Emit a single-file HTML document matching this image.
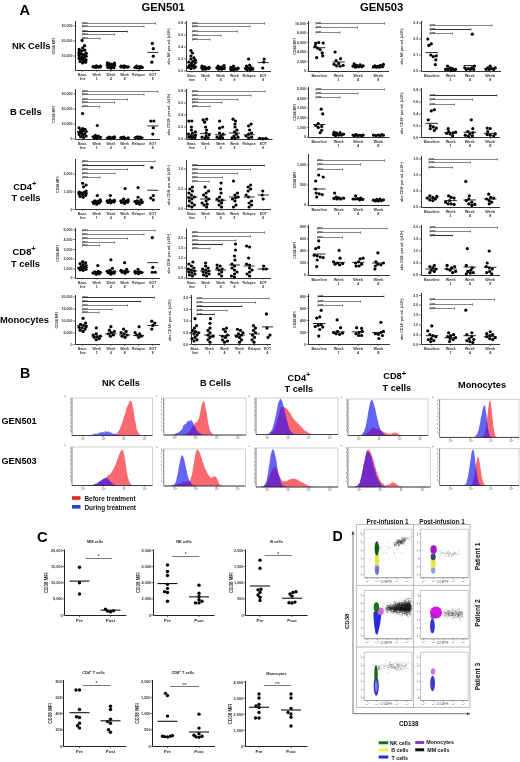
<!DOCTYPE html>
<html><head><meta charset="utf-8"><title>Figure</title>
<style>html,body{margin:0;padding:0;background:#fff;}svg{display:block;filter:blur(0.3px);}text{font-family:"Liberation Sans", sans-serif;}</style>
</head><body>
<svg width="520" height="762" viewBox="0 0 520 762" font-family='"Liberation Sans", sans-serif'>
<rect width="520" height="762" fill="#fff"/>
<text x="19.6" y="15.4" font-size="14.6" font-weight="bold" text-anchor="start" fill="#000">A</text>
<text x="163.2" y="11.4" font-size="11.3" font-weight="bold" text-anchor="middle" fill="#000">GEN501</text>
<text x="381.7" y="11.4" font-size="11.3" font-weight="bold" text-anchor="middle" fill="#000">GEN503</text>
<text x="31.2" y="48.7" font-size="9.4" font-weight="bold" text-anchor="middle" fill="#000">NK Cells</text>
<text x="25.8" y="114.8" font-size="9.4" font-weight="bold" text-anchor="middle" fill="#000">B Cells</text>
<text x="13.2" y="189.5" font-size="9.4" font-weight="bold" text-anchor="start" fill="#000">CD4<tspan font-size="7.5" dy="-3.6">+</tspan></text>
<text x="11.4" y="200.5" font-size="9.4" font-weight="bold" text-anchor="start" fill="#000">T cells</text>
<text x="12.6" y="254.9" font-size="9.4" font-weight="bold" text-anchor="start" fill="#000">CD8<tspan font-size="7.5" dy="-3.6">+</tspan></text>
<text x="10.9" y="266.5" font-size="9.4" font-weight="bold" text-anchor="start" fill="#000">T cells</text>
<text x="24.5" y="322.5" font-size="9.4" font-weight="bold" text-anchor="middle" fill="#000">Monocytes</text>
<line x1="75.5" y1="21" x2="75.5" y2="70.5" stroke="#333" stroke-width="1"/>
<line x1="75.5" y1="70.5" x2="160" y2="70.5" stroke="#333" stroke-width="1"/>
<line x1="73.4" y1="26" x2="75.4" y2="26" stroke="#333" stroke-width="0.7"/>
<text x="72.6" y="27.3" font-size="3.6" font-weight="bold" text-anchor="end" fill="#333">30,000</text>
<line x1="73.4" y1="41" x2="75.4" y2="41" stroke="#333" stroke-width="0.7"/>
<text x="72.6" y="42.3" font-size="3.6" font-weight="bold" text-anchor="end" fill="#333">20,000</text>
<line x1="73.4" y1="56" x2="75.4" y2="56" stroke="#333" stroke-width="0.7"/>
<text x="72.6" y="57.3" font-size="3.6" font-weight="bold" text-anchor="end" fill="#333">10,000</text>
<line x1="82.6" y1="70.4" x2="82.6" y2="71.9" stroke="#333" stroke-width="0.6"/>
<text x="82.6" y="76.2" font-size="3.4" font-weight="bold" text-anchor="middle" fill="#333">Base-</text>
<text x="82.6" y="80" font-size="3.4" font-weight="bold" text-anchor="middle" fill="#333">line</text>
<line x1="96.8" y1="70.4" x2="96.8" y2="71.9" stroke="#333" stroke-width="0.6"/>
<text x="96.8" y="76.2" font-size="3.4" font-weight="bold" text-anchor="middle" fill="#333">Week</text>
<text x="96.8" y="80" font-size="3.4" font-weight="bold" text-anchor="middle" fill="#333">1</text>
<line x1="110.9" y1="70.4" x2="110.9" y2="71.9" stroke="#333" stroke-width="0.6"/>
<text x="110.9" y="76.2" font-size="3.4" font-weight="bold" text-anchor="middle" fill="#333">Week</text>
<text x="110.9" y="80" font-size="3.4" font-weight="bold" text-anchor="middle" fill="#333">4</text>
<line x1="124.6" y1="70.4" x2="124.6" y2="71.9" stroke="#333" stroke-width="0.6"/>
<text x="124.6" y="76.2" font-size="3.4" font-weight="bold" text-anchor="middle" fill="#333">Week</text>
<text x="124.6" y="80" font-size="3.4" font-weight="bold" text-anchor="middle" fill="#333">8</text>
<line x1="138.6" y1="70.4" x2="138.6" y2="71.9" stroke="#333" stroke-width="0.6"/>
<text x="138.6" y="76.2" font-size="3.4" font-weight="bold" text-anchor="middle" fill="#333">Relapse</text>
<line x1="152.8" y1="70.4" x2="152.8" y2="71.9" stroke="#333" stroke-width="0.6"/>
<text x="152.8" y="76.2" font-size="3.4" font-weight="bold" text-anchor="middle" fill="#333">EOT</text>
<text x="152.8" y="80" font-size="3.4" font-weight="bold" text-anchor="middle" fill="#333">8</text>
<line x1="82.5" y1="23.5" x2="155.5" y2="23.5" stroke="#666" stroke-width="0.8"/>
<line x1="155.5" y1="22.3" x2="155.5" y2="24.7" stroke="#444" stroke-width="0.6"/>
<line x1="82.5" y1="22.3" x2="82.5" y2="24.7" stroke="#444" stroke-width="0.6"/>
<text x="82.8" y="25.1" font-size="3.2" font-weight="bold" text-anchor="start" fill="#333">****</text>
<line x1="82.5" y1="26.5" x2="144" y2="26.5" stroke="#666" stroke-width="0.8"/>
<line x1="144" y1="25.3" x2="144" y2="27.7" stroke="#444" stroke-width="0.6"/>
<line x1="82.5" y1="25.3" x2="82.5" y2="27.7" stroke="#444" stroke-width="0.6"/>
<text x="82.8" y="28.1" font-size="3.2" font-weight="bold" text-anchor="start" fill="#333">****</text>
<line x1="82.5" y1="31.5" x2="127.5" y2="31.5" stroke="#333" stroke-width="1.1"/>
<line x1="127.5" y1="30.3" x2="127.5" y2="32.7" stroke="#444" stroke-width="0.6"/>
<line x1="82.5" y1="30.3" x2="82.5" y2="32.7" stroke="#444" stroke-width="0.6"/>
<text x="82.8" y="33.1" font-size="3.2" font-weight="bold" text-anchor="start" fill="#333">****</text>
<line x1="82.5" y1="34.5" x2="114.5" y2="34.5" stroke="#666" stroke-width="0.8"/>
<line x1="114.5" y1="33.3" x2="114.5" y2="35.7" stroke="#444" stroke-width="0.6"/>
<line x1="82.5" y1="33.3" x2="82.5" y2="35.7" stroke="#444" stroke-width="0.6"/>
<text x="82.8" y="36.1" font-size="3.2" font-weight="bold" text-anchor="start" fill="#333">****</text>
<line x1="82.5" y1="38.5" x2="100" y2="38.5" stroke="#666" stroke-width="0.8"/>
<line x1="100" y1="37.3" x2="100" y2="39.7" stroke="#444" stroke-width="0.6"/>
<line x1="82.5" y1="37.3" x2="82.5" y2="39.7" stroke="#444" stroke-width="0.6"/>
<text x="82.8" y="40.1" font-size="3.2" font-weight="bold" text-anchor="start" fill="#333">****</text>
<circle cx="82.6" cy="62.9" r="1.6" fill="#000"/>
<circle cx="85.6" cy="62.15" r="1.6" fill="#000"/>
<circle cx="80.1" cy="61.4" r="1.6" fill="#000"/>
<circle cx="83.6" cy="60.65" r="1.6" fill="#000"/>
<circle cx="86.1" cy="59.9" r="1.6" fill="#000"/>
<circle cx="81.6" cy="59.15" r="1.6" fill="#000"/>
<circle cx="79.1" cy="58.4" r="1.6" fill="#000"/>
<circle cx="84.1" cy="57.65" r="1.6" fill="#000"/>
<circle cx="81.6" cy="56.9" r="1.6" fill="#000"/>
<circle cx="86.1" cy="56.15" r="1.6" fill="#000"/>
<circle cx="79.1" cy="55.4" r="1.6" fill="#000"/>
<circle cx="83.6" cy="54.65" r="1.6" fill="#000"/>
<circle cx="81.1" cy="53.9" r="1.6" fill="#000"/>
<circle cx="86.1" cy="53.15" r="1.6" fill="#000"/>
<circle cx="79.1" cy="52.4" r="1.6" fill="#000"/>
<circle cx="81.6" cy="50.9" r="1.6" fill="#000"/>
<circle cx="84.6" cy="50.15" r="1.6" fill="#000"/>
<circle cx="79.1" cy="49.4" r="1.6" fill="#000"/>
<circle cx="82.6" cy="47.9" r="1.6" fill="#000"/>
<circle cx="84.6" cy="45.65" r="1.6" fill="#000"/>
<circle cx="82.1" cy="40.4" r="1.6" fill="#000"/>
<line x1="77.1" y1="53.9" x2="88.1" y2="53.9" stroke="#111" stroke-width="0.9"/>
<circle cx="95.8" cy="67.4" r="1.6" fill="#000"/>
<circle cx="98.8" cy="67.1" r="1.6" fill="#000"/>
<circle cx="93.3" cy="66.95" r="1.6" fill="#000"/>
<circle cx="100.3" cy="66.8" r="1.6" fill="#000"/>
<circle cx="97.3" cy="66.65" r="1.6" fill="#000"/>
<circle cx="94.8" cy="66.65" r="1.6" fill="#000"/>
<circle cx="93.3" cy="66.5" r="1.6" fill="#000"/>
<circle cx="100.3" cy="66.2" r="1.6" fill="#000"/>
<circle cx="96.3" cy="65.9" r="1.6" fill="#000"/>
<line x1="91.3" y1="66.65" x2="102.3" y2="66.65" stroke="#111" stroke-width="0.9"/>
<circle cx="110.9" cy="68.15" r="1.6" fill="#000"/>
<circle cx="113.9" cy="67.7" r="1.6" fill="#000"/>
<circle cx="107.9" cy="67.4" r="1.6" fill="#000"/>
<circle cx="111.9" cy="66.65" r="1.6" fill="#000"/>
<circle cx="109.4" cy="65.9" r="1.6" fill="#000"/>
<circle cx="114.4" cy="65.15" r="1.6" fill="#000"/>
<circle cx="107.4" cy="64.7" r="1.6" fill="#000"/>
<circle cx="111.9" cy="64.4" r="1.6" fill="#000"/>
<circle cx="109.4" cy="63.65" r="1.6" fill="#000"/>
<circle cx="114.4" cy="63.2" r="1.6" fill="#000"/>
<circle cx="107.4" cy="62.9" r="1.6" fill="#000"/>
<line x1="105.4" y1="65.9" x2="116.4" y2="65.9" stroke="#111" stroke-width="0.9"/>
<circle cx="124.1" cy="67.4" r="1.6" fill="#000"/>
<circle cx="127.1" cy="67.1" r="1.6" fill="#000"/>
<circle cx="121.1" cy="66.95" r="1.6" fill="#000"/>
<circle cx="128.1" cy="66.8" r="1.6" fill="#000"/>
<circle cx="122.6" cy="66.65" r="1.6" fill="#000"/>
<circle cx="125.6" cy="66.5" r="1.6" fill="#000"/>
<circle cx="121.1" cy="66.2" r="1.6" fill="#000"/>
<circle cx="124.1" cy="65.9" r="1.6" fill="#000"/>
<line x1="119.1" y1="66.65" x2="130.1" y2="66.65" stroke="#111" stroke-width="0.9"/>
<circle cx="139.6" cy="68.15" r="1.6" fill="#000"/>
<circle cx="136.6" cy="67.7" r="1.6" fill="#000"/>
<circle cx="142.1" cy="67.4" r="1.6" fill="#000"/>
<circle cx="135.1" cy="67.4" r="1.6" fill="#000"/>
<circle cx="138.6" cy="66.95" r="1.6" fill="#000"/>
<circle cx="140.6" cy="66.65" r="1.6" fill="#000"/>
<circle cx="136.6" cy="66.2" r="1.6" fill="#000"/>
<line x1="133.1" y1="67.4" x2="144.1" y2="67.4" stroke="#111" stroke-width="0.9"/>
<circle cx="151.8" cy="62.15" r="1.6" fill="#000"/>
<circle cx="153.3" cy="56.15" r="1.6" fill="#000"/>
<circle cx="153.3" cy="48.65" r="1.6" fill="#000"/>
<circle cx="152.3" cy="43.4" r="1.6" fill="#000"/>
<line x1="147.3" y1="52.4" x2="158.3" y2="52.4" stroke="#111" stroke-width="0.9"/>
<text x="55.4" y="46.2" font-size="3.6" font-weight="bold" text-anchor="middle" fill="#333" transform="rotate(-90 55.4 46.2)">CD38 MFI</text>
<line x1="186.5" y1="21" x2="186.5" y2="71.5" stroke="#333" stroke-width="1"/>
<line x1="186.5" y1="71.5" x2="271" y2="71.5" stroke="#333" stroke-width="1"/>
<line x1="184" y1="23" x2="186" y2="23" stroke="#333" stroke-width="0.7"/>
<text x="183.2" y="24.3" font-size="3.6" font-weight="bold" text-anchor="end" fill="#333">0.8</text>
<line x1="184" y1="35" x2="186" y2="35" stroke="#333" stroke-width="0.7"/>
<text x="183.2" y="36.3" font-size="3.6" font-weight="bold" text-anchor="end" fill="#333">0.6</text>
<line x1="184" y1="47" x2="186" y2="47" stroke="#333" stroke-width="0.7"/>
<text x="183.2" y="48.3" font-size="3.6" font-weight="bold" text-anchor="end" fill="#333">0.4</text>
<line x1="184" y1="59" x2="186" y2="59" stroke="#333" stroke-width="0.7"/>
<text x="183.2" y="60.3" font-size="3.6" font-weight="bold" text-anchor="end" fill="#333">0.2</text>
<line x1="184" y1="71" x2="186" y2="71" stroke="#333" stroke-width="0.7"/>
<text x="183.2" y="72.3" font-size="3.6" font-weight="bold" text-anchor="end" fill="#333">0.0</text>
<line x1="191.9" y1="71" x2="191.9" y2="72.5" stroke="#333" stroke-width="0.6"/>
<text x="191.9" y="76.8" font-size="3.4" font-weight="bold" text-anchor="middle" fill="#333">Base-</text>
<text x="191.9" y="80.6" font-size="3.4" font-weight="bold" text-anchor="middle" fill="#333">line</text>
<line x1="205.6" y1="71" x2="205.6" y2="72.5" stroke="#333" stroke-width="0.6"/>
<text x="205.6" y="76.8" font-size="3.4" font-weight="bold" text-anchor="middle" fill="#333">Week</text>
<text x="205.6" y="80.6" font-size="3.4" font-weight="bold" text-anchor="middle" fill="#333">1</text>
<line x1="220.6" y1="71" x2="220.6" y2="72.5" stroke="#333" stroke-width="0.6"/>
<text x="220.6" y="76.8" font-size="3.4" font-weight="bold" text-anchor="middle" fill="#333">Week</text>
<text x="220.6" y="80.6" font-size="3.4" font-weight="bold" text-anchor="middle" fill="#333">4</text>
<line x1="234.5" y1="71" x2="234.5" y2="72.5" stroke="#333" stroke-width="0.6"/>
<text x="234.5" y="76.8" font-size="3.4" font-weight="bold" text-anchor="middle" fill="#333">Week</text>
<text x="234.5" y="80.6" font-size="3.4" font-weight="bold" text-anchor="middle" fill="#333">8</text>
<line x1="249.1" y1="71" x2="249.1" y2="72.5" stroke="#333" stroke-width="0.6"/>
<text x="249.1" y="76.8" font-size="3.4" font-weight="bold" text-anchor="middle" fill="#333">Relapse</text>
<line x1="263.2" y1="71" x2="263.2" y2="72.5" stroke="#333" stroke-width="0.6"/>
<text x="263.2" y="76.8" font-size="3.4" font-weight="bold" text-anchor="middle" fill="#333">EOT</text>
<text x="263.2" y="80.6" font-size="3.4" font-weight="bold" text-anchor="middle" fill="#333">8</text>
<line x1="192.5" y1="23.5" x2="264.5" y2="23.5" stroke="#666" stroke-width="0.8"/>
<line x1="264.5" y1="22.3" x2="264.5" y2="24.7" stroke="#444" stroke-width="0.6"/>
<line x1="192.5" y1="22.3" x2="192.5" y2="24.7" stroke="#444" stroke-width="0.6"/>
<text x="192.8" y="25.1" font-size="3.2" font-weight="bold" text-anchor="start" fill="#333">****</text>
<line x1="192.5" y1="26.5" x2="250" y2="26.5" stroke="#666" stroke-width="0.8"/>
<line x1="250" y1="25.3" x2="250" y2="27.7" stroke="#444" stroke-width="0.6"/>
<line x1="192.5" y1="25.3" x2="192.5" y2="27.7" stroke="#444" stroke-width="0.6"/>
<text x="192.8" y="28.1" font-size="3.2" font-weight="bold" text-anchor="start" fill="#333">****</text>
<line x1="192.5" y1="31.5" x2="237.5" y2="31.5" stroke="#666" stroke-width="0.8"/>
<line x1="237.5" y1="30.3" x2="237.5" y2="32.7" stroke="#444" stroke-width="0.6"/>
<line x1="192.5" y1="30.3" x2="192.5" y2="32.7" stroke="#444" stroke-width="0.6"/>
<text x="192.8" y="33.1" font-size="3.2" font-weight="bold" text-anchor="start" fill="#333">****</text>
<line x1="192.5" y1="35.5" x2="221" y2="35.5" stroke="#666" stroke-width="0.8"/>
<line x1="221" y1="34.3" x2="221" y2="36.7" stroke="#444" stroke-width="0.6"/>
<line x1="192.5" y1="34.3" x2="192.5" y2="36.7" stroke="#444" stroke-width="0.6"/>
<text x="192.8" y="37.1" font-size="3.2" font-weight="bold" text-anchor="start" fill="#333">****</text>
<line x1="192.5" y1="39.5" x2="210" y2="39.5" stroke="#666" stroke-width="0.8"/>
<line x1="210" y1="38.3" x2="210" y2="40.7" stroke="#444" stroke-width="0.6"/>
<line x1="192.5" y1="38.3" x2="192.5" y2="40.7" stroke="#444" stroke-width="0.6"/>
<text x="192.8" y="41.1" font-size="3.2" font-weight="bold" text-anchor="start" fill="#333">****</text>
<circle cx="190.9" cy="68.6" r="1.6" fill="#000"/>
<circle cx="193.9" cy="68" r="1.6" fill="#000"/>
<circle cx="188.4" cy="67.4" r="1.6" fill="#000"/>
<circle cx="195.4" cy="66.8" r="1.6" fill="#000"/>
<circle cx="191.9" cy="66.2" r="1.6" fill="#000"/>
<circle cx="189.4" cy="65.6" r="1.6" fill="#000"/>
<circle cx="193.9" cy="65" r="1.6" fill="#000"/>
<circle cx="191.4" cy="63.8" r="1.6" fill="#000"/>
<circle cx="195.4" cy="62.6" r="1.6" fill="#000"/>
<circle cx="188.9" cy="62" r="1.6" fill="#000"/>
<circle cx="192.9" cy="61.4" r="1.6" fill="#000"/>
<circle cx="195.4" cy="60.2" r="1.6" fill="#000"/>
<circle cx="190.9" cy="59" r="1.6" fill="#000"/>
<circle cx="193.9" cy="57.8" r="1.6" fill="#000"/>
<circle cx="190.9" cy="56" r="1.6" fill="#000"/>
<circle cx="192.4" cy="53" r="1.6" fill="#000"/>
<circle cx="190.9" cy="50.6" r="1.6" fill="#000"/>
<line x1="186.4" y1="62.6" x2="197.4" y2="62.6" stroke="#111" stroke-width="0.9"/>
<circle cx="205.6" cy="69.2" r="1.6" fill="#000"/>
<circle cx="202.6" cy="69.2" r="1.6" fill="#000"/>
<circle cx="208.6" cy="68.6" r="1.6" fill="#000"/>
<circle cx="204.1" cy="68.6" r="1.6" fill="#000"/>
<circle cx="206.6" cy="68" r="1.6" fill="#000"/>
<circle cx="202.1" cy="68" r="1.6" fill="#000"/>
<circle cx="209.1" cy="67.4" r="1.6" fill="#000"/>
<circle cx="204.6" cy="66.8" r="1.6" fill="#000"/>
<circle cx="202.1" cy="66.2" r="1.6" fill="#000"/>
<line x1="200.1" y1="68" x2="211.1" y2="68" stroke="#111" stroke-width="0.9"/>
<circle cx="221.6" cy="69.2" r="1.6" fill="#000"/>
<circle cx="218.6" cy="69.2" r="1.6" fill="#000"/>
<circle cx="224.1" cy="68.6" r="1.6" fill="#000"/>
<circle cx="217.1" cy="68" r="1.6" fill="#000"/>
<circle cx="220.1" cy="67.4" r="1.6" fill="#000"/>
<circle cx="222.6" cy="66.8" r="1.6" fill="#000"/>
<circle cx="218.1" cy="66.2" r="1.6" fill="#000"/>
<circle cx="224.1" cy="65.6" r="1.6" fill="#000"/>
<line x1="215.1" y1="67.4" x2="226.1" y2="67.4" stroke="#111" stroke-width="0.9"/>
<circle cx="234" cy="69.8" r="1.6" fill="#000"/>
<circle cx="231" cy="69.8" r="1.6" fill="#000"/>
<circle cx="237" cy="69.2" r="1.6" fill="#000"/>
<circle cx="232.5" cy="69.2" r="1.6" fill="#000"/>
<circle cx="235" cy="68.6" r="1.6" fill="#000"/>
<circle cx="238" cy="68" r="1.6" fill="#000"/>
<circle cx="231" cy="67.4" r="1.6" fill="#000"/>
<circle cx="233.5" cy="66.2" r="1.6" fill="#000"/>
<line x1="229" y1="68.6" x2="240" y2="68.6" stroke="#111" stroke-width="0.9"/>
<circle cx="250.1" cy="69.8" r="1.6" fill="#000"/>
<circle cx="247.1" cy="69.8" r="1.6" fill="#000"/>
<circle cx="252.6" cy="69.2" r="1.6" fill="#000"/>
<circle cx="245.6" cy="68.6" r="1.6" fill="#000"/>
<circle cx="248.6" cy="68" r="1.6" fill="#000"/>
<circle cx="251.1" cy="67.4" r="1.6" fill="#000"/>
<circle cx="246.6" cy="66.2" r="1.6" fill="#000"/>
<circle cx="249.6" cy="65" r="1.6" fill="#000"/>
<circle cx="248.6" cy="59" r="1.6" fill="#000"/>
<line x1="243.6" y1="68" x2="254.6" y2="68" stroke="#111" stroke-width="0.9"/>
<circle cx="262.7" cy="68" r="1.6" fill="#000"/>
<circle cx="263.7" cy="62" r="1.6" fill="#000"/>
<circle cx="264.2" cy="59" r="1.6" fill="#000"/>
<line x1="257.7" y1="62.6" x2="268.7" y2="62.6" stroke="#111" stroke-width="0.9"/>
<text x="170" y="46.5" font-size="3.6" font-weight="bold" text-anchor="middle" fill="#333" transform="rotate(-90 170 46.5)">abs NK per mL (x10<tspan font-size="2.4" dy="-1.2">9</tspan><tspan dy="1.2">)</tspan></text>
<line x1="308.5" y1="21" x2="308.5" y2="71.5" stroke="#333" stroke-width="1"/>
<line x1="308.5" y1="71.5" x2="389" y2="71.5" stroke="#333" stroke-width="1"/>
<line x1="306.8" y1="23.5" x2="308.8" y2="23.5" stroke="#333" stroke-width="0.7"/>
<text x="306" y="24.8" font-size="3.6" font-weight="bold" text-anchor="end" fill="#333">10,000</text>
<line x1="306.8" y1="33" x2="308.8" y2="33" stroke="#333" stroke-width="0.7"/>
<text x="306" y="34.3" font-size="3.6" font-weight="bold" text-anchor="end" fill="#333">8,000</text>
<line x1="306.8" y1="42.5" x2="308.8" y2="42.5" stroke="#333" stroke-width="0.7"/>
<text x="306" y="43.8" font-size="3.6" font-weight="bold" text-anchor="end" fill="#333">6,000</text>
<line x1="306.8" y1="52" x2="308.8" y2="52" stroke="#333" stroke-width="0.7"/>
<text x="306" y="53.3" font-size="3.6" font-weight="bold" text-anchor="end" fill="#333">4,000</text>
<line x1="306.8" y1="61.5" x2="308.8" y2="61.5" stroke="#333" stroke-width="0.7"/>
<text x="306" y="62.8" font-size="3.6" font-weight="bold" text-anchor="end" fill="#333">2,000</text>
<line x1="306.8" y1="71" x2="308.8" y2="71" stroke="#333" stroke-width="0.7"/>
<text x="306" y="72.3" font-size="3.6" font-weight="bold" text-anchor="end" fill="#333">0</text>
<line x1="319.2" y1="71" x2="319.2" y2="72.5" stroke="#333" stroke-width="0.6"/>
<text x="319.2" y="76.8" font-size="3.8" font-weight="bold" text-anchor="middle" fill="#333">Baseline</text>
<line x1="338.6" y1="71" x2="338.6" y2="72.5" stroke="#333" stroke-width="0.6"/>
<text x="338.6" y="76.8" font-size="3.8" font-weight="bold" text-anchor="middle" fill="#333">Week</text>
<text x="338.6" y="80.6" font-size="3.8" font-weight="bold" text-anchor="middle" fill="#333">1</text>
<line x1="358.1" y1="71" x2="358.1" y2="72.5" stroke="#333" stroke-width="0.6"/>
<text x="358.1" y="76.8" font-size="3.8" font-weight="bold" text-anchor="middle" fill="#333">Week</text>
<text x="358.1" y="80.6" font-size="3.8" font-weight="bold" text-anchor="middle" fill="#333">4</text>
<line x1="378.4" y1="71" x2="378.4" y2="72.5" stroke="#333" stroke-width="0.6"/>
<text x="378.4" y="76.8" font-size="3.8" font-weight="bold" text-anchor="middle" fill="#333">Week</text>
<text x="378.4" y="80.6" font-size="3.8" font-weight="bold" text-anchor="middle" fill="#333">8</text>
<line x1="316" y1="23.5" x2="384.5" y2="23.5" stroke="#666" stroke-width="0.8"/>
<line x1="384.5" y1="22.3" x2="384.5" y2="24.7" stroke="#444" stroke-width="0.6"/>
<line x1="316" y1="22.3" x2="316" y2="24.7" stroke="#444" stroke-width="0.6"/>
<text x="316.3" y="25.1" font-size="3.2" font-weight="bold" text-anchor="start" fill="#333">****</text>
<line x1="316" y1="27.5" x2="357.5" y2="27.5" stroke="#666" stroke-width="0.8"/>
<line x1="357.5" y1="26.3" x2="357.5" y2="28.7" stroke="#444" stroke-width="0.6"/>
<line x1="316" y1="26.3" x2="316" y2="28.7" stroke="#444" stroke-width="0.6"/>
<text x="316.3" y="29.1" font-size="3.2" font-weight="bold" text-anchor="start" fill="#333">****</text>
<line x1="316" y1="32.5" x2="340" y2="32.5" stroke="#666" stroke-width="0.8"/>
<line x1="340" y1="31.3" x2="340" y2="33.7" stroke="#444" stroke-width="0.6"/>
<line x1="316" y1="31.3" x2="316" y2="33.7" stroke="#444" stroke-width="0.6"/>
<text x="316.3" y="34.1" font-size="3.2" font-weight="bold" text-anchor="start" fill="#333">****</text>
<circle cx="316.7" cy="57.7" r="1.6" fill="#000"/>
<circle cx="322.7" cy="55.8" r="1.6" fill="#000"/>
<circle cx="322.2" cy="52.95" r="1.6" fill="#000"/>
<circle cx="320.2" cy="49.62" r="1.6" fill="#000"/>
<circle cx="317.7" cy="48.2" r="1.6" fill="#000"/>
<circle cx="315.2" cy="46.3" r="1.6" fill="#000"/>
<circle cx="315.7" cy="43.45" r="1.6" fill="#000"/>
<circle cx="323.2" cy="42.98" r="1.6" fill="#000"/>
<circle cx="318.7" cy="42.5" r="1.6" fill="#000"/>
<line x1="312.9" y1="47.73" x2="325.5" y2="47.73" stroke="#111" stroke-width="0.9"/>
<circle cx="340.1" cy="66.25" r="1.6" fill="#000"/>
<circle cx="336.6" cy="65.78" r="1.6" fill="#000"/>
<circle cx="343.1" cy="65.3" r="1.6" fill="#000"/>
<circle cx="334.1" cy="64.35" r="1.6" fill="#000"/>
<circle cx="338.6" cy="63.4" r="1.6" fill="#000"/>
<circle cx="336.1" cy="60.55" r="1.6" fill="#000"/>
<circle cx="340.6" cy="58.65" r="1.6" fill="#000"/>
<circle cx="335.1" cy="52" r="1.6" fill="#000"/>
<line x1="332.3" y1="61.98" x2="344.9" y2="61.98" stroke="#111" stroke-width="0.9"/>
<circle cx="355.6" cy="67.2" r="1.6" fill="#000"/>
<circle cx="358.6" cy="66.72" r="1.6" fill="#000"/>
<circle cx="361.6" cy="66.72" r="1.6" fill="#000"/>
<circle cx="353.1" cy="66.25" r="1.6" fill="#000"/>
<circle cx="363.1" cy="65.78" r="1.6" fill="#000"/>
<circle cx="356.6" cy="65.3" r="1.6" fill="#000"/>
<circle cx="360.1" cy="64.83" r="1.6" fill="#000"/>
<circle cx="354.1" cy="63.88" r="1.6" fill="#000"/>
<line x1="351.8" y1="65.78" x2="364.4" y2="65.78" stroke="#111" stroke-width="0.9"/>
<circle cx="376.4" cy="67.2" r="1.6" fill="#000"/>
<circle cx="379.4" cy="67.2" r="1.6" fill="#000"/>
<circle cx="373.4" cy="66.96" r="1.6" fill="#000"/>
<circle cx="382.4" cy="66.72" r="1.6" fill="#000"/>
<circle cx="377.9" cy="66.25" r="1.6" fill="#000"/>
<circle cx="374.9" cy="65.78" r="1.6" fill="#000"/>
<circle cx="380.4" cy="65.3" r="1.6" fill="#000"/>
<circle cx="383.4" cy="64.35" r="1.6" fill="#000"/>
<line x1="372.1" y1="66.25" x2="384.7" y2="66.25" stroke="#111" stroke-width="0.9"/>
<text x="295.5" y="46.5" font-size="3.6" font-weight="bold" text-anchor="middle" fill="#333" transform="rotate(-90 295.5 46.5)">CD38 MFI</text>
<line x1="421.5" y1="21" x2="421.5" y2="71.5" stroke="#333" stroke-width="1"/>
<line x1="421.5" y1="71.5" x2="501" y2="71.5" stroke="#333" stroke-width="1"/>
<line x1="419" y1="23" x2="421" y2="23" stroke="#333" stroke-width="0.7"/>
<text x="418.2" y="24.3" font-size="3.6" font-weight="bold" text-anchor="end" fill="#333">0.3</text>
<line x1="419" y1="39" x2="421" y2="39" stroke="#333" stroke-width="0.7"/>
<text x="418.2" y="40.3" font-size="3.6" font-weight="bold" text-anchor="end" fill="#333">0.2</text>
<line x1="419" y1="55" x2="421" y2="55" stroke="#333" stroke-width="0.7"/>
<text x="418.2" y="56.3" font-size="3.6" font-weight="bold" text-anchor="end" fill="#333">0.1</text>
<line x1="419" y1="71" x2="421" y2="71" stroke="#333" stroke-width="0.7"/>
<text x="418.2" y="72.3" font-size="3.6" font-weight="bold" text-anchor="end" fill="#333">0.0</text>
<line x1="431.8" y1="71" x2="431.8" y2="72.5" stroke="#333" stroke-width="0.6"/>
<text x="431.8" y="76.8" font-size="3.8" font-weight="bold" text-anchor="middle" fill="#333">Baseline</text>
<line x1="450.6" y1="71" x2="450.6" y2="72.5" stroke="#333" stroke-width="0.6"/>
<text x="450.6" y="76.8" font-size="3.8" font-weight="bold" text-anchor="middle" fill="#333">Week</text>
<text x="450.6" y="80.6" font-size="3.8" font-weight="bold" text-anchor="middle" fill="#333">1</text>
<line x1="469.8" y1="71" x2="469.8" y2="72.5" stroke="#333" stroke-width="0.6"/>
<text x="469.8" y="76.8" font-size="3.8" font-weight="bold" text-anchor="middle" fill="#333">Week</text>
<text x="469.8" y="80.6" font-size="3.8" font-weight="bold" text-anchor="middle" fill="#333">4</text>
<line x1="490.2" y1="71" x2="490.2" y2="72.5" stroke="#333" stroke-width="0.6"/>
<text x="490.2" y="76.8" font-size="3.8" font-weight="bold" text-anchor="middle" fill="#333">Week</text>
<text x="490.2" y="80.6" font-size="3.8" font-weight="bold" text-anchor="middle" fill="#333">8</text>
<line x1="430" y1="25.5" x2="492" y2="25.5" stroke="#666" stroke-width="0.8"/>
<line x1="492" y1="24.3" x2="492" y2="26.7" stroke="#444" stroke-width="0.6"/>
<line x1="430" y1="24.3" x2="430" y2="26.7" stroke="#444" stroke-width="0.6"/>
<text x="430.3" y="27.1" font-size="3.2" font-weight="bold" text-anchor="start" fill="#333">****</text>
<line x1="430" y1="29.5" x2="471" y2="29.5" stroke="#333" stroke-width="1.1"/>
<line x1="471" y1="28.3" x2="471" y2="30.7" stroke="#444" stroke-width="0.6"/>
<line x1="430" y1="28.3" x2="430" y2="30.7" stroke="#444" stroke-width="0.6"/>
<text x="430.3" y="31.1" font-size="3.2" font-weight="bold" text-anchor="start" fill="#333">****</text>
<line x1="430" y1="33.5" x2="452.5" y2="33.5" stroke="#666" stroke-width="0.8"/>
<line x1="452.5" y1="32.3" x2="452.5" y2="34.7" stroke="#444" stroke-width="0.6"/>
<line x1="430" y1="32.3" x2="430" y2="34.7" stroke="#444" stroke-width="0.6"/>
<text x="430.3" y="35.1" font-size="3.2" font-weight="bold" text-anchor="start" fill="#333">****</text>
<circle cx="435.3" cy="64.6" r="1.6" fill="#000"/>
<circle cx="435.8" cy="59.8" r="1.6" fill="#000"/>
<circle cx="433.3" cy="56.6" r="1.6" fill="#000"/>
<circle cx="436.3" cy="55.8" r="1.6" fill="#000"/>
<circle cx="430.8" cy="55" r="1.6" fill="#000"/>
<circle cx="428.8" cy="45.4" r="1.6" fill="#000"/>
<circle cx="431.3" cy="43.8" r="1.6" fill="#000"/>
<circle cx="427.8" cy="39" r="1.6" fill="#000"/>
<line x1="425.5" y1="52.6" x2="438.1" y2="52.6" stroke="#111" stroke-width="0.9"/>
<circle cx="454.1" cy="70.2" r="1.6" fill="#000"/>
<circle cx="451.1" cy="70.2" r="1.6" fill="#000"/>
<circle cx="448.1" cy="69.4" r="1.6" fill="#000"/>
<circle cx="445.6" cy="69.4" r="1.6" fill="#000"/>
<circle cx="455.6" cy="69.4" r="1.6" fill="#000"/>
<circle cx="452.6" cy="68.6" r="1.6" fill="#000"/>
<circle cx="450.1" cy="67.8" r="1.6" fill="#000"/>
<circle cx="447.6" cy="66.2" r="1.6" fill="#000"/>
<line x1="444.3" y1="68.6" x2="456.9" y2="68.6" stroke="#111" stroke-width="0.9"/>
<circle cx="473.8" cy="69.4" r="1.6" fill="#000"/>
<circle cx="466.3" cy="69.4" r="1.6" fill="#000"/>
<circle cx="470.3" cy="69.4" r="1.6" fill="#000"/>
<circle cx="468.3" cy="68.6" r="1.6" fill="#000"/>
<circle cx="464.8" cy="67.8" r="1.6" fill="#000"/>
<circle cx="471.8" cy="67.8" r="1.6" fill="#000"/>
<circle cx="474.3" cy="66.2" r="1.6" fill="#000"/>
<circle cx="472.3" cy="34.2" r="1.6" fill="#000"/>
<line x1="463.5" y1="65.56" x2="476.1" y2="65.56" stroke="#111" stroke-width="0.9"/>
<circle cx="493.7" cy="69.4" r="1.6" fill="#000"/>
<circle cx="489.2" cy="69.4" r="1.6" fill="#000"/>
<circle cx="486.2" cy="69.4" r="1.6" fill="#000"/>
<circle cx="491.7" cy="68.6" r="1.6" fill="#000"/>
<circle cx="495.2" cy="67.8" r="1.6" fill="#000"/>
<circle cx="487.7" cy="67.8" r="1.6" fill="#000"/>
<circle cx="490.2" cy="66.2" r="1.6" fill="#000"/>
<line x1="483.9" y1="68.6" x2="496.5" y2="68.6" stroke="#111" stroke-width="0.9"/>
<text x="403" y="46.5" font-size="3.6" font-weight="bold" text-anchor="middle" fill="#333" transform="rotate(-90 403 46.5)">abs NK per mL (x10<tspan font-size="2.4" dy="-1.2">9</tspan><tspan dy="1.2">)</tspan></text>
<line x1="75.5" y1="89" x2="75.5" y2="139.5" stroke="#333" stroke-width="1"/>
<line x1="75.5" y1="139.5" x2="160" y2="139.5" stroke="#333" stroke-width="1"/>
<line x1="73.4" y1="94" x2="75.4" y2="94" stroke="#333" stroke-width="0.7"/>
<text x="72.6" y="95.3" font-size="3.6" font-weight="bold" text-anchor="end" fill="#333">30,000</text>
<line x1="73.4" y1="109" x2="75.4" y2="109" stroke="#333" stroke-width="0.7"/>
<text x="72.6" y="110.3" font-size="3.6" font-weight="bold" text-anchor="end" fill="#333">20,000</text>
<line x1="73.4" y1="124" x2="75.4" y2="124" stroke="#333" stroke-width="0.7"/>
<text x="72.6" y="125.3" font-size="3.6" font-weight="bold" text-anchor="end" fill="#333">10,000</text>
<line x1="73.4" y1="139" x2="75.4" y2="139" stroke="#333" stroke-width="0.7"/>
<text x="72.6" y="140.3" font-size="3.6" font-weight="bold" text-anchor="end" fill="#333">0</text>
<line x1="82.6" y1="139" x2="82.6" y2="140.5" stroke="#333" stroke-width="0.6"/>
<text x="82.6" y="144.8" font-size="3.4" font-weight="bold" text-anchor="middle" fill="#333">Base-</text>
<text x="82.6" y="148.6" font-size="3.4" font-weight="bold" text-anchor="middle" fill="#333">line</text>
<line x1="96.8" y1="139" x2="96.8" y2="140.5" stroke="#333" stroke-width="0.6"/>
<text x="96.8" y="144.8" font-size="3.4" font-weight="bold" text-anchor="middle" fill="#333">Week</text>
<text x="96.8" y="148.6" font-size="3.4" font-weight="bold" text-anchor="middle" fill="#333">1</text>
<line x1="110.9" y1="139" x2="110.9" y2="140.5" stroke="#333" stroke-width="0.6"/>
<text x="110.9" y="144.8" font-size="3.4" font-weight="bold" text-anchor="middle" fill="#333">Week</text>
<text x="110.9" y="148.6" font-size="3.4" font-weight="bold" text-anchor="middle" fill="#333">4</text>
<line x1="124.6" y1="139" x2="124.6" y2="140.5" stroke="#333" stroke-width="0.6"/>
<text x="124.6" y="144.8" font-size="3.4" font-weight="bold" text-anchor="middle" fill="#333">Week</text>
<text x="124.6" y="148.6" font-size="3.4" font-weight="bold" text-anchor="middle" fill="#333">8</text>
<line x1="138.6" y1="139" x2="138.6" y2="140.5" stroke="#333" stroke-width="0.6"/>
<text x="138.6" y="144.8" font-size="3.4" font-weight="bold" text-anchor="middle" fill="#333">Relapse</text>
<line x1="152.8" y1="139" x2="152.8" y2="140.5" stroke="#333" stroke-width="0.6"/>
<text x="152.8" y="144.8" font-size="3.4" font-weight="bold" text-anchor="middle" fill="#333">EOT</text>
<text x="152.8" y="148.6" font-size="3.4" font-weight="bold" text-anchor="middle" fill="#333">8</text>
<line x1="82.5" y1="91.5" x2="158" y2="91.5" stroke="#666" stroke-width="0.8"/>
<line x1="158" y1="90.3" x2="158" y2="92.7" stroke="#444" stroke-width="0.6"/>
<line x1="82.5" y1="90.3" x2="82.5" y2="92.7" stroke="#444" stroke-width="0.6"/>
<text x="82.8" y="93.1" font-size="3.2" font-weight="bold" text-anchor="start" fill="#333">****</text>
<line x1="82.5" y1="94.5" x2="144" y2="94.5" stroke="#666" stroke-width="0.8"/>
<line x1="144" y1="93.3" x2="144" y2="95.7" stroke="#444" stroke-width="0.6"/>
<line x1="82.5" y1="93.3" x2="82.5" y2="95.7" stroke="#444" stroke-width="0.6"/>
<text x="82.8" y="96.1" font-size="3.2" font-weight="bold" text-anchor="start" fill="#333">****</text>
<line x1="82.5" y1="99.5" x2="127.5" y2="99.5" stroke="#666" stroke-width="0.8"/>
<line x1="127.5" y1="98.3" x2="127.5" y2="100.7" stroke="#444" stroke-width="0.6"/>
<line x1="82.5" y1="98.3" x2="82.5" y2="100.7" stroke="#444" stroke-width="0.6"/>
<text x="82.8" y="101.1" font-size="3.2" font-weight="bold" text-anchor="start" fill="#333">****</text>
<line x1="82.5" y1="102.5" x2="114.5" y2="102.5" stroke="#666" stroke-width="0.8"/>
<line x1="114.5" y1="101.3" x2="114.5" y2="103.7" stroke="#444" stroke-width="0.6"/>
<line x1="82.5" y1="101.3" x2="82.5" y2="103.7" stroke="#444" stroke-width="0.6"/>
<text x="82.8" y="104.1" font-size="3.2" font-weight="bold" text-anchor="start" fill="#333">****</text>
<line x1="82.5" y1="106.5" x2="99.5" y2="106.5" stroke="#666" stroke-width="0.8"/>
<line x1="99.5" y1="105.3" x2="99.5" y2="107.7" stroke="#444" stroke-width="0.6"/>
<line x1="82.5" y1="105.3" x2="82.5" y2="107.7" stroke="#444" stroke-width="0.6"/>
<text x="82.8" y="108.1" font-size="3.2" font-weight="bold" text-anchor="start" fill="#333">****</text>
<circle cx="83.6" cy="137.5" r="1.6" fill="#000"/>
<circle cx="80.6" cy="136.75" r="1.6" fill="#000"/>
<circle cx="86.1" cy="136" r="1.6" fill="#000"/>
<circle cx="82.6" cy="135.25" r="1.6" fill="#000"/>
<circle cx="79.1" cy="134.5" r="1.6" fill="#000"/>
<circle cx="84.6" cy="133.75" r="1.6" fill="#000"/>
<circle cx="81.6" cy="133" r="1.6" fill="#000"/>
<circle cx="79.1" cy="132.25" r="1.6" fill="#000"/>
<circle cx="86.1" cy="131.5" r="1.6" fill="#000"/>
<circle cx="83.1" cy="130.75" r="1.6" fill="#000"/>
<circle cx="80.6" cy="130" r="1.6" fill="#000"/>
<circle cx="85.1" cy="129.25" r="1.6" fill="#000"/>
<circle cx="82.6" cy="128.5" r="1.6" fill="#000"/>
<circle cx="79.1" cy="127.75" r="1.6" fill="#000"/>
<circle cx="82.6" cy="113.5" r="1.6" fill="#000"/>
<line x1="77.1" y1="131.5" x2="88.1" y2="131.5" stroke="#111" stroke-width="0.9"/>
<circle cx="97.3" cy="138.25" r="1.6" fill="#000"/>
<circle cx="94.3" cy="137.8" r="1.6" fill="#000"/>
<circle cx="100.3" cy="137.5" r="1.6" fill="#000"/>
<circle cx="96.3" cy="137.2" r="1.6" fill="#000"/>
<circle cx="93.3" cy="136.75" r="1.6" fill="#000"/>
<circle cx="98.3" cy="136" r="1.6" fill="#000"/>
<circle cx="95.3" cy="135.25" r="1.6" fill="#000"/>
<circle cx="97.3" cy="125.5" r="1.6" fill="#000"/>
<line x1="91.3" y1="136.75" x2="102.3" y2="136.75" stroke="#111" stroke-width="0.9"/>
<circle cx="110.9" cy="138.25" r="1.6" fill="#000"/>
<circle cx="113.9" cy="138.1" r="1.6" fill="#000"/>
<circle cx="107.9" cy="137.8" r="1.6" fill="#000"/>
<circle cx="112.4" cy="137.5" r="1.6" fill="#000"/>
<circle cx="109.4" cy="137.2" r="1.6" fill="#000"/>
<circle cx="114.4" cy="136.75" r="1.6" fill="#000"/>
<line x1="105.4" y1="137.8" x2="116.4" y2="137.8" stroke="#111" stroke-width="0.9"/>
<circle cx="125.1" cy="138.25" r="1.6" fill="#000"/>
<circle cx="122.1" cy="138.1" r="1.6" fill="#000"/>
<circle cx="128.1" cy="137.8" r="1.6" fill="#000"/>
<circle cx="121.1" cy="137.5" r="1.6" fill="#000"/>
<circle cx="123.6" cy="137.2" r="1.6" fill="#000"/>
<line x1="119.1" y1="137.95" x2="130.1" y2="137.95" stroke="#111" stroke-width="0.9"/>
<circle cx="138.6" cy="138.1" r="1.6" fill="#000"/>
<circle cx="141.6" cy="137.8" r="1.6" fill="#000"/>
<circle cx="135.6" cy="137.5" r="1.6" fill="#000"/>
<circle cx="140.1" cy="137.2" r="1.6" fill="#000"/>
<circle cx="137.6" cy="136.75" r="1.6" fill="#000"/>
<line x1="133.1" y1="137.65" x2="144.1" y2="137.65" stroke="#111" stroke-width="0.9"/>
<circle cx="152.8" cy="134.05" r="1.6" fill="#000"/>
<circle cx="153.3" cy="127.75" r="1.6" fill="#000"/>
<circle cx="153.8" cy="121" r="1.6" fill="#000"/>
<circle cx="150.8" cy="121" r="1.6" fill="#000"/>
<line x1="147.3" y1="125.95" x2="158.3" y2="125.95" stroke="#111" stroke-width="0.9"/>
<text x="55.4" y="114.5" font-size="3.6" font-weight="bold" text-anchor="middle" fill="#333" transform="rotate(-90 55.4 114.5)">CD38 MFI</text>
<line x1="186.5" y1="89" x2="186.5" y2="139.5" stroke="#333" stroke-width="1"/>
<line x1="186.5" y1="139.5" x2="272.5" y2="139.5" stroke="#333" stroke-width="1"/>
<line x1="184" y1="91" x2="186" y2="91" stroke="#333" stroke-width="0.7"/>
<text x="183.2" y="92.3" font-size="3.6" font-weight="bold" text-anchor="end" fill="#333">0.8</text>
<line x1="184" y1="103" x2="186" y2="103" stroke="#333" stroke-width="0.7"/>
<text x="183.2" y="104.3" font-size="3.6" font-weight="bold" text-anchor="end" fill="#333">0.6</text>
<line x1="184" y1="115" x2="186" y2="115" stroke="#333" stroke-width="0.7"/>
<text x="183.2" y="116.3" font-size="3.6" font-weight="bold" text-anchor="end" fill="#333">0.4</text>
<line x1="184" y1="127" x2="186" y2="127" stroke="#333" stroke-width="0.7"/>
<text x="183.2" y="128.3" font-size="3.6" font-weight="bold" text-anchor="end" fill="#333">0.2</text>
<line x1="184" y1="139" x2="186" y2="139" stroke="#333" stroke-width="0.7"/>
<text x="183.2" y="140.3" font-size="3.6" font-weight="bold" text-anchor="end" fill="#333">0.0</text>
<line x1="191.9" y1="139" x2="191.9" y2="140.5" stroke="#333" stroke-width="0.6"/>
<text x="191.9" y="144.8" font-size="3.4" font-weight="bold" text-anchor="middle" fill="#333">Base-</text>
<text x="191.9" y="148.6" font-size="3.4" font-weight="bold" text-anchor="middle" fill="#333">line</text>
<line x1="205.6" y1="139" x2="205.6" y2="140.5" stroke="#333" stroke-width="0.6"/>
<text x="205.6" y="144.8" font-size="3.4" font-weight="bold" text-anchor="middle" fill="#333">Week</text>
<text x="205.6" y="148.6" font-size="3.4" font-weight="bold" text-anchor="middle" fill="#333">1</text>
<line x1="220.6" y1="139" x2="220.6" y2="140.5" stroke="#333" stroke-width="0.6"/>
<text x="220.6" y="144.8" font-size="3.4" font-weight="bold" text-anchor="middle" fill="#333">Week</text>
<text x="220.6" y="148.6" font-size="3.4" font-weight="bold" text-anchor="middle" fill="#333">4</text>
<line x1="234.5" y1="139" x2="234.5" y2="140.5" stroke="#333" stroke-width="0.6"/>
<text x="234.5" y="144.8" font-size="3.4" font-weight="bold" text-anchor="middle" fill="#333">Week</text>
<text x="234.5" y="148.6" font-size="3.4" font-weight="bold" text-anchor="middle" fill="#333">8</text>
<line x1="249.1" y1="139" x2="249.1" y2="140.5" stroke="#333" stroke-width="0.6"/>
<text x="249.1" y="144.8" font-size="3.4" font-weight="bold" text-anchor="middle" fill="#333">Relapse</text>
<line x1="263.2" y1="139" x2="263.2" y2="140.5" stroke="#333" stroke-width="0.6"/>
<text x="263.2" y="144.8" font-size="3.4" font-weight="bold" text-anchor="middle" fill="#333">EOT</text>
<text x="263.2" y="148.6" font-size="3.4" font-weight="bold" text-anchor="middle" fill="#333">8</text>
<line x1="192.5" y1="91.5" x2="265" y2="91.5" stroke="#666" stroke-width="0.8"/>
<line x1="265" y1="90.3" x2="265" y2="92.7" stroke="#444" stroke-width="0.6"/>
<line x1="192.5" y1="90.3" x2="192.5" y2="92.7" stroke="#444" stroke-width="0.6"/>
<text x="192.8" y="93.1" font-size="3.2" font-weight="bold" text-anchor="start" fill="#333">****</text>
<line x1="192.5" y1="95.5" x2="251" y2="95.5" stroke="#666" stroke-width="0.8"/>
<line x1="251" y1="94.3" x2="251" y2="96.7" stroke="#444" stroke-width="0.6"/>
<line x1="192.5" y1="94.3" x2="192.5" y2="96.7" stroke="#444" stroke-width="0.6"/>
<text x="192.8" y="97.1" font-size="3.2" font-weight="bold" text-anchor="start" fill="#333">****</text>
<line x1="192.5" y1="99.5" x2="238" y2="99.5" stroke="#666" stroke-width="0.8"/>
<line x1="238" y1="98.3" x2="238" y2="100.7" stroke="#444" stroke-width="0.6"/>
<line x1="192.5" y1="98.3" x2="192.5" y2="100.7" stroke="#444" stroke-width="0.6"/>
<text x="192.8" y="101.1" font-size="3.2" font-weight="bold" text-anchor="start" fill="#333">****</text>
<line x1="192.5" y1="102.5" x2="222" y2="102.5" stroke="#666" stroke-width="0.8"/>
<line x1="222" y1="101.3" x2="222" y2="103.7" stroke="#444" stroke-width="0.6"/>
<line x1="192.5" y1="101.3" x2="192.5" y2="103.7" stroke="#444" stroke-width="0.6"/>
<text x="192.8" y="104.1" font-size="3.2" font-weight="bold" text-anchor="start" fill="#333">****</text>
<line x1="192.5" y1="106.5" x2="210" y2="106.5" stroke="#666" stroke-width="0.8"/>
<line x1="210" y1="105.3" x2="210" y2="107.7" stroke="#444" stroke-width="0.6"/>
<line x1="192.5" y1="105.3" x2="192.5" y2="107.7" stroke="#444" stroke-width="0.6"/>
<text x="192.8" y="108.1" font-size="3.2" font-weight="bold" text-anchor="start" fill="#333">****</text>
<circle cx="191.9" cy="138.4" r="1.6" fill="#000"/>
<circle cx="194.9" cy="137.8" r="1.6" fill="#000"/>
<circle cx="188.9" cy="137.2" r="1.6" fill="#000"/>
<circle cx="192.9" cy="136.6" r="1.6" fill="#000"/>
<circle cx="190.9" cy="136" r="1.6" fill="#000"/>
<circle cx="195.4" cy="135.4" r="1.6" fill="#000"/>
<circle cx="188.4" cy="134.2" r="1.6" fill="#000"/>
<circle cx="192.4" cy="133" r="1.6" fill="#000"/>
<circle cx="195.4" cy="131.8" r="1.6" fill="#000"/>
<circle cx="191.4" cy="130" r="1.6" fill="#000"/>
<circle cx="191.4" cy="127" r="1.6" fill="#000"/>
<circle cx="191.9" cy="121" r="1.6" fill="#000"/>
<circle cx="188.9" cy="121" r="1.6" fill="#000"/>
<line x1="186.4" y1="134.2" x2="197.4" y2="134.2" stroke="#111" stroke-width="0.9"/>
<circle cx="205.1" cy="138.4" r="1.6" fill="#000"/>
<circle cx="208.1" cy="137.8" r="1.6" fill="#000"/>
<circle cx="202.1" cy="137.2" r="1.6" fill="#000"/>
<circle cx="206.1" cy="136" r="1.6" fill="#000"/>
<circle cx="209.1" cy="134.8" r="1.6" fill="#000"/>
<circle cx="206.1" cy="133" r="1.6" fill="#000"/>
<circle cx="206.6" cy="130" r="1.6" fill="#000"/>
<circle cx="205.6" cy="127" r="1.6" fill="#000"/>
<circle cx="204.6" cy="122.2" r="1.6" fill="#000"/>
<circle cx="203.1" cy="119.8" r="1.6" fill="#000"/>
<circle cx="206.6" cy="119.2" r="1.6" fill="#000"/>
<line x1="200.1" y1="133.6" x2="211.1" y2="133.6" stroke="#111" stroke-width="0.9"/>
<circle cx="219.6" cy="138.4" r="1.6" fill="#000"/>
<circle cx="222.6" cy="137.8" r="1.6" fill="#000"/>
<circle cx="217.1" cy="137.2" r="1.6" fill="#000"/>
<circle cx="220.6" cy="136" r="1.6" fill="#000"/>
<circle cx="223.1" cy="134.2" r="1.6" fill="#000"/>
<circle cx="219.6" cy="133" r="1.6" fill="#000"/>
<circle cx="219.6" cy="128.2" r="1.6" fill="#000"/>
<circle cx="222.6" cy="127" r="1.6" fill="#000"/>
<circle cx="219.6" cy="121" r="1.6" fill="#000"/>
<line x1="215.1" y1="134.8" x2="226.1" y2="134.8" stroke="#111" stroke-width="0.9"/>
<circle cx="235" cy="138.4" r="1.6" fill="#000"/>
<circle cx="232" cy="137.8" r="1.6" fill="#000"/>
<circle cx="238" cy="137.2" r="1.6" fill="#000"/>
<circle cx="234" cy="136" r="1.6" fill="#000"/>
<circle cx="236.5" cy="134.2" r="1.6" fill="#000"/>
<circle cx="234.5" cy="131.8" r="1.6" fill="#000"/>
<circle cx="237" cy="130" r="1.6" fill="#000"/>
<circle cx="235" cy="127" r="1.6" fill="#000"/>
<circle cx="235" cy="124" r="1.6" fill="#000"/>
<circle cx="235.5" cy="121" r="1.6" fill="#000"/>
<circle cx="233" cy="119.2" r="1.6" fill="#000"/>
<line x1="229" y1="133" x2="240" y2="133" stroke="#111" stroke-width="0.9"/>
<circle cx="248.6" cy="137.8" r="1.6" fill="#000"/>
<circle cx="251.6" cy="137.2" r="1.6" fill="#000"/>
<circle cx="246.1" cy="136" r="1.6" fill="#000"/>
<circle cx="248.6" cy="134.2" r="1.6" fill="#000"/>
<circle cx="251.6" cy="133" r="1.6" fill="#000"/>
<circle cx="249.6" cy="130" r="1.6" fill="#000"/>
<circle cx="248.6" cy="125.8" r="1.6" fill="#000"/>
<circle cx="251.1" cy="124" r="1.6" fill="#000"/>
<line x1="243.6" y1="134.8" x2="254.6" y2="134.8" stroke="#111" stroke-width="0.9"/>
<circle cx="262.7" cy="138.7" r="1.6" fill="#000"/>
<circle cx="265.7" cy="138.4" r="1.6" fill="#000"/>
<circle cx="259.7" cy="138.4" r="1.6" fill="#000"/>
<line x1="257.7" y1="138.4" x2="268.7" y2="138.4" stroke="#111" stroke-width="0.9"/>
<text x="170" y="114.5" font-size="3.6" font-weight="bold" text-anchor="middle" fill="#333" transform="rotate(-90 170 114.5)">abs CD19<tspan font-size="2.4" dy="-1.2">+</tspan><tspan dy="1.2"> per mL (x10</tspan><tspan font-size="2.4" dy="-1.2">9</tspan><tspan dy="1.2">)</tspan></text>
<line x1="308.5" y1="87" x2="308.5" y2="137.5" stroke="#333" stroke-width="1"/>
<line x1="308.5" y1="137.5" x2="389.5" y2="137.5" stroke="#333" stroke-width="1"/>
<line x1="306.8" y1="89" x2="308.8" y2="89" stroke="#333" stroke-width="0.7"/>
<text x="306" y="90.3" font-size="3.6" font-weight="bold" text-anchor="end" fill="#333">5,000</text>
<line x1="306.8" y1="98.5" x2="308.8" y2="98.5" stroke="#333" stroke-width="0.7"/>
<text x="306" y="99.8" font-size="3.6" font-weight="bold" text-anchor="end" fill="#333">4,000</text>
<line x1="306.8" y1="108" x2="308.8" y2="108" stroke="#333" stroke-width="0.7"/>
<text x="306" y="109.3" font-size="3.6" font-weight="bold" text-anchor="end" fill="#333">3,000</text>
<line x1="306.8" y1="118" x2="308.8" y2="118" stroke="#333" stroke-width="0.7"/>
<text x="306" y="119.3" font-size="3.6" font-weight="bold" text-anchor="end" fill="#333">2,000</text>
<line x1="306.8" y1="127.5" x2="308.8" y2="127.5" stroke="#333" stroke-width="0.7"/>
<text x="306" y="128.8" font-size="3.6" font-weight="bold" text-anchor="end" fill="#333">1,000</text>
<line x1="306.8" y1="137" x2="308.8" y2="137" stroke="#333" stroke-width="0.7"/>
<text x="306" y="138.3" font-size="3.6" font-weight="bold" text-anchor="end" fill="#333">0</text>
<line x1="319.2" y1="137" x2="319.2" y2="138.5" stroke="#333" stroke-width="0.6"/>
<text x="319.2" y="142.8" font-size="3.8" font-weight="bold" text-anchor="middle" fill="#333">Baseline</text>
<line x1="338.6" y1="137" x2="338.6" y2="138.5" stroke="#333" stroke-width="0.6"/>
<text x="338.6" y="142.8" font-size="3.8" font-weight="bold" text-anchor="middle" fill="#333">Week</text>
<text x="338.6" y="146.6" font-size="3.8" font-weight="bold" text-anchor="middle" fill="#333">1</text>
<line x1="358.1" y1="137" x2="358.1" y2="138.5" stroke="#333" stroke-width="0.6"/>
<text x="358.1" y="142.8" font-size="3.8" font-weight="bold" text-anchor="middle" fill="#333">Week</text>
<text x="358.1" y="146.6" font-size="3.8" font-weight="bold" text-anchor="middle" fill="#333">4</text>
<line x1="378.4" y1="137" x2="378.4" y2="138.5" stroke="#333" stroke-width="0.6"/>
<text x="378.4" y="142.8" font-size="3.8" font-weight="bold" text-anchor="middle" fill="#333">Week</text>
<text x="378.4" y="146.6" font-size="3.8" font-weight="bold" text-anchor="middle" fill="#333">8</text>
<line x1="316" y1="89.5" x2="384.5" y2="89.5" stroke="#666" stroke-width="0.8"/>
<line x1="384.5" y1="88.3" x2="384.5" y2="90.7" stroke="#444" stroke-width="0.6"/>
<line x1="316" y1="88.3" x2="316" y2="90.7" stroke="#444" stroke-width="0.6"/>
<text x="316.3" y="91.1" font-size="3.2" font-weight="bold" text-anchor="start" fill="#333">****</text>
<line x1="316" y1="93.5" x2="358" y2="93.5" stroke="#666" stroke-width="0.8"/>
<line x1="358" y1="92.3" x2="358" y2="94.7" stroke="#444" stroke-width="0.6"/>
<line x1="316" y1="92.3" x2="316" y2="94.7" stroke="#444" stroke-width="0.6"/>
<text x="316.3" y="95.1" font-size="3.2" font-weight="bold" text-anchor="start" fill="#333">****</text>
<line x1="316" y1="97.5" x2="340" y2="97.5" stroke="#666" stroke-width="0.8"/>
<line x1="340" y1="96.3" x2="340" y2="98.7" stroke="#444" stroke-width="0.6"/>
<line x1="316" y1="96.3" x2="316" y2="98.7" stroke="#444" stroke-width="0.6"/>
<text x="316.3" y="99.1" font-size="3.2" font-weight="bold" text-anchor="start" fill="#333">****</text>
<circle cx="320.2" cy="132.68" r="1.6" fill="#000"/>
<circle cx="321.7" cy="130.28" r="1.6" fill="#000"/>
<circle cx="318.2" cy="127.4" r="1.6" fill="#000"/>
<circle cx="321.7" cy="126.44" r="1.6" fill="#000"/>
<circle cx="315.7" cy="125.48" r="1.6" fill="#000"/>
<circle cx="318.2" cy="123.56" r="1.6" fill="#000"/>
<circle cx="322.7" cy="113.96" r="1.6" fill="#000"/>
<circle cx="321.2" cy="109.16" r="1.6" fill="#000"/>
<line x1="312.9" y1="124.52" x2="325.5" y2="124.52" stroke="#111" stroke-width="0.9"/>
<circle cx="335.6" cy="135.56" r="1.6" fill="#000"/>
<circle cx="338.6" cy="135.08" r="1.6" fill="#000"/>
<circle cx="341.6" cy="135.08" r="1.6" fill="#000"/>
<circle cx="333.6" cy="134.6" r="1.6" fill="#000"/>
<circle cx="343.6" cy="134.12" r="1.6" fill="#000"/>
<circle cx="336.6" cy="133.16" r="1.6" fill="#000"/>
<circle cx="340.1" cy="132.68" r="1.6" fill="#000"/>
<circle cx="334.1" cy="132.2" r="1.6" fill="#000"/>
<line x1="332.3" y1="134.12" x2="344.9" y2="134.12" stroke="#111" stroke-width="0.9"/>
<circle cx="361.6" cy="135.56" r="1.6" fill="#000"/>
<circle cx="357.6" cy="135.56" r="1.6" fill="#000"/>
<circle cx="354.6" cy="135.56" r="1.6" fill="#000"/>
<circle cx="359.6" cy="135.27" r="1.6" fill="#000"/>
<circle cx="363.1" cy="135.08" r="1.6" fill="#000"/>
<circle cx="353.1" cy="135.08" r="1.6" fill="#000"/>
<circle cx="356.1" cy="134.6" r="1.6" fill="#000"/>
<line x1="351.8" y1="135.27" x2="364.4" y2="135.27" stroke="#111" stroke-width="0.9"/>
<circle cx="380.4" cy="135.56" r="1.6" fill="#000"/>
<circle cx="375.9" cy="135.56" r="1.6" fill="#000"/>
<circle cx="383.4" cy="135.27" r="1.6" fill="#000"/>
<circle cx="373.4" cy="135.08" r="1.6" fill="#000"/>
<circle cx="378.4" cy="135.08" r="1.6" fill="#000"/>
<circle cx="381.9" cy="134.6" r="1.6" fill="#000"/>
<line x1="372.1" y1="135.27" x2="384.7" y2="135.27" stroke="#111" stroke-width="0.9"/>
<text x="295.5" y="112.5" font-size="3.6" font-weight="bold" text-anchor="middle" fill="#333" transform="rotate(-90 295.5 112.5)">CD38 MFI</text>
<line x1="421.5" y1="88" x2="421.5" y2="137.5" stroke="#333" stroke-width="1"/>
<line x1="421.5" y1="137.5" x2="500" y2="137.5" stroke="#333" stroke-width="1"/>
<line x1="419" y1="90" x2="421" y2="90" stroke="#333" stroke-width="0.7"/>
<text x="418.2" y="91.3" font-size="3.6" font-weight="bold" text-anchor="end" fill="#333">0.8</text>
<line x1="419" y1="102" x2="421" y2="102" stroke="#333" stroke-width="0.7"/>
<text x="418.2" y="103.3" font-size="3.6" font-weight="bold" text-anchor="end" fill="#333">0.6</text>
<line x1="419" y1="114" x2="421" y2="114" stroke="#333" stroke-width="0.7"/>
<text x="418.2" y="115.3" font-size="3.6" font-weight="bold" text-anchor="end" fill="#333">0.4</text>
<line x1="419" y1="126" x2="421" y2="126" stroke="#333" stroke-width="0.7"/>
<text x="418.2" y="127.3" font-size="3.6" font-weight="bold" text-anchor="end" fill="#333">0.2</text>
<line x1="419" y1="137.5" x2="421" y2="137.5" stroke="#333" stroke-width="0.7"/>
<text x="418.2" y="138.8" font-size="3.6" font-weight="bold" text-anchor="end" fill="#333">0.0</text>
<line x1="431.8" y1="137.5" x2="431.8" y2="139" stroke="#333" stroke-width="0.6"/>
<text x="431.8" y="143.3" font-size="3.8" font-weight="bold" text-anchor="middle" fill="#333">Baseline</text>
<line x1="450.6" y1="137.5" x2="450.6" y2="139" stroke="#333" stroke-width="0.6"/>
<text x="450.6" y="143.3" font-size="3.8" font-weight="bold" text-anchor="middle" fill="#333">Week</text>
<text x="450.6" y="147.1" font-size="3.8" font-weight="bold" text-anchor="middle" fill="#333">1</text>
<line x1="469.8" y1="137.5" x2="469.8" y2="139" stroke="#333" stroke-width="0.6"/>
<text x="469.8" y="143.3" font-size="3.8" font-weight="bold" text-anchor="middle" fill="#333">Week</text>
<text x="469.8" y="147.1" font-size="3.8" font-weight="bold" text-anchor="middle" fill="#333">4</text>
<line x1="490.2" y1="137.5" x2="490.2" y2="139" stroke="#333" stroke-width="0.6"/>
<text x="490.2" y="143.3" font-size="3.8" font-weight="bold" text-anchor="middle" fill="#333">Week</text>
<text x="490.2" y="147.1" font-size="3.8" font-weight="bold" text-anchor="middle" fill="#333">8</text>
<line x1="430" y1="95.5" x2="497" y2="95.5" stroke="#333" stroke-width="1.1"/>
<line x1="497" y1="94.3" x2="497" y2="96.7" stroke="#444" stroke-width="0.6"/>
<line x1="430" y1="94.3" x2="430" y2="96.7" stroke="#444" stroke-width="0.6"/>
<text x="430.3" y="97.1" font-size="3.2" font-weight="bold" text-anchor="start" fill="#333">****</text>
<line x1="430" y1="99.5" x2="472.5" y2="99.5" stroke="#666" stroke-width="0.8"/>
<line x1="472.5" y1="98.3" x2="472.5" y2="100.7" stroke="#444" stroke-width="0.6"/>
<line x1="430" y1="98.3" x2="430" y2="100.7" stroke="#444" stroke-width="0.6"/>
<text x="430.3" y="101.1" font-size="3.2" font-weight="bold" text-anchor="start" fill="#333">****</text>
<line x1="430" y1="104.5" x2="454.5" y2="104.5" stroke="#666" stroke-width="0.8"/>
<line x1="454.5" y1="103.3" x2="454.5" y2="105.7" stroke="#444" stroke-width="0.6"/>
<line x1="430" y1="103.3" x2="430" y2="105.7" stroke="#444" stroke-width="0.6"/>
<text x="430.3" y="106.1" font-size="3.2" font-weight="bold" text-anchor="start" fill="#333">****</text>
<circle cx="434.3" cy="130.42" r="1.6" fill="#000"/>
<circle cx="430.3" cy="128.65" r="1.6" fill="#000"/>
<circle cx="436.3" cy="128.06" r="1.6" fill="#000"/>
<circle cx="433.3" cy="126.88" r="1.6" fill="#000"/>
<circle cx="430.3" cy="125.7" r="1.6" fill="#000"/>
<circle cx="428.3" cy="119.8" r="1.6" fill="#000"/>
<circle cx="431.3" cy="110.95" r="1.6" fill="#000"/>
<circle cx="434.3" cy="109.77" r="1.6" fill="#000"/>
<line x1="425.5" y1="123.34" x2="438.1" y2="123.34" stroke="#111" stroke-width="0.9"/>
<circle cx="452.6" cy="135.73" r="1.6" fill="#000"/>
<circle cx="450.1" cy="133.96" r="1.6" fill="#000"/>
<circle cx="446.6" cy="133.37" r="1.6" fill="#000"/>
<circle cx="453.1" cy="132.78" r="1.6" fill="#000"/>
<circle cx="455.6" cy="132.19" r="1.6" fill="#000"/>
<circle cx="448.6" cy="131.6" r="1.6" fill="#000"/>
<circle cx="448.1" cy="128.65" r="1.6" fill="#000"/>
<line x1="444.3" y1="132.78" x2="456.9" y2="132.78" stroke="#111" stroke-width="0.9"/>
<circle cx="468.3" cy="136.32" r="1.6" fill="#000"/>
<circle cx="472.3" cy="135.73" r="1.6" fill="#000"/>
<circle cx="465.3" cy="135.14" r="1.6" fill="#000"/>
<circle cx="469.8" cy="133.96" r="1.6" fill="#000"/>
<circle cx="472.8" cy="132.78" r="1.6" fill="#000"/>
<circle cx="467.8" cy="131.6" r="1.6" fill="#000"/>
<circle cx="472.8" cy="128.65" r="1.6" fill="#000"/>
<circle cx="471.3" cy="119.8" r="1.6" fill="#000"/>
<line x1="463.5" y1="132.19" x2="476.1" y2="132.19" stroke="#111" stroke-width="0.9"/>
<circle cx="493.7" cy="135.73" r="1.6" fill="#000"/>
<circle cx="490.2" cy="135.14" r="1.6" fill="#000"/>
<circle cx="487.2" cy="134.55" r="1.6" fill="#000"/>
<circle cx="495.2" cy="133.96" r="1.6" fill="#000"/>
<circle cx="487.7" cy="131.6" r="1.6" fill="#000"/>
<circle cx="490.2" cy="128.65" r="1.6" fill="#000"/>
<circle cx="487.2" cy="128.06" r="1.6" fill="#000"/>
<line x1="483.9" y1="133.37" x2="496.5" y2="133.37" stroke="#111" stroke-width="0.9"/>
<text x="403" y="113.25" font-size="3.6" font-weight="bold" text-anchor="middle" fill="#333" transform="rotate(-90 403 113.25)">abs CD19<tspan font-size="2.4" dy="-1.2">+</tspan><tspan dy="1.2"> per mL (x10</tspan><tspan font-size="2.4" dy="-1.2">9</tspan><tspan dy="1.2">)</tspan></text>
<line x1="75.5" y1="159" x2="75.5" y2="209.5" stroke="#333" stroke-width="1"/>
<line x1="75.5" y1="209.5" x2="160" y2="209.5" stroke="#333" stroke-width="1"/>
<line x1="73.4" y1="174" x2="75.4" y2="174" stroke="#333" stroke-width="0.7"/>
<text x="72.6" y="175.3" font-size="3.6" font-weight="bold" text-anchor="end" fill="#333">2,000</text>
<line x1="73.4" y1="192" x2="75.4" y2="192" stroke="#333" stroke-width="0.7"/>
<text x="72.6" y="193.3" font-size="3.6" font-weight="bold" text-anchor="end" fill="#333">1,000</text>
<line x1="73.4" y1="209.5" x2="75.4" y2="209.5" stroke="#333" stroke-width="0.7"/>
<text x="72.6" y="210.8" font-size="3.6" font-weight="bold" text-anchor="end" fill="#333">0</text>
<line x1="82.6" y1="209.5" x2="82.6" y2="211" stroke="#333" stroke-width="0.6"/>
<text x="82.6" y="215.3" font-size="3.4" font-weight="bold" text-anchor="middle" fill="#333">Base-</text>
<text x="82.6" y="219.1" font-size="3.4" font-weight="bold" text-anchor="middle" fill="#333">line</text>
<line x1="96.8" y1="209.5" x2="96.8" y2="211" stroke="#333" stroke-width="0.6"/>
<text x="96.8" y="215.3" font-size="3.4" font-weight="bold" text-anchor="middle" fill="#333">Week</text>
<text x="96.8" y="219.1" font-size="3.4" font-weight="bold" text-anchor="middle" fill="#333">1</text>
<line x1="110.9" y1="209.5" x2="110.9" y2="211" stroke="#333" stroke-width="0.6"/>
<text x="110.9" y="215.3" font-size="3.4" font-weight="bold" text-anchor="middle" fill="#333">Week</text>
<text x="110.9" y="219.1" font-size="3.4" font-weight="bold" text-anchor="middle" fill="#333">4</text>
<line x1="124.6" y1="209.5" x2="124.6" y2="211" stroke="#333" stroke-width="0.6"/>
<text x="124.6" y="215.3" font-size="3.4" font-weight="bold" text-anchor="middle" fill="#333">Week</text>
<text x="124.6" y="219.1" font-size="3.4" font-weight="bold" text-anchor="middle" fill="#333">8</text>
<line x1="138.6" y1="209.5" x2="138.6" y2="211" stroke="#333" stroke-width="0.6"/>
<text x="138.6" y="215.3" font-size="3.4" font-weight="bold" text-anchor="middle" fill="#333">Relapse</text>
<line x1="152.8" y1="209.5" x2="152.8" y2="211" stroke="#333" stroke-width="0.6"/>
<text x="152.8" y="215.3" font-size="3.4" font-weight="bold" text-anchor="middle" fill="#333">EOT</text>
<text x="152.8" y="219.1" font-size="3.4" font-weight="bold" text-anchor="middle" fill="#333">8</text>
<line x1="82.5" y1="161.5" x2="155" y2="161.5" stroke="#666" stroke-width="0.8"/>
<line x1="155" y1="160.3" x2="155" y2="162.7" stroke="#444" stroke-width="0.6"/>
<line x1="82.5" y1="160.3" x2="82.5" y2="162.7" stroke="#444" stroke-width="0.6"/>
<text x="82.8" y="163.1" font-size="3.2" font-weight="bold" text-anchor="start" fill="#333">****</text>
<line x1="82.5" y1="165.5" x2="144" y2="165.5" stroke="#333" stroke-width="1.1"/>
<line x1="144" y1="164.3" x2="144" y2="166.7" stroke="#444" stroke-width="0.6"/>
<line x1="82.5" y1="164.3" x2="82.5" y2="166.7" stroke="#444" stroke-width="0.6"/>
<text x="82.8" y="167.1" font-size="3.2" font-weight="bold" text-anchor="start" fill="#333">****</text>
<line x1="82.5" y1="169.5" x2="127.5" y2="169.5" stroke="#666" stroke-width="0.8"/>
<line x1="127.5" y1="168.3" x2="127.5" y2="170.7" stroke="#444" stroke-width="0.6"/>
<line x1="82.5" y1="168.3" x2="82.5" y2="170.7" stroke="#444" stroke-width="0.6"/>
<text x="82.8" y="171.1" font-size="3.2" font-weight="bold" text-anchor="start" fill="#333">****</text>
<line x1="82.5" y1="173.5" x2="115" y2="173.5" stroke="#666" stroke-width="0.8"/>
<line x1="115" y1="172.3" x2="115" y2="174.7" stroke="#444" stroke-width="0.6"/>
<line x1="82.5" y1="172.3" x2="82.5" y2="174.7" stroke="#444" stroke-width="0.6"/>
<text x="82.8" y="175.1" font-size="3.2" font-weight="bold" text-anchor="start" fill="#333">****</text>
<line x1="82.5" y1="177.5" x2="100" y2="177.5" stroke="#666" stroke-width="0.8"/>
<line x1="100" y1="176.3" x2="100" y2="178.7" stroke="#444" stroke-width="0.6"/>
<line x1="82.5" y1="176.3" x2="82.5" y2="178.7" stroke="#444" stroke-width="0.6"/>
<text x="82.8" y="179.1" font-size="3.2" font-weight="bold" text-anchor="start" fill="#333">****</text>
<circle cx="83.1" cy="197.25" r="1.6" fill="#000"/>
<circle cx="80.1" cy="196.38" r="1.6" fill="#000"/>
<circle cx="85.6" cy="195.5" r="1.6" fill="#000"/>
<circle cx="82.6" cy="194.62" r="1.6" fill="#000"/>
<circle cx="79.1" cy="194.1" r="1.6" fill="#000"/>
<circle cx="86.1" cy="193.75" r="1.6" fill="#000"/>
<circle cx="81.1" cy="192.88" r="1.6" fill="#000"/>
<circle cx="84.1" cy="192.35" r="1.6" fill="#000"/>
<circle cx="79.1" cy="192" r="1.6" fill="#000"/>
<circle cx="86.1" cy="191.12" r="1.6" fill="#000"/>
<circle cx="83.6" cy="186.75" r="1.6" fill="#000"/>
<circle cx="86.1" cy="185" r="1.6" fill="#000"/>
<circle cx="82.6" cy="183.25" r="1.6" fill="#000"/>
<line x1="77.1" y1="192.88" x2="88.1" y2="192.88" stroke="#111" stroke-width="0.9"/>
<circle cx="96.8" cy="204.25" r="1.6" fill="#000"/>
<circle cx="93.8" cy="203.38" r="1.6" fill="#000"/>
<circle cx="99.3" cy="202.85" r="1.6" fill="#000"/>
<circle cx="96.3" cy="202.5" r="1.6" fill="#000"/>
<circle cx="93.3" cy="202.15" r="1.6" fill="#000"/>
<circle cx="100.3" cy="201.62" r="1.6" fill="#000"/>
<circle cx="97.8" cy="201.1" r="1.6" fill="#000"/>
<circle cx="94.8" cy="200.75" r="1.6" fill="#000"/>
<circle cx="100.3" cy="199.88" r="1.6" fill="#000"/>
<circle cx="97.3" cy="195.5" r="1.6" fill="#000"/>
<line x1="91.3" y1="201.62" x2="102.3" y2="201.62" stroke="#111" stroke-width="0.9"/>
<circle cx="110.9" cy="202.85" r="1.6" fill="#000"/>
<circle cx="107.9" cy="202.5" r="1.6" fill="#000"/>
<circle cx="113.9" cy="201.97" r="1.6" fill="#000"/>
<circle cx="109.9" cy="201.62" r="1.6" fill="#000"/>
<circle cx="112.4" cy="201.1" r="1.6" fill="#000"/>
<circle cx="107.4" cy="200.75" r="1.6" fill="#000"/>
<circle cx="114.4" cy="200.4" r="1.6" fill="#000"/>
<circle cx="109.9" cy="199.88" r="1.6" fill="#000"/>
<circle cx="110.4" cy="195.5" r="1.6" fill="#000"/>
<line x1="105.4" y1="201.28" x2="116.4" y2="201.28" stroke="#111" stroke-width="0.9"/>
<circle cx="124.6" cy="203.38" r="1.6" fill="#000"/>
<circle cx="121.6" cy="202.5" r="1.6" fill="#000"/>
<circle cx="127.6" cy="202.15" r="1.6" fill="#000"/>
<circle cx="124.1" cy="201.62" r="1.6" fill="#000"/>
<circle cx="126.1" cy="201.1" r="1.6" fill="#000"/>
<circle cx="121.1" cy="200.75" r="1.6" fill="#000"/>
<circle cx="128.1" cy="199.88" r="1.6" fill="#000"/>
<circle cx="123.6" cy="199" r="1.6" fill="#000"/>
<circle cx="125.1" cy="188.5" r="1.6" fill="#000"/>
<line x1="119.1" y1="201.1" x2="130.1" y2="201.1" stroke="#111" stroke-width="0.9"/>
<circle cx="139.6" cy="204.25" r="1.6" fill="#000"/>
<circle cx="136.6" cy="203.38" r="1.6" fill="#000"/>
<circle cx="142.1" cy="202.5" r="1.6" fill="#000"/>
<circle cx="139.1" cy="202.15" r="1.6" fill="#000"/>
<circle cx="135.1" cy="201.62" r="1.6" fill="#000"/>
<circle cx="137.1" cy="200.75" r="1.6" fill="#000"/>
<circle cx="141.1" cy="199.88" r="1.6" fill="#000"/>
<circle cx="138.1" cy="197.25" r="1.6" fill="#000"/>
<circle cx="138.1" cy="187.62" r="1.6" fill="#000"/>
<line x1="133.1" y1="201.28" x2="144.1" y2="201.28" stroke="#111" stroke-width="0.9"/>
<circle cx="153.3" cy="199.88" r="1.6" fill="#000"/>
<circle cx="150.8" cy="198.12" r="1.6" fill="#000"/>
<circle cx="153.3" cy="195.5" r="1.6" fill="#000"/>
<circle cx="151.8" cy="167.5" r="1.6" fill="#000"/>
<line x1="147.3" y1="190.25" x2="158.3" y2="190.25" stroke="#111" stroke-width="0.9"/>
<text x="58.8" y="184.75" font-size="3.6" font-weight="bold" text-anchor="middle" fill="#333" transform="rotate(-90 58.8 184.75)">CD38 MFI</text>
<line x1="186.5" y1="160" x2="186.5" y2="209.5" stroke="#333" stroke-width="1"/>
<line x1="186.5" y1="209.5" x2="271" y2="209.5" stroke="#333" stroke-width="1"/>
<line x1="184" y1="169" x2="186" y2="169" stroke="#333" stroke-width="0.7"/>
<text x="183.2" y="170.3" font-size="3.6" font-weight="bold" text-anchor="end" fill="#333">1.0</text>
<line x1="184" y1="189" x2="186" y2="189" stroke="#333" stroke-width="0.7"/>
<text x="183.2" y="190.3" font-size="3.6" font-weight="bold" text-anchor="end" fill="#333">0.5</text>
<line x1="184" y1="209" x2="186" y2="209" stroke="#333" stroke-width="0.7"/>
<text x="183.2" y="210.3" font-size="3.6" font-weight="bold" text-anchor="end" fill="#333">0.0</text>
<line x1="191.9" y1="209" x2="191.9" y2="210.5" stroke="#333" stroke-width="0.6"/>
<text x="191.9" y="214.8" font-size="3.4" font-weight="bold" text-anchor="middle" fill="#333">Base-</text>
<text x="191.9" y="218.6" font-size="3.4" font-weight="bold" text-anchor="middle" fill="#333">line</text>
<line x1="205.6" y1="209" x2="205.6" y2="210.5" stroke="#333" stroke-width="0.6"/>
<text x="205.6" y="214.8" font-size="3.4" font-weight="bold" text-anchor="middle" fill="#333">Week</text>
<text x="205.6" y="218.6" font-size="3.4" font-weight="bold" text-anchor="middle" fill="#333">1</text>
<line x1="220.6" y1="209" x2="220.6" y2="210.5" stroke="#333" stroke-width="0.6"/>
<text x="220.6" y="214.8" font-size="3.4" font-weight="bold" text-anchor="middle" fill="#333">Week</text>
<text x="220.6" y="218.6" font-size="3.4" font-weight="bold" text-anchor="middle" fill="#333">4</text>
<line x1="234.5" y1="209" x2="234.5" y2="210.5" stroke="#333" stroke-width="0.6"/>
<text x="234.5" y="214.8" font-size="3.4" font-weight="bold" text-anchor="middle" fill="#333">Week</text>
<text x="234.5" y="218.6" font-size="3.4" font-weight="bold" text-anchor="middle" fill="#333">8</text>
<line x1="249.1" y1="209" x2="249.1" y2="210.5" stroke="#333" stroke-width="0.6"/>
<text x="249.1" y="214.8" font-size="3.4" font-weight="bold" text-anchor="middle" fill="#333">Relapse</text>
<line x1="263.2" y1="209" x2="263.2" y2="210.5" stroke="#333" stroke-width="0.6"/>
<text x="263.2" y="214.8" font-size="3.4" font-weight="bold" text-anchor="middle" fill="#333">EOT</text>
<text x="263.2" y="218.6" font-size="3.4" font-weight="bold" text-anchor="middle" fill="#333">8</text>
<line x1="192.5" y1="165.5" x2="264.5" y2="165.5" stroke="#333" stroke-width="1.1"/>
<line x1="264.5" y1="164.3" x2="264.5" y2="166.7" stroke="#444" stroke-width="0.6"/>
<line x1="192.5" y1="164.3" x2="192.5" y2="166.7" stroke="#444" stroke-width="0.6"/>
<text x="192.8" y="167.1" font-size="3.2" font-weight="bold" text-anchor="start" fill="#333">****</text>
<line x1="192.5" y1="169.5" x2="250.5" y2="169.5" stroke="#666" stroke-width="0.8"/>
<line x1="250.5" y1="168.3" x2="250.5" y2="170.7" stroke="#444" stroke-width="0.6"/>
<line x1="192.5" y1="168.3" x2="192.5" y2="170.7" stroke="#444" stroke-width="0.6"/>
<text x="192.8" y="171.1" font-size="3.2" font-weight="bold" text-anchor="start" fill="#333">****</text>
<line x1="192.5" y1="173.5" x2="237.5" y2="173.5" stroke="#666" stroke-width="0.8"/>
<line x1="237.5" y1="172.3" x2="237.5" y2="174.7" stroke="#444" stroke-width="0.6"/>
<line x1="192.5" y1="172.3" x2="192.5" y2="174.7" stroke="#444" stroke-width="0.6"/>
<text x="192.8" y="175.1" font-size="3.2" font-weight="bold" text-anchor="start" fill="#333">****</text>
<line x1="192.5" y1="177.5" x2="222.5" y2="177.5" stroke="#666" stroke-width="0.8"/>
<line x1="222.5" y1="176.3" x2="222.5" y2="178.7" stroke="#444" stroke-width="0.6"/>
<line x1="192.5" y1="176.3" x2="192.5" y2="178.7" stroke="#444" stroke-width="0.6"/>
<text x="192.8" y="179.1" font-size="3.2" font-weight="bold" text-anchor="start" fill="#333">****</text>
<line x1="192.5" y1="181.5" x2="209" y2="181.5" stroke="#666" stroke-width="0.8"/>
<line x1="209" y1="180.3" x2="209" y2="182.7" stroke="#444" stroke-width="0.6"/>
<line x1="192.5" y1="180.3" x2="192.5" y2="182.7" stroke="#444" stroke-width="0.6"/>
<text x="192.8" y="183.1" font-size="3.2" font-weight="bold" text-anchor="start" fill="#333">****</text>
<circle cx="191.9" cy="207" r="1.6" fill="#000"/>
<circle cx="188.9" cy="205.8" r="1.6" fill="#000"/>
<circle cx="194.4" cy="205" r="1.6" fill="#000"/>
<circle cx="191.9" cy="203" r="1.6" fill="#000"/>
<circle cx="189.4" cy="201" r="1.6" fill="#000"/>
<circle cx="191.9" cy="199" r="1.6" fill="#000"/>
<circle cx="188.9" cy="197.8" r="1.6" fill="#000"/>
<circle cx="194.4" cy="197" r="1.6" fill="#000"/>
<circle cx="191.4" cy="195" r="1.6" fill="#000"/>
<circle cx="188.9" cy="193" r="1.6" fill="#000"/>
<circle cx="192.4" cy="191" r="1.6" fill="#000"/>
<circle cx="189.9" cy="189" r="1.6" fill="#000"/>
<circle cx="192.4" cy="187" r="1.6" fill="#000"/>
<line x1="186.4" y1="197" x2="197.4" y2="197" stroke="#111" stroke-width="0.9"/>
<circle cx="206.6" cy="207" r="1.6" fill="#000"/>
<circle cx="204.1" cy="205" r="1.6" fill="#000"/>
<circle cx="207.1" cy="204.2" r="1.6" fill="#000"/>
<circle cx="202.1" cy="203" r="1.6" fill="#000"/>
<circle cx="206.1" cy="201" r="1.6" fill="#000"/>
<circle cx="208.6" cy="199" r="1.6" fill="#000"/>
<circle cx="206.1" cy="197" r="1.6" fill="#000"/>
<circle cx="203.6" cy="195" r="1.6" fill="#000"/>
<circle cx="206.1" cy="193" r="1.6" fill="#000"/>
<circle cx="208.6" cy="191" r="1.6" fill="#000"/>
<circle cx="205.1" cy="187" r="1.6" fill="#000"/>
<line x1="200.1" y1="199" x2="211.1" y2="199" stroke="#111" stroke-width="0.9"/>
<circle cx="221.6" cy="207" r="1.6" fill="#000"/>
<circle cx="219.1" cy="205" r="1.6" fill="#000"/>
<circle cx="221.6" cy="203" r="1.6" fill="#000"/>
<circle cx="219.1" cy="201" r="1.6" fill="#000"/>
<circle cx="222.1" cy="200.2" r="1.6" fill="#000"/>
<circle cx="217.1" cy="199" r="1.6" fill="#000"/>
<circle cx="219.6" cy="197" r="1.6" fill="#000"/>
<circle cx="221.1" cy="193" r="1.6" fill="#000"/>
<circle cx="220.6" cy="189" r="1.6" fill="#000"/>
<circle cx="221.1" cy="183" r="1.6" fill="#000"/>
<line x1="215.1" y1="200.2" x2="226.1" y2="200.2" stroke="#111" stroke-width="0.9"/>
<circle cx="233.5" cy="207" r="1.6" fill="#000"/>
<circle cx="236" cy="205" r="1.6" fill="#000"/>
<circle cx="235" cy="201" r="1.6" fill="#000"/>
<circle cx="232.5" cy="199" r="1.6" fill="#000"/>
<circle cx="235.5" cy="197.8" r="1.6" fill="#000"/>
<circle cx="238" cy="197" r="1.6" fill="#000"/>
<circle cx="235" cy="195" r="1.6" fill="#000"/>
<circle cx="237.5" cy="193" r="1.6" fill="#000"/>
<circle cx="233.5" cy="181" r="1.6" fill="#000"/>
<line x1="229" y1="197" x2="240" y2="197" stroke="#111" stroke-width="0.9"/>
<circle cx="249.1" cy="207" r="1.6" fill="#000"/>
<circle cx="251.6" cy="205" r="1.6" fill="#000"/>
<circle cx="249.1" cy="203" r="1.6" fill="#000"/>
<circle cx="251.6" cy="201" r="1.6" fill="#000"/>
<circle cx="248.6" cy="197" r="1.6" fill="#000"/>
<circle cx="246.1" cy="195" r="1.6" fill="#000"/>
<circle cx="248.1" cy="191" r="1.6" fill="#000"/>
<circle cx="250.6" cy="189" r="1.6" fill="#000"/>
<circle cx="248.1" cy="187" r="1.6" fill="#000"/>
<circle cx="250.6" cy="185" r="1.6" fill="#000"/>
<line x1="243.6" y1="197" x2="254.6" y2="197" stroke="#111" stroke-width="0.9"/>
<circle cx="263.2" cy="199" r="1.6" fill="#000"/>
<circle cx="262.2" cy="195" r="1.6" fill="#000"/>
<circle cx="262.7" cy="191" r="1.6" fill="#000"/>
<line x1="257.7" y1="195" x2="268.7" y2="195" stroke="#111" stroke-width="0.9"/>
<text x="170" y="185" font-size="3.6" font-weight="bold" text-anchor="middle" fill="#333" transform="rotate(-90 170 185)">abs CD4<tspan font-size="2.4" dy="-1.2">+</tspan><tspan dy="1.2"> per mL (x10</tspan><tspan font-size="2.4" dy="-1.2">9</tspan><tspan dy="1.2">)</tspan></text>
<line x1="308.5" y1="154" x2="308.5" y2="205.5" stroke="#333" stroke-width="1"/>
<line x1="308.5" y1="205.5" x2="389.5" y2="205.5" stroke="#333" stroke-width="1"/>
<line x1="306.8" y1="165" x2="308.8" y2="165" stroke="#333" stroke-width="0.7"/>
<text x="306" y="166.3" font-size="3.6" font-weight="bold" text-anchor="end" fill="#333">1,000</text>
<line x1="306.8" y1="185" x2="308.8" y2="185" stroke="#333" stroke-width="0.7"/>
<text x="306" y="186.3" font-size="3.6" font-weight="bold" text-anchor="end" fill="#333">500</text>
<line x1="306.8" y1="205" x2="308.8" y2="205" stroke="#333" stroke-width="0.7"/>
<text x="306" y="206.3" font-size="3.6" font-weight="bold" text-anchor="end" fill="#333">0</text>
<line x1="319.2" y1="205" x2="319.2" y2="206.5" stroke="#333" stroke-width="0.6"/>
<text x="319.2" y="210.8" font-size="3.8" font-weight="bold" text-anchor="middle" fill="#333">Baseline</text>
<line x1="338.6" y1="205" x2="338.6" y2="206.5" stroke="#333" stroke-width="0.6"/>
<text x="338.6" y="210.8" font-size="3.8" font-weight="bold" text-anchor="middle" fill="#333">Week</text>
<text x="338.6" y="214.6" font-size="3.8" font-weight="bold" text-anchor="middle" fill="#333">1</text>
<line x1="358.1" y1="205" x2="358.1" y2="206.5" stroke="#333" stroke-width="0.6"/>
<text x="358.1" y="210.8" font-size="3.8" font-weight="bold" text-anchor="middle" fill="#333">Week</text>
<text x="358.1" y="214.6" font-size="3.8" font-weight="bold" text-anchor="middle" fill="#333">4</text>
<line x1="378.4" y1="205" x2="378.4" y2="206.5" stroke="#333" stroke-width="0.6"/>
<text x="378.4" y="210.8" font-size="3.8" font-weight="bold" text-anchor="middle" fill="#333">Week</text>
<text x="378.4" y="214.6" font-size="3.8" font-weight="bold" text-anchor="middle" fill="#333">8</text>
<line x1="317.5" y1="160.5" x2="384.5" y2="160.5" stroke="#666" stroke-width="0.8"/>
<line x1="384.5" y1="159.3" x2="384.5" y2="161.7" stroke="#444" stroke-width="0.6"/>
<line x1="317.5" y1="159.3" x2="317.5" y2="161.7" stroke="#444" stroke-width="0.6"/>
<text x="317.8" y="162.1" font-size="3.2" font-weight="bold" text-anchor="start" fill="#333">****</text>
<line x1="317.5" y1="164.5" x2="360.5" y2="164.5" stroke="#666" stroke-width="0.8"/>
<line x1="360.5" y1="163.3" x2="360.5" y2="165.7" stroke="#444" stroke-width="0.6"/>
<line x1="317.5" y1="163.3" x2="317.5" y2="165.7" stroke="#444" stroke-width="0.6"/>
<text x="317.8" y="166.1" font-size="3.2" font-weight="bold" text-anchor="start" fill="#333">****</text>
<line x1="317.5" y1="169.5" x2="342.5" y2="169.5" stroke="#666" stroke-width="0.8"/>
<line x1="342.5" y1="168.3" x2="342.5" y2="170.7" stroke="#444" stroke-width="0.6"/>
<line x1="317.5" y1="168.3" x2="317.5" y2="170.7" stroke="#444" stroke-width="0.6"/>
<text x="317.8" y="171.1" font-size="3.2" font-weight="bold" text-anchor="start" fill="#333">****</text>
<circle cx="316.7" cy="197" r="1.6" fill="#000"/>
<circle cx="322.2" cy="194.6" r="1.6" fill="#000"/>
<circle cx="319.2" cy="193.8" r="1.6" fill="#000"/>
<circle cx="316.2" cy="193" r="1.6" fill="#000"/>
<circle cx="315.7" cy="189" r="1.6" fill="#000"/>
<circle cx="315.7" cy="181" r="1.6" fill="#000"/>
<circle cx="323.2" cy="177" r="1.6" fill="#000"/>
<circle cx="318.7" cy="175" r="1.6" fill="#000"/>
<line x1="312.9" y1="189" x2="325.5" y2="189" stroke="#111" stroke-width="0.9"/>
<circle cx="340.6" cy="199" r="1.6" fill="#000"/>
<circle cx="337.1" cy="199" r="1.6" fill="#000"/>
<circle cx="334.1" cy="198.6" r="1.6" fill="#000"/>
<circle cx="343.6" cy="198.2" r="1.6" fill="#000"/>
<circle cx="338.6" cy="197.8" r="1.6" fill="#000"/>
<circle cx="336.1" cy="197" r="1.6" fill="#000"/>
<circle cx="334.6" cy="193" r="1.6" fill="#000"/>
<line x1="332.3" y1="197.8" x2="344.9" y2="197.8" stroke="#111" stroke-width="0.9"/>
<circle cx="359.6" cy="199.8" r="1.6" fill="#000"/>
<circle cx="362.6" cy="199.4" r="1.6" fill="#000"/>
<circle cx="355.6" cy="199" r="1.6" fill="#000"/>
<circle cx="353.1" cy="199" r="1.6" fill="#000"/>
<circle cx="357.6" cy="198.6" r="1.6" fill="#000"/>
<circle cx="360.6" cy="198.2" r="1.6" fill="#000"/>
<circle cx="355.6" cy="195.8" r="1.6" fill="#000"/>
<line x1="351.8" y1="198.6" x2="364.4" y2="198.6" stroke="#111" stroke-width="0.9"/>
<circle cx="375.4" cy="201" r="1.6" fill="#000"/>
<circle cx="378.4" cy="201" r="1.6" fill="#000"/>
<circle cx="381.4" cy="200.6" r="1.6" fill="#000"/>
<circle cx="373.4" cy="200.2" r="1.6" fill="#000"/>
<circle cx="383.4" cy="199.8" r="1.6" fill="#000"/>
<circle cx="376.9" cy="199.4" r="1.6" fill="#000"/>
<circle cx="379.9" cy="199" r="1.6" fill="#000"/>
<line x1="372.1" y1="199.8" x2="384.7" y2="199.8" stroke="#111" stroke-width="0.9"/>
<text x="295.5" y="180" font-size="3.6" font-weight="bold" text-anchor="middle" fill="#333" transform="rotate(-90 295.5 180)">CD38 MFI</text>
<line x1="421.5" y1="156" x2="421.5" y2="207.5" stroke="#333" stroke-width="1"/>
<line x1="421.5" y1="207.5" x2="500" y2="207.5" stroke="#333" stroke-width="1"/>
<line x1="419" y1="159" x2="421" y2="159" stroke="#333" stroke-width="0.7"/>
<text x="418.2" y="160.3" font-size="3.6" font-weight="bold" text-anchor="end" fill="#333">1.5</text>
<line x1="419" y1="175" x2="421" y2="175" stroke="#333" stroke-width="0.7"/>
<text x="418.2" y="176.3" font-size="3.6" font-weight="bold" text-anchor="end" fill="#333">1.0</text>
<line x1="419" y1="191" x2="421" y2="191" stroke="#333" stroke-width="0.7"/>
<text x="418.2" y="192.3" font-size="3.6" font-weight="bold" text-anchor="end" fill="#333">0.5</text>
<line x1="419" y1="207" x2="421" y2="207" stroke="#333" stroke-width="0.7"/>
<text x="418.2" y="208.3" font-size="3.6" font-weight="bold" text-anchor="end" fill="#333">0.0</text>
<line x1="431.8" y1="207" x2="431.8" y2="208.5" stroke="#333" stroke-width="0.6"/>
<text x="431.8" y="212.8" font-size="3.8" font-weight="bold" text-anchor="middle" fill="#333">Baseline</text>
<line x1="450.6" y1="207" x2="450.6" y2="208.5" stroke="#333" stroke-width="0.6"/>
<text x="450.6" y="212.8" font-size="3.8" font-weight="bold" text-anchor="middle" fill="#333">Week</text>
<text x="450.6" y="216.6" font-size="3.8" font-weight="bold" text-anchor="middle" fill="#333">1</text>
<line x1="469.8" y1="207" x2="469.8" y2="208.5" stroke="#333" stroke-width="0.6"/>
<text x="469.8" y="212.8" font-size="3.8" font-weight="bold" text-anchor="middle" fill="#333">Week</text>
<text x="469.8" y="216.6" font-size="3.8" font-weight="bold" text-anchor="middle" fill="#333">4</text>
<line x1="490.2" y1="207" x2="490.2" y2="208.5" stroke="#333" stroke-width="0.6"/>
<text x="490.2" y="212.8" font-size="3.8" font-weight="bold" text-anchor="middle" fill="#333">Week</text>
<text x="490.2" y="216.6" font-size="3.8" font-weight="bold" text-anchor="middle" fill="#333">8</text>
<line x1="429" y1="159.5" x2="497.5" y2="159.5" stroke="#666" stroke-width="0.8"/>
<line x1="497.5" y1="158.3" x2="497.5" y2="160.7" stroke="#444" stroke-width="0.6"/>
<line x1="429" y1="158.3" x2="429" y2="160.7" stroke="#444" stroke-width="0.6"/>
<text x="429.3" y="161.1" font-size="3.2" font-weight="bold" text-anchor="start" fill="#333">****</text>
<line x1="429" y1="162.5" x2="470.5" y2="162.5" stroke="#666" stroke-width="0.8"/>
<line x1="470.5" y1="161.3" x2="470.5" y2="163.7" stroke="#444" stroke-width="0.6"/>
<line x1="429" y1="161.3" x2="429" y2="163.7" stroke="#444" stroke-width="0.6"/>
<text x="429.3" y="164.1" font-size="3.2" font-weight="bold" text-anchor="start" fill="#333">****</text>
<line x1="429" y1="167.5" x2="452.5" y2="167.5" stroke="#666" stroke-width="0.8"/>
<line x1="452.5" y1="166.3" x2="452.5" y2="168.7" stroke="#444" stroke-width="0.6"/>
<line x1="429" y1="166.3" x2="429" y2="168.7" stroke="#444" stroke-width="0.6"/>
<text x="429.3" y="169.1" font-size="3.2" font-weight="bold" text-anchor="start" fill="#333">****</text>
<circle cx="432.8" cy="200.6" r="1.6" fill="#000"/>
<circle cx="429.8" cy="199.96" r="1.6" fill="#000"/>
<circle cx="435.3" cy="199" r="1.6" fill="#000"/>
<circle cx="427.3" cy="198.04" r="1.6" fill="#000"/>
<circle cx="432.8" cy="197.4" r="1.6" fill="#000"/>
<circle cx="436.8" cy="196.44" r="1.6" fill="#000"/>
<circle cx="429.8" cy="195.8" r="1.6" fill="#000"/>
<line x1="425.5" y1="198.04" x2="438.1" y2="198.04" stroke="#111" stroke-width="0.9"/>
<circle cx="454.1" cy="204.44" r="1.6" fill="#000"/>
<circle cx="451.1" cy="203.8" r="1.6" fill="#000"/>
<circle cx="448.1" cy="203.8" r="1.6" fill="#000"/>
<circle cx="445.6" cy="202.2" r="1.6" fill="#000"/>
<circle cx="449.6" cy="200.6" r="1.6" fill="#000"/>
<circle cx="454.1" cy="198.04" r="1.6" fill="#000"/>
<circle cx="451.1" cy="197.4" r="1.6" fill="#000"/>
<circle cx="448.6" cy="195.8" r="1.6" fill="#000"/>
<line x1="444.3" y1="200.6" x2="456.9" y2="200.6" stroke="#111" stroke-width="0.9"/>
<circle cx="471.8" cy="205.4" r="1.6" fill="#000"/>
<circle cx="474.8" cy="204.44" r="1.6" fill="#000"/>
<circle cx="468.8" cy="203.8" r="1.6" fill="#000"/>
<circle cx="471.8" cy="202.2" r="1.6" fill="#000"/>
<circle cx="466.3" cy="200.6" r="1.6" fill="#000"/>
<circle cx="468.8" cy="199" r="1.6" fill="#000"/>
<circle cx="469.3" cy="195.8" r="1.6" fill="#000"/>
<circle cx="465.8" cy="181.4" r="1.6" fill="#000"/>
<line x1="463.5" y1="199.96" x2="476.1" y2="199.96" stroke="#111" stroke-width="0.9"/>
<circle cx="489.2" cy="203.8" r="1.6" fill="#000"/>
<circle cx="491.7" cy="202.2" r="1.6" fill="#000"/>
<circle cx="489.2" cy="200.6" r="1.6" fill="#000"/>
<circle cx="486.7" cy="199" r="1.6" fill="#000"/>
<circle cx="493.7" cy="198.04" r="1.6" fill="#000"/>
<circle cx="490.7" cy="197.4" r="1.6" fill="#000"/>
<circle cx="488.7" cy="194.2" r="1.6" fill="#000"/>
<line x1="483.9" y1="199" x2="496.5" y2="199" stroke="#111" stroke-width="0.9"/>
<text x="403" y="182" font-size="3.6" font-weight="bold" text-anchor="middle" fill="#333" transform="rotate(-90 403 182)">abs CD4<tspan font-size="2.4" dy="-1.2">+</tspan><tspan dy="1.2"> per mL (x10</tspan><tspan font-size="2.4" dy="-1.2">9</tspan><tspan dy="1.2">)</tspan></text>
<line x1="75.5" y1="228" x2="75.5" y2="278.5" stroke="#333" stroke-width="1"/>
<line x1="75.5" y1="278.5" x2="160" y2="278.5" stroke="#333" stroke-width="1"/>
<line x1="73.4" y1="230" x2="75.4" y2="230" stroke="#333" stroke-width="0.7"/>
<text x="72.6" y="231.3" font-size="3.6" font-weight="bold" text-anchor="end" fill="#333">5,000</text>
<line x1="73.4" y1="239.5" x2="75.4" y2="239.5" stroke="#333" stroke-width="0.7"/>
<text x="72.6" y="240.8" font-size="3.6" font-weight="bold" text-anchor="end" fill="#333">4,000</text>
<line x1="73.4" y1="249.5" x2="75.4" y2="249.5" stroke="#333" stroke-width="0.7"/>
<text x="72.6" y="250.8" font-size="3.6" font-weight="bold" text-anchor="end" fill="#333">3,000</text>
<line x1="73.4" y1="259" x2="75.4" y2="259" stroke="#333" stroke-width="0.7"/>
<text x="72.6" y="260.3" font-size="3.6" font-weight="bold" text-anchor="end" fill="#333">2,000</text>
<line x1="73.4" y1="269" x2="75.4" y2="269" stroke="#333" stroke-width="0.7"/>
<text x="72.6" y="270.3" font-size="3.6" font-weight="bold" text-anchor="end" fill="#333">1,000</text>
<line x1="73.4" y1="278" x2="75.4" y2="278" stroke="#333" stroke-width="0.7"/>
<text x="72.6" y="279.3" font-size="3.6" font-weight="bold" text-anchor="end" fill="#333">0</text>
<line x1="82.6" y1="278" x2="82.6" y2="279.5" stroke="#333" stroke-width="0.6"/>
<text x="82.6" y="283.8" font-size="3.4" font-weight="bold" text-anchor="middle" fill="#333">Base-</text>
<text x="82.6" y="287.6" font-size="3.4" font-weight="bold" text-anchor="middle" fill="#333">line</text>
<line x1="96.8" y1="278" x2="96.8" y2="279.5" stroke="#333" stroke-width="0.6"/>
<text x="96.8" y="283.8" font-size="3.4" font-weight="bold" text-anchor="middle" fill="#333">Week</text>
<text x="96.8" y="287.6" font-size="3.4" font-weight="bold" text-anchor="middle" fill="#333">1</text>
<line x1="110.9" y1="278" x2="110.9" y2="279.5" stroke="#333" stroke-width="0.6"/>
<text x="110.9" y="283.8" font-size="3.4" font-weight="bold" text-anchor="middle" fill="#333">Week</text>
<text x="110.9" y="287.6" font-size="3.4" font-weight="bold" text-anchor="middle" fill="#333">4</text>
<line x1="124.6" y1="278" x2="124.6" y2="279.5" stroke="#333" stroke-width="0.6"/>
<text x="124.6" y="283.8" font-size="3.4" font-weight="bold" text-anchor="middle" fill="#333">Week</text>
<text x="124.6" y="287.6" font-size="3.4" font-weight="bold" text-anchor="middle" fill="#333">8</text>
<line x1="138.6" y1="278" x2="138.6" y2="279.5" stroke="#333" stroke-width="0.6"/>
<text x="138.6" y="283.8" font-size="3.4" font-weight="bold" text-anchor="middle" fill="#333">Relapse</text>
<line x1="152.8" y1="278" x2="152.8" y2="279.5" stroke="#333" stroke-width="0.6"/>
<text x="152.8" y="283.8" font-size="3.4" font-weight="bold" text-anchor="middle" fill="#333">EOT</text>
<text x="152.8" y="287.6" font-size="3.4" font-weight="bold" text-anchor="middle" fill="#333">8</text>
<line x1="82.5" y1="230.5" x2="155" y2="230.5" stroke="#666" stroke-width="0.8"/>
<line x1="155" y1="229.3" x2="155" y2="231.7" stroke="#444" stroke-width="0.6"/>
<line x1="82.5" y1="229.3" x2="82.5" y2="231.7" stroke="#444" stroke-width="0.6"/>
<text x="82.8" y="232.1" font-size="3.2" font-weight="bold" text-anchor="start" fill="#333">****</text>
<line x1="82.5" y1="234.5" x2="144" y2="234.5" stroke="#666" stroke-width="0.8"/>
<line x1="144" y1="233.3" x2="144" y2="235.7" stroke="#444" stroke-width="0.6"/>
<line x1="82.5" y1="233.3" x2="82.5" y2="235.7" stroke="#444" stroke-width="0.6"/>
<text x="82.8" y="236.1" font-size="3.2" font-weight="bold" text-anchor="start" fill="#333">****</text>
<line x1="82.5" y1="238.5" x2="127.5" y2="238.5" stroke="#666" stroke-width="0.8"/>
<line x1="127.5" y1="237.3" x2="127.5" y2="239.7" stroke="#444" stroke-width="0.6"/>
<line x1="82.5" y1="237.3" x2="82.5" y2="239.7" stroke="#444" stroke-width="0.6"/>
<text x="82.8" y="240.1" font-size="3.2" font-weight="bold" text-anchor="start" fill="#333">****</text>
<line x1="82.5" y1="242.5" x2="114.5" y2="242.5" stroke="#666" stroke-width="0.8"/>
<line x1="114.5" y1="241.3" x2="114.5" y2="243.7" stroke="#444" stroke-width="0.6"/>
<line x1="82.5" y1="241.3" x2="82.5" y2="243.7" stroke="#444" stroke-width="0.6"/>
<text x="82.8" y="244.1" font-size="3.2" font-weight="bold" text-anchor="start" fill="#333">****</text>
<line x1="82.5" y1="245.5" x2="99.5" y2="245.5" stroke="#666" stroke-width="0.8"/>
<line x1="99.5" y1="244.3" x2="99.5" y2="246.7" stroke="#444" stroke-width="0.6"/>
<line x1="82.5" y1="244.3" x2="82.5" y2="246.7" stroke="#444" stroke-width="0.6"/>
<text x="82.8" y="247.1" font-size="3.2" font-weight="bold" text-anchor="start" fill="#333">****</text>
<circle cx="83.1" cy="270.32" r="1.6" fill="#000"/>
<circle cx="80.1" cy="269.84" r="1.6" fill="#000"/>
<circle cx="86.1" cy="269.36" r="1.6" fill="#000"/>
<circle cx="82.1" cy="268.88" r="1.6" fill="#000"/>
<circle cx="79.1" cy="268.4" r="1.6" fill="#000"/>
<circle cx="84.1" cy="267.44" r="1.6" fill="#000"/>
<circle cx="81.1" cy="266.48" r="1.6" fill="#000"/>
<circle cx="86.1" cy="265.52" r="1.6" fill="#000"/>
<circle cx="83.1" cy="264.56" r="1.6" fill="#000"/>
<circle cx="80.1" cy="263.6" r="1.6" fill="#000"/>
<circle cx="85.6" cy="262.64" r="1.6" fill="#000"/>
<circle cx="82.6" cy="261.68" r="1.6" fill="#000"/>
<line x1="77.1" y1="267.44" x2="88.1" y2="267.44" stroke="#111" stroke-width="0.9"/>
<circle cx="96.3" cy="274.16" r="1.6" fill="#000"/>
<circle cx="99.3" cy="273.68" r="1.6" fill="#000"/>
<circle cx="93.3" cy="273.2" r="1.6" fill="#000"/>
<circle cx="97.3" cy="272.72" r="1.6" fill="#000"/>
<circle cx="100.3" cy="272.24" r="1.6" fill="#000"/>
<circle cx="94.8" cy="271.76" r="1.6" fill="#000"/>
<circle cx="98.3" cy="271.28" r="1.6" fill="#000"/>
<circle cx="97.8" cy="265.52" r="1.6" fill="#000"/>
<line x1="91.3" y1="272.24" x2="102.3" y2="272.24" stroke="#111" stroke-width="0.9"/>
<circle cx="110.9" cy="274.16" r="1.6" fill="#000"/>
<circle cx="113.9" cy="273.2" r="1.6" fill="#000"/>
<circle cx="108.4" cy="272.72" r="1.6" fill="#000"/>
<circle cx="111.4" cy="272.24" r="1.6" fill="#000"/>
<circle cx="114.4" cy="271.76" r="1.6" fill="#000"/>
<circle cx="107.4" cy="271.28" r="1.6" fill="#000"/>
<circle cx="109.9" cy="270.32" r="1.6" fill="#000"/>
<circle cx="112.4" cy="268.4" r="1.6" fill="#000"/>
<circle cx="110.9" cy="259.76" r="1.6" fill="#000"/>
<line x1="105.4" y1="271.28" x2="116.4" y2="271.28" stroke="#111" stroke-width="0.9"/>
<circle cx="125.1" cy="273.2" r="1.6" fill="#000"/>
<circle cx="122.1" cy="272.24" r="1.6" fill="#000"/>
<circle cx="127.6" cy="271.76" r="1.6" fill="#000"/>
<circle cx="124.6" cy="271.28" r="1.6" fill="#000"/>
<circle cx="121.1" cy="270.32" r="1.6" fill="#000"/>
<circle cx="126.6" cy="269.36" r="1.6" fill="#000"/>
<circle cx="124.6" cy="262.64" r="1.6" fill="#000"/>
<line x1="119.1" y1="271.28" x2="130.1" y2="271.28" stroke="#111" stroke-width="0.9"/>
<circle cx="138.6" cy="273.68" r="1.6" fill="#000"/>
<circle cx="135.6" cy="273.2" r="1.6" fill="#000"/>
<circle cx="141.6" cy="272.72" r="1.6" fill="#000"/>
<circle cx="137.6" cy="272.24" r="1.6" fill="#000"/>
<circle cx="140.1" cy="271.76" r="1.6" fill="#000"/>
<circle cx="135.1" cy="271.28" r="1.6" fill="#000"/>
<circle cx="138.1" cy="269.36" r="1.6" fill="#000"/>
<line x1="133.1" y1="272.24" x2="144.1" y2="272.24" stroke="#111" stroke-width="0.9"/>
<circle cx="152.3" cy="272.24" r="1.6" fill="#000"/>
<circle cx="155.3" cy="272.24" r="1.6" fill="#000"/>
<circle cx="152.8" cy="267.44" r="1.6" fill="#000"/>
<circle cx="152.3" cy="237.68" r="1.6" fill="#000"/>
<line x1="147.3" y1="262.64" x2="158.3" y2="262.64" stroke="#111" stroke-width="0.9"/>
<text x="58.8" y="253.5" font-size="3.6" font-weight="bold" text-anchor="middle" fill="#333" transform="rotate(-90 58.8 253.5)">CD38 MFI</text>
<line x1="186.5" y1="228.5" x2="186.5" y2="278.5" stroke="#333" stroke-width="1"/>
<line x1="186.5" y1="278.5" x2="271" y2="278.5" stroke="#333" stroke-width="1"/>
<line x1="184" y1="238" x2="186" y2="238" stroke="#333" stroke-width="0.7"/>
<text x="183.2" y="239.3" font-size="3.6" font-weight="bold" text-anchor="end" fill="#333">2.0</text>
<line x1="184" y1="248" x2="186" y2="248" stroke="#333" stroke-width="0.7"/>
<text x="183.2" y="249.3" font-size="3.6" font-weight="bold" text-anchor="end" fill="#333">1.5</text>
<line x1="184" y1="258" x2="186" y2="258" stroke="#333" stroke-width="0.7"/>
<text x="183.2" y="259.3" font-size="3.6" font-weight="bold" text-anchor="end" fill="#333">1.0</text>
<line x1="184" y1="268" x2="186" y2="268" stroke="#333" stroke-width="0.7"/>
<text x="183.2" y="269.3" font-size="3.6" font-weight="bold" text-anchor="end" fill="#333">0.5</text>
<line x1="184" y1="278" x2="186" y2="278" stroke="#333" stroke-width="0.7"/>
<text x="183.2" y="279.3" font-size="3.6" font-weight="bold" text-anchor="end" fill="#333">0.0</text>
<line x1="191.9" y1="278" x2="191.9" y2="279.5" stroke="#333" stroke-width="0.6"/>
<text x="191.9" y="283.8" font-size="3.4" font-weight="bold" text-anchor="middle" fill="#333">Base-</text>
<text x="191.9" y="287.6" font-size="3.4" font-weight="bold" text-anchor="middle" fill="#333">line</text>
<line x1="205.6" y1="278" x2="205.6" y2="279.5" stroke="#333" stroke-width="0.6"/>
<text x="205.6" y="283.8" font-size="3.4" font-weight="bold" text-anchor="middle" fill="#333">Week</text>
<text x="205.6" y="287.6" font-size="3.4" font-weight="bold" text-anchor="middle" fill="#333">1</text>
<line x1="220.6" y1="278" x2="220.6" y2="279.5" stroke="#333" stroke-width="0.6"/>
<text x="220.6" y="283.8" font-size="3.4" font-weight="bold" text-anchor="middle" fill="#333">Week</text>
<text x="220.6" y="287.6" font-size="3.4" font-weight="bold" text-anchor="middle" fill="#333">4</text>
<line x1="234.5" y1="278" x2="234.5" y2="279.5" stroke="#333" stroke-width="0.6"/>
<text x="234.5" y="283.8" font-size="3.4" font-weight="bold" text-anchor="middle" fill="#333">Week</text>
<text x="234.5" y="287.6" font-size="3.4" font-weight="bold" text-anchor="middle" fill="#333">8</text>
<line x1="249.1" y1="278" x2="249.1" y2="279.5" stroke="#333" stroke-width="0.6"/>
<text x="249.1" y="283.8" font-size="3.4" font-weight="bold" text-anchor="middle" fill="#333">Relapse</text>
<line x1="263.2" y1="278" x2="263.2" y2="279.5" stroke="#333" stroke-width="0.6"/>
<text x="263.2" y="283.8" font-size="3.4" font-weight="bold" text-anchor="middle" fill="#333">EOT</text>
<text x="263.2" y="287.6" font-size="3.4" font-weight="bold" text-anchor="middle" fill="#333">8</text>
<line x1="192.5" y1="232.5" x2="264.5" y2="232.5" stroke="#666" stroke-width="0.8"/>
<line x1="264.5" y1="231.3" x2="264.5" y2="233.7" stroke="#444" stroke-width="0.6"/>
<line x1="192.5" y1="231.3" x2="192.5" y2="233.7" stroke="#444" stroke-width="0.6"/>
<text x="192.8" y="234.1" font-size="3.2" font-weight="bold" text-anchor="start" fill="#333">****</text>
<line x1="192.5" y1="236.5" x2="250.5" y2="236.5" stroke="#666" stroke-width="0.8"/>
<line x1="250.5" y1="235.3" x2="250.5" y2="237.7" stroke="#444" stroke-width="0.6"/>
<line x1="192.5" y1="235.3" x2="192.5" y2="237.7" stroke="#444" stroke-width="0.6"/>
<text x="192.8" y="238.1" font-size="3.2" font-weight="bold" text-anchor="start" fill="#333">****</text>
<line x1="192.5" y1="240.5" x2="236" y2="240.5" stroke="#666" stroke-width="0.8"/>
<line x1="236" y1="239.3" x2="236" y2="241.7" stroke="#444" stroke-width="0.6"/>
<line x1="192.5" y1="239.3" x2="192.5" y2="241.7" stroke="#444" stroke-width="0.6"/>
<text x="192.8" y="242.1" font-size="3.2" font-weight="bold" text-anchor="start" fill="#333">****</text>
<line x1="192.5" y1="244.5" x2="222.5" y2="244.5" stroke="#333" stroke-width="1.1"/>
<line x1="222.5" y1="243.3" x2="222.5" y2="245.7" stroke="#444" stroke-width="0.6"/>
<line x1="192.5" y1="243.3" x2="192.5" y2="245.7" stroke="#444" stroke-width="0.6"/>
<text x="192.8" y="246.1" font-size="3.2" font-weight="bold" text-anchor="start" fill="#333">****</text>
<line x1="192.5" y1="248.5" x2="210" y2="248.5" stroke="#666" stroke-width="0.8"/>
<line x1="210" y1="247.3" x2="210" y2="249.7" stroke="#444" stroke-width="0.6"/>
<line x1="192.5" y1="247.3" x2="192.5" y2="249.7" stroke="#444" stroke-width="0.6"/>
<text x="192.8" y="250.1" font-size="3.2" font-weight="bold" text-anchor="start" fill="#333">****</text>
<circle cx="192.4" cy="276" r="1.6" fill="#000"/>
<circle cx="189.4" cy="275" r="1.6" fill="#000"/>
<circle cx="194.9" cy="274" r="1.6" fill="#000"/>
<circle cx="191.9" cy="273" r="1.6" fill="#000"/>
<circle cx="188.9" cy="272" r="1.6" fill="#000"/>
<circle cx="194.4" cy="271" r="1.6" fill="#000"/>
<circle cx="191.4" cy="270" r="1.6" fill="#000"/>
<circle cx="188.4" cy="269" r="1.6" fill="#000"/>
<circle cx="193.9" cy="268" r="1.6" fill="#000"/>
<circle cx="191.4" cy="266" r="1.6" fill="#000"/>
<circle cx="188.9" cy="264" r="1.6" fill="#000"/>
<circle cx="192.9" cy="262" r="1.6" fill="#000"/>
<line x1="186.4" y1="271" x2="197.4" y2="271" stroke="#111" stroke-width="0.9"/>
<circle cx="206.6" cy="276" r="1.6" fill="#000"/>
<circle cx="203.6" cy="275" r="1.6" fill="#000"/>
<circle cx="209.1" cy="274" r="1.6" fill="#000"/>
<circle cx="206.1" cy="273" r="1.6" fill="#000"/>
<circle cx="203.1" cy="272" r="1.6" fill="#000"/>
<circle cx="208.6" cy="271" r="1.6" fill="#000"/>
<circle cx="205.6" cy="270" r="1.6" fill="#000"/>
<circle cx="202.6" cy="269" r="1.6" fill="#000"/>
<circle cx="208.1" cy="268" r="1.6" fill="#000"/>
<circle cx="205.6" cy="266" r="1.6" fill="#000"/>
<circle cx="205.6" cy="263" r="1.6" fill="#000"/>
<line x1="200.1" y1="271" x2="211.1" y2="271" stroke="#111" stroke-width="0.9"/>
<circle cx="221.6" cy="276" r="1.6" fill="#000"/>
<circle cx="219.1" cy="274" r="1.6" fill="#000"/>
<circle cx="221.6" cy="272" r="1.6" fill="#000"/>
<circle cx="219.1" cy="270" r="1.6" fill="#000"/>
<circle cx="222.1" cy="269" r="1.6" fill="#000"/>
<circle cx="217.1" cy="268" r="1.6" fill="#000"/>
<circle cx="220.1" cy="266" r="1.6" fill="#000"/>
<circle cx="217.1" cy="265" r="1.6" fill="#000"/>
<line x1="215.1" y1="270" x2="226.1" y2="270" stroke="#111" stroke-width="0.9"/>
<circle cx="234.5" cy="277" r="1.6" fill="#000"/>
<circle cx="231.5" cy="276" r="1.6" fill="#000"/>
<circle cx="234.5" cy="274" r="1.6" fill="#000"/>
<circle cx="237" cy="272" r="1.6" fill="#000"/>
<circle cx="234.5" cy="270" r="1.6" fill="#000"/>
<circle cx="232" cy="268" r="1.6" fill="#000"/>
<circle cx="234.5" cy="266" r="1.6" fill="#000"/>
<circle cx="232" cy="264" r="1.6" fill="#000"/>
<circle cx="235" cy="260" r="1.6" fill="#000"/>
<circle cx="234.5" cy="256" r="1.6" fill="#000"/>
<circle cx="235.5" cy="250" r="1.6" fill="#000"/>
<circle cx="235.5" cy="244" r="1.6" fill="#000"/>
<line x1="229" y1="265" x2="240" y2="265" stroke="#111" stroke-width="0.9"/>
<circle cx="249.6" cy="276" r="1.6" fill="#000"/>
<circle cx="247.1" cy="274" r="1.6" fill="#000"/>
<circle cx="249.6" cy="272" r="1.6" fill="#000"/>
<circle cx="252.1" cy="270" r="1.6" fill="#000"/>
<circle cx="249.6" cy="268" r="1.6" fill="#000"/>
<circle cx="249.6" cy="265" r="1.6" fill="#000"/>
<circle cx="246.6" cy="264" r="1.6" fill="#000"/>
<circle cx="248.6" cy="258" r="1.6" fill="#000"/>
<circle cx="249.6" cy="247" r="1.6" fill="#000"/>
<circle cx="246.6" cy="246" r="1.6" fill="#000"/>
<line x1="243.6" y1="266" x2="254.6" y2="266" stroke="#111" stroke-width="0.9"/>
<circle cx="263.2" cy="269" r="1.6" fill="#000"/>
<circle cx="266.2" cy="269" r="1.6" fill="#000"/>
<circle cx="263.7" cy="266" r="1.6" fill="#000"/>
<line x1="257.7" y1="269" x2="268.7" y2="269" stroke="#111" stroke-width="0.9"/>
<text x="170" y="253.75" font-size="3.6" font-weight="bold" text-anchor="middle" fill="#333" transform="rotate(-90 170 253.75)">abs CD8<tspan font-size="2.4" dy="-1.2">+</tspan><tspan dy="1.2"> per mL (x10</tspan><tspan font-size="2.4" dy="-1.2">9</tspan><tspan dy="1.2">)</tspan></text>
<line x1="308.5" y1="225" x2="308.5" y2="275.5" stroke="#333" stroke-width="1"/>
<line x1="308.5" y1="275.5" x2="390" y2="275.5" stroke="#333" stroke-width="1"/>
<line x1="306.8" y1="227" x2="308.8" y2="227" stroke="#333" stroke-width="0.7"/>
<text x="306" y="228.3" font-size="3.6" font-weight="bold" text-anchor="end" fill="#333">800</text>
<line x1="306.8" y1="239" x2="308.8" y2="239" stroke="#333" stroke-width="0.7"/>
<text x="306" y="240.3" font-size="3.6" font-weight="bold" text-anchor="end" fill="#333">600</text>
<line x1="306.8" y1="251" x2="308.8" y2="251" stroke="#333" stroke-width="0.7"/>
<text x="306" y="252.3" font-size="3.6" font-weight="bold" text-anchor="end" fill="#333">400</text>
<line x1="306.8" y1="263" x2="308.8" y2="263" stroke="#333" stroke-width="0.7"/>
<text x="306" y="264.3" font-size="3.6" font-weight="bold" text-anchor="end" fill="#333">200</text>
<line x1="306.8" y1="275" x2="308.8" y2="275" stroke="#333" stroke-width="0.7"/>
<text x="306" y="276.3" font-size="3.6" font-weight="bold" text-anchor="end" fill="#333">0</text>
<line x1="319.2" y1="275" x2="319.2" y2="276.5" stroke="#333" stroke-width="0.6"/>
<text x="319.2" y="280.8" font-size="3.8" font-weight="bold" text-anchor="middle" fill="#333">Baseline</text>
<line x1="338.6" y1="275" x2="338.6" y2="276.5" stroke="#333" stroke-width="0.6"/>
<text x="338.6" y="280.8" font-size="3.8" font-weight="bold" text-anchor="middle" fill="#333">Week</text>
<text x="338.6" y="284.6" font-size="3.8" font-weight="bold" text-anchor="middle" fill="#333">1</text>
<line x1="358.1" y1="275" x2="358.1" y2="276.5" stroke="#333" stroke-width="0.6"/>
<text x="358.1" y="280.8" font-size="3.8" font-weight="bold" text-anchor="middle" fill="#333">Week</text>
<text x="358.1" y="284.6" font-size="3.8" font-weight="bold" text-anchor="middle" fill="#333">4</text>
<line x1="378.4" y1="275" x2="378.4" y2="276.5" stroke="#333" stroke-width="0.6"/>
<text x="378.4" y="280.8" font-size="3.8" font-weight="bold" text-anchor="middle" fill="#333">Week</text>
<text x="378.4" y="284.6" font-size="3.8" font-weight="bold" text-anchor="middle" fill="#333">8</text>
<line x1="317.5" y1="228.5" x2="387" y2="228.5" stroke="#666" stroke-width="0.8"/>
<line x1="387" y1="227.3" x2="387" y2="229.7" stroke="#444" stroke-width="0.6"/>
<line x1="317.5" y1="227.3" x2="317.5" y2="229.7" stroke="#444" stroke-width="0.6"/>
<text x="317.8" y="230.1" font-size="3.2" font-weight="bold" text-anchor="start" fill="#333">****</text>
<line x1="317.5" y1="232.5" x2="360.5" y2="232.5" stroke="#666" stroke-width="0.8"/>
<line x1="360.5" y1="231.3" x2="360.5" y2="233.7" stroke="#444" stroke-width="0.6"/>
<line x1="317.5" y1="231.3" x2="317.5" y2="233.7" stroke="#444" stroke-width="0.6"/>
<text x="317.8" y="234.1" font-size="3.2" font-weight="bold" text-anchor="start" fill="#333">****</text>
<line x1="317.5" y1="237.5" x2="342.5" y2="237.5" stroke="#666" stroke-width="0.8"/>
<line x1="342.5" y1="236.3" x2="342.5" y2="238.7" stroke="#444" stroke-width="0.6"/>
<line x1="317.5" y1="236.3" x2="317.5" y2="238.7" stroke="#444" stroke-width="0.6"/>
<text x="317.8" y="239.1" font-size="3.2" font-weight="bold" text-anchor="start" fill="#333">****</text>
<circle cx="316.7" cy="266.6" r="1.6" fill="#000"/>
<circle cx="317.2" cy="260" r="1.6" fill="#000"/>
<circle cx="323.2" cy="257.6" r="1.6" fill="#000"/>
<circle cx="320.2" cy="257" r="1.6" fill="#000"/>
<circle cx="317.2" cy="255.8" r="1.6" fill="#000"/>
<circle cx="314.2" cy="255.2" r="1.6" fill="#000"/>
<circle cx="315.7" cy="248.6" r="1.6" fill="#000"/>
<circle cx="318.7" cy="247.4" r="1.6" fill="#000"/>
<circle cx="318.7" cy="240.8" r="1.6" fill="#000"/>
<line x1="312.9" y1="254" x2="325.5" y2="254" stroke="#111" stroke-width="0.9"/>
<circle cx="339.6" cy="264.8" r="1.6" fill="#000"/>
<circle cx="335.1" cy="264.2" r="1.6" fill="#000"/>
<circle cx="342.6" cy="263.6" r="1.6" fill="#000"/>
<circle cx="337.6" cy="263" r="1.6" fill="#000"/>
<circle cx="333.6" cy="261.8" r="1.6" fill="#000"/>
<circle cx="340.1" cy="258.2" r="1.6" fill="#000"/>
<circle cx="339.1" cy="250.4" r="1.6" fill="#000"/>
<line x1="332.3" y1="262.4" x2="344.9" y2="262.4" stroke="#111" stroke-width="0.9"/>
<circle cx="359.1" cy="266" r="1.6" fill="#000"/>
<circle cx="356.1" cy="266" r="1.6" fill="#000"/>
<circle cx="361.6" cy="264.2" r="1.6" fill="#000"/>
<circle cx="355.6" cy="263" r="1.6" fill="#000"/>
<circle cx="358.6" cy="261.8" r="1.6" fill="#000"/>
<circle cx="360.1" cy="258.8" r="1.6" fill="#000"/>
<circle cx="363.1" cy="258.2" r="1.6" fill="#000"/>
<line x1="351.8" y1="262.4" x2="364.4" y2="262.4" stroke="#111" stroke-width="0.9"/>
<circle cx="374.9" cy="269" r="1.6" fill="#000"/>
<circle cx="375.4" cy="266" r="1.6" fill="#000"/>
<circle cx="380.9" cy="264.8" r="1.6" fill="#000"/>
<circle cx="377.9" cy="264.2" r="1.6" fill="#000"/>
<circle cx="383.4" cy="263" r="1.6" fill="#000"/>
<circle cx="375.9" cy="261.8" r="1.6" fill="#000"/>
<circle cx="377.9" cy="252.8" r="1.6" fill="#000"/>
<line x1="372.1" y1="263" x2="384.7" y2="263" stroke="#111" stroke-width="0.9"/>
<text x="295.5" y="250.5" font-size="3.6" font-weight="bold" text-anchor="middle" fill="#333" transform="rotate(-90 295.5 250.5)">CD38 MFI</text>
<line x1="421.5" y1="225" x2="421.5" y2="275.5" stroke="#333" stroke-width="1"/>
<line x1="421.5" y1="275.5" x2="500" y2="275.5" stroke="#333" stroke-width="1"/>
<line x1="419" y1="227" x2="421" y2="227" stroke="#333" stroke-width="0.7"/>
<text x="418.2" y="228.3" font-size="3.6" font-weight="bold" text-anchor="end" fill="#333">2.0</text>
<line x1="419" y1="239" x2="421" y2="239" stroke="#333" stroke-width="0.7"/>
<text x="418.2" y="240.3" font-size="3.6" font-weight="bold" text-anchor="end" fill="#333">1.5</text>
<line x1="419" y1="251" x2="421" y2="251" stroke="#333" stroke-width="0.7"/>
<text x="418.2" y="252.3" font-size="3.6" font-weight="bold" text-anchor="end" fill="#333">1.0</text>
<line x1="419" y1="263" x2="421" y2="263" stroke="#333" stroke-width="0.7"/>
<text x="418.2" y="264.3" font-size="3.6" font-weight="bold" text-anchor="end" fill="#333">0.5</text>
<line x1="419" y1="275" x2="421" y2="275" stroke="#333" stroke-width="0.7"/>
<text x="418.2" y="276.3" font-size="3.6" font-weight="bold" text-anchor="end" fill="#333">0.0</text>
<line x1="431.8" y1="275" x2="431.8" y2="276.5" stroke="#333" stroke-width="0.6"/>
<text x="431.8" y="280.8" font-size="3.8" font-weight="bold" text-anchor="middle" fill="#333">Baseline</text>
<line x1="450.6" y1="275" x2="450.6" y2="276.5" stroke="#333" stroke-width="0.6"/>
<text x="450.6" y="280.8" font-size="3.8" font-weight="bold" text-anchor="middle" fill="#333">Week</text>
<text x="450.6" y="284.6" font-size="3.8" font-weight="bold" text-anchor="middle" fill="#333">1</text>
<line x1="469.8" y1="275" x2="469.8" y2="276.5" stroke="#333" stroke-width="0.6"/>
<text x="469.8" y="280.8" font-size="3.8" font-weight="bold" text-anchor="middle" fill="#333">Week</text>
<text x="469.8" y="284.6" font-size="3.8" font-weight="bold" text-anchor="middle" fill="#333">4</text>
<line x1="490.2" y1="275" x2="490.2" y2="276.5" stroke="#333" stroke-width="0.6"/>
<text x="490.2" y="280.8" font-size="3.8" font-weight="bold" text-anchor="middle" fill="#333">Week</text>
<text x="490.2" y="284.6" font-size="3.8" font-weight="bold" text-anchor="middle" fill="#333">8</text>
<line x1="430" y1="227.5" x2="497.5" y2="227.5" stroke="#666" stroke-width="0.8"/>
<line x1="497.5" y1="226.3" x2="497.5" y2="228.7" stroke="#444" stroke-width="0.6"/>
<line x1="430" y1="226.3" x2="430" y2="228.7" stroke="#444" stroke-width="0.6"/>
<text x="430.3" y="229.1" font-size="3.2" font-weight="bold" text-anchor="start" fill="#333">****</text>
<line x1="430" y1="231.5" x2="470.5" y2="231.5" stroke="#666" stroke-width="0.8"/>
<line x1="470.5" y1="230.3" x2="470.5" y2="232.7" stroke="#444" stroke-width="0.6"/>
<line x1="430" y1="230.3" x2="430" y2="232.7" stroke="#444" stroke-width="0.6"/>
<text x="430.3" y="233.1" font-size="3.2" font-weight="bold" text-anchor="start" fill="#333">****</text>
<line x1="430" y1="235.5" x2="452.5" y2="235.5" stroke="#333" stroke-width="1.1"/>
<line x1="452.5" y1="234.3" x2="452.5" y2="236.7" stroke="#444" stroke-width="0.6"/>
<line x1="430" y1="234.3" x2="430" y2="236.7" stroke="#444" stroke-width="0.6"/>
<text x="430.3" y="237.1" font-size="3.2" font-weight="bold" text-anchor="start" fill="#333">****</text>
<circle cx="429.8" cy="272.6" r="1.6" fill="#000"/>
<circle cx="434.3" cy="271.4" r="1.6" fill="#000"/>
<circle cx="431.3" cy="270.2" r="1.6" fill="#000"/>
<circle cx="435.8" cy="269" r="1.6" fill="#000"/>
<circle cx="432.8" cy="267.8" r="1.6" fill="#000"/>
<circle cx="429.8" cy="266.6" r="1.6" fill="#000"/>
<circle cx="434.3" cy="265.4" r="1.6" fill="#000"/>
<line x1="425.5" y1="269" x2="438.1" y2="269" stroke="#111" stroke-width="0.9"/>
<circle cx="452.6" cy="272.6" r="1.6" fill="#000"/>
<circle cx="455.6" cy="271.4" r="1.6" fill="#000"/>
<circle cx="450.1" cy="270.2" r="1.6" fill="#000"/>
<circle cx="447.1" cy="269" r="1.6" fill="#000"/>
<circle cx="451.6" cy="267.8" r="1.6" fill="#000"/>
<circle cx="454.6" cy="266.6" r="1.6" fill="#000"/>
<circle cx="447.1" cy="265.4" r="1.6" fill="#000"/>
<line x1="444.3" y1="269" x2="456.9" y2="269" stroke="#111" stroke-width="0.9"/>
<circle cx="466.3" cy="273.8" r="1.6" fill="#000"/>
<circle cx="470.3" cy="273.08" r="1.6" fill="#000"/>
<circle cx="473.3" cy="272.6" r="1.6" fill="#000"/>
<circle cx="467.8" cy="271.4" r="1.6" fill="#000"/>
<circle cx="470.8" cy="270.2" r="1.6" fill="#000"/>
<circle cx="472.3" cy="267.8" r="1.6" fill="#000"/>
<circle cx="466.3" cy="265.4" r="1.6" fill="#000"/>
<circle cx="467.3" cy="248.6" r="1.6" fill="#000"/>
<line x1="463.5" y1="267.08" x2="476.1" y2="267.08" stroke="#111" stroke-width="0.9"/>
<circle cx="491.7" cy="273.8" r="1.6" fill="#000"/>
<circle cx="486.7" cy="272.6" r="1.6" fill="#000"/>
<circle cx="489.7" cy="271.4" r="1.6" fill="#000"/>
<circle cx="492.2" cy="269" r="1.6" fill="#000"/>
<circle cx="489.2" cy="267.8" r="1.6" fill="#000"/>
<circle cx="486.2" cy="266.6" r="1.6" fill="#000"/>
<circle cx="487.2" cy="263" r="1.6" fill="#000"/>
<circle cx="489.2" cy="251" r="1.6" fill="#000"/>
<line x1="483.9" y1="267.32" x2="496.5" y2="267.32" stroke="#111" stroke-width="0.9"/>
<text x="403" y="250.5" font-size="3.6" font-weight="bold" text-anchor="middle" fill="#333" transform="rotate(-90 403 250.5)">abs CD8<tspan font-size="2.4" dy="-1.2">+</tspan><tspan dy="1.2"> per mL (x10</tspan><tspan font-size="2.4" dy="-1.2">9</tspan><tspan dy="1.2">)</tspan></text>
<line x1="75.5" y1="295" x2="75.5" y2="344.5" stroke="#333" stroke-width="1"/>
<line x1="75.5" y1="344.5" x2="160" y2="344.5" stroke="#333" stroke-width="1"/>
<line x1="73.4" y1="297" x2="75.4" y2="297" stroke="#333" stroke-width="0.7"/>
<text x="72.6" y="298.3" font-size="3.6" font-weight="bold" text-anchor="end" fill="#333">20,000</text>
<line x1="73.4" y1="309" x2="75.4" y2="309" stroke="#333" stroke-width="0.7"/>
<text x="72.6" y="310.3" font-size="3.6" font-weight="bold" text-anchor="end" fill="#333">15,000</text>
<line x1="73.4" y1="321" x2="75.4" y2="321" stroke="#333" stroke-width="0.7"/>
<text x="72.6" y="322.3" font-size="3.6" font-weight="bold" text-anchor="end" fill="#333">10,000</text>
<line x1="73.4" y1="333" x2="75.4" y2="333" stroke="#333" stroke-width="0.7"/>
<text x="72.6" y="334.3" font-size="3.6" font-weight="bold" text-anchor="end" fill="#333">5,000</text>
<line x1="73.4" y1="344.5" x2="75.4" y2="344.5" stroke="#333" stroke-width="0.7"/>
<text x="72.6" y="345.8" font-size="3.6" font-weight="bold" text-anchor="end" fill="#333">0</text>
<line x1="82.6" y1="344.5" x2="82.6" y2="346" stroke="#333" stroke-width="0.6"/>
<text x="82.6" y="350.3" font-size="3.4" font-weight="bold" text-anchor="middle" fill="#333">Base-</text>
<text x="82.6" y="354.1" font-size="3.4" font-weight="bold" text-anchor="middle" fill="#333">line</text>
<line x1="96.8" y1="344.5" x2="96.8" y2="346" stroke="#333" stroke-width="0.6"/>
<text x="96.8" y="350.3" font-size="3.4" font-weight="bold" text-anchor="middle" fill="#333">Week</text>
<text x="96.8" y="354.1" font-size="3.4" font-weight="bold" text-anchor="middle" fill="#333">1</text>
<line x1="110.9" y1="344.5" x2="110.9" y2="346" stroke="#333" stroke-width="0.6"/>
<text x="110.9" y="350.3" font-size="3.4" font-weight="bold" text-anchor="middle" fill="#333">Week</text>
<text x="110.9" y="354.1" font-size="3.4" font-weight="bold" text-anchor="middle" fill="#333">4</text>
<line x1="124.6" y1="344.5" x2="124.6" y2="346" stroke="#333" stroke-width="0.6"/>
<text x="124.6" y="350.3" font-size="3.4" font-weight="bold" text-anchor="middle" fill="#333">Week</text>
<text x="124.6" y="354.1" font-size="3.4" font-weight="bold" text-anchor="middle" fill="#333">8</text>
<line x1="138.6" y1="344.5" x2="138.6" y2="346" stroke="#333" stroke-width="0.6"/>
<text x="138.6" y="350.3" font-size="3.4" font-weight="bold" text-anchor="middle" fill="#333">Relapse</text>
<line x1="152.8" y1="344.5" x2="152.8" y2="346" stroke="#333" stroke-width="0.6"/>
<text x="152.8" y="350.3" font-size="3.4" font-weight="bold" text-anchor="middle" fill="#333">EOT</text>
<text x="152.8" y="354.1" font-size="3.4" font-weight="bold" text-anchor="middle" fill="#333">8</text>
<line x1="82.5" y1="297.5" x2="154.5" y2="297.5" stroke="#333" stroke-width="1.1"/>
<line x1="154.5" y1="296.3" x2="154.5" y2="298.7" stroke="#444" stroke-width="0.6"/>
<line x1="82.5" y1="296.3" x2="82.5" y2="298.7" stroke="#444" stroke-width="0.6"/>
<text x="82.8" y="299.1" font-size="3.2" font-weight="bold" text-anchor="start" fill="#333">****</text>
<line x1="82.5" y1="301.5" x2="140.5" y2="301.5" stroke="#333" stroke-width="1.1"/>
<line x1="140.5" y1="300.3" x2="140.5" y2="302.7" stroke="#444" stroke-width="0.6"/>
<line x1="82.5" y1="300.3" x2="82.5" y2="302.7" stroke="#444" stroke-width="0.6"/>
<text x="82.8" y="303.1" font-size="3.2" font-weight="bold" text-anchor="start" fill="#333">****</text>
<line x1="82.5" y1="305.5" x2="127.5" y2="305.5" stroke="#666" stroke-width="0.8"/>
<line x1="127.5" y1="304.3" x2="127.5" y2="306.7" stroke="#444" stroke-width="0.6"/>
<line x1="82.5" y1="304.3" x2="82.5" y2="306.7" stroke="#444" stroke-width="0.6"/>
<text x="82.8" y="307.1" font-size="3.2" font-weight="bold" text-anchor="start" fill="#333">****</text>
<line x1="82.5" y1="309.5" x2="112" y2="309.5" stroke="#666" stroke-width="0.8"/>
<line x1="112" y1="308.3" x2="112" y2="310.7" stroke="#444" stroke-width="0.6"/>
<line x1="82.5" y1="308.3" x2="82.5" y2="310.7" stroke="#444" stroke-width="0.6"/>
<text x="82.8" y="311.1" font-size="3.2" font-weight="bold" text-anchor="start" fill="#333">****</text>
<line x1="82.5" y1="312.5" x2="99" y2="312.5" stroke="#666" stroke-width="0.8"/>
<line x1="99" y1="311.3" x2="99" y2="313.7" stroke="#444" stroke-width="0.6"/>
<line x1="82.5" y1="311.3" x2="82.5" y2="313.7" stroke="#444" stroke-width="0.6"/>
<text x="82.8" y="314.1" font-size="3.2" font-weight="bold" text-anchor="start" fill="#333">****</text>
<circle cx="83.1" cy="331.41" r="1.6" fill="#000"/>
<circle cx="80.1" cy="330.22" r="1.6" fill="#000"/>
<circle cx="85.1" cy="329.03" r="1.6" fill="#000"/>
<circle cx="82.1" cy="327.84" r="1.6" fill="#000"/>
<circle cx="79.1" cy="327.36" r="1.6" fill="#000"/>
<circle cx="86.1" cy="326.65" r="1.6" fill="#000"/>
<circle cx="83.6" cy="325.46" r="1.6" fill="#000"/>
<circle cx="80.6" cy="324.27" r="1.6" fill="#000"/>
<circle cx="85.6" cy="323.08" r="1.6" fill="#000"/>
<circle cx="83.1" cy="318.32" r="1.6" fill="#000"/>
<line x1="77.1" y1="325.46" x2="88.1" y2="325.46" stroke="#111" stroke-width="0.9"/>
<circle cx="96.3" cy="339.74" r="1.6" fill="#000"/>
<circle cx="99.3" cy="338.55" r="1.6" fill="#000"/>
<circle cx="94.3" cy="337.36" r="1.6" fill="#000"/>
<circle cx="97.3" cy="336.88" r="1.6" fill="#000"/>
<circle cx="100.3" cy="336.17" r="1.6" fill="#000"/>
<circle cx="93.3" cy="334.98" r="1.6" fill="#000"/>
<circle cx="96.3" cy="333.79" r="1.6" fill="#000"/>
<circle cx="96.3" cy="327.84" r="1.6" fill="#000"/>
<line x1="91.3" y1="336.17" x2="102.3" y2="336.17" stroke="#111" stroke-width="0.9"/>
<circle cx="110.4" cy="336.17" r="1.6" fill="#000"/>
<circle cx="113.4" cy="334.98" r="1.6" fill="#000"/>
<circle cx="108.4" cy="333.79" r="1.6" fill="#000"/>
<circle cx="111.4" cy="332.6" r="1.6" fill="#000"/>
<circle cx="114.4" cy="331.41" r="1.6" fill="#000"/>
<circle cx="109.4" cy="330.22" r="1.6" fill="#000"/>
<circle cx="110.9" cy="326.65" r="1.6" fill="#000"/>
<line x1="105.4" y1="333.79" x2="116.4" y2="333.79" stroke="#111" stroke-width="0.9"/>
<circle cx="125.1" cy="337.36" r="1.6" fill="#000"/>
<circle cx="122.1" cy="336.17" r="1.6" fill="#000"/>
<circle cx="127.1" cy="334.98" r="1.6" fill="#000"/>
<circle cx="124.1" cy="333.79" r="1.6" fill="#000"/>
<circle cx="121.1" cy="332.6" r="1.6" fill="#000"/>
<circle cx="126.1" cy="331.41" r="1.6" fill="#000"/>
<circle cx="123.6" cy="329.03" r="1.6" fill="#000"/>
<line x1="119.1" y1="334.98" x2="130.1" y2="334.98" stroke="#111" stroke-width="0.9"/>
<circle cx="138.6" cy="337.36" r="1.6" fill="#000"/>
<circle cx="141.6" cy="336.17" r="1.6" fill="#000"/>
<circle cx="136.6" cy="334.98" r="1.6" fill="#000"/>
<circle cx="139.6" cy="333.79" r="1.6" fill="#000"/>
<circle cx="135.1" cy="332.6" r="1.6" fill="#000"/>
<circle cx="139.1" cy="326.65" r="1.6" fill="#000"/>
<line x1="133.1" y1="335.46" x2="144.1" y2="335.46" stroke="#111" stroke-width="0.9"/>
<circle cx="151.8" cy="329.03" r="1.6" fill="#000"/>
<circle cx="152.8" cy="325.46" r="1.6" fill="#000"/>
<circle cx="154.8" cy="323.08" r="1.6" fill="#000"/>
<circle cx="151.8" cy="321.18" r="1.6" fill="#000"/>
<line x1="147.3" y1="325.46" x2="158.3" y2="325.46" stroke="#111" stroke-width="0.9"/>
<text x="58.3" y="320.25" font-size="3.6" font-weight="bold" text-anchor="middle" fill="#333" transform="rotate(-90 58.3 320.25)">CD38 MFI</text>
<line x1="191.5" y1="295" x2="191.5" y2="344.5" stroke="#333" stroke-width="1"/>
<line x1="191.5" y1="344.5" x2="271" y2="344.5" stroke="#333" stroke-width="1"/>
<line x1="189" y1="297.5" x2="191" y2="297.5" stroke="#333" stroke-width="0.7"/>
<text x="188.2" y="298.8" font-size="3.6" font-weight="bold" text-anchor="end" fill="#333">2.0</text>
<line x1="189" y1="309.5" x2="191" y2="309.5" stroke="#333" stroke-width="0.7"/>
<text x="188.2" y="310.8" font-size="3.6" font-weight="bold" text-anchor="end" fill="#333">1.5</text>
<line x1="189" y1="321" x2="191" y2="321" stroke="#333" stroke-width="0.7"/>
<text x="188.2" y="322.3" font-size="3.6" font-weight="bold" text-anchor="end" fill="#333">1.0</text>
<line x1="189" y1="333" x2="191" y2="333" stroke="#333" stroke-width="0.7"/>
<text x="188.2" y="334.3" font-size="3.6" font-weight="bold" text-anchor="end" fill="#333">0.5</text>
<line x1="189" y1="344.5" x2="191" y2="344.5" stroke="#333" stroke-width="0.7"/>
<text x="188.2" y="345.8" font-size="3.6" font-weight="bold" text-anchor="end" fill="#333">0.0</text>
<line x1="195" y1="344.5" x2="195" y2="346" stroke="#333" stroke-width="0.6"/>
<text x="195" y="350.3" font-size="3.4" font-weight="bold" text-anchor="middle" fill="#333">Base-</text>
<text x="195" y="354.1" font-size="3.4" font-weight="bold" text-anchor="middle" fill="#333">line</text>
<line x1="209.5" y1="344.5" x2="209.5" y2="346" stroke="#333" stroke-width="0.6"/>
<text x="209.5" y="350.3" font-size="3.4" font-weight="bold" text-anchor="middle" fill="#333">Week</text>
<text x="209.5" y="354.1" font-size="3.4" font-weight="bold" text-anchor="middle" fill="#333">1</text>
<line x1="224.5" y1="344.5" x2="224.5" y2="346" stroke="#333" stroke-width="0.6"/>
<text x="224.5" y="350.3" font-size="3.4" font-weight="bold" text-anchor="middle" fill="#333">Week</text>
<text x="224.5" y="354.1" font-size="3.4" font-weight="bold" text-anchor="middle" fill="#333">4</text>
<line x1="239.5" y1="344.5" x2="239.5" y2="346" stroke="#333" stroke-width="0.6"/>
<text x="239.5" y="350.3" font-size="3.4" font-weight="bold" text-anchor="middle" fill="#333">Week</text>
<text x="239.5" y="354.1" font-size="3.4" font-weight="bold" text-anchor="middle" fill="#333">8</text>
<line x1="254.5" y1="344.5" x2="254.5" y2="346" stroke="#333" stroke-width="0.6"/>
<text x="254.5" y="350.3" font-size="3.4" font-weight="bold" text-anchor="middle" fill="#333">Relapse</text>
<line x1="267.5" y1="344.5" x2="267.5" y2="346" stroke="#333" stroke-width="0.6"/>
<text x="267.5" y="350.3" font-size="3.4" font-weight="bold" text-anchor="middle" fill="#333">EOT</text>
<text x="267.5" y="354.1" font-size="3.4" font-weight="bold" text-anchor="middle" fill="#333">8</text>
<line x1="197" y1="298.5" x2="269" y2="298.5" stroke="#666" stroke-width="0.8"/>
<line x1="269" y1="297.3" x2="269" y2="299.7" stroke="#444" stroke-width="0.6"/>
<line x1="197" y1="297.3" x2="197" y2="299.7" stroke="#444" stroke-width="0.6"/>
<text x="197.3" y="300.1" font-size="3.2" font-weight="bold" text-anchor="start" fill="#333">****</text>
<line x1="197" y1="302.5" x2="255.5" y2="302.5" stroke="#666" stroke-width="0.8"/>
<line x1="255.5" y1="301.3" x2="255.5" y2="303.7" stroke="#444" stroke-width="0.6"/>
<line x1="197" y1="301.3" x2="197" y2="303.7" stroke="#444" stroke-width="0.6"/>
<text x="197.3" y="304.1" font-size="3.2" font-weight="bold" text-anchor="start" fill="#333">****</text>
<line x1="197" y1="306.5" x2="242" y2="306.5" stroke="#333" stroke-width="1.1"/>
<line x1="242" y1="305.3" x2="242" y2="307.7" stroke="#444" stroke-width="0.6"/>
<line x1="197" y1="305.3" x2="197" y2="307.7" stroke="#444" stroke-width="0.6"/>
<text x="197.3" y="308.1" font-size="3.2" font-weight="bold" text-anchor="start" fill="#333">****</text>
<line x1="197" y1="310.5" x2="227" y2="310.5" stroke="#666" stroke-width="0.8"/>
<line x1="227" y1="309.3" x2="227" y2="311.7" stroke="#444" stroke-width="0.6"/>
<line x1="197" y1="309.3" x2="197" y2="311.7" stroke="#444" stroke-width="0.6"/>
<text x="197.3" y="312.1" font-size="3.2" font-weight="bold" text-anchor="start" fill="#333">****</text>
<line x1="197" y1="314.5" x2="214.5" y2="314.5" stroke="#333" stroke-width="1.1"/>
<line x1="214.5" y1="313.3" x2="214.5" y2="315.7" stroke="#444" stroke-width="0.6"/>
<line x1="197" y1="313.3" x2="197" y2="315.7" stroke="#444" stroke-width="0.6"/>
<text x="197.3" y="316.1" font-size="3.2" font-weight="bold" text-anchor="start" fill="#333">****</text>
<circle cx="194" cy="340.98" r="1.6" fill="#000"/>
<circle cx="197" cy="339.8" r="1.6" fill="#000"/>
<circle cx="192" cy="338.62" r="1.6" fill="#000"/>
<circle cx="195" cy="337.45" r="1.6" fill="#000"/>
<circle cx="197" cy="335.1" r="1.6" fill="#000"/>
<circle cx="194" cy="333.93" r="1.6" fill="#000"/>
<circle cx="198.5" cy="332.75" r="1.6" fill="#000"/>
<circle cx="195.5" cy="331.57" r="1.6" fill="#000"/>
<circle cx="192.5" cy="330.4" r="1.6" fill="#000"/>
<circle cx="194.5" cy="328.05" r="1.6" fill="#000"/>
<circle cx="196.5" cy="325.7" r="1.6" fill="#000"/>
<circle cx="195" cy="318.65" r="1.6" fill="#000"/>
<line x1="189.5" y1="332.75" x2="200.5" y2="332.75" stroke="#111" stroke-width="0.9"/>
<circle cx="210" cy="342.15" r="1.6" fill="#000"/>
<circle cx="208" cy="339.8" r="1.6" fill="#000"/>
<circle cx="210" cy="337.45" r="1.6" fill="#000"/>
<circle cx="213" cy="336.27" r="1.6" fill="#000"/>
<circle cx="208" cy="335.1" r="1.6" fill="#000"/>
<circle cx="210" cy="332.75" r="1.6" fill="#000"/>
<circle cx="208" cy="330.4" r="1.6" fill="#000"/>
<circle cx="210" cy="328.05" r="1.6" fill="#000"/>
<circle cx="210" cy="323.35" r="1.6" fill="#000"/>
<circle cx="210.5" cy="318.65" r="1.6" fill="#000"/>
<line x1="204" y1="335.1" x2="215" y2="335.1" stroke="#111" stroke-width="0.9"/>
<circle cx="224.5" cy="342.15" r="1.6" fill="#000"/>
<circle cx="227.5" cy="340.98" r="1.6" fill="#000"/>
<circle cx="222.5" cy="339.8" r="1.6" fill="#000"/>
<circle cx="225.5" cy="337.45" r="1.6" fill="#000"/>
<circle cx="222.5" cy="336.27" r="1.6" fill="#000"/>
<circle cx="227.5" cy="335.1" r="1.6" fill="#000"/>
<circle cx="225.5" cy="331.57" r="1.6" fill="#000"/>
<circle cx="223.5" cy="329.23" r="1.6" fill="#000"/>
<circle cx="226.5" cy="328.05" r="1.6" fill="#000"/>
<line x1="219" y1="335.57" x2="230" y2="335.57" stroke="#111" stroke-width="0.9"/>
<circle cx="239.5" cy="342.15" r="1.6" fill="#000"/>
<circle cx="241.5" cy="339.8" r="1.6" fill="#000"/>
<circle cx="239.5" cy="337.45" r="1.6" fill="#000"/>
<circle cx="236.5" cy="336.27" r="1.6" fill="#000"/>
<circle cx="241.5" cy="335.1" r="1.6" fill="#000"/>
<circle cx="238.5" cy="333.93" r="1.6" fill="#000"/>
<circle cx="243" cy="332.75" r="1.6" fill="#000"/>
<circle cx="240.5" cy="330.4" r="1.6" fill="#000"/>
<circle cx="237.5" cy="329.23" r="1.6" fill="#000"/>
<line x1="234" y1="335.1" x2="245" y2="335.1" stroke="#111" stroke-width="0.9"/>
<circle cx="254" cy="342.15" r="1.6" fill="#000"/>
<circle cx="252" cy="339.8" r="1.6" fill="#000"/>
<circle cx="254.5" cy="337.45" r="1.6" fill="#000"/>
<circle cx="252.5" cy="335.1" r="1.6" fill="#000"/>
<circle cx="255.5" cy="332.75" r="1.6" fill="#000"/>
<circle cx="253.5" cy="330.4" r="1.6" fill="#000"/>
<circle cx="255.5" cy="328.05" r="1.6" fill="#000"/>
<circle cx="253.5" cy="325.7" r="1.6" fill="#000"/>
<line x1="249" y1="333.93" x2="260" y2="333.93" stroke="#111" stroke-width="0.9"/>
<circle cx="268" cy="337.45" r="1.6" fill="#000"/>
<circle cx="270" cy="335.1" r="1.6" fill="#000"/>
<circle cx="267" cy="328.05" r="1.6" fill="#000"/>
<circle cx="266.5" cy="313.95" r="1.6" fill="#000"/>
<line x1="262" y1="326.88" x2="273" y2="326.88" stroke="#111" stroke-width="0.9"/>
<text x="171" y="320.25" font-size="3.6" font-weight="bold" text-anchor="middle" fill="#333" transform="rotate(-90 171 320.25)">abs CD14<tspan font-size="2.4" dy="-1.2">+</tspan><tspan dy="1.2"> per mL (x10</tspan><tspan font-size="2.4" dy="-1.2">9</tspan><tspan dy="1.2">)</tspan></text>
<line x1="308.5" y1="294" x2="308.5" y2="344.5" stroke="#333" stroke-width="1"/>
<line x1="308.5" y1="344.5" x2="390" y2="344.5" stroke="#333" stroke-width="1"/>
<line x1="306.8" y1="296.5" x2="308.8" y2="296.5" stroke="#333" stroke-width="0.7"/>
<text x="306" y="297.8" font-size="3.6" font-weight="bold" text-anchor="end" fill="#333">800</text>
<line x1="306.8" y1="308.5" x2="308.8" y2="308.5" stroke="#333" stroke-width="0.7"/>
<text x="306" y="309.8" font-size="3.6" font-weight="bold" text-anchor="end" fill="#333">600</text>
<line x1="306.8" y1="320.5" x2="308.8" y2="320.5" stroke="#333" stroke-width="0.7"/>
<text x="306" y="321.8" font-size="3.6" font-weight="bold" text-anchor="end" fill="#333">400</text>
<line x1="306.8" y1="332.5" x2="308.8" y2="332.5" stroke="#333" stroke-width="0.7"/>
<text x="306" y="333.8" font-size="3.6" font-weight="bold" text-anchor="end" fill="#333">200</text>
<line x1="306.8" y1="344.5" x2="308.8" y2="344.5" stroke="#333" stroke-width="0.7"/>
<text x="306" y="345.8" font-size="3.6" font-weight="bold" text-anchor="end" fill="#333">0</text>
<line x1="319.2" y1="344.5" x2="319.2" y2="346" stroke="#333" stroke-width="0.6"/>
<text x="319.2" y="350.3" font-size="3.8" font-weight="bold" text-anchor="middle" fill="#333">Baseline</text>
<line x1="338.6" y1="344.5" x2="338.6" y2="346" stroke="#333" stroke-width="0.6"/>
<text x="338.6" y="350.3" font-size="3.8" font-weight="bold" text-anchor="middle" fill="#333">Week</text>
<text x="338.6" y="354.1" font-size="3.8" font-weight="bold" text-anchor="middle" fill="#333">1</text>
<line x1="358.1" y1="344.5" x2="358.1" y2="346" stroke="#333" stroke-width="0.6"/>
<text x="358.1" y="350.3" font-size="3.8" font-weight="bold" text-anchor="middle" fill="#333">Week</text>
<text x="358.1" y="354.1" font-size="3.8" font-weight="bold" text-anchor="middle" fill="#333">4</text>
<line x1="378.4" y1="344.5" x2="378.4" y2="346" stroke="#333" stroke-width="0.6"/>
<text x="378.4" y="350.3" font-size="3.8" font-weight="bold" text-anchor="middle" fill="#333">Week</text>
<text x="378.4" y="354.1" font-size="3.8" font-weight="bold" text-anchor="middle" fill="#333">8</text>
<line x1="318" y1="296.5" x2="384" y2="296.5" stroke="#333" stroke-width="1.1"/>
<line x1="384" y1="295.3" x2="384" y2="297.7" stroke="#444" stroke-width="0.6"/>
<line x1="318" y1="295.3" x2="318" y2="297.7" stroke="#444" stroke-width="0.6"/>
<text x="318.3" y="298.1" font-size="3.2" font-weight="bold" text-anchor="start" fill="#333">****</text>
<line x1="318" y1="301.5" x2="360.5" y2="301.5" stroke="#666" stroke-width="0.8"/>
<line x1="360.5" y1="300.3" x2="360.5" y2="302.7" stroke="#444" stroke-width="0.6"/>
<line x1="318" y1="300.3" x2="318" y2="302.7" stroke="#444" stroke-width="0.6"/>
<text x="318.3" y="303.1" font-size="3.2" font-weight="bold" text-anchor="start" fill="#333">****</text>
<line x1="318" y1="305.5" x2="342.5" y2="305.5" stroke="#666" stroke-width="0.8"/>
<line x1="342.5" y1="304.3" x2="342.5" y2="306.7" stroke="#444" stroke-width="0.6"/>
<line x1="318" y1="304.3" x2="318" y2="306.7" stroke="#444" stroke-width="0.6"/>
<text x="318.3" y="307.1" font-size="3.2" font-weight="bold" text-anchor="start" fill="#333">****</text>
<circle cx="318.7" cy="336.1" r="1.6" fill="#000"/>
<circle cx="319.7" cy="329.5" r="1.6" fill="#000"/>
<circle cx="322.7" cy="327.1" r="1.6" fill="#000"/>
<circle cx="315.2" cy="326.5" r="1.6" fill="#000"/>
<circle cx="318.2" cy="325.3" r="1.6" fill="#000"/>
<circle cx="321.2" cy="324.7" r="1.6" fill="#000"/>
<circle cx="316.7" cy="318.1" r="1.6" fill="#000"/>
<circle cx="319.7" cy="316.9" r="1.6" fill="#000"/>
<circle cx="321.2" cy="310.3" r="1.6" fill="#000"/>
<line x1="312.9" y1="323.5" x2="325.5" y2="323.5" stroke="#111" stroke-width="0.9"/>
<circle cx="339.6" cy="334.3" r="1.6" fill="#000"/>
<circle cx="336.1" cy="333.7" r="1.6" fill="#000"/>
<circle cx="342.6" cy="333.1" r="1.6" fill="#000"/>
<circle cx="333.6" cy="332.5" r="1.6" fill="#000"/>
<circle cx="337.6" cy="331.3" r="1.6" fill="#000"/>
<circle cx="340.6" cy="327.7" r="1.6" fill="#000"/>
<circle cx="337.1" cy="319.9" r="1.6" fill="#000"/>
<line x1="332.3" y1="331.9" x2="344.9" y2="331.9" stroke="#111" stroke-width="0.9"/>
<circle cx="358.6" cy="335.5" r="1.6" fill="#000"/>
<circle cx="361.6" cy="335.5" r="1.6" fill="#000"/>
<circle cx="356.1" cy="333.7" r="1.6" fill="#000"/>
<circle cx="359.1" cy="332.5" r="1.6" fill="#000"/>
<circle cx="362.1" cy="331.3" r="1.6" fill="#000"/>
<circle cx="361.6" cy="328.3" r="1.6" fill="#000"/>
<circle cx="356.6" cy="327.7" r="1.6" fill="#000"/>
<line x1="351.8" y1="331.9" x2="364.4" y2="331.9" stroke="#111" stroke-width="0.9"/>
<circle cx="378.9" cy="338.5" r="1.6" fill="#000"/>
<circle cx="382.4" cy="335.5" r="1.6" fill="#000"/>
<circle cx="378.4" cy="334.3" r="1.6" fill="#000"/>
<circle cx="375.4" cy="333.7" r="1.6" fill="#000"/>
<circle cx="380.9" cy="332.5" r="1.6" fill="#000"/>
<circle cx="383.4" cy="331.3" r="1.6" fill="#000"/>
<circle cx="380.9" cy="322.3" r="1.6" fill="#000"/>
<line x1="372.1" y1="332.5" x2="384.7" y2="332.5" stroke="#111" stroke-width="0.9"/>
<text x="295.5" y="319.75" font-size="3.6" font-weight="bold" text-anchor="middle" fill="#333" transform="rotate(-90 295.5 319.75)">CD38 MFI</text>
<line x1="421.5" y1="293" x2="421.5" y2="344.5" stroke="#333" stroke-width="1"/>
<line x1="421.5" y1="344.5" x2="500" y2="344.5" stroke="#333" stroke-width="1"/>
<line x1="419" y1="295.5" x2="421" y2="295.5" stroke="#333" stroke-width="0.7"/>
<text x="418.2" y="296.8" font-size="3.6" font-weight="bold" text-anchor="end" fill="#333">2.5</text>
<line x1="419" y1="305" x2="421" y2="305" stroke="#333" stroke-width="0.7"/>
<text x="418.2" y="306.3" font-size="3.6" font-weight="bold" text-anchor="end" fill="#333">2.0</text>
<line x1="419" y1="315" x2="421" y2="315" stroke="#333" stroke-width="0.7"/>
<text x="418.2" y="316.3" font-size="3.6" font-weight="bold" text-anchor="end" fill="#333">1.5</text>
<line x1="419" y1="325" x2="421" y2="325" stroke="#333" stroke-width="0.7"/>
<text x="418.2" y="326.3" font-size="3.6" font-weight="bold" text-anchor="end" fill="#333">1.0</text>
<line x1="419" y1="335" x2="421" y2="335" stroke="#333" stroke-width="0.7"/>
<text x="418.2" y="336.3" font-size="3.6" font-weight="bold" text-anchor="end" fill="#333">0.5</text>
<line x1="419" y1="344.5" x2="421" y2="344.5" stroke="#333" stroke-width="0.7"/>
<text x="418.2" y="345.8" font-size="3.6" font-weight="bold" text-anchor="end" fill="#333">0.0</text>
<line x1="431.8" y1="344.5" x2="431.8" y2="346" stroke="#333" stroke-width="0.6"/>
<text x="431.8" y="350.3" font-size="3.8" font-weight="bold" text-anchor="middle" fill="#333">Baseline</text>
<line x1="450.6" y1="344.5" x2="450.6" y2="346" stroke="#333" stroke-width="0.6"/>
<text x="450.6" y="350.3" font-size="3.8" font-weight="bold" text-anchor="middle" fill="#333">Week</text>
<text x="450.6" y="354.1" font-size="3.8" font-weight="bold" text-anchor="middle" fill="#333">1</text>
<line x1="469.8" y1="344.5" x2="469.8" y2="346" stroke="#333" stroke-width="0.6"/>
<text x="469.8" y="350.3" font-size="3.8" font-weight="bold" text-anchor="middle" fill="#333">Week</text>
<text x="469.8" y="354.1" font-size="3.8" font-weight="bold" text-anchor="middle" fill="#333">4</text>
<line x1="490.2" y1="344.5" x2="490.2" y2="346" stroke="#333" stroke-width="0.6"/>
<text x="490.2" y="350.3" font-size="3.8" font-weight="bold" text-anchor="middle" fill="#333">Week</text>
<text x="490.2" y="354.1" font-size="3.8" font-weight="bold" text-anchor="middle" fill="#333">8</text>
<line x1="430" y1="299.5" x2="494.5" y2="299.5" stroke="#666" stroke-width="0.8"/>
<line x1="494.5" y1="298.3" x2="494.5" y2="300.7" stroke="#444" stroke-width="0.6"/>
<line x1="430" y1="298.3" x2="430" y2="300.7" stroke="#444" stroke-width="0.6"/>
<text x="430.3" y="301.1" font-size="3.2" font-weight="bold" text-anchor="start" fill="#333">****</text>
<line x1="430" y1="304.5" x2="472.5" y2="304.5" stroke="#666" stroke-width="0.8"/>
<line x1="472.5" y1="303.3" x2="472.5" y2="305.7" stroke="#444" stroke-width="0.6"/>
<line x1="430" y1="303.3" x2="430" y2="305.7" stroke="#444" stroke-width="0.6"/>
<text x="430.3" y="306.1" font-size="3.2" font-weight="bold" text-anchor="start" fill="#333">****</text>
<line x1="430" y1="308.5" x2="454.5" y2="308.5" stroke="#666" stroke-width="0.8"/>
<line x1="454.5" y1="307.3" x2="454.5" y2="309.7" stroke="#444" stroke-width="0.6"/>
<line x1="430" y1="307.3" x2="430" y2="309.7" stroke="#444" stroke-width="0.6"/>
<text x="430.3" y="310.1" font-size="3.2" font-weight="bold" text-anchor="start" fill="#333">****</text>
<circle cx="430.8" cy="341.56" r="1.6" fill="#000"/>
<circle cx="433.8" cy="340.58" r="1.6" fill="#000"/>
<circle cx="428.3" cy="339.6" r="1.6" fill="#000"/>
<circle cx="431.3" cy="338.62" r="1.6" fill="#000"/>
<circle cx="435.8" cy="336.66" r="1.6" fill="#000"/>
<circle cx="432.8" cy="335.68" r="1.6" fill="#000"/>
<circle cx="429.8" cy="334.7" r="1.6" fill="#000"/>
<circle cx="427.8" cy="330.78" r="1.6" fill="#000"/>
<circle cx="431.8" cy="325.88" r="1.6" fill="#000"/>
<line x1="425.5" y1="335.68" x2="438.1" y2="335.68" stroke="#111" stroke-width="0.9"/>
<circle cx="449.6" cy="341.56" r="1.6" fill="#000"/>
<circle cx="453.1" cy="339.6" r="1.6" fill="#000"/>
<circle cx="450.1" cy="338.62" r="1.6" fill="#000"/>
<circle cx="455.6" cy="337.64" r="1.6" fill="#000"/>
<circle cx="447.6" cy="336.66" r="1.6" fill="#000"/>
<circle cx="450.6" cy="335.68" r="1.6" fill="#000"/>
<circle cx="453.6" cy="334.7" r="1.6" fill="#000"/>
<circle cx="448.6" cy="332.74" r="1.6" fill="#000"/>
<line x1="444.3" y1="337.64" x2="456.9" y2="337.64" stroke="#111" stroke-width="0.9"/>
<circle cx="472.8" cy="342.54" r="1.6" fill="#000"/>
<circle cx="469.8" cy="341.56" r="1.6" fill="#000"/>
<circle cx="466.8" cy="340.58" r="1.6" fill="#000"/>
<circle cx="473.8" cy="339.6" r="1.6" fill="#000"/>
<circle cx="469.3" cy="338.62" r="1.6" fill="#000"/>
<circle cx="471.8" cy="336.66" r="1.6" fill="#000"/>
<circle cx="466.8" cy="334.7" r="1.6" fill="#000"/>
<circle cx="471.8" cy="332.74" r="1.6" fill="#000"/>
<circle cx="465.8" cy="310.2" r="1.6" fill="#000"/>
<line x1="463.5" y1="335.68" x2="476.1" y2="335.68" stroke="#111" stroke-width="0.9"/>
<circle cx="492.7" cy="339.6" r="1.6" fill="#000"/>
<circle cx="489.7" cy="338.62" r="1.6" fill="#000"/>
<circle cx="495.2" cy="337.64" r="1.6" fill="#000"/>
<circle cx="486.7" cy="336.66" r="1.6" fill="#000"/>
<circle cx="489.7" cy="335.68" r="1.6" fill="#000"/>
<circle cx="492.7" cy="334.7" r="1.6" fill="#000"/>
<circle cx="486.7" cy="333.72" r="1.6" fill="#000"/>
<circle cx="490.2" cy="331.76" r="1.6" fill="#000"/>
<line x1="483.9" y1="336.66" x2="496.5" y2="336.66" stroke="#111" stroke-width="0.9"/>
<text x="403" y="319.25" font-size="3.6" font-weight="bold" text-anchor="middle" fill="#333" transform="rotate(-90 403 319.25)">abs CD14<tspan font-size="2.4" dy="-1.2">+</tspan><tspan dy="1.2"> per mL (x10</tspan><tspan font-size="2.4" dy="-1.2">9</tspan><tspan dy="1.2">)</tspan></text>
<text x="20" y="378.4" font-size="14.2" font-weight="bold" text-anchor="start" fill="#000">B</text>
<text x="121" y="386" font-size="9.2" font-weight="bold" text-anchor="middle" fill="#000">NK Cells</text>
<text x="215.5" y="386" font-size="9.2" font-weight="bold" text-anchor="middle" fill="#000">B Cells</text>
<text x="299" y="381" font-size="9.2" font-weight="bold" text-anchor="middle" fill="#000">CD4<tspan font-size="7.5" dy="-3.6">+</tspan></text>
<text x="298.8" y="392.4" font-size="9.2" font-weight="bold" text-anchor="middle" fill="#000">T cells</text>
<text x="394.7" y="379.3" font-size="9.2" font-weight="bold" text-anchor="middle" fill="#000">CD8<tspan font-size="7.5" dy="-3.6">+</tspan></text>
<text x="396.9" y="391" font-size="9.2" font-weight="bold" text-anchor="middle" fill="#000">T cells</text>
<text x="482" y="388" font-size="9.2" font-weight="bold" text-anchor="middle" fill="#000">Monocytes</text>
<text x="19.1" y="424" font-size="9.2" font-weight="bold" text-anchor="middle" fill="#000">GEN501</text>
<text x="19.1" y="463.7" font-size="9.2" font-weight="bold" text-anchor="middle" fill="#000">GEN503</text>
<rect x="72" y="398" width="80.5" height="37.5" fill="#fff" stroke="#b4b4b4" stroke-width="0.6"/>
<polygon points="72.5,435.5 72.5,435.5 73,435.5 73.5,435.5 74,435.5 74.5,435.5 75,435.5 75.5,435.5 76,435.5 76.5,435.5 77,435.5 77.5,435.5 78,435.5 78.5,435.5 79,435.5 79.5,435.5 80,435.5 80.5,435.5 81,435.5 81.5,435.5 82,435.5 82.5,435.5 83,435.5 83.5,435.5 84,435.5 84.5,435.5 85,435.5 85.5,435.5 86,435.5 86.5,435.5 87,435.5 87.5,435.5 88,435.5 88.5,435.5 89,435.5 89.5,435.5 90,435.5 90.5,435.5 91,435.5 91.5,435.5 92,435.5 92.5,435.5 93,435.5 93.5,435.5 94,435.5 94.5,435.5 95,435.5 95.5,435.5 96,435.5 96.5,435.5 97,435.5 97.5,435.5 98,435.5 98.5,435.5 99,435.5 99.5,435.5 100,435.5 100.5,435.5 101,435.5 101.5,435.5 102,435.5 102.5,435.5 103,435.5 103.5,435.5 104,435.5 104.5,435.5 105,435.5 105.5,435.5 106,435.5 106.5,435.5 107,435.5 107.5,435.49 108,435.49 108.5,435.49 109,435.48 109.5,435.47 110,435.46 110.5,435.45 111,435.43 111.5,435.4 112,435.37 112.5,435.32 113,435.25 113.5,435.17 114,435.05 114.5,434.91 115,434.71 115.5,435.13 116,433.54 116.5,433.31 117,433.76 117.5,432.77 118,432.2 118.5,431.08 119,429.97 119.5,430.25 120,429.3 120.5,426.68 121,426.16 121.5,424.24 122,424.21 122.5,421.96 123,419.94 123.5,419.26 124,416.35 124.5,414.78 125,414.66 125.5,412.98 126,410.36 126.5,408 127,407.41 127.5,406.22 128,404.48 128.5,403.99 129,402.63 129.5,401.45 130,400.81 130.5,400.99 131,401.03 131.5,401.77 132,402.8 132.5,405.22 133,408.33 133.5,409.85 134,413.53 134.5,416.58 135,420.49 135.5,421.92 136,424.74 136.5,428.31 137,429.81 137.5,430.65 138,431.88 138.5,432.41 139,434.04 139.5,433.82 140,434.78 140.5,435.03 141,435.21 141.5,435.32 142,435.39 142.5,435.43 143,435.46 143.5,435.48 144,435.49 144.5,435.49 145,435.5 145.5,435.5 146,435.5 146.5,435.5 147,435.5 147.5,435.5 148,435.5 148.5,435.5 149,435.5 149.5,435.5 150,435.5 150.5,435.5 151,435.5 151.5,435.5 151.5,435.5" fill="#fa6870"/>
<polygon points="72.5,435.5 72.5,435.5 73,435.5 73.5,435.5 74,435.5 74.5,435.5 75,435.5 75.5,435.5 76,435.5 76.5,435.5 77,435.49 77.5,435.49 78,435.49 78.5,435.49 79,435.49 79.5,435.48 80,435.48 80.5,435.48 81,435.47 81.5,435.47 82,435.46 82.5,435.45 83,435.44 83.5,435.43 84,435.41 84.5,435.4 85,435.38 85.5,435.36 86,435.33 86.5,435.31 87,435.27 87.5,435.24 88,435.2 88.5,435.15 89,435.1 89.5,435.05 90,434.99 90.5,434.92 91,434.84 91.5,434.76 92,434.68 92.5,434.58 93,434.18 93.5,434.73 94,434.11 94.5,433.46 95,433.4 95.5,433.88 96,433.6 96.5,434.46 97,433.94 97.5,432.8 98,433.35 98.5,433.64 99,432.82 99.5,432.4 100,432.32 100.5,432.73 101,432.48 101.5,432.24 102,431.65 102.5,432.01 103,432.15 103.5,431.9 104,432.66 104.5,432.59 105,431.36 105.5,430.84 106,431.53 106.5,431.9 107,432.35 107.5,431.81 108,431.04 108.5,431.53 109,432.08 109.5,431.65 110,432.94 110.5,432.61 111,432 111.5,432.86 112,433.27 112.5,433.8 113,433.49 113.5,432.94 114,434.83 114.5,433.6 115,433.69 115.5,433.72 116,434.55 116.5,434.68 117,434.79 117.5,434.89 118,434.99 118.5,435.07 119,435.14 119.5,435.2 120,435.25 120.5,435.3 121,435.33 121.5,435.36 122,435.39 122.5,435.41 123,435.43 123.5,435.45 124,435.46 124.5,435.47 125,435.47 125.5,435.48 126,435.49 126.5,435.49 127,435.49 127.5,435.49 128,435.5 128.5,435.5 129,435.5 129.5,435.5 130,435.5 130.5,435.5 131,435.5 131.5,435.5 132,435.5 132.5,435.5 133,435.5 133.5,435.5 134,435.5 134.5,435.5 135,435.5 135.5,435.5 136,435.5 136.5,435.5 137,435.5 137.5,435.5 138,435.5 138.5,435.5 139,435.5 139.5,435.5 140,435.5 140.5,435.5 141,435.5 141.5,435.5 142,435.5 142.5,435.5 143,435.5 143.5,435.5 144,435.5 144.5,435.5 145,435.5 145.5,435.5 146,435.5 146.5,435.5 147,435.5 147.5,435.5 148,435.5 148.5,435.5 149,435.5 149.5,435.5 150,435.5 150.5,435.5 151,435.5 151.5,435.5 151.5,435.5" fill="#6464f4"/>
<polygon points="72.5,435.5 72.5,435.5 73,435.5 73.5,435.5 74,435.5 74.5,435.5 75,435.5 75.5,435.5 76,435.5 76.5,435.5 77,435.5 77.5,435.5 78,435.5 78.5,435.5 79,435.5 79.5,435.5 80,435.5 80.5,435.5 81,435.5 81.5,435.5 82,435.5 82.5,435.5 83,435.5 83.5,435.5 84,435.5 84.5,435.5 85,435.5 85.5,435.5 86,435.5 86.5,435.5 87,435.5 87.5,435.5 88,435.5 88.5,435.5 89,435.5 89.5,435.5 90,435.5 90.5,435.5 91,435.5 91.5,435.5 92,435.5 92.5,435.5 93,435.5 93.5,435.5 94,435.5 94.5,435.5 95,435.5 95.5,435.5 96,435.5 96.5,435.5 97,435.5 97.5,435.5 98,435.5 98.5,435.5 99,435.5 99.5,435.5 100,435.5 100.5,435.5 101,435.5 101.5,435.5 102,435.5 102.5,435.5 103,435.5 103.5,435.5 104,435.5 104.5,435.5 105,435.5 105.5,435.5 106,435.5 106.5,435.5 107,435.5 107.5,435.49 108,435.49 108.5,435.49 109,435.48 109.5,435.47 110,435.46 110.5,435.45 111,435.43 111.5,435.4 112,435.37 112.5,435.32 113,435.25 113.5,435.17 114,435.05 114.5,434.91 115,434.71 115.5,435.13 116,434.55 116.5,434.68 117,434.79 117.5,434.89 118,434.99 118.5,435.07 119,435.14 119.5,435.2 120,435.25 120.5,435.3 121,435.33 121.5,435.36 122,435.39 122.5,435.41 123,435.43 123.5,435.45 124,435.46 124.5,435.47 125,435.47 125.5,435.48 126,435.49 126.5,435.49 127,435.49 127.5,435.49 128,435.5 128.5,435.5 129,435.5 129.5,435.5 130,435.5 130.5,435.5 131,435.5 131.5,435.5 132,435.5 132.5,435.5 133,435.5 133.5,435.5 134,435.5 134.5,435.5 135,435.5 135.5,435.5 136,435.5 136.5,435.5 137,435.5 137.5,435.5 138,435.5 138.5,435.5 139,435.5 139.5,435.5 140,435.5 140.5,435.5 141,435.5 141.5,435.5 142,435.5 142.5,435.5 143,435.5 143.5,435.5 144,435.5 144.5,435.5 145,435.5 145.5,435.5 146,435.5 146.5,435.5 147,435.5 147.5,435.5 148,435.5 148.5,435.5 149,435.5 149.5,435.5 150,435.5 150.5,435.5 151,435.5 151.5,435.5 151.5,435.5" fill="#7428c4"/>
<line x1="72" y1="435.5" x2="152.5" y2="435.5" stroke="#222" stroke-width="0.8"/>
<line x1="72" y1="398" x2="72" y2="435.5" stroke="#666" stroke-width="0.6"/>
<line x1="70.8" y1="431.56" x2="72" y2="431.56" stroke="#555" stroke-width="0.5"/>
<text x="70.6" y="430.06" font-size="2" text-anchor="middle" fill="#555" transform="rotate(-90 70.6 430.06)">10</text>
<line x1="70.8" y1="427.61" x2="72" y2="427.61" stroke="#555" stroke-width="0.5"/>
<text x="70.6" y="426.11" font-size="2" text-anchor="middle" fill="#555" transform="rotate(-90 70.6 426.11)">20</text>
<line x1="70.8" y1="423.67" x2="72" y2="423.67" stroke="#555" stroke-width="0.5"/>
<text x="70.6" y="422.17" font-size="2" text-anchor="middle" fill="#555" transform="rotate(-90 70.6 422.17)">30</text>
<line x1="70.8" y1="419.72" x2="72" y2="419.72" stroke="#555" stroke-width="0.5"/>
<text x="70.6" y="418.22" font-size="2" text-anchor="middle" fill="#555" transform="rotate(-90 70.6 418.22)">40</text>
<line x1="70.8" y1="415.78" x2="72" y2="415.78" stroke="#555" stroke-width="0.5"/>
<text x="70.6" y="414.28" font-size="2" text-anchor="middle" fill="#555" transform="rotate(-90 70.6 414.28)">50</text>
<line x1="70.8" y1="411.83" x2="72" y2="411.83" stroke="#555" stroke-width="0.5"/>
<text x="70.6" y="410.33" font-size="2" text-anchor="middle" fill="#555" transform="rotate(-90 70.6 410.33)">60</text>
<line x1="70.8" y1="407.89" x2="72" y2="407.89" stroke="#555" stroke-width="0.5"/>
<text x="70.6" y="406.39" font-size="2" text-anchor="middle" fill="#555" transform="rotate(-90 70.6 406.39)">70</text>
<line x1="70.8" y1="403.94" x2="72" y2="403.94" stroke="#555" stroke-width="0.5"/>
<text x="70.6" y="402.44" font-size="2" text-anchor="middle" fill="#555" transform="rotate(-90 70.6 402.44)">80</text>
<line x1="70.8" y1="400" x2="72" y2="400" stroke="#555" stroke-width="0.5"/>
<text x="70.6" y="398.5" font-size="2" text-anchor="middle" fill="#555" transform="rotate(-90 70.6 398.5)">90</text>
<line x1="83.03" y1="435.5" x2="83.03" y2="437" stroke="#333" stroke-width="0.5"/>
<text x="83.03" y="439.8" font-size="2.6" text-anchor="middle" fill="#555">10<tspan font-size="1.8" dy="-1">2</tspan></text>
<line x1="103.56" y1="435.5" x2="103.56" y2="437" stroke="#333" stroke-width="0.5"/>
<text x="103.56" y="439.8" font-size="2.6" text-anchor="middle" fill="#555">10<tspan font-size="1.8" dy="-1">3</tspan></text>
<line x1="124.08" y1="435.5" x2="124.08" y2="437" stroke="#333" stroke-width="0.5"/>
<text x="124.08" y="439.8" font-size="2.6" text-anchor="middle" fill="#555">10<tspan font-size="1.8" dy="-1">4</tspan></text>
<line x1="144.61" y1="435.5" x2="144.61" y2="437" stroke="#333" stroke-width="0.5"/>
<text x="144.61" y="439.8" font-size="2.6" text-anchor="middle" fill="#555">10<tspan font-size="1.8" dy="-1">5</tspan></text>
<line x1="74" y1="435.5" x2="74" y2="436.3" stroke="#555" stroke-width="0.4"/>
<line x1="79.58" y1="435.5" x2="79.58" y2="436.3" stroke="#555" stroke-width="0.4"/>
<line x1="85.15" y1="435.5" x2="85.15" y2="436.3" stroke="#555" stroke-width="0.4"/>
<line x1="90.73" y1="435.5" x2="90.73" y2="436.3" stroke="#555" stroke-width="0.4"/>
<line x1="96.31" y1="435.5" x2="96.31" y2="436.3" stroke="#555" stroke-width="0.4"/>
<line x1="101.88" y1="435.5" x2="101.88" y2="436.3" stroke="#555" stroke-width="0.4"/>
<line x1="107.46" y1="435.5" x2="107.46" y2="436.3" stroke="#555" stroke-width="0.4"/>
<line x1="113.04" y1="435.5" x2="113.04" y2="436.3" stroke="#555" stroke-width="0.4"/>
<line x1="118.62" y1="435.5" x2="118.62" y2="436.3" stroke="#555" stroke-width="0.4"/>
<line x1="124.19" y1="435.5" x2="124.19" y2="436.3" stroke="#555" stroke-width="0.4"/>
<line x1="129.77" y1="435.5" x2="129.77" y2="436.3" stroke="#555" stroke-width="0.4"/>
<line x1="135.35" y1="435.5" x2="135.35" y2="436.3" stroke="#555" stroke-width="0.4"/>
<line x1="140.92" y1="435.5" x2="140.92" y2="436.3" stroke="#555" stroke-width="0.4"/>
<line x1="146.5" y1="435.5" x2="146.5" y2="436.3" stroke="#555" stroke-width="0.4"/>
<rect x="64.5" y="395.5" width="1.2" height="1.2" fill="#5cbf5c"/>
<rect x="72" y="447" width="80.5" height="38.5" fill="#fff" stroke="#b4b4b4" stroke-width="0.6"/>
<polygon points="72.5,485.5 72.5,485.5 73,485.5 73.5,485.5 74,485.5 74.5,485.5 75,485.5 75.5,485.5 76,485.5 76.5,485.5 77,485.5 77.5,485.5 78,485.5 78.5,485.5 79,485.5 79.5,485.5 80,485.5 80.5,485.5 81,485.5 81.5,485.5 82,485.5 82.5,485.5 83,485.49 83.5,485.49 84,485.49 84.5,485.49 85,485.48 85.5,485.48 86,485.47 86.5,485.47 87,485.46 87.5,485.45 88,485.44 88.5,485.42 89,485.4 89.5,485.38 90,485.35 90.5,485.31 91,485.27 91.5,485.23 92,485.17 92.5,485.1 93,485.03 93.5,484.94 94,484.84 94.5,484.72 95,484.59 95.5,483.9 96,483.74 96.5,484.63 97,484.39 97.5,483.27 98,483.14 98.5,482.96 99,483.11 99.5,482.45 100,482.12 100.5,481.81 101,481.96 101.5,481.25 102,480.91 102.5,480.12 103,479.38 103.5,479.02 104,479.09 104.5,478.79 105,478.58 105.5,478.44 106,478.03 106.5,477.09 107,476.85 107.5,476.35 108,475.31 108.5,475.3 109,474.8 109.5,474.7 110,474.43 110.5,473.52 111,473.18 111.5,472.15 112,470.94 112.5,470.65 113,470.49 113.5,468.81 114,468.01 114.5,467.06 115,465.74 115.5,464.7 116,463.36 116.5,462.51 117,460.32 117.5,458.87 118,458.36 118.5,456.21 119,454.88 119.5,453.9 120,452.68 120.5,451.76 121,450.47 121.5,450.43 122,449.74 122.5,450.28 123,450.16 123.5,451.45 124,454.01 124.5,456.49 125,459.1 125.5,462.6 126,466.22 126.5,469.77 127,472.66 127.5,474.92 128,477.9 128.5,478.97 129,481.32 129.5,481.8 130,483.48 130.5,483.41 131,484.22 131.5,484.83 132,485.07 132.5,485.23 133,485.34 133.5,485.4 134,485.45 134.5,485.47 135,485.48 135.5,485.49 136,485.5 136.5,485.5 137,485.5 137.5,485.5 138,485.5 138.5,485.5 139,485.5 139.5,485.5 140,485.5 140.5,485.5 141,485.5 141.5,485.5 142,485.5 142.5,485.5 143,485.5 143.5,485.5 144,485.5 144.5,485.5 145,485.5 145.5,485.5 146,485.5 146.5,485.5 147,485.5 147.5,485.5 148,485.5 148.5,485.5 149,485.5 149.5,485.5 150,485.5 150.5,485.5 151,485.5 151.5,485.5 151.5,485.5" fill="#fa6870"/>
<polygon points="72.5,485.5 72.5,485.5 73,485.5 73.5,485.5 74,485.5 74.5,485.5 75,485.5 75.5,485.5 76,485.5 76.5,485.5 77,485.5 77.5,485.5 78,485.5 78.5,485.5 79,485.5 79.5,485.5 80,485.5 80.5,485.5 81,485.5 81.5,485.5 82,485.5 82.5,485.5 83,485.5 83.5,485.49 84,485.49 84.5,485.49 85,485.48 85.5,485.48 86,485.47 86.5,485.46 87,485.45 87.5,485.44 88,485.42 88.5,485.39 89,485.36 89.5,485.33 90,485.29 90.5,485.23 91,485.17 91.5,485.1 92,485.01 92.5,484.9 93,484.78 93.5,484.64 94,484.48 94.5,484.28 95,483.92 95.5,483.77 96,483.86 96.5,483.71 97,483.05 97.5,482.23 98,482.27 98.5,482.58 99,481.32 99.5,481.06 100,480.46 100.5,480.94 101,479.91 101.5,480.37 102,479.31 102.5,479.45 103,479.21 103.5,478.17 104,478.88 104.5,478.2 105,477.68 105.5,478.33 106,478.35 106.5,477.6 107,478.32 107.5,478.25 108,479.44 108.5,479.5 109,480.23 109.5,480.18 110,481.45 110.5,480.97 111,482.64 111.5,482.31 112,483.64 112.5,483.79 113,483.5 113.5,484.62 114,484.86 114.5,484.72 115,484.9 115.5,485.05 116,485.17 116.5,485.26 117,485.33 117.5,485.38 118,485.42 118.5,485.44 119,485.46 119.5,485.47 120,485.48 120.5,485.49 121,485.49 121.5,485.5 122,485.5 122.5,485.5 123,485.5 123.5,485.5 124,485.5 124.5,485.5 125,485.5 125.5,485.5 126,485.5 126.5,485.5 127,485.5 127.5,485.5 128,485.5 128.5,485.5 129,485.5 129.5,485.5 130,485.5 130.5,485.5 131,485.5 131.5,485.5 132,485.5 132.5,485.5 133,485.5 133.5,485.5 134,485.5 134.5,485.5 135,485.5 135.5,485.5 136,485.5 136.5,485.5 137,485.5 137.5,485.5 138,485.5 138.5,485.5 139,485.5 139.5,485.5 140,485.5 140.5,485.5 141,485.5 141.5,485.5 142,485.5 142.5,485.5 143,485.5 143.5,485.5 144,485.5 144.5,485.5 145,485.5 145.5,485.5 146,485.5 146.5,485.5 147,485.5 147.5,485.5 148,485.5 148.5,485.5 149,485.5 149.5,485.5 150,485.5 150.5,485.5 151,485.5 151.5,485.5 151.5,485.5" fill="#6464f4"/>
<polygon points="72.5,485.5 72.5,485.5 73,485.5 73.5,485.5 74,485.5 74.5,485.5 75,485.5 75.5,485.5 76,485.5 76.5,485.5 77,485.5 77.5,485.5 78,485.5 78.5,485.5 79,485.5 79.5,485.5 80,485.5 80.5,485.5 81,485.5 81.5,485.5 82,485.5 82.5,485.5 83,485.5 83.5,485.49 84,485.49 84.5,485.49 85,485.48 85.5,485.48 86,485.47 86.5,485.47 87,485.46 87.5,485.45 88,485.44 88.5,485.42 89,485.4 89.5,485.38 90,485.35 90.5,485.31 91,485.27 91.5,485.23 92,485.17 92.5,485.1 93,485.03 93.5,484.94 94,484.84 94.5,484.72 95,484.59 95.5,483.9 96,483.86 96.5,484.63 97,484.39 97.5,483.27 98,483.14 98.5,482.96 99,483.11 99.5,482.45 100,482.12 100.5,481.81 101,481.96 101.5,481.25 102,480.91 102.5,480.12 103,479.38 103.5,479.02 104,479.09 104.5,478.79 105,478.58 105.5,478.44 106,478.35 106.5,477.6 107,478.32 107.5,478.25 108,479.44 108.5,479.5 109,480.23 109.5,480.18 110,481.45 110.5,480.97 111,482.64 111.5,482.31 112,483.64 112.5,483.79 113,483.5 113.5,484.62 114,484.86 114.5,484.72 115,484.9 115.5,485.05 116,485.17 116.5,485.26 117,485.33 117.5,485.38 118,485.42 118.5,485.44 119,485.46 119.5,485.47 120,485.48 120.5,485.49 121,485.49 121.5,485.5 122,485.5 122.5,485.5 123,485.5 123.5,485.5 124,485.5 124.5,485.5 125,485.5 125.5,485.5 126,485.5 126.5,485.5 127,485.5 127.5,485.5 128,485.5 128.5,485.5 129,485.5 129.5,485.5 130,485.5 130.5,485.5 131,485.5 131.5,485.5 132,485.5 132.5,485.5 133,485.5 133.5,485.5 134,485.5 134.5,485.5 135,485.5 135.5,485.5 136,485.5 136.5,485.5 137,485.5 137.5,485.5 138,485.5 138.5,485.5 139,485.5 139.5,485.5 140,485.5 140.5,485.5 141,485.5 141.5,485.5 142,485.5 142.5,485.5 143,485.5 143.5,485.5 144,485.5 144.5,485.5 145,485.5 145.5,485.5 146,485.5 146.5,485.5 147,485.5 147.5,485.5 148,485.5 148.5,485.5 149,485.5 149.5,485.5 150,485.5 150.5,485.5 151,485.5 151.5,485.5 151.5,485.5" fill="#7428c4"/>
<line x1="72" y1="485.5" x2="152.5" y2="485.5" stroke="#222" stroke-width="0.8"/>
<line x1="72" y1="447" x2="72" y2="485.5" stroke="#666" stroke-width="0.6"/>
<line x1="70.8" y1="481.44" x2="72" y2="481.44" stroke="#555" stroke-width="0.5"/>
<text x="70.6" y="479.94" font-size="2" text-anchor="middle" fill="#555" transform="rotate(-90 70.6 479.94)">10</text>
<line x1="70.8" y1="477.39" x2="72" y2="477.39" stroke="#555" stroke-width="0.5"/>
<text x="70.6" y="475.89" font-size="2" text-anchor="middle" fill="#555" transform="rotate(-90 70.6 475.89)">20</text>
<line x1="70.8" y1="473.33" x2="72" y2="473.33" stroke="#555" stroke-width="0.5"/>
<text x="70.6" y="471.83" font-size="2" text-anchor="middle" fill="#555" transform="rotate(-90 70.6 471.83)">30</text>
<line x1="70.8" y1="469.28" x2="72" y2="469.28" stroke="#555" stroke-width="0.5"/>
<text x="70.6" y="467.78" font-size="2" text-anchor="middle" fill="#555" transform="rotate(-90 70.6 467.78)">40</text>
<line x1="70.8" y1="465.22" x2="72" y2="465.22" stroke="#555" stroke-width="0.5"/>
<text x="70.6" y="463.72" font-size="2" text-anchor="middle" fill="#555" transform="rotate(-90 70.6 463.72)">50</text>
<line x1="70.8" y1="461.17" x2="72" y2="461.17" stroke="#555" stroke-width="0.5"/>
<text x="70.6" y="459.67" font-size="2" text-anchor="middle" fill="#555" transform="rotate(-90 70.6 459.67)">60</text>
<line x1="70.8" y1="457.11" x2="72" y2="457.11" stroke="#555" stroke-width="0.5"/>
<text x="70.6" y="455.61" font-size="2" text-anchor="middle" fill="#555" transform="rotate(-90 70.6 455.61)">70</text>
<line x1="70.8" y1="453.06" x2="72" y2="453.06" stroke="#555" stroke-width="0.5"/>
<text x="70.6" y="451.56" font-size="2" text-anchor="middle" fill="#555" transform="rotate(-90 70.6 451.56)">80</text>
<line x1="70.8" y1="449" x2="72" y2="449" stroke="#555" stroke-width="0.5"/>
<text x="70.6" y="447.5" font-size="2" text-anchor="middle" fill="#555" transform="rotate(-90 70.6 447.5)">90</text>
<line x1="83.03" y1="485.5" x2="83.03" y2="487" stroke="#333" stroke-width="0.5"/>
<text x="83.03" y="489.8" font-size="2.6" text-anchor="middle" fill="#555">10<tspan font-size="1.8" dy="-1">2</tspan></text>
<line x1="103.56" y1="485.5" x2="103.56" y2="487" stroke="#333" stroke-width="0.5"/>
<text x="103.56" y="489.8" font-size="2.6" text-anchor="middle" fill="#555">10<tspan font-size="1.8" dy="-1">3</tspan></text>
<line x1="124.08" y1="485.5" x2="124.08" y2="487" stroke="#333" stroke-width="0.5"/>
<text x="124.08" y="489.8" font-size="2.6" text-anchor="middle" fill="#555">10<tspan font-size="1.8" dy="-1">4</tspan></text>
<line x1="144.61" y1="485.5" x2="144.61" y2="487" stroke="#333" stroke-width="0.5"/>
<text x="144.61" y="489.8" font-size="2.6" text-anchor="middle" fill="#555">10<tspan font-size="1.8" dy="-1">5</tspan></text>
<line x1="74" y1="485.5" x2="74" y2="486.3" stroke="#555" stroke-width="0.4"/>
<line x1="79.58" y1="485.5" x2="79.58" y2="486.3" stroke="#555" stroke-width="0.4"/>
<line x1="85.15" y1="485.5" x2="85.15" y2="486.3" stroke="#555" stroke-width="0.4"/>
<line x1="90.73" y1="485.5" x2="90.73" y2="486.3" stroke="#555" stroke-width="0.4"/>
<line x1="96.31" y1="485.5" x2="96.31" y2="486.3" stroke="#555" stroke-width="0.4"/>
<line x1="101.88" y1="485.5" x2="101.88" y2="486.3" stroke="#555" stroke-width="0.4"/>
<line x1="107.46" y1="485.5" x2="107.46" y2="486.3" stroke="#555" stroke-width="0.4"/>
<line x1="113.04" y1="485.5" x2="113.04" y2="486.3" stroke="#555" stroke-width="0.4"/>
<line x1="118.62" y1="485.5" x2="118.62" y2="486.3" stroke="#555" stroke-width="0.4"/>
<line x1="124.19" y1="485.5" x2="124.19" y2="486.3" stroke="#555" stroke-width="0.4"/>
<line x1="129.77" y1="485.5" x2="129.77" y2="486.3" stroke="#555" stroke-width="0.4"/>
<line x1="135.35" y1="485.5" x2="135.35" y2="486.3" stroke="#555" stroke-width="0.4"/>
<line x1="140.92" y1="485.5" x2="140.92" y2="486.3" stroke="#555" stroke-width="0.4"/>
<line x1="146.5" y1="485.5" x2="146.5" y2="486.3" stroke="#555" stroke-width="0.4"/>
<rect x="64.5" y="444.5" width="1.2" height="1.2" fill="#5cbf5c"/>
<rect x="163.75" y="398" width="82.25" height="37" fill="#fff" stroke="#b4b4b4" stroke-width="0.6"/>
<polygon points="164.25,435 164.25,435 164.75,435 165.25,435 165.75,435 166.25,435 166.75,435 167.25,435 167.75,435 168.25,435 168.75,435 169.25,435 169.75,435 170.25,435 170.75,435 171.25,435 171.75,435 172.25,435 172.75,435 173.25,435 173.75,435 174.25,435 174.75,435 175.25,435 175.75,435 176.25,435 176.75,435 177.25,435 177.75,435 178.25,435 178.75,435 179.25,435 179.75,434.99 180.25,434.99 180.75,434.98 181.25,434.97 181.75,434.96 182.25,434.93 182.75,434.9 183.25,434.86 183.75,434.8 184.25,434.72 184.75,434.61 185.25,434.46 185.75,434.28 186.25,434.04 186.75,434.17 187.25,433.32 187.75,433.18 188.25,432.3 188.75,431.7 189.25,431.96 189.75,431.34 190.25,429.26 190.75,429.4 191.25,428.63 191.75,426.61 192.25,426.68 192.75,425.36 193.25,425.28 193.75,424.43 194.25,424.7 194.75,423.47 195.25,422.69 195.75,422.89 196.25,422.18 196.75,421.87 197.25,422.27 197.75,420.38 198.25,419.59 198.75,418.69 199.25,417.43 199.75,414.11 200.25,412.53 200.75,409.8 201.25,407.21 201.75,405.31 202.25,403.13 202.75,402.6 203.25,401.17 203.75,401.63 204.25,401.47 204.75,402.91 205.25,406.15 205.75,408.61 206.25,411.37 206.75,413.26 207.25,417.24 207.75,419.97 208.25,423.3 208.75,425.48 209.25,427.85 209.75,429.71 210.25,430.8 210.75,431.95 211.25,432.31 211.75,433.31 212.25,434.07 212.75,434.4 213.25,434.62 213.75,434.76 214.25,434.86 214.75,434.92 215.25,434.95 215.75,434.97 216.25,434.98 216.75,434.99 217.25,435 217.75,435 218.25,435 218.75,435 219.25,435 219.75,435 220.25,435 220.75,435 221.25,435 221.75,435 222.25,435 222.75,435 223.25,435 223.75,435 224.25,435 224.75,435 225.25,435 225.75,435 226.25,435 226.75,435 227.25,435 227.75,435 228.25,435 228.75,435 229.25,435 229.75,435 230.25,435 230.75,435 231.25,435 231.75,435 232.25,435 232.75,435 233.25,435 233.75,435 234.25,435 234.75,435 235.25,435 235.75,435 236.25,435 236.75,435 237.25,435 237.75,435 238.25,435 238.75,435 239.25,435 239.75,435 240.25,435 240.75,435 241.25,435 241.75,435 242.25,435 242.75,435 243.25,435 243.75,435 244.25,435 244.75,435 244.75,435" fill="#fa6870"/>
<polygon points="164.25,435 164.25,435 164.75,434.99 165.25,434.99 165.75,434.99 166.25,434.99 166.75,434.98 167.25,434.97 167.75,434.97 168.25,434.96 168.75,434.95 169.25,434.93 169.75,434.91 170.25,434.89 170.75,434.86 171.25,434.82 171.75,434.78 172.25,434.72 172.75,434.66 173.25,434.58 173.75,434.49 174.25,434.39 174.75,434.27 175.25,434.12 175.75,433.27 176.25,433.2 176.75,432.77 177.25,433.05 177.75,433.59 178.25,432.18 178.75,431.68 179.25,431.42 179.75,431.56 180.25,430.89 180.75,431.18 181.25,429.59 181.75,429.27 182.25,428.84 182.75,428.17 183.25,425.83 183.75,424.64 184.25,425.33 184.75,423.7 185.25,424.03 185.75,424.16 186.25,423.51 186.75,422.12 187.25,421.23 187.75,421.91 188.25,420.62 188.75,421.48 189.25,420.58 189.75,421.4 190.25,420.55 190.75,420.24 191.25,420.79 191.75,419.94 192.25,421.37 192.75,422.44 193.25,422.57 193.75,424.65 194.25,425.64 194.75,426.54 195.25,427.36 195.75,429.11 196.25,430.19 196.75,429.64 197.25,431.21 197.75,430.78 198.25,431.41 198.75,432.7 199.25,432.98 199.75,433.25 200.25,433.36 200.75,433.71 201.25,434.09 201.75,434.27 202.25,434.43 202.75,434.55 203.25,434.66 203.75,434.74 204.25,434.8 204.75,434.85 205.25,434.89 205.75,434.92 206.25,434.94 206.75,434.96 207.25,434.97 207.75,434.98 208.25,434.99 208.75,434.99 209.25,434.99 209.75,435 210.25,435 210.75,435 211.25,435 211.75,435 212.25,435 212.75,435 213.25,435 213.75,435 214.25,435 214.75,435 215.25,435 215.75,435 216.25,435 216.75,435 217.25,435 217.75,435 218.25,435 218.75,435 219.25,435 219.75,435 220.25,435 220.75,435 221.25,435 221.75,435 222.25,435 222.75,435 223.25,435 223.75,435 224.25,435 224.75,435 225.25,435 225.75,435 226.25,435 226.75,435 227.25,435 227.75,435 228.25,435 228.75,435 229.25,435 229.75,435 230.25,435 230.75,435 231.25,435 231.75,435 232.25,435 232.75,435 233.25,435 233.75,435 234.25,435 234.75,435 235.25,435 235.75,435 236.25,435 236.75,435 237.25,435 237.75,435 238.25,435 238.75,435 239.25,435 239.75,435 240.25,435 240.75,435 241.25,435 241.75,435 242.25,435 242.75,435 243.25,435 243.75,435 244.25,435 244.75,435 244.75,435" fill="#6464f4"/>
<polygon points="164.25,435 164.25,435 164.75,435 165.25,435 165.75,435 166.25,435 166.75,435 167.25,435 167.75,435 168.25,435 168.75,435 169.25,435 169.75,435 170.25,435 170.75,435 171.25,435 171.75,435 172.25,435 172.75,435 173.25,435 173.75,435 174.25,435 174.75,435 175.25,435 175.75,435 176.25,435 176.75,435 177.25,435 177.75,435 178.25,435 178.75,435 179.25,435 179.75,434.99 180.25,434.99 180.75,434.98 181.25,434.97 181.75,434.96 182.25,434.93 182.75,434.9 183.25,434.86 183.75,434.8 184.25,434.72 184.75,434.61 185.25,434.46 185.75,434.28 186.25,434.04 186.75,434.17 187.25,433.32 187.75,433.18 188.25,432.3 188.75,431.7 189.25,431.96 189.75,431.34 190.25,429.26 190.75,429.4 191.25,428.63 191.75,426.61 192.25,426.68 192.75,425.36 193.25,425.28 193.75,424.65 194.25,425.64 194.75,426.54 195.25,427.36 195.75,429.11 196.25,430.19 196.75,429.64 197.25,431.21 197.75,430.78 198.25,431.41 198.75,432.7 199.25,432.98 199.75,433.25 200.25,433.36 200.75,433.71 201.25,434.09 201.75,434.27 202.25,434.43 202.75,434.55 203.25,434.66 203.75,434.74 204.25,434.8 204.75,434.85 205.25,434.89 205.75,434.92 206.25,434.94 206.75,434.96 207.25,434.97 207.75,434.98 208.25,434.99 208.75,434.99 209.25,434.99 209.75,435 210.25,435 210.75,435 211.25,435 211.75,435 212.25,435 212.75,435 213.25,435 213.75,435 214.25,435 214.75,435 215.25,435 215.75,435 216.25,435 216.75,435 217.25,435 217.75,435 218.25,435 218.75,435 219.25,435 219.75,435 220.25,435 220.75,435 221.25,435 221.75,435 222.25,435 222.75,435 223.25,435 223.75,435 224.25,435 224.75,435 225.25,435 225.75,435 226.25,435 226.75,435 227.25,435 227.75,435 228.25,435 228.75,435 229.25,435 229.75,435 230.25,435 230.75,435 231.25,435 231.75,435 232.25,435 232.75,435 233.25,435 233.75,435 234.25,435 234.75,435 235.25,435 235.75,435 236.25,435 236.75,435 237.25,435 237.75,435 238.25,435 238.75,435 239.25,435 239.75,435 240.25,435 240.75,435 241.25,435 241.75,435 242.25,435 242.75,435 243.25,435 243.75,435 244.25,435 244.75,435 244.75,435" fill="#7428c4"/>
<line x1="163.75" y1="435" x2="246" y2="435" stroke="#222" stroke-width="0.8"/>
<line x1="163.75" y1="398" x2="163.75" y2="435" stroke="#666" stroke-width="0.6"/>
<line x1="162.55" y1="431.11" x2="163.75" y2="431.11" stroke="#555" stroke-width="0.5"/>
<text x="162.35" y="429.61" font-size="2" text-anchor="middle" fill="#555" transform="rotate(-90 162.35 429.61)">10</text>
<line x1="162.55" y1="427.22" x2="163.75" y2="427.22" stroke="#555" stroke-width="0.5"/>
<text x="162.35" y="425.72" font-size="2" text-anchor="middle" fill="#555" transform="rotate(-90 162.35 425.72)">20</text>
<line x1="162.55" y1="423.33" x2="163.75" y2="423.33" stroke="#555" stroke-width="0.5"/>
<text x="162.35" y="421.83" font-size="2" text-anchor="middle" fill="#555" transform="rotate(-90 162.35 421.83)">30</text>
<line x1="162.55" y1="419.44" x2="163.75" y2="419.44" stroke="#555" stroke-width="0.5"/>
<text x="162.35" y="417.94" font-size="2" text-anchor="middle" fill="#555" transform="rotate(-90 162.35 417.94)">40</text>
<line x1="162.55" y1="415.56" x2="163.75" y2="415.56" stroke="#555" stroke-width="0.5"/>
<text x="162.35" y="414.06" font-size="2" text-anchor="middle" fill="#555" transform="rotate(-90 162.35 414.06)">50</text>
<line x1="162.55" y1="411.67" x2="163.75" y2="411.67" stroke="#555" stroke-width="0.5"/>
<text x="162.35" y="410.17" font-size="2" text-anchor="middle" fill="#555" transform="rotate(-90 162.35 410.17)">60</text>
<line x1="162.55" y1="407.78" x2="163.75" y2="407.78" stroke="#555" stroke-width="0.5"/>
<text x="162.35" y="406.28" font-size="2" text-anchor="middle" fill="#555" transform="rotate(-90 162.35 406.28)">70</text>
<line x1="162.55" y1="403.89" x2="163.75" y2="403.89" stroke="#555" stroke-width="0.5"/>
<text x="162.35" y="402.39" font-size="2" text-anchor="middle" fill="#555" transform="rotate(-90 162.35 402.39)">80</text>
<line x1="162.55" y1="400" x2="163.75" y2="400" stroke="#555" stroke-width="0.5"/>
<text x="162.35" y="398.5" font-size="2" text-anchor="middle" fill="#555" transform="rotate(-90 162.35 398.5)">90</text>
<line x1="175.02" y1="435" x2="175.02" y2="436.5" stroke="#333" stroke-width="0.5"/>
<text x="175.02" y="439.3" font-size="2.6" text-anchor="middle" fill="#555">10<tspan font-size="1.8" dy="-1">2</tspan></text>
<line x1="195.99" y1="435" x2="195.99" y2="436.5" stroke="#333" stroke-width="0.5"/>
<text x="195.99" y="439.3" font-size="2.6" text-anchor="middle" fill="#555">10<tspan font-size="1.8" dy="-1">3</tspan></text>
<line x1="216.97" y1="435" x2="216.97" y2="436.5" stroke="#333" stroke-width="0.5"/>
<text x="216.97" y="439.3" font-size="2.6" text-anchor="middle" fill="#555">10<tspan font-size="1.8" dy="-1">4</tspan></text>
<line x1="237.94" y1="435" x2="237.94" y2="436.5" stroke="#333" stroke-width="0.5"/>
<text x="237.94" y="439.3" font-size="2.6" text-anchor="middle" fill="#555">10<tspan font-size="1.8" dy="-1">5</tspan></text>
<line x1="165.75" y1="435" x2="165.75" y2="435.8" stroke="#555" stroke-width="0.4"/>
<line x1="171.46" y1="435" x2="171.46" y2="435.8" stroke="#555" stroke-width="0.4"/>
<line x1="177.17" y1="435" x2="177.17" y2="435.8" stroke="#555" stroke-width="0.4"/>
<line x1="182.88" y1="435" x2="182.88" y2="435.8" stroke="#555" stroke-width="0.4"/>
<line x1="188.6" y1="435" x2="188.6" y2="435.8" stroke="#555" stroke-width="0.4"/>
<line x1="194.31" y1="435" x2="194.31" y2="435.8" stroke="#555" stroke-width="0.4"/>
<line x1="200.02" y1="435" x2="200.02" y2="435.8" stroke="#555" stroke-width="0.4"/>
<line x1="205.73" y1="435" x2="205.73" y2="435.8" stroke="#555" stroke-width="0.4"/>
<line x1="211.44" y1="435" x2="211.44" y2="435.8" stroke="#555" stroke-width="0.4"/>
<line x1="217.15" y1="435" x2="217.15" y2="435.8" stroke="#555" stroke-width="0.4"/>
<line x1="222.87" y1="435" x2="222.87" y2="435.8" stroke="#555" stroke-width="0.4"/>
<line x1="228.58" y1="435" x2="228.58" y2="435.8" stroke="#555" stroke-width="0.4"/>
<line x1="234.29" y1="435" x2="234.29" y2="435.8" stroke="#555" stroke-width="0.4"/>
<line x1="240" y1="435" x2="240" y2="435.8" stroke="#555" stroke-width="0.4"/>
<rect x="156.25" y="395.5" width="1.2" height="1.2" fill="#5cbf5c"/>
<rect x="163.75" y="449" width="81.75" height="37" fill="#fff" stroke="#b4b4b4" stroke-width="0.6"/>
<polygon points="164.25,486 164.25,485.97 164.75,485.96 165.25,485.95 165.75,485.94 166.25,485.93 166.75,485.91 167.25,485.89 167.75,485.87 168.25,485.84 168.75,485.81 169.25,485.77 169.75,485.73 170.25,485.68 170.75,485.63 171.25,485.57 171.75,485.5 172.25,485.42 172.75,485.33 173.25,485.24 173.75,485.13 174.25,485.02 174.75,485.22 175.25,485.25 175.75,484.76 176.25,484.9 176.75,484.85 177.25,484.29 177.75,483.5 178.25,483.47 178.75,483.34 179.25,483.82 179.75,483.27 180.25,483.41 180.75,483.37 181.25,483.29 181.75,483.02 182.25,482.02 182.75,482.01 183.25,481.93 183.75,481.83 184.25,482.48 184.75,482.27 185.25,481.83 185.75,481.65 186.25,481.46 186.75,481.4 187.25,482.35 187.75,481.7 188.25,481.54 188.75,481.56 189.25,481.63 189.75,480.74 190.25,480.4 190.75,478.26 191.25,476.84 191.75,475.32 192.25,473.31 192.75,469.9 193.25,467.32 193.75,463.76 194.25,460.56 194.75,457.84 195.25,455.12 195.75,452.53 196.25,450.99 196.75,450.3 197.25,449.86 197.75,449.34 198.25,450.64 198.75,451.29 199.25,451.49 199.75,453.02 200.25,454 200.75,455.49 201.25,457.15 201.75,457.93 202.25,460.46 202.75,461.77 203.25,463.54 203.75,464.48 204.25,466.3 204.75,467.51 205.25,468.26 205.75,469.92 206.25,470.7 206.75,471.28 207.25,473.18 207.75,474.1 208.25,474.71 208.75,474.82 209.25,475.68 209.75,476.73 210.25,477.1 210.75,477.64 211.25,477.52 211.75,478.09 212.25,477.24 212.75,476.81 213.25,476.49 213.75,476.49 214.25,476.03 214.75,477.11 215.25,476.94 215.75,476.5 216.25,477.33 216.75,478.57 217.25,478.88 217.75,480.29 218.25,481.08 218.75,482.67 219.25,483.65 219.75,484.07 220.25,485.02 220.75,485.02 221.25,485.35 221.75,485.58 222.25,485.73 222.75,485.83 223.25,485.9 223.75,485.94 224.25,485.96 224.75,485.98 225.25,485.98 225.75,485.99 226.25,485.99 226.75,486 227.25,486 227.75,486 228.25,486 228.75,486 229.25,486 229.75,486 230.25,486 230.75,486 231.25,486 231.75,486 232.25,486 232.75,486 233.25,486 233.75,486 234.25,486 234.75,486 235.25,486 235.75,486 236.25,486 236.75,486 237.25,486 237.75,486 238.25,486 238.75,486 239.25,486 239.75,486 240.25,486 240.75,486 241.25,486 241.75,486 242.25,486 242.75,486 243.25,486 243.75,486 244.25,486 244.25,486" fill="#fa6870"/>
<polygon points="164.25,486 164.25,486 164.75,486 165.25,486 165.75,486 166.25,486 166.75,486 167.25,486 167.75,486 168.25,486 168.75,485.99 169.25,485.99 169.75,485.98 170.25,485.96 170.75,485.94 171.25,485.89 171.75,485.82 172.25,485.71 172.75,485.53 173.25,485.27 173.75,485.04 174.25,483.82 174.75,483.86 175.25,483.29 175.75,482.01 176.25,480.31 176.75,477.7 177.25,476 177.75,473.59 178.25,471.08 178.75,467.14 179.25,464.91 179.75,462.39 180.25,460.08 180.75,458.04 181.25,456.42 181.75,454.99 182.25,455.51 182.75,456.12 183.25,456.58 183.75,458.35 184.25,459.33 184.75,462.53 185.25,464.38 185.75,466.5 186.25,469.34 186.75,470.94 187.25,473.68 187.75,475.89 188.25,477.38 188.75,479.3 189.25,480.09 189.75,481.36 190.25,481.49 190.75,482.33 191.25,483.37 191.75,484.47 192.25,484.65 192.75,485.04 193.25,485.04 193.75,485.28 194.25,485.47 194.75,485.62 195.25,485.74 195.75,485.82 196.25,485.88 196.75,485.92 197.25,485.95 197.75,485.97 198.25,485.98 198.75,485.99 199.25,485.99 199.75,486 200.25,486 200.75,486 201.25,486 201.75,486 202.25,486 202.75,486 203.25,486 203.75,486 204.25,486 204.75,486 205.25,486 205.75,486 206.25,486 206.75,486 207.25,486 207.75,486 208.25,486 208.75,486 209.25,486 209.75,486 210.25,486 210.75,486 211.25,486 211.75,486 212.25,486 212.75,486 213.25,486 213.75,486 214.25,486 214.75,486 215.25,486 215.75,486 216.25,486 216.75,486 217.25,486 217.75,486 218.25,486 218.75,486 219.25,486 219.75,486 220.25,486 220.75,486 221.25,486 221.75,486 222.25,486 222.75,486 223.25,486 223.75,486 224.25,486 224.75,486 225.25,486 225.75,486 226.25,486 226.75,486 227.25,486 227.75,486 228.25,486 228.75,486 229.25,486 229.75,486 230.25,486 230.75,486 231.25,486 231.75,486 232.25,486 232.75,486 233.25,486 233.75,486 234.25,486 234.75,486 235.25,486 235.75,486 236.25,486 236.75,486 237.25,486 237.75,486 238.25,486 238.75,486 239.25,486 239.75,486 240.25,486 240.75,486 241.25,486 241.75,486 242.25,486 242.75,486 243.25,486 243.75,486 244.25,486 244.25,486" fill="#6464f4"/>
<polygon points="164.25,486 164.25,486 164.75,486 165.25,486 165.75,486 166.25,486 166.75,486 167.25,486 167.75,486 168.25,486 168.75,485.99 169.25,485.99 169.75,485.98 170.25,485.96 170.75,485.94 171.25,485.89 171.75,485.82 172.25,485.71 172.75,485.53 173.25,485.27 173.75,485.13 174.25,485.02 174.75,485.22 175.25,485.25 175.75,484.76 176.25,484.9 176.75,484.85 177.25,484.29 177.75,483.5 178.25,483.47 178.75,483.34 179.25,483.82 179.75,483.27 180.25,483.41 180.75,483.37 181.25,483.29 181.75,483.02 182.25,482.02 182.75,482.01 183.25,481.93 183.75,481.83 184.25,482.48 184.75,482.27 185.25,481.83 185.75,481.65 186.25,481.46 186.75,481.4 187.25,482.35 187.75,481.7 188.25,481.54 188.75,481.56 189.25,481.63 189.75,481.36 190.25,481.49 190.75,482.33 191.25,483.37 191.75,484.47 192.25,484.65 192.75,485.04 193.25,485.04 193.75,485.28 194.25,485.47 194.75,485.62 195.25,485.74 195.75,485.82 196.25,485.88 196.75,485.92 197.25,485.95 197.75,485.97 198.25,485.98 198.75,485.99 199.25,485.99 199.75,486 200.25,486 200.75,486 201.25,486 201.75,486 202.25,486 202.75,486 203.25,486 203.75,486 204.25,486 204.75,486 205.25,486 205.75,486 206.25,486 206.75,486 207.25,486 207.75,486 208.25,486 208.75,486 209.25,486 209.75,486 210.25,486 210.75,486 211.25,486 211.75,486 212.25,486 212.75,486 213.25,486 213.75,486 214.25,486 214.75,486 215.25,486 215.75,486 216.25,486 216.75,486 217.25,486 217.75,486 218.25,486 218.75,486 219.25,486 219.75,486 220.25,486 220.75,486 221.25,486 221.75,486 222.25,486 222.75,486 223.25,486 223.75,486 224.25,486 224.75,486 225.25,486 225.75,486 226.25,486 226.75,486 227.25,486 227.75,486 228.25,486 228.75,486 229.25,486 229.75,486 230.25,486 230.75,486 231.25,486 231.75,486 232.25,486 232.75,486 233.25,486 233.75,486 234.25,486 234.75,486 235.25,486 235.75,486 236.25,486 236.75,486 237.25,486 237.75,486 238.25,486 238.75,486 239.25,486 239.75,486 240.25,486 240.75,486 241.25,486 241.75,486 242.25,486 242.75,486 243.25,486 243.75,486 244.25,486 244.25,486" fill="#7428c4"/>
<line x1="163.75" y1="486" x2="245.5" y2="486" stroke="#222" stroke-width="0.8"/>
<line x1="163.75" y1="449" x2="163.75" y2="486" stroke="#666" stroke-width="0.6"/>
<line x1="162.55" y1="482.11" x2="163.75" y2="482.11" stroke="#555" stroke-width="0.5"/>
<text x="162.35" y="480.61" font-size="2" text-anchor="middle" fill="#555" transform="rotate(-90 162.35 480.61)">10</text>
<line x1="162.55" y1="478.22" x2="163.75" y2="478.22" stroke="#555" stroke-width="0.5"/>
<text x="162.35" y="476.72" font-size="2" text-anchor="middle" fill="#555" transform="rotate(-90 162.35 476.72)">20</text>
<line x1="162.55" y1="474.33" x2="163.75" y2="474.33" stroke="#555" stroke-width="0.5"/>
<text x="162.35" y="472.83" font-size="2" text-anchor="middle" fill="#555" transform="rotate(-90 162.35 472.83)">30</text>
<line x1="162.55" y1="470.44" x2="163.75" y2="470.44" stroke="#555" stroke-width="0.5"/>
<text x="162.35" y="468.94" font-size="2" text-anchor="middle" fill="#555" transform="rotate(-90 162.35 468.94)">40</text>
<line x1="162.55" y1="466.56" x2="163.75" y2="466.56" stroke="#555" stroke-width="0.5"/>
<text x="162.35" y="465.06" font-size="2" text-anchor="middle" fill="#555" transform="rotate(-90 162.35 465.06)">50</text>
<line x1="162.55" y1="462.67" x2="163.75" y2="462.67" stroke="#555" stroke-width="0.5"/>
<text x="162.35" y="461.17" font-size="2" text-anchor="middle" fill="#555" transform="rotate(-90 162.35 461.17)">60</text>
<line x1="162.55" y1="458.78" x2="163.75" y2="458.78" stroke="#555" stroke-width="0.5"/>
<text x="162.35" y="457.28" font-size="2" text-anchor="middle" fill="#555" transform="rotate(-90 162.35 457.28)">70</text>
<line x1="162.55" y1="454.89" x2="163.75" y2="454.89" stroke="#555" stroke-width="0.5"/>
<text x="162.35" y="453.39" font-size="2" text-anchor="middle" fill="#555" transform="rotate(-90 162.35 453.39)">80</text>
<line x1="162.55" y1="451" x2="163.75" y2="451" stroke="#555" stroke-width="0.5"/>
<text x="162.35" y="449.5" font-size="2" text-anchor="middle" fill="#555" transform="rotate(-90 162.35 449.5)">90</text>
<line x1="174.95" y1="486" x2="174.95" y2="487.5" stroke="#333" stroke-width="0.5"/>
<text x="174.95" y="490.3" font-size="2.6" text-anchor="middle" fill="#555">10<tspan font-size="1.8" dy="-1">2</tspan></text>
<line x1="195.8" y1="486" x2="195.8" y2="487.5" stroke="#333" stroke-width="0.5"/>
<text x="195.8" y="490.3" font-size="2.6" text-anchor="middle" fill="#555">10<tspan font-size="1.8" dy="-1">3</tspan></text>
<line x1="216.64" y1="486" x2="216.64" y2="487.5" stroke="#333" stroke-width="0.5"/>
<text x="216.64" y="490.3" font-size="2.6" text-anchor="middle" fill="#555">10<tspan font-size="1.8" dy="-1">4</tspan></text>
<line x1="237.49" y1="486" x2="237.49" y2="487.5" stroke="#333" stroke-width="0.5"/>
<text x="237.49" y="490.3" font-size="2.6" text-anchor="middle" fill="#555">10<tspan font-size="1.8" dy="-1">5</tspan></text>
<line x1="165.75" y1="486" x2="165.75" y2="486.8" stroke="#555" stroke-width="0.4"/>
<line x1="171.42" y1="486" x2="171.42" y2="486.8" stroke="#555" stroke-width="0.4"/>
<line x1="177.1" y1="486" x2="177.1" y2="486.8" stroke="#555" stroke-width="0.4"/>
<line x1="182.77" y1="486" x2="182.77" y2="486.8" stroke="#555" stroke-width="0.4"/>
<line x1="188.44" y1="486" x2="188.44" y2="486.8" stroke="#555" stroke-width="0.4"/>
<line x1="194.12" y1="486" x2="194.12" y2="486.8" stroke="#555" stroke-width="0.4"/>
<line x1="199.79" y1="486" x2="199.79" y2="486.8" stroke="#555" stroke-width="0.4"/>
<line x1="205.46" y1="486" x2="205.46" y2="486.8" stroke="#555" stroke-width="0.4"/>
<line x1="211.13" y1="486" x2="211.13" y2="486.8" stroke="#555" stroke-width="0.4"/>
<line x1="216.81" y1="486" x2="216.81" y2="486.8" stroke="#555" stroke-width="0.4"/>
<line x1="222.48" y1="486" x2="222.48" y2="486.8" stroke="#555" stroke-width="0.4"/>
<line x1="228.15" y1="486" x2="228.15" y2="486.8" stroke="#555" stroke-width="0.4"/>
<line x1="233.83" y1="486" x2="233.83" y2="486.8" stroke="#555" stroke-width="0.4"/>
<line x1="239.5" y1="486" x2="239.5" y2="486.8" stroke="#555" stroke-width="0.4"/>
<rect x="156.25" y="446.5" width="1.2" height="1.2" fill="#5cbf5c"/>
<rect x="256" y="398" width="82" height="36.5" fill="#fff" stroke="#b4b4b4" stroke-width="0.6"/>
<polygon points="256.5,434.5 256.5,434.5 257,434.5 257.5,434.5 258,434.5 258.5,434.5 259,434.5 259.5,434.5 260,434.5 260.5,434.5 261,434.5 261.5,434.5 262,434.5 262.5,434.5 263,434.5 263.5,434.5 264,434.49 264.5,434.49 265,434.49 265.5,434.48 266,434.47 266.5,434.45 267,434.43 267.5,434.39 268,434.34 268.5,434.28 269,434.19 269.5,434.07 270,433.91 270.5,433.7 271,433.28 271.5,432.8 272,432.31 272.5,431.6 273,431.2 273.5,430.2 274,430.36 274.5,428.78 275,426.99 275.5,425.97 276,424.15 276.5,423.45 277,421.27 277.5,419.7 278,417.46 278.5,415.55 279,414.39 279.5,412.42 280,410.77 280.5,408.63 281,407.69 281.5,407.59 282,406.32 282.5,406.93 283,406.39 283.5,407.09 284,407.41 284.5,406.61 285,407.71 285.5,408.07 286,407.58 286.5,408.2 287,409.43 287.5,409.21 288,410.35 288.5,410.85 289,412.12 289.5,411.96 290,413 290.5,413.43 291,414.28 291.5,415.75 292,416.43 292.5,417.4 293,418.14 293.5,418.93 294,419.31 294.5,419.58 295,420.9 295.5,420.67 296,421.62 296.5,422.17 297,422.07 297.5,422.97 298,423.65 298.5,423.94 299,424.17 299.5,425.45 300,424.87 300.5,426.55 301,426.2 301.5,426.61 302,428.13 302.5,427.72 303,428.73 303.5,428.97 304,430.13 304.5,430.55 305,430.84 305.5,430.33 306,431.63 306.5,431.33 307,431.47 307.5,431.77 308,432.77 308.5,433.01 309,433.04 309.5,432.94 310,433.93 310.5,433.61 311,433.75 311.5,433.87 312,433.97 312.5,434.06 313,434.13 313.5,434.19 314,434.24 314.5,434.29 315,434.32 315.5,434.35 316,434.38 316.5,434.4 317,434.42 317.5,434.43 318,434.44 318.5,434.45 319,434.46 319.5,434.47 320,434.47 320.5,434.48 321,434.48 321.5,434.49 322,434.49 322.5,434.49 323,434.49 323.5,434.49 324,434.49 324.5,434.5 325,434.5 325.5,434.5 326,434.5 326.5,434.5 327,434.5 327.5,434.5 328,434.5 328.5,434.5 329,434.5 329.5,434.5 330,434.5 330.5,434.5 331,434.5 331.5,434.5 332,434.5 332.5,434.5 333,434.5 333.5,434.5 334,434.5 334.5,434.5 335,434.5 335.5,434.5 336,434.5 336.5,434.5 337,434.5 337,434.5" fill="#fa6870"/>
<polygon points="256.5,434.5 256.5,434.5 257,434.5 257.5,434.5 258,434.5 258.5,434.5 259,434.5 259.5,434.5 260,434.5 260.5,434.5 261,434.5 261.5,434.5 262,434.5 262.5,434.49 263,434.49 263.5,434.49 264,434.48 264.5,434.47 265,434.45 265.5,434.42 266,434.38 266.5,434.32 267,434.24 267.5,434.13 268,433.98 268.5,433.78 269,433.51 269.5,432.86 270,432.34 270.5,431.69 271,431.96 271.5,429.99 272,429.96 272.5,428.4 273,426.61 273.5,424.56 274,423.37 274.5,420.58 275,418.78 275.5,416.67 276,414.19 276.5,411.86 277,409.52 277.5,407.09 278,404.29 278.5,402.04 279,401.5 279.5,400.49 280,398.66 280.5,398.96 281,399.32 281.5,400.14 282,400.73 282.5,401.81 283,403.93 283.5,405.89 284,408.46 284.5,409.68 285,413.06 285.5,414.84 286,416.72 286.5,419.78 287,421.14 287.5,422.81 288,424.95 288.5,426.33 289,428.53 289.5,429.34 290,430.71 290.5,430.74 291,432.12 291.5,432.52 292,432.34 292.5,432.9 293,433.62 293.5,433.85 294,434.02 294.5,434.15 295,434.25 295.5,434.33 296,434.38 296.5,434.42 297,434.44 297.5,434.46 298,434.47 298.5,434.48 299,434.49 299.5,434.49 300,434.5 300.5,434.5 301,434.5 301.5,434.5 302,434.5 302.5,434.5 303,434.5 303.5,434.5 304,434.5 304.5,434.5 305,434.5 305.5,434.5 306,434.5 306.5,434.5 307,434.5 307.5,434.5 308,434.5 308.5,434.5 309,434.5 309.5,434.5 310,434.5 310.5,434.5 311,434.5 311.5,434.5 312,434.5 312.5,434.5 313,434.5 313.5,434.5 314,434.5 314.5,434.5 315,434.5 315.5,434.5 316,434.5 316.5,434.5 317,434.5 317.5,434.5 318,434.5 318.5,434.5 319,434.5 319.5,434.5 320,434.5 320.5,434.5 321,434.5 321.5,434.5 322,434.5 322.5,434.5 323,434.5 323.5,434.5 324,434.5 324.5,434.5 325,434.5 325.5,434.5 326,434.5 326.5,434.5 327,434.5 327.5,434.5 328,434.5 328.5,434.5 329,434.5 329.5,434.5 330,434.5 330.5,434.5 331,434.5 331.5,434.5 332,434.5 332.5,434.5 333,434.5 333.5,434.5 334,434.5 334.5,434.5 335,434.5 335.5,434.5 336,434.5 336.5,434.5 337,434.5 337,434.5" fill="#6464f4"/>
<polygon points="256.5,434.5 256.5,434.5 257,434.5 257.5,434.5 258,434.5 258.5,434.5 259,434.5 259.5,434.5 260,434.5 260.5,434.5 261,434.5 261.5,434.5 262,434.5 262.5,434.5 263,434.5 263.5,434.5 264,434.49 264.5,434.49 265,434.49 265.5,434.48 266,434.47 266.5,434.45 267,434.43 267.5,434.39 268,434.34 268.5,434.28 269,434.19 269.5,434.07 270,433.91 270.5,433.7 271,433.28 271.5,432.8 272,432.31 272.5,431.6 273,431.2 273.5,430.2 274,430.36 274.5,428.78 275,426.99 275.5,425.97 276,424.15 276.5,423.45 277,421.27 277.5,419.7 278,417.46 278.5,415.55 279,414.39 279.5,412.42 280,410.77 280.5,408.63 281,407.69 281.5,407.59 282,406.32 282.5,406.93 283,406.39 283.5,407.09 284,408.46 284.5,409.68 285,413.06 285.5,414.84 286,416.72 286.5,419.78 287,421.14 287.5,422.81 288,424.95 288.5,426.33 289,428.53 289.5,429.34 290,430.71 290.5,430.74 291,432.12 291.5,432.52 292,432.34 292.5,432.9 293,433.62 293.5,433.85 294,434.02 294.5,434.15 295,434.25 295.5,434.33 296,434.38 296.5,434.42 297,434.44 297.5,434.46 298,434.47 298.5,434.48 299,434.49 299.5,434.49 300,434.5 300.5,434.5 301,434.5 301.5,434.5 302,434.5 302.5,434.5 303,434.5 303.5,434.5 304,434.5 304.5,434.5 305,434.5 305.5,434.5 306,434.5 306.5,434.5 307,434.5 307.5,434.5 308,434.5 308.5,434.5 309,434.5 309.5,434.5 310,434.5 310.5,434.5 311,434.5 311.5,434.5 312,434.5 312.5,434.5 313,434.5 313.5,434.5 314,434.5 314.5,434.5 315,434.5 315.5,434.5 316,434.5 316.5,434.5 317,434.5 317.5,434.5 318,434.5 318.5,434.5 319,434.5 319.5,434.5 320,434.5 320.5,434.5 321,434.5 321.5,434.5 322,434.5 322.5,434.5 323,434.5 323.5,434.5 324,434.5 324.5,434.5 325,434.5 325.5,434.5 326,434.5 326.5,434.5 327,434.5 327.5,434.5 328,434.5 328.5,434.5 329,434.5 329.5,434.5 330,434.5 330.5,434.5 331,434.5 331.5,434.5 332,434.5 332.5,434.5 333,434.5 333.5,434.5 334,434.5 334.5,434.5 335,434.5 335.5,434.5 336,434.5 336.5,434.5 337,434.5 337,434.5" fill="#7428c4"/>
<line x1="256" y1="434.5" x2="338" y2="434.5" stroke="#222" stroke-width="0.8"/>
<line x1="256" y1="398" x2="256" y2="434.5" stroke="#666" stroke-width="0.6"/>
<line x1="254.8" y1="430.67" x2="256" y2="430.67" stroke="#555" stroke-width="0.5"/>
<text x="254.6" y="429.17" font-size="2" text-anchor="middle" fill="#555" transform="rotate(-90 254.6 429.17)">10</text>
<line x1="254.8" y1="426.83" x2="256" y2="426.83" stroke="#555" stroke-width="0.5"/>
<text x="254.6" y="425.33" font-size="2" text-anchor="middle" fill="#555" transform="rotate(-90 254.6 425.33)">20</text>
<line x1="254.8" y1="423" x2="256" y2="423" stroke="#555" stroke-width="0.5"/>
<text x="254.6" y="421.5" font-size="2" text-anchor="middle" fill="#555" transform="rotate(-90 254.6 421.5)">30</text>
<line x1="254.8" y1="419.17" x2="256" y2="419.17" stroke="#555" stroke-width="0.5"/>
<text x="254.6" y="417.67" font-size="2" text-anchor="middle" fill="#555" transform="rotate(-90 254.6 417.67)">40</text>
<line x1="254.8" y1="415.33" x2="256" y2="415.33" stroke="#555" stroke-width="0.5"/>
<text x="254.6" y="413.83" font-size="2" text-anchor="middle" fill="#555" transform="rotate(-90 254.6 413.83)">50</text>
<line x1="254.8" y1="411.5" x2="256" y2="411.5" stroke="#555" stroke-width="0.5"/>
<text x="254.6" y="410" font-size="2" text-anchor="middle" fill="#555" transform="rotate(-90 254.6 410)">60</text>
<line x1="254.8" y1="407.67" x2="256" y2="407.67" stroke="#555" stroke-width="0.5"/>
<text x="254.6" y="406.17" font-size="2" text-anchor="middle" fill="#555" transform="rotate(-90 254.6 406.17)">70</text>
<line x1="254.8" y1="403.83" x2="256" y2="403.83" stroke="#555" stroke-width="0.5"/>
<text x="254.6" y="402.33" font-size="2" text-anchor="middle" fill="#555" transform="rotate(-90 254.6 402.33)">80</text>
<line x1="254.8" y1="400" x2="256" y2="400" stroke="#555" stroke-width="0.5"/>
<text x="254.6" y="398.5" font-size="2" text-anchor="middle" fill="#555" transform="rotate(-90 254.6 398.5)">90</text>
<line x1="267.23" y1="434.5" x2="267.23" y2="436" stroke="#333" stroke-width="0.5"/>
<text x="267.23" y="438.8" font-size="2.6" text-anchor="middle" fill="#555">10<tspan font-size="1.8" dy="-1">2</tspan></text>
<line x1="288.14" y1="434.5" x2="288.14" y2="436" stroke="#333" stroke-width="0.5"/>
<text x="288.14" y="438.8" font-size="2.6" text-anchor="middle" fill="#555">10<tspan font-size="1.8" dy="-1">3</tspan></text>
<line x1="309.05" y1="434.5" x2="309.05" y2="436" stroke="#333" stroke-width="0.5"/>
<text x="309.05" y="438.8" font-size="2.6" text-anchor="middle" fill="#555">10<tspan font-size="1.8" dy="-1">4</tspan></text>
<line x1="329.96" y1="434.5" x2="329.96" y2="436" stroke="#333" stroke-width="0.5"/>
<text x="329.96" y="438.8" font-size="2.6" text-anchor="middle" fill="#555">10<tspan font-size="1.8" dy="-1">5</tspan></text>
<line x1="258" y1="434.5" x2="258" y2="435.3" stroke="#555" stroke-width="0.4"/>
<line x1="263.69" y1="434.5" x2="263.69" y2="435.3" stroke="#555" stroke-width="0.4"/>
<line x1="269.38" y1="434.5" x2="269.38" y2="435.3" stroke="#555" stroke-width="0.4"/>
<line x1="275.08" y1="434.5" x2="275.08" y2="435.3" stroke="#555" stroke-width="0.4"/>
<line x1="280.77" y1="434.5" x2="280.77" y2="435.3" stroke="#555" stroke-width="0.4"/>
<line x1="286.46" y1="434.5" x2="286.46" y2="435.3" stroke="#555" stroke-width="0.4"/>
<line x1="292.15" y1="434.5" x2="292.15" y2="435.3" stroke="#555" stroke-width="0.4"/>
<line x1="297.85" y1="434.5" x2="297.85" y2="435.3" stroke="#555" stroke-width="0.4"/>
<line x1="303.54" y1="434.5" x2="303.54" y2="435.3" stroke="#555" stroke-width="0.4"/>
<line x1="309.23" y1="434.5" x2="309.23" y2="435.3" stroke="#555" stroke-width="0.4"/>
<line x1="314.92" y1="434.5" x2="314.92" y2="435.3" stroke="#555" stroke-width="0.4"/>
<line x1="320.62" y1="434.5" x2="320.62" y2="435.3" stroke="#555" stroke-width="0.4"/>
<line x1="326.31" y1="434.5" x2="326.31" y2="435.3" stroke="#555" stroke-width="0.4"/>
<line x1="332" y1="434.5" x2="332" y2="435.3" stroke="#555" stroke-width="0.4"/>
<rect x="248.5" y="395.5" width="1.2" height="1.2" fill="#5cbf5c"/>
<rect x="256" y="448" width="82" height="39" fill="#fff" stroke="#b4b4b4" stroke-width="0.6"/>
<polygon points="256.5,487 256.5,487 257,487 257.5,487 258,486.99 258.5,486.99 259,486.98 259.5,486.97 260,486.96 260.5,486.93 261,486.9 261.5,486.85 262,486.78 262.5,486.69 263,486.55 263.5,486.38 264,486.14 264.5,485.48 265,485.06 265.5,484.97 266,484.64 266.5,484.23 267,482.58 267.5,481.82 268,480.34 268.5,479.56 269,477.72 269.5,476.89 270,474.77 270.5,473.38 271,472.32 271.5,470.84 272,469.48 272.5,469.08 273,467.89 273.5,467.11 274,467.57 274.5,467 275,467.44 275.5,467.77 276,469.09 276.5,470.25 277,470.4 277.5,471.49 278,473.07 278.5,474.67 279,475.69 279.5,476.27 280,477.72 280.5,477.86 281,479.12 281.5,480.29 282,480.33 282.5,481.13 283,480.78 283.5,481.02 284,481.61 284.5,481.48 285,481.36 285.5,481.1 286,480.72 286.5,481.63 287,480.98 287.5,480.42 288,480.49 288.5,479.87 289,480.2 289.5,478.99 290,479.18 290.5,479.46 291,478.63 291.5,478.91 292,478.94 292.5,478.54 293,478.93 293.5,478.86 294,478.13 294.5,478.41 295,479.35 295.5,478.57 296,479.66 296.5,479.48 297,479.01 297.5,479.6 298,480.24 298.5,480.44 299,480.72 299.5,481.34 300,480.6 300.5,482.06 301,481.94 301.5,481.87 302,482.61 302.5,482.22 303,483.41 303.5,482.83 304,483.23 304.5,483.77 305,483.77 305.5,484.56 306,484.33 306.5,484.6 307,485.14 307.5,485.39 308,485.29 308.5,485.81 309,486.35 309.5,485.69 310,486.11 310.5,486.22 311,486.32 311.5,486.41 312,486.49 312.5,486.56 313,486.63 313.5,486.68 314,486.73 314.5,486.77 315,486.81 315.5,486.84 316,486.86 316.5,486.89 317,486.91 317.5,486.92 318,486.94 318.5,486.95 319,486.96 319.5,486.96 320,486.97 320.5,486.98 321,486.98 321.5,486.99 322,486.99 322.5,486.99 323,486.99 323.5,486.99 324,487 324.5,487 325,487 325.5,487 326,487 326.5,487 327,487 327.5,487 328,487 328.5,487 329,487 329.5,487 330,487 330.5,487 331,487 331.5,487 332,487 332.5,487 333,487 333.5,487 334,487 334.5,487 335,487 335.5,487 336,487 336.5,487 337,487 337,487" fill="#fa6870"/>
<polygon points="256.5,487 256.5,487 257,487 257.5,487 258,487 258.5,486.99 259,486.99 259.5,486.98 260,486.97 260.5,486.95 261,486.91 261.5,486.85 262,486.76 262.5,486.61 263,486.4 263.5,486.1 264,485.95 264.5,485.08 265,483.92 265.5,483.6 266,482.43 266.5,480.62 267,478.02 267.5,475.89 268,473.26 268.5,469.98 269,466.14 269.5,463.57 270,460.04 270.5,456.32 271,453.83 271.5,451.96 272,450.07 272.5,449.17 273,449.48 273.5,449.72 274,450.91 274.5,451.92 275,454.55 275.5,456.55 276,458.84 276.5,461.72 277,465.25 277.5,467.82 278,470.89 278.5,473.36 279,475.58 279.5,477.3 280,478.96 280.5,481.29 281,482.95 281.5,483.49 282,484.83 282.5,485.56 283,485.2 283.5,486.4 284,486.25 284.5,486.47 285,486.64 285.5,486.75 286,486.84 286.5,486.89 287,486.93 287.5,486.96 288,486.97 288.5,486.98 289,486.99 289.5,486.99 290,487 290.5,487 291,487 291.5,487 292,487 292.5,487 293,487 293.5,487 294,487 294.5,487 295,487 295.5,487 296,487 296.5,487 297,487 297.5,487 298,487 298.5,487 299,487 299.5,487 300,487 300.5,487 301,487 301.5,487 302,487 302.5,487 303,487 303.5,487 304,487 304.5,487 305,487 305.5,487 306,487 306.5,487 307,487 307.5,487 308,487 308.5,487 309,487 309.5,487 310,487 310.5,487 311,487 311.5,487 312,487 312.5,487 313,487 313.5,487 314,487 314.5,487 315,487 315.5,487 316,487 316.5,487 317,487 317.5,487 318,487 318.5,487 319,487 319.5,487 320,487 320.5,487 321,487 321.5,487 322,487 322.5,487 323,487 323.5,487 324,487 324.5,487 325,487 325.5,487 326,487 326.5,487 327,487 327.5,487 328,487 328.5,487 329,487 329.5,487 330,487 330.5,487 331,487 331.5,487 332,487 332.5,487 333,487 333.5,487 334,487 334.5,487 335,487 335.5,487 336,487 336.5,487 337,487 337,487" fill="#6464f4"/>
<polygon points="256.5,487 256.5,487 257,487 257.5,487 258,487 258.5,486.99 259,486.99 259.5,486.98 260,486.97 260.5,486.95 261,486.91 261.5,486.85 262,486.78 262.5,486.69 263,486.55 263.5,486.38 264,486.14 264.5,485.48 265,485.06 265.5,484.97 266,484.64 266.5,484.23 267,482.58 267.5,481.82 268,480.34 268.5,479.56 269,477.72 269.5,476.89 270,474.77 270.5,473.38 271,472.32 271.5,470.84 272,469.48 272.5,469.08 273,467.89 273.5,467.11 274,467.57 274.5,467 275,467.44 275.5,467.77 276,469.09 276.5,470.25 277,470.4 277.5,471.49 278,473.07 278.5,474.67 279,475.69 279.5,477.3 280,478.96 280.5,481.29 281,482.95 281.5,483.49 282,484.83 282.5,485.56 283,485.2 283.5,486.4 284,486.25 284.5,486.47 285,486.64 285.5,486.75 286,486.84 286.5,486.89 287,486.93 287.5,486.96 288,486.97 288.5,486.98 289,486.99 289.5,486.99 290,487 290.5,487 291,487 291.5,487 292,487 292.5,487 293,487 293.5,487 294,487 294.5,487 295,487 295.5,487 296,487 296.5,487 297,487 297.5,487 298,487 298.5,487 299,487 299.5,487 300,487 300.5,487 301,487 301.5,487 302,487 302.5,487 303,487 303.5,487 304,487 304.5,487 305,487 305.5,487 306,487 306.5,487 307,487 307.5,487 308,487 308.5,487 309,487 309.5,487 310,487 310.5,487 311,487 311.5,487 312,487 312.5,487 313,487 313.5,487 314,487 314.5,487 315,487 315.5,487 316,487 316.5,487 317,487 317.5,487 318,487 318.5,487 319,487 319.5,487 320,487 320.5,487 321,487 321.5,487 322,487 322.5,487 323,487 323.5,487 324,487 324.5,487 325,487 325.5,487 326,487 326.5,487 327,487 327.5,487 328,487 328.5,487 329,487 329.5,487 330,487 330.5,487 331,487 331.5,487 332,487 332.5,487 333,487 333.5,487 334,487 334.5,487 335,487 335.5,487 336,487 336.5,487 337,487 337,487" fill="#7428c4"/>
<line x1="256" y1="487" x2="338" y2="487" stroke="#222" stroke-width="0.8"/>
<line x1="256" y1="448" x2="256" y2="487" stroke="#666" stroke-width="0.6"/>
<line x1="254.8" y1="482.89" x2="256" y2="482.89" stroke="#555" stroke-width="0.5"/>
<text x="254.6" y="481.39" font-size="2" text-anchor="middle" fill="#555" transform="rotate(-90 254.6 481.39)">10</text>
<line x1="254.8" y1="478.78" x2="256" y2="478.78" stroke="#555" stroke-width="0.5"/>
<text x="254.6" y="477.28" font-size="2" text-anchor="middle" fill="#555" transform="rotate(-90 254.6 477.28)">20</text>
<line x1="254.8" y1="474.67" x2="256" y2="474.67" stroke="#555" stroke-width="0.5"/>
<text x="254.6" y="473.17" font-size="2" text-anchor="middle" fill="#555" transform="rotate(-90 254.6 473.17)">30</text>
<line x1="254.8" y1="470.56" x2="256" y2="470.56" stroke="#555" stroke-width="0.5"/>
<text x="254.6" y="469.06" font-size="2" text-anchor="middle" fill="#555" transform="rotate(-90 254.6 469.06)">40</text>
<line x1="254.8" y1="466.44" x2="256" y2="466.44" stroke="#555" stroke-width="0.5"/>
<text x="254.6" y="464.94" font-size="2" text-anchor="middle" fill="#555" transform="rotate(-90 254.6 464.94)">50</text>
<line x1="254.8" y1="462.33" x2="256" y2="462.33" stroke="#555" stroke-width="0.5"/>
<text x="254.6" y="460.83" font-size="2" text-anchor="middle" fill="#555" transform="rotate(-90 254.6 460.83)">60</text>
<line x1="254.8" y1="458.22" x2="256" y2="458.22" stroke="#555" stroke-width="0.5"/>
<text x="254.6" y="456.72" font-size="2" text-anchor="middle" fill="#555" transform="rotate(-90 254.6 456.72)">70</text>
<line x1="254.8" y1="454.11" x2="256" y2="454.11" stroke="#555" stroke-width="0.5"/>
<text x="254.6" y="452.61" font-size="2" text-anchor="middle" fill="#555" transform="rotate(-90 254.6 452.61)">80</text>
<line x1="254.8" y1="450" x2="256" y2="450" stroke="#555" stroke-width="0.5"/>
<text x="254.6" y="448.5" font-size="2" text-anchor="middle" fill="#555" transform="rotate(-90 254.6 448.5)">90</text>
<line x1="267.23" y1="487" x2="267.23" y2="488.5" stroke="#333" stroke-width="0.5"/>
<text x="267.23" y="491.3" font-size="2.6" text-anchor="middle" fill="#555">10<tspan font-size="1.8" dy="-1">2</tspan></text>
<line x1="288.14" y1="487" x2="288.14" y2="488.5" stroke="#333" stroke-width="0.5"/>
<text x="288.14" y="491.3" font-size="2.6" text-anchor="middle" fill="#555">10<tspan font-size="1.8" dy="-1">3</tspan></text>
<line x1="309.05" y1="487" x2="309.05" y2="488.5" stroke="#333" stroke-width="0.5"/>
<text x="309.05" y="491.3" font-size="2.6" text-anchor="middle" fill="#555">10<tspan font-size="1.8" dy="-1">4</tspan></text>
<line x1="329.96" y1="487" x2="329.96" y2="488.5" stroke="#333" stroke-width="0.5"/>
<text x="329.96" y="491.3" font-size="2.6" text-anchor="middle" fill="#555">10<tspan font-size="1.8" dy="-1">5</tspan></text>
<line x1="258" y1="487" x2="258" y2="487.8" stroke="#555" stroke-width="0.4"/>
<line x1="263.69" y1="487" x2="263.69" y2="487.8" stroke="#555" stroke-width="0.4"/>
<line x1="269.38" y1="487" x2="269.38" y2="487.8" stroke="#555" stroke-width="0.4"/>
<line x1="275.08" y1="487" x2="275.08" y2="487.8" stroke="#555" stroke-width="0.4"/>
<line x1="280.77" y1="487" x2="280.77" y2="487.8" stroke="#555" stroke-width="0.4"/>
<line x1="286.46" y1="487" x2="286.46" y2="487.8" stroke="#555" stroke-width="0.4"/>
<line x1="292.15" y1="487" x2="292.15" y2="487.8" stroke="#555" stroke-width="0.4"/>
<line x1="297.85" y1="487" x2="297.85" y2="487.8" stroke="#555" stroke-width="0.4"/>
<line x1="303.54" y1="487" x2="303.54" y2="487.8" stroke="#555" stroke-width="0.4"/>
<line x1="309.23" y1="487" x2="309.23" y2="487.8" stroke="#555" stroke-width="0.4"/>
<line x1="314.92" y1="487" x2="314.92" y2="487.8" stroke="#555" stroke-width="0.4"/>
<line x1="320.62" y1="487" x2="320.62" y2="487.8" stroke="#555" stroke-width="0.4"/>
<line x1="326.31" y1="487" x2="326.31" y2="487.8" stroke="#555" stroke-width="0.4"/>
<line x1="332" y1="487" x2="332" y2="487.8" stroke="#555" stroke-width="0.4"/>
<rect x="248.5" y="445.5" width="1.2" height="1.2" fill="#5cbf5c"/>
<rect x="348" y="399" width="80" height="36.5" fill="#fff" stroke="#b4b4b4" stroke-width="0.6"/>
<polygon points="348.5,435.5 348.5,435.5 349,435.5 349.5,435.5 350,435.5 350.5,435.5 351,435.5 351.5,435.5 352,435.5 352.5,435.5 353,435.5 353.5,435.5 354,435.5 354.5,435.5 355,435.49 355.5,435.49 356,435.49 356.5,435.48 357,435.48 357.5,435.47 358,435.46 358.5,435.44 359,435.42 359.5,435.39 360,435.35 360.5,435.3 361,435.24 361.5,435.17 362,435.08 362.5,434.97 363,434.83 363.5,434.67 364,434.7 364.5,434.69 365,433.83 365.5,434.24 366,433.37 366.5,433.23 367,433.22 367.5,432.27 368,432.4 368.5,431.48 369,431.47 369.5,430.99 370,430.14 370.5,429.24 371,429.69 371.5,429.21 372,428.42 372.5,427.79 373,428.06 373.5,428.16 374,427.43 374.5,428.56 375,427.63 375.5,428.38 376,428.66 376.5,428.82 377,428.74 377.5,428.31 378,429.26 378.5,429 379,429.16 379.5,429.73 380,429.78 380.5,430.63 381,430.91 381.5,431.02 382,430.73 382.5,431.32 383,431.74 383.5,431.69 384,432.12 384.5,432.57 385,432.22 385.5,432.58 386,433.34 386.5,433.15 387,433.4 387.5,433.13 388,433.44 388.5,434.06 389,433.29 389.5,434.34 390,433.96 390.5,433.49 391,434.11 391.5,433.56 392,433.94 392.5,433.01 393,432.73 393.5,432.82 394,432.36 394.5,432.98 395,432.53 395.5,432.72 396,432.87 396.5,433.2 397,432.97 397.5,433.1 398,433.93 398.5,433.97 399,434.94 399.5,434.64 400,434.84 400.5,435 401,435.14 401.5,435.24 402,435.32 402.5,435.38 403,435.42 403.5,435.45 404,435.47 404.5,435.48 405,435.49 405.5,435.49 406,435.49 406.5,435.5 407,435.5 407.5,435.5 408,435.5 408.5,435.5 409,435.5 409.5,435.5 410,435.5 410.5,435.5 411,435.5 411.5,435.5 412,435.5 412.5,435.5 413,435.5 413.5,435.5 414,435.5 414.5,435.5 415,435.5 415.5,435.5 416,435.5 416.5,435.5 417,435.5 417.5,435.5 418,435.5 418.5,435.5 419,435.5 419.5,435.5 420,435.5 420.5,435.5 421,435.5 421.5,435.5 422,435.5 422.5,435.5 423,435.5 423.5,435.5 424,435.5 424.5,435.5 425,435.5 425.5,435.5 426,435.5 426.5,435.5 427,435.5 427,435.5" fill="#fa6870"/>
<polygon points="348.5,435.5 348.5,435.5 349,435.5 349.5,435.5 350,435.5 350.5,435.5 351,435.5 351.5,435.5 352,435.5 352.5,435.5 353,435.5 353.5,435.5 354,435.5 354.5,435.5 355,435.5 355.5,435.5 356,435.5 356.5,435.49 357,435.49 357.5,435.48 358,435.47 358.5,435.45 359,435.41 359.5,435.36 360,435.28 360.5,435.17 361,435 361.5,434.75 362,434.17 362.5,433.76 363,432.72 363.5,432.11 364,431.71 364.5,430.28 365,428.34 365.5,427.22 366,424.5 366.5,422.37 367,419.71 367.5,416.88 368,413.05 368.5,410.86 369,407.91 369.5,405.21 370,402.51 370.5,401.85 371,400.4 371.5,399.94 372,399.73 372.5,400.38 373,401.25 373.5,403.22 374,404.6 374.5,406.47 375,407.83 375.5,409.86 376,413.04 376.5,415.25 377,417.41 377.5,419.57 378,421.33 378.5,423.14 379,425.31 379.5,427.24 380,428.2 380.5,429.54 381,430.41 381.5,430.9 382,432.03 382.5,432.91 383,433.35 383.5,433.73 384,434.84 384.5,434.59 385,434.82 385.5,435 386,435.13 386.5,435.23 387,435.31 387.5,435.36 388,435.4 388.5,435.43 389,435.45 389.5,435.47 390,435.48 390.5,435.49 391,435.49 391.5,435.49 392,435.5 392.5,435.5 393,435.5 393.5,435.5 394,435.5 394.5,435.5 395,435.5 395.5,435.5 396,435.5 396.5,435.5 397,435.5 397.5,435.5 398,435.5 398.5,435.5 399,435.5 399.5,435.5 400,435.5 400.5,435.5 401,435.5 401.5,435.5 402,435.5 402.5,435.5 403,435.5 403.5,435.5 404,435.5 404.5,435.5 405,435.5 405.5,435.5 406,435.5 406.5,435.5 407,435.5 407.5,435.5 408,435.5 408.5,435.5 409,435.5 409.5,435.5 410,435.5 410.5,435.5 411,435.5 411.5,435.5 412,435.5 412.5,435.5 413,435.5 413.5,435.5 414,435.5 414.5,435.5 415,435.5 415.5,435.5 416,435.5 416.5,435.5 417,435.5 417.5,435.5 418,435.5 418.5,435.5 419,435.5 419.5,435.5 420,435.5 420.5,435.5 421,435.5 421.5,435.5 422,435.5 422.5,435.5 423,435.5 423.5,435.5 424,435.5 424.5,435.5 425,435.5 425.5,435.5 426,435.5 426.5,435.5 427,435.5 427,435.5" fill="#6464f4"/>
<polygon points="348.5,435.5 348.5,435.5 349,435.5 349.5,435.5 350,435.5 350.5,435.5 351,435.5 351.5,435.5 352,435.5 352.5,435.5 353,435.5 353.5,435.5 354,435.5 354.5,435.5 355,435.5 355.5,435.5 356,435.5 356.5,435.49 357,435.49 357.5,435.48 358,435.47 358.5,435.45 359,435.42 359.5,435.39 360,435.35 360.5,435.3 361,435.24 361.5,435.17 362,435.08 362.5,434.97 363,434.83 363.5,434.67 364,434.7 364.5,434.69 365,433.83 365.5,434.24 366,433.37 366.5,433.23 367,433.22 367.5,432.27 368,432.4 368.5,431.48 369,431.47 369.5,430.99 370,430.14 370.5,429.24 371,429.69 371.5,429.21 372,428.42 372.5,427.79 373,428.06 373.5,428.16 374,427.43 374.5,428.56 375,427.63 375.5,428.38 376,428.66 376.5,428.82 377,428.74 377.5,428.31 378,429.26 378.5,429 379,429.16 379.5,429.73 380,429.78 380.5,430.63 381,430.91 381.5,431.02 382,432.03 382.5,432.91 383,433.35 383.5,433.73 384,434.84 384.5,434.59 385,434.82 385.5,435 386,435.13 386.5,435.23 387,435.31 387.5,435.36 388,435.4 388.5,435.43 389,435.45 389.5,435.47 390,435.48 390.5,435.49 391,435.49 391.5,435.49 392,435.5 392.5,435.5 393,435.5 393.5,435.5 394,435.5 394.5,435.5 395,435.5 395.5,435.5 396,435.5 396.5,435.5 397,435.5 397.5,435.5 398,435.5 398.5,435.5 399,435.5 399.5,435.5 400,435.5 400.5,435.5 401,435.5 401.5,435.5 402,435.5 402.5,435.5 403,435.5 403.5,435.5 404,435.5 404.5,435.5 405,435.5 405.5,435.5 406,435.5 406.5,435.5 407,435.5 407.5,435.5 408,435.5 408.5,435.5 409,435.5 409.5,435.5 410,435.5 410.5,435.5 411,435.5 411.5,435.5 412,435.5 412.5,435.5 413,435.5 413.5,435.5 414,435.5 414.5,435.5 415,435.5 415.5,435.5 416,435.5 416.5,435.5 417,435.5 417.5,435.5 418,435.5 418.5,435.5 419,435.5 419.5,435.5 420,435.5 420.5,435.5 421,435.5 421.5,435.5 422,435.5 422.5,435.5 423,435.5 423.5,435.5 424,435.5 424.5,435.5 425,435.5 425.5,435.5 426,435.5 426.5,435.5 427,435.5 427,435.5" fill="#7428c4"/>
<line x1="348" y1="435.5" x2="428" y2="435.5" stroke="#222" stroke-width="0.8"/>
<line x1="348" y1="399" x2="348" y2="435.5" stroke="#666" stroke-width="0.6"/>
<line x1="346.8" y1="431.67" x2="348" y2="431.67" stroke="#555" stroke-width="0.5"/>
<text x="346.6" y="430.17" font-size="2" text-anchor="middle" fill="#555" transform="rotate(-90 346.6 430.17)">10</text>
<line x1="346.8" y1="427.83" x2="348" y2="427.83" stroke="#555" stroke-width="0.5"/>
<text x="346.6" y="426.33" font-size="2" text-anchor="middle" fill="#555" transform="rotate(-90 346.6 426.33)">20</text>
<line x1="346.8" y1="424" x2="348" y2="424" stroke="#555" stroke-width="0.5"/>
<text x="346.6" y="422.5" font-size="2" text-anchor="middle" fill="#555" transform="rotate(-90 346.6 422.5)">30</text>
<line x1="346.8" y1="420.17" x2="348" y2="420.17" stroke="#555" stroke-width="0.5"/>
<text x="346.6" y="418.67" font-size="2" text-anchor="middle" fill="#555" transform="rotate(-90 346.6 418.67)">40</text>
<line x1="346.8" y1="416.33" x2="348" y2="416.33" stroke="#555" stroke-width="0.5"/>
<text x="346.6" y="414.83" font-size="2" text-anchor="middle" fill="#555" transform="rotate(-90 346.6 414.83)">50</text>
<line x1="346.8" y1="412.5" x2="348" y2="412.5" stroke="#555" stroke-width="0.5"/>
<text x="346.6" y="411" font-size="2" text-anchor="middle" fill="#555" transform="rotate(-90 346.6 411)">60</text>
<line x1="346.8" y1="408.67" x2="348" y2="408.67" stroke="#555" stroke-width="0.5"/>
<text x="346.6" y="407.17" font-size="2" text-anchor="middle" fill="#555" transform="rotate(-90 346.6 407.17)">70</text>
<line x1="346.8" y1="404.83" x2="348" y2="404.83" stroke="#555" stroke-width="0.5"/>
<text x="346.6" y="403.33" font-size="2" text-anchor="middle" fill="#555" transform="rotate(-90 346.6 403.33)">80</text>
<line x1="346.8" y1="401" x2="348" y2="401" stroke="#555" stroke-width="0.5"/>
<text x="346.6" y="399.5" font-size="2" text-anchor="middle" fill="#555" transform="rotate(-90 346.6 399.5)">90</text>
<line x1="358.96" y1="435.5" x2="358.96" y2="437" stroke="#333" stroke-width="0.5"/>
<text x="358.96" y="439.8" font-size="2.6" text-anchor="middle" fill="#555">10<tspan font-size="1.8" dy="-1">2</tspan></text>
<line x1="379.36" y1="435.5" x2="379.36" y2="437" stroke="#333" stroke-width="0.5"/>
<text x="379.36" y="439.8" font-size="2.6" text-anchor="middle" fill="#555">10<tspan font-size="1.8" dy="-1">3</tspan></text>
<line x1="399.76" y1="435.5" x2="399.76" y2="437" stroke="#333" stroke-width="0.5"/>
<text x="399.76" y="439.8" font-size="2.6" text-anchor="middle" fill="#555">10<tspan font-size="1.8" dy="-1">4</tspan></text>
<line x1="420.16" y1="435.5" x2="420.16" y2="437" stroke="#333" stroke-width="0.5"/>
<text x="420.16" y="439.8" font-size="2.6" text-anchor="middle" fill="#555">10<tspan font-size="1.8" dy="-1">5</tspan></text>
<line x1="350" y1="435.5" x2="350" y2="436.3" stroke="#555" stroke-width="0.4"/>
<line x1="355.54" y1="435.5" x2="355.54" y2="436.3" stroke="#555" stroke-width="0.4"/>
<line x1="361.08" y1="435.5" x2="361.08" y2="436.3" stroke="#555" stroke-width="0.4"/>
<line x1="366.62" y1="435.5" x2="366.62" y2="436.3" stroke="#555" stroke-width="0.4"/>
<line x1="372.15" y1="435.5" x2="372.15" y2="436.3" stroke="#555" stroke-width="0.4"/>
<line x1="377.69" y1="435.5" x2="377.69" y2="436.3" stroke="#555" stroke-width="0.4"/>
<line x1="383.23" y1="435.5" x2="383.23" y2="436.3" stroke="#555" stroke-width="0.4"/>
<line x1="388.77" y1="435.5" x2="388.77" y2="436.3" stroke="#555" stroke-width="0.4"/>
<line x1="394.31" y1="435.5" x2="394.31" y2="436.3" stroke="#555" stroke-width="0.4"/>
<line x1="399.85" y1="435.5" x2="399.85" y2="436.3" stroke="#555" stroke-width="0.4"/>
<line x1="405.38" y1="435.5" x2="405.38" y2="436.3" stroke="#555" stroke-width="0.4"/>
<line x1="410.92" y1="435.5" x2="410.92" y2="436.3" stroke="#555" stroke-width="0.4"/>
<line x1="416.46" y1="435.5" x2="416.46" y2="436.3" stroke="#555" stroke-width="0.4"/>
<line x1="422" y1="435.5" x2="422" y2="436.3" stroke="#555" stroke-width="0.4"/>
<rect x="340.5" y="396.5" width="1.2" height="1.2" fill="#5cbf5c"/>
<rect x="348" y="447.5" width="82.5" height="39.5" fill="#fff" stroke="#b4b4b4" stroke-width="0.6"/>
<polygon points="348.5,487 348.5,487 349,487 349.5,487 350,487 350.5,487 351,487 351.5,486.99 352,486.99 352.5,486.98 353,486.97 353.5,486.95 354,486.92 354.5,486.87 355,486.81 355.5,486.72 356,486.58 356.5,486.4 357,486.15 357.5,486.46 358,484.24 358.5,485.66 359,483.52 359.5,484.07 360,482.53 360.5,479.34 361,479.59 361.5,476.65 362,474.92 362.5,472.54 363,469.84 363.5,467.82 364,463.46 364.5,462.41 365,459.33 365.5,457.31 366,454.47 366.5,452.27 367,449.69 367.5,450.08 368,450.43 368.5,450.19 369,448.76 369.5,451.53 370,450.95 370.5,452.47 371,452.9 371.5,454.95 372,455.51 372.5,457.5 373,458.74 373.5,459.82 374,462.31 374.5,465.11 375,467.05 375.5,466.66 376,469.44 376.5,471.79 377,471.55 377.5,473.92 378,474.96 378.5,475.91 379,478.55 379.5,479.49 380,479.25 380.5,481.94 381,481.24 381.5,483.56 382,482.75 382.5,483.26 383,483.11 383.5,483.72 384,484.82 384.5,485.76 385,486 385.5,485.16 386,485.19 386.5,486.17 387,484.05 387.5,484.82 388,484.13 388.5,485.02 389,484.68 389.5,484.94 390,483.86 390.5,483.76 391,483.14 391.5,483.05 392,481.8 392.5,481.56 393,483.26 393.5,482.77 394,483.43 394.5,482.4 395,481.88 395.5,484.01 396,482.96 396.5,484.41 397,485.44 397.5,483.97 398,485.32 398.5,486.04 399,485.69 399.5,486.44 400,486.03 400.5,486.22 401,486.39 401.5,486.53 402,486.64 402.5,486.73 403,486.8 403.5,486.86 404,486.9 404.5,486.93 405,486.95 405.5,486.97 406,486.98 406.5,486.98 407,486.99 407.5,486.99 408,487 408.5,487 409,487 409.5,487 410,487 410.5,487 411,487 411.5,487 412,487 412.5,487 413,487 413.5,487 414,487 414.5,487 415,487 415.5,487 416,487 416.5,487 417,487 417.5,487 418,487 418.5,487 419,487 419.5,487 420,487 420.5,487 421,487 421.5,487 422,487 422.5,487 423,487 423.5,487 424,487 424.5,487 425,487 425.5,487 426,487 426.5,487 427,487 427.5,487 428,487 428.5,487 429,487 429.5,487 429.5,487" fill="#fa6870"/>
<polygon points="348.5,487 348.5,487 349,487 349.5,487 350,487 350.5,487 351,486.99 351.5,486.99 352,486.98 352.5,486.97 353,486.95 353.5,486.92 354,486.88 354.5,486.82 355,486.73 355.5,486.61 356,486.43 356.5,486.19 357,486.08 357.5,485.57 358,485.08 358.5,483.96 359,483.79 359.5,483.17 360,481.87 360.5,480.27 361,477.47 361.5,475.81 362,472.47 362.5,470.74 363,467.65 363.5,464.32 364,463.84 364.5,461.36 365,458.66 365.5,455.94 366,453.73 366.5,452.01 367,452.13 367.5,450.38 368,452.82 368.5,451.18 369,453.29 369.5,452.52 370,455.57 370.5,454.55 371,456.43 371.5,457.4 372,460.01 372.5,462.69 373,462.55 373.5,465.61 374,468.26 374.5,468.77 375,470.75 375.5,472.47 376,474.81 376.5,476.38 377,476.67 377.5,478.26 378,480.22 378.5,480.53 379,480.8 379.5,481.68 380,483.02 380.5,483.86 381,484.51 381.5,485.33 382,485.81 382.5,485.57 383,486.68 383.5,485.45 384,486.19 384.5,486.36 385,486.5 385.5,486.61 386,486.69 386.5,486.76 387,486.82 387.5,486.86 388,486.9 388.5,486.92 389,486.94 389.5,486.96 390,486.97 390.5,486.98 391,486.98 391.5,486.99 392,486.99 392.5,486.99 393,487 393.5,487 394,487 394.5,487 395,487 395.5,487 396,487 396.5,487 397,487 397.5,487 398,487 398.5,487 399,487 399.5,487 400,487 400.5,487 401,487 401.5,487 402,487 402.5,487 403,487 403.5,487 404,487 404.5,487 405,487 405.5,487 406,487 406.5,487 407,487 407.5,487 408,487 408.5,487 409,487 409.5,487 410,487 410.5,487 411,487 411.5,487 412,487 412.5,487 413,487 413.5,487 414,487 414.5,487 415,487 415.5,487 416,487 416.5,487 417,487 417.5,487 418,487 418.5,487 419,487 419.5,487 420,487 420.5,487 421,487 421.5,487 422,487 422.5,487 423,487 423.5,487 424,487 424.5,487 425,487 425.5,487 426,487 426.5,487 427,487 427.5,487 428,487 428.5,487 429,487 429.5,487 429.5,487" fill="#6464f4"/>
<polygon points="348.5,487 348.5,487 349,487 349.5,487 350,487 350.5,487 351,487 351.5,486.99 352,486.99 352.5,486.98 353,486.97 353.5,486.95 354,486.92 354.5,486.87 355,486.81 355.5,486.72 356,486.58 356.5,486.4 357,486.15 357.5,486.46 358,485.08 358.5,485.66 359,483.79 359.5,484.07 360,482.53 360.5,480.27 361,479.59 361.5,476.65 362,474.92 362.5,472.54 363,469.84 363.5,467.82 364,463.84 364.5,462.41 365,459.33 365.5,457.31 366,454.47 366.5,452.27 367,452.13 367.5,450.38 368,452.82 368.5,451.18 369,453.29 369.5,452.52 370,455.57 370.5,454.55 371,456.43 371.5,457.4 372,460.01 372.5,462.69 373,462.55 373.5,465.61 374,468.26 374.5,468.77 375,470.75 375.5,472.47 376,474.81 376.5,476.38 377,476.67 377.5,478.26 378,480.22 378.5,480.53 379,480.8 379.5,481.68 380,483.02 380.5,483.86 381,484.51 381.5,485.33 382,485.81 382.5,485.57 383,486.68 383.5,485.45 384,486.19 384.5,486.36 385,486.5 385.5,486.61 386,486.69 386.5,486.76 387,486.82 387.5,486.86 388,486.9 388.5,486.92 389,486.94 389.5,486.96 390,486.97 390.5,486.98 391,486.98 391.5,486.99 392,486.99 392.5,486.99 393,487 393.5,487 394,487 394.5,487 395,487 395.5,487 396,487 396.5,487 397,487 397.5,487 398,487 398.5,487 399,487 399.5,487 400,487 400.5,487 401,487 401.5,487 402,487 402.5,487 403,487 403.5,487 404,487 404.5,487 405,487 405.5,487 406,487 406.5,487 407,487 407.5,487 408,487 408.5,487 409,487 409.5,487 410,487 410.5,487 411,487 411.5,487 412,487 412.5,487 413,487 413.5,487 414,487 414.5,487 415,487 415.5,487 416,487 416.5,487 417,487 417.5,487 418,487 418.5,487 419,487 419.5,487 420,487 420.5,487 421,487 421.5,487 422,487 422.5,487 423,487 423.5,487 424,487 424.5,487 425,487 425.5,487 426,487 426.5,487 427,487 427.5,487 428,487 428.5,487 429,487 429.5,487 429.5,487" fill="#7428c4"/>
<line x1="348" y1="487" x2="430.5" y2="487" stroke="#222" stroke-width="0.8"/>
<line x1="348" y1="447.5" x2="348" y2="487" stroke="#666" stroke-width="0.6"/>
<line x1="346.8" y1="482.83" x2="348" y2="482.83" stroke="#555" stroke-width="0.5"/>
<text x="346.6" y="481.33" font-size="2" text-anchor="middle" fill="#555" transform="rotate(-90 346.6 481.33)">10</text>
<line x1="346.8" y1="478.67" x2="348" y2="478.67" stroke="#555" stroke-width="0.5"/>
<text x="346.6" y="477.17" font-size="2" text-anchor="middle" fill="#555" transform="rotate(-90 346.6 477.17)">20</text>
<line x1="346.8" y1="474.5" x2="348" y2="474.5" stroke="#555" stroke-width="0.5"/>
<text x="346.6" y="473" font-size="2" text-anchor="middle" fill="#555" transform="rotate(-90 346.6 473)">30</text>
<line x1="346.8" y1="470.33" x2="348" y2="470.33" stroke="#555" stroke-width="0.5"/>
<text x="346.6" y="468.83" font-size="2" text-anchor="middle" fill="#555" transform="rotate(-90 346.6 468.83)">40</text>
<line x1="346.8" y1="466.17" x2="348" y2="466.17" stroke="#555" stroke-width="0.5"/>
<text x="346.6" y="464.67" font-size="2" text-anchor="middle" fill="#555" transform="rotate(-90 346.6 464.67)">50</text>
<line x1="346.8" y1="462" x2="348" y2="462" stroke="#555" stroke-width="0.5"/>
<text x="346.6" y="460.5" font-size="2" text-anchor="middle" fill="#555" transform="rotate(-90 346.6 460.5)">60</text>
<line x1="346.8" y1="457.83" x2="348" y2="457.83" stroke="#555" stroke-width="0.5"/>
<text x="346.6" y="456.33" font-size="2" text-anchor="middle" fill="#555" transform="rotate(-90 346.6 456.33)">70</text>
<line x1="346.8" y1="453.67" x2="348" y2="453.67" stroke="#555" stroke-width="0.5"/>
<text x="346.6" y="452.17" font-size="2" text-anchor="middle" fill="#555" transform="rotate(-90 346.6 452.17)">80</text>
<line x1="346.8" y1="449.5" x2="348" y2="449.5" stroke="#555" stroke-width="0.5"/>
<text x="346.6" y="448" font-size="2" text-anchor="middle" fill="#555" transform="rotate(-90 346.6 448)">90</text>
<line x1="359.3" y1="487" x2="359.3" y2="488.5" stroke="#333" stroke-width="0.5"/>
<text x="359.3" y="491.3" font-size="2.6" text-anchor="middle" fill="#555">10<tspan font-size="1.8" dy="-1">2</tspan></text>
<line x1="380.34" y1="487" x2="380.34" y2="488.5" stroke="#333" stroke-width="0.5"/>
<text x="380.34" y="491.3" font-size="2.6" text-anchor="middle" fill="#555">10<tspan font-size="1.8" dy="-1">3</tspan></text>
<line x1="401.38" y1="487" x2="401.38" y2="488.5" stroke="#333" stroke-width="0.5"/>
<text x="401.38" y="491.3" font-size="2.6" text-anchor="middle" fill="#555">10<tspan font-size="1.8" dy="-1">4</tspan></text>
<line x1="422.42" y1="487" x2="422.42" y2="488.5" stroke="#333" stroke-width="0.5"/>
<text x="422.42" y="491.3" font-size="2.6" text-anchor="middle" fill="#555">10<tspan font-size="1.8" dy="-1">5</tspan></text>
<line x1="350" y1="487" x2="350" y2="487.8" stroke="#555" stroke-width="0.4"/>
<line x1="355.73" y1="487" x2="355.73" y2="487.8" stroke="#555" stroke-width="0.4"/>
<line x1="361.46" y1="487" x2="361.46" y2="487.8" stroke="#555" stroke-width="0.4"/>
<line x1="367.19" y1="487" x2="367.19" y2="487.8" stroke="#555" stroke-width="0.4"/>
<line x1="372.92" y1="487" x2="372.92" y2="487.8" stroke="#555" stroke-width="0.4"/>
<line x1="378.65" y1="487" x2="378.65" y2="487.8" stroke="#555" stroke-width="0.4"/>
<line x1="384.38" y1="487" x2="384.38" y2="487.8" stroke="#555" stroke-width="0.4"/>
<line x1="390.12" y1="487" x2="390.12" y2="487.8" stroke="#555" stroke-width="0.4"/>
<line x1="395.85" y1="487" x2="395.85" y2="487.8" stroke="#555" stroke-width="0.4"/>
<line x1="401.58" y1="487" x2="401.58" y2="487.8" stroke="#555" stroke-width="0.4"/>
<line x1="407.31" y1="487" x2="407.31" y2="487.8" stroke="#555" stroke-width="0.4"/>
<line x1="413.04" y1="487" x2="413.04" y2="487.8" stroke="#555" stroke-width="0.4"/>
<line x1="418.77" y1="487" x2="418.77" y2="487.8" stroke="#555" stroke-width="0.4"/>
<line x1="424.5" y1="487" x2="424.5" y2="487.8" stroke="#555" stroke-width="0.4"/>
<rect x="340.5" y="445" width="1.2" height="1.2" fill="#5cbf5c"/>
<rect x="439.6" y="399.3" width="79.4" height="38.1" fill="#fff" stroke="#b4b4b4" stroke-width="0.6"/>
<polygon points="440.1,437.4 440.1,437.4 440.6,437.4 441.1,437.4 441.6,437.4 442.1,437.4 442.6,437.4 443.1,437.4 443.6,437.4 444.1,437.4 444.6,437.4 445.1,437.4 445.6,437.4 446.1,437.4 446.6,437.4 447.1,437.4 447.6,437.4 448.1,437.4 448.6,437.4 449.1,437.4 449.6,437.4 450.1,437.4 450.6,437.4 451.1,437.4 451.6,437.4 452.1,437.4 452.6,437.4 453.1,437.4 453.6,437.4 454.1,437.4 454.6,437.4 455.1,437.4 455.6,437.4 456.1,437.4 456.6,437.4 457.1,437.4 457.6,437.4 458.1,437.4 458.6,437.4 459.1,437.4 459.6,437.4 460.1,437.4 460.6,437.4 461.1,437.4 461.6,437.4 462.1,437.4 462.6,437.4 463.1,437.4 463.6,437.4 464.1,437.4 464.6,437.4 465.1,437.4 465.6,437.4 466.1,437.4 466.6,437.4 467.1,437.4 467.6,437.4 468.1,437.4 468.6,437.4 469.1,437.4 469.6,437.4 470.1,437.4 470.6,437.4 471.1,437.4 471.6,437.4 472.1,437.4 472.6,437.4 473.1,437.4 473.6,437.4 474.1,437.4 474.6,437.4 475.1,437.4 475.6,437.4 476.1,437.4 476.6,437.4 477.1,437.4 477.6,437.4 478.1,437.4 478.6,437.4 479.1,437.4 479.6,437.39 480.1,437.39 480.6,437.37 481.1,437.33 481.6,437.27 482.1,437.15 482.6,436.94 483.1,436.58 483.6,436.05 484.1,435.27 484.6,434.24 485.1,431.54 485.6,430.13 486.1,426.44 486.6,422.25 487.1,419.02 487.6,414 488.1,409.54 488.6,406.32 489.1,402.87 489.6,400.63 490.1,400.5 490.6,401.48 491.1,405.16 491.6,409.31 492.1,414.41 492.6,418.99 493.1,423.18 493.6,427.59 494.1,430.55 494.6,433.38 495.1,434.59 495.6,436.43 496.1,436.61 496.6,436.99 497.1,437.2 497.6,437.31 498.1,437.36 498.6,437.38 499.1,437.39 499.6,437.4 500.1,437.4 500.6,437.4 501.1,437.4 501.6,437.4 502.1,437.4 502.6,437.4 503.1,437.4 503.6,437.4 504.1,437.4 504.6,437.4 505.1,437.4 505.6,437.4 506.1,437.4 506.6,437.4 507.1,437.4 507.6,437.4 508.1,437.4 508.6,437.4 509.1,437.4 509.6,437.4 510.1,437.4 510.6,437.4 511.1,437.4 511.6,437.4 512.1,437.4 512.6,437.4 513.1,437.4 513.6,437.4 514.1,437.4 514.6,437.4 515.1,437.4 515.6,437.4 516.1,437.4 516.6,437.4 517.1,437.4 517.6,437.4 517.6,437.4" fill="#fa6870"/>
<polygon points="440.1,437.4 440.1,437.4 440.6,437.4 441.1,437.4 441.6,437.4 442.1,437.4 442.6,437.4 443.1,437.4 443.6,437.4 444.1,437.4 444.6,437.4 445.1,437.4 445.6,437.4 446.1,437.4 446.6,437.4 447.1,437.4 447.6,437.4 448.1,437.4 448.6,437.4 449.1,437.4 449.6,437.4 450.1,437.4 450.6,437.4 451.1,437.4 451.6,437.4 452.1,437.4 452.6,437.4 453.1,437.4 453.6,437.4 454.1,437.4 454.6,437.4 455.1,437.4 455.6,437.4 456.1,437.4 456.6,437.4 457.1,437.4 457.6,437.4 458.1,437.4 458.6,437.4 459.1,437.4 459.6,437.4 460.1,437.4 460.6,437.4 461.1,437.4 461.6,437.4 462.1,437.4 462.6,437.4 463.1,437.4 463.6,437.4 464.1,437.4 464.6,437.4 465.1,437.4 465.6,437.4 466.1,437.4 466.6,437.4 467.1,437.4 467.6,437.4 468.1,437.4 468.6,437.4 469.1,437.4 469.6,437.4 470.1,437.39 470.6,437.39 471.1,437.38 471.6,437.36 472.1,437.34 472.6,437.3 473.1,437.24 473.6,437.15 474.1,437.01 474.6,436.81 475.1,436.52 475.6,436.37 476.1,435.37 476.6,434.59 477.1,434.03 477.6,433.25 478.1,431.59 478.6,429.92 479.1,427.81 479.6,424.87 480.1,423.06 480.6,419.52 481.1,416.73 481.6,414.95 482.1,411.93 482.6,409.45 483.1,408.06 483.6,406.14 484.1,404.72 484.6,405.5 485.1,406.07 485.6,409.26 486.1,412.43 486.6,416.38 487.1,421.64 487.6,425.98 488.1,429.41 488.6,431.65 489.1,434.34 489.6,435.69 490.1,436.13 490.6,436.71 491.1,437.04 491.6,437.22 492.1,437.32 492.6,437.36 493.1,437.38 493.6,437.39 494.1,437.4 494.6,437.4 495.1,437.4 495.6,437.4 496.1,437.4 496.6,437.4 497.1,437.4 497.6,437.4 498.1,437.4 498.6,437.4 499.1,437.4 499.6,437.4 500.1,437.4 500.6,437.4 501.1,437.4 501.6,437.4 502.1,437.4 502.6,437.4 503.1,437.4 503.6,437.4 504.1,437.4 504.6,437.4 505.1,437.4 505.6,437.4 506.1,437.4 506.6,437.4 507.1,437.4 507.6,437.4 508.1,437.4 508.6,437.4 509.1,437.4 509.6,437.4 510.1,437.4 510.6,437.4 511.1,437.4 511.6,437.4 512.1,437.4 512.6,437.4 513.1,437.4 513.6,437.4 514.1,437.4 514.6,437.4 515.1,437.4 515.6,437.4 516.1,437.4 516.6,437.4 517.1,437.4 517.6,437.4 517.6,437.4" fill="#6464f4"/>
<polygon points="440.1,437.4 440.1,437.4 440.6,437.4 441.1,437.4 441.6,437.4 442.1,437.4 442.6,437.4 443.1,437.4 443.6,437.4 444.1,437.4 444.6,437.4 445.1,437.4 445.6,437.4 446.1,437.4 446.6,437.4 447.1,437.4 447.6,437.4 448.1,437.4 448.6,437.4 449.1,437.4 449.6,437.4 450.1,437.4 450.6,437.4 451.1,437.4 451.6,437.4 452.1,437.4 452.6,437.4 453.1,437.4 453.6,437.4 454.1,437.4 454.6,437.4 455.1,437.4 455.6,437.4 456.1,437.4 456.6,437.4 457.1,437.4 457.6,437.4 458.1,437.4 458.6,437.4 459.1,437.4 459.6,437.4 460.1,437.4 460.6,437.4 461.1,437.4 461.6,437.4 462.1,437.4 462.6,437.4 463.1,437.4 463.6,437.4 464.1,437.4 464.6,437.4 465.1,437.4 465.6,437.4 466.1,437.4 466.6,437.4 467.1,437.4 467.6,437.4 468.1,437.4 468.6,437.4 469.1,437.4 469.6,437.4 470.1,437.4 470.6,437.4 471.1,437.4 471.6,437.4 472.1,437.4 472.6,437.4 473.1,437.4 473.6,437.4 474.1,437.4 474.6,437.4 475.1,437.4 475.6,437.4 476.1,437.4 476.6,437.4 477.1,437.4 477.6,437.4 478.1,437.4 478.6,437.4 479.1,437.4 479.6,437.39 480.1,437.39 480.6,437.37 481.1,437.33 481.6,437.27 482.1,437.15 482.6,436.94 483.1,436.58 483.6,436.05 484.1,435.27 484.6,434.24 485.1,431.54 485.6,430.13 486.1,426.44 486.6,422.25 487.1,421.64 487.6,425.98 488.1,429.41 488.6,431.65 489.1,434.34 489.6,435.69 490.1,436.13 490.6,436.71 491.1,437.04 491.6,437.22 492.1,437.32 492.6,437.36 493.1,437.38 493.6,437.39 494.1,437.4 494.6,437.4 495.1,437.4 495.6,437.4 496.1,437.4 496.6,437.4 497.1,437.4 497.6,437.4 498.1,437.4 498.6,437.4 499.1,437.4 499.6,437.4 500.1,437.4 500.6,437.4 501.1,437.4 501.6,437.4 502.1,437.4 502.6,437.4 503.1,437.4 503.6,437.4 504.1,437.4 504.6,437.4 505.1,437.4 505.6,437.4 506.1,437.4 506.6,437.4 507.1,437.4 507.6,437.4 508.1,437.4 508.6,437.4 509.1,437.4 509.6,437.4 510.1,437.4 510.6,437.4 511.1,437.4 511.6,437.4 512.1,437.4 512.6,437.4 513.1,437.4 513.6,437.4 514.1,437.4 514.6,437.4 515.1,437.4 515.6,437.4 516.1,437.4 516.6,437.4 517.1,437.4 517.6,437.4 517.6,437.4" fill="#7428c4"/>
<line x1="439.6" y1="437.4" x2="519" y2="437.4" stroke="#222" stroke-width="0.8"/>
<line x1="439.6" y1="399.3" x2="439.6" y2="437.4" stroke="#666" stroke-width="0.6"/>
<line x1="438.4" y1="433.39" x2="439.6" y2="433.39" stroke="#555" stroke-width="0.5"/>
<text x="438.2" y="431.89" font-size="2" text-anchor="middle" fill="#555" transform="rotate(-90 438.2 431.89)">10</text>
<line x1="438.4" y1="429.38" x2="439.6" y2="429.38" stroke="#555" stroke-width="0.5"/>
<text x="438.2" y="427.88" font-size="2" text-anchor="middle" fill="#555" transform="rotate(-90 438.2 427.88)">20</text>
<line x1="438.4" y1="425.37" x2="439.6" y2="425.37" stroke="#555" stroke-width="0.5"/>
<text x="438.2" y="423.87" font-size="2" text-anchor="middle" fill="#555" transform="rotate(-90 438.2 423.87)">30</text>
<line x1="438.4" y1="421.36" x2="439.6" y2="421.36" stroke="#555" stroke-width="0.5"/>
<text x="438.2" y="419.86" font-size="2" text-anchor="middle" fill="#555" transform="rotate(-90 438.2 419.86)">40</text>
<line x1="438.4" y1="417.34" x2="439.6" y2="417.34" stroke="#555" stroke-width="0.5"/>
<text x="438.2" y="415.84" font-size="2" text-anchor="middle" fill="#555" transform="rotate(-90 438.2 415.84)">50</text>
<line x1="438.4" y1="413.33" x2="439.6" y2="413.33" stroke="#555" stroke-width="0.5"/>
<text x="438.2" y="411.83" font-size="2" text-anchor="middle" fill="#555" transform="rotate(-90 438.2 411.83)">60</text>
<line x1="438.4" y1="409.32" x2="439.6" y2="409.32" stroke="#555" stroke-width="0.5"/>
<text x="438.2" y="407.82" font-size="2" text-anchor="middle" fill="#555" transform="rotate(-90 438.2 407.82)">70</text>
<line x1="438.4" y1="405.31" x2="439.6" y2="405.31" stroke="#555" stroke-width="0.5"/>
<text x="438.2" y="403.81" font-size="2" text-anchor="middle" fill="#555" transform="rotate(-90 438.2 403.81)">80</text>
<line x1="438.4" y1="401.3" x2="439.6" y2="401.3" stroke="#555" stroke-width="0.5"/>
<text x="438.2" y="399.8" font-size="2" text-anchor="middle" fill="#555" transform="rotate(-90 438.2 399.8)">90</text>
<line x1="450.48" y1="437.4" x2="450.48" y2="438.9" stroke="#333" stroke-width="0.5"/>
<text x="450.48" y="441.7" font-size="2.6" text-anchor="middle" fill="#555">10<tspan font-size="1.8" dy="-1">2</tspan></text>
<line x1="470.72" y1="437.4" x2="470.72" y2="438.9" stroke="#333" stroke-width="0.5"/>
<text x="470.72" y="441.7" font-size="2.6" text-anchor="middle" fill="#555">10<tspan font-size="1.8" dy="-1">3</tspan></text>
<line x1="490.97" y1="437.4" x2="490.97" y2="438.9" stroke="#333" stroke-width="0.5"/>
<text x="490.97" y="441.7" font-size="2.6" text-anchor="middle" fill="#555">10<tspan font-size="1.8" dy="-1">4</tspan></text>
<line x1="511.22" y1="437.4" x2="511.22" y2="438.9" stroke="#333" stroke-width="0.5"/>
<text x="511.22" y="441.7" font-size="2.6" text-anchor="middle" fill="#555">10<tspan font-size="1.8" dy="-1">5</tspan></text>
<line x1="441.6" y1="437.4" x2="441.6" y2="438.2" stroke="#555" stroke-width="0.4"/>
<line x1="447.09" y1="437.4" x2="447.09" y2="438.2" stroke="#555" stroke-width="0.4"/>
<line x1="452.58" y1="437.4" x2="452.58" y2="438.2" stroke="#555" stroke-width="0.4"/>
<line x1="458.08" y1="437.4" x2="458.08" y2="438.2" stroke="#555" stroke-width="0.4"/>
<line x1="463.57" y1="437.4" x2="463.57" y2="438.2" stroke="#555" stroke-width="0.4"/>
<line x1="469.06" y1="437.4" x2="469.06" y2="438.2" stroke="#555" stroke-width="0.4"/>
<line x1="474.55" y1="437.4" x2="474.55" y2="438.2" stroke="#555" stroke-width="0.4"/>
<line x1="480.05" y1="437.4" x2="480.05" y2="438.2" stroke="#555" stroke-width="0.4"/>
<line x1="485.54" y1="437.4" x2="485.54" y2="438.2" stroke="#555" stroke-width="0.4"/>
<line x1="491.03" y1="437.4" x2="491.03" y2="438.2" stroke="#555" stroke-width="0.4"/>
<line x1="496.52" y1="437.4" x2="496.52" y2="438.2" stroke="#555" stroke-width="0.4"/>
<line x1="502.02" y1="437.4" x2="502.02" y2="438.2" stroke="#555" stroke-width="0.4"/>
<line x1="507.51" y1="437.4" x2="507.51" y2="438.2" stroke="#555" stroke-width="0.4"/>
<line x1="513" y1="437.4" x2="513" y2="438.2" stroke="#555" stroke-width="0.4"/>
<rect x="432.1" y="396.8" width="1.2" height="1.2" fill="#5cbf5c"/>
<rect x="439.6" y="448.5" width="79.4" height="37" fill="#fff" stroke="#b4b4b4" stroke-width="0.6"/>
<polygon points="440.1,485.5 440.1,485.5 440.6,485.5 441.1,485.5 441.6,485.5 442.1,485.5 442.6,485.5 443.1,485.5 443.6,485.5 444.1,485.5 444.6,485.5 445.1,485.5 445.6,485.5 446.1,485.5 446.6,485.5 447.1,485.5 447.6,485.5 448.1,485.5 448.6,485.5 449.1,485.5 449.6,485.5 450.1,485.5 450.6,485.5 451.1,485.5 451.6,485.5 452.1,485.5 452.6,485.5 453.1,485.5 453.6,485.5 454.1,485.5 454.6,485.5 455.1,485.5 455.6,485.5 456.1,485.5 456.6,485.5 457.1,485.5 457.6,485.5 458.1,485.5 458.6,485.5 459.1,485.5 459.6,485.5 460.1,485.5 460.6,485.5 461.1,485.5 461.6,485.5 462.1,485.5 462.6,485.5 463.1,485.5 463.6,485.5 464.1,485.5 464.6,485.5 465.1,485.5 465.6,485.5 466.1,485.5 466.6,485.5 467.1,485.5 467.6,485.5 468.1,485.49 468.6,485.48 469.1,485.45 469.6,485.4 470.1,485.31 470.6,485.14 471.1,484.87 471.6,484.34 472.1,483.83 472.6,482.64 473.1,481.68 473.6,479.07 474.1,476.67 474.6,474.01 475.1,471.36 475.6,467.5 476.1,464.36 476.6,461.44 477.1,458.24 477.6,456.77 478.1,457.57 478.6,457.38 479.1,459.51 479.6,462.42 480.1,465.73 480.6,468.69 481.1,472.34 481.6,475.17 482.1,477.88 482.6,480.7 483.1,481.62 483.6,482.6 484.1,483.48 484.6,484.63 485.1,484.99 485.6,485.22 486.1,485.35 486.6,485.42 487.1,485.46 487.6,485.48 488.1,485.49 488.6,485.5 489.1,485.5 489.6,485.5 490.1,485.5 490.6,485.5 491.1,485.5 491.6,485.5 492.1,485.5 492.6,485.5 493.1,485.5 493.6,485.5 494.1,485.5 494.6,485.5 495.1,485.5 495.6,485.5 496.1,485.5 496.6,485.5 497.1,485.5 497.6,485.5 498.1,485.5 498.6,485.5 499.1,485.5 499.6,485.5 500.1,485.5 500.6,485.5 501.1,485.5 501.6,485.5 502.1,485.5 502.6,485.5 503.1,485.5 503.6,485.5 504.1,485.5 504.6,485.5 505.1,485.5 505.6,485.5 506.1,485.5 506.6,485.5 507.1,485.5 507.6,485.5 508.1,485.5 508.6,485.5 509.1,485.5 509.6,485.5 510.1,485.5 510.6,485.5 511.1,485.5 511.6,485.5 512.1,485.5 512.6,485.5 513.1,485.5 513.6,485.5 514.1,485.5 514.6,485.5 515.1,485.5 515.6,485.5 516.1,485.5 516.6,485.5 517.1,485.5 517.6,485.5 517.6,485.5" fill="#fa6870"/>
<polygon points="440.1,485.5 440.1,485.5 440.6,485.5 441.1,485.5 441.6,485.5 442.1,485.5 442.6,485.5 443.1,485.5 443.6,485.5 444.1,485.5 444.6,485.5 445.1,485.5 445.6,485.5 446.1,485.5 446.6,485.5 447.1,485.5 447.6,485.5 448.1,485.5 448.6,485.5 449.1,485.5 449.6,485.5 450.1,485.5 450.6,485.5 451.1,485.5 451.6,485.5 452.1,485.5 452.6,485.5 453.1,485.5 453.6,485.5 454.1,485.5 454.6,485.5 455.1,485.5 455.6,485.5 456.1,485.5 456.6,485.5 457.1,485.5 457.6,485.5 458.1,485.5 458.6,485.5 459.1,485.5 459.6,485.5 460.1,485.5 460.6,485.49 461.1,485.49 461.6,485.47 462.1,485.45 462.6,485.41 463.1,485.34 463.6,485.23 464.1,485.05 464.6,484.78 465.1,484.23 465.6,484.3 466.1,483.5 466.6,482.19 467.1,479.69 467.6,478.51 468.1,476.04 468.6,472.57 469.1,470.04 469.6,466.24 470.1,462.7 470.6,459.52 471.1,455.53 471.6,452.35 472.1,451.02 472.6,449.65 473.1,449.13 473.6,450.59 474.1,452.37 474.6,455.38 475.1,459.66 475.6,464.21 476.1,468.15 476.6,472.98 477.1,475.91 477.6,478.93 478.1,480.82 478.6,482.99 479.1,483.31 479.6,484.86 480.1,484.85 480.6,485.14 481.1,485.31 481.6,485.4 482.1,485.45 482.6,485.48 483.1,485.49 483.6,485.5 484.1,485.5 484.6,485.5 485.1,485.5 485.6,485.5 486.1,485.5 486.6,485.5 487.1,485.5 487.6,485.5 488.1,485.5 488.6,485.5 489.1,485.5 489.6,485.5 490.1,485.5 490.6,485.5 491.1,485.5 491.6,485.5 492.1,485.5 492.6,485.5 493.1,485.5 493.6,485.5 494.1,485.5 494.6,485.5 495.1,485.5 495.6,485.5 496.1,485.5 496.6,485.5 497.1,485.5 497.6,485.5 498.1,485.5 498.6,485.5 499.1,485.5 499.6,485.5 500.1,485.5 500.6,485.5 501.1,485.5 501.6,485.5 502.1,485.5 502.6,485.5 503.1,485.5 503.6,485.5 504.1,485.5 504.6,485.5 505.1,485.5 505.6,485.5 506.1,485.5 506.6,485.5 507.1,485.5 507.6,485.5 508.1,485.5 508.6,485.5 509.1,485.5 509.6,485.5 510.1,485.5 510.6,485.5 511.1,485.5 511.6,485.5 512.1,485.5 512.6,485.5 513.1,485.5 513.6,485.5 514.1,485.5 514.6,485.5 515.1,485.5 515.6,485.5 516.1,485.5 516.6,485.5 517.1,485.5 517.6,485.5 517.6,485.5" fill="#6464f4"/>
<polygon points="440.1,485.5 440.1,485.5 440.6,485.5 441.1,485.5 441.6,485.5 442.1,485.5 442.6,485.5 443.1,485.5 443.6,485.5 444.1,485.5 444.6,485.5 445.1,485.5 445.6,485.5 446.1,485.5 446.6,485.5 447.1,485.5 447.6,485.5 448.1,485.5 448.6,485.5 449.1,485.5 449.6,485.5 450.1,485.5 450.6,485.5 451.1,485.5 451.6,485.5 452.1,485.5 452.6,485.5 453.1,485.5 453.6,485.5 454.1,485.5 454.6,485.5 455.1,485.5 455.6,485.5 456.1,485.5 456.6,485.5 457.1,485.5 457.6,485.5 458.1,485.5 458.6,485.5 459.1,485.5 459.6,485.5 460.1,485.5 460.6,485.5 461.1,485.5 461.6,485.5 462.1,485.5 462.6,485.5 463.1,485.5 463.6,485.5 464.1,485.5 464.6,485.5 465.1,485.5 465.6,485.5 466.1,485.5 466.6,485.5 467.1,485.5 467.6,485.5 468.1,485.49 468.6,485.48 469.1,485.45 469.6,485.4 470.1,485.31 470.6,485.14 471.1,484.87 471.6,484.34 472.1,483.83 472.6,482.64 473.1,481.68 473.6,479.07 474.1,476.67 474.6,474.01 475.1,471.36 475.6,467.5 476.1,468.15 476.6,472.98 477.1,475.91 477.6,478.93 478.1,480.82 478.6,482.99 479.1,483.31 479.6,484.86 480.1,484.85 480.6,485.14 481.1,485.31 481.6,485.4 482.1,485.45 482.6,485.48 483.1,485.49 483.6,485.5 484.1,485.5 484.6,485.5 485.1,485.5 485.6,485.5 486.1,485.5 486.6,485.5 487.1,485.5 487.6,485.5 488.1,485.5 488.6,485.5 489.1,485.5 489.6,485.5 490.1,485.5 490.6,485.5 491.1,485.5 491.6,485.5 492.1,485.5 492.6,485.5 493.1,485.5 493.6,485.5 494.1,485.5 494.6,485.5 495.1,485.5 495.6,485.5 496.1,485.5 496.6,485.5 497.1,485.5 497.6,485.5 498.1,485.5 498.6,485.5 499.1,485.5 499.6,485.5 500.1,485.5 500.6,485.5 501.1,485.5 501.6,485.5 502.1,485.5 502.6,485.5 503.1,485.5 503.6,485.5 504.1,485.5 504.6,485.5 505.1,485.5 505.6,485.5 506.1,485.5 506.6,485.5 507.1,485.5 507.6,485.5 508.1,485.5 508.6,485.5 509.1,485.5 509.6,485.5 510.1,485.5 510.6,485.5 511.1,485.5 511.6,485.5 512.1,485.5 512.6,485.5 513.1,485.5 513.6,485.5 514.1,485.5 514.6,485.5 515.1,485.5 515.6,485.5 516.1,485.5 516.6,485.5 517.1,485.5 517.6,485.5 517.6,485.5" fill="#7428c4"/>
<line x1="439.6" y1="485.5" x2="519" y2="485.5" stroke="#222" stroke-width="0.8"/>
<line x1="439.6" y1="448.5" x2="439.6" y2="485.5" stroke="#666" stroke-width="0.6"/>
<line x1="438.4" y1="481.61" x2="439.6" y2="481.61" stroke="#555" stroke-width="0.5"/>
<text x="438.2" y="480.11" font-size="2" text-anchor="middle" fill="#555" transform="rotate(-90 438.2 480.11)">10</text>
<line x1="438.4" y1="477.72" x2="439.6" y2="477.72" stroke="#555" stroke-width="0.5"/>
<text x="438.2" y="476.22" font-size="2" text-anchor="middle" fill="#555" transform="rotate(-90 438.2 476.22)">20</text>
<line x1="438.4" y1="473.83" x2="439.6" y2="473.83" stroke="#555" stroke-width="0.5"/>
<text x="438.2" y="472.33" font-size="2" text-anchor="middle" fill="#555" transform="rotate(-90 438.2 472.33)">30</text>
<line x1="438.4" y1="469.94" x2="439.6" y2="469.94" stroke="#555" stroke-width="0.5"/>
<text x="438.2" y="468.44" font-size="2" text-anchor="middle" fill="#555" transform="rotate(-90 438.2 468.44)">40</text>
<line x1="438.4" y1="466.06" x2="439.6" y2="466.06" stroke="#555" stroke-width="0.5"/>
<text x="438.2" y="464.56" font-size="2" text-anchor="middle" fill="#555" transform="rotate(-90 438.2 464.56)">50</text>
<line x1="438.4" y1="462.17" x2="439.6" y2="462.17" stroke="#555" stroke-width="0.5"/>
<text x="438.2" y="460.67" font-size="2" text-anchor="middle" fill="#555" transform="rotate(-90 438.2 460.67)">60</text>
<line x1="438.4" y1="458.28" x2="439.6" y2="458.28" stroke="#555" stroke-width="0.5"/>
<text x="438.2" y="456.78" font-size="2" text-anchor="middle" fill="#555" transform="rotate(-90 438.2 456.78)">70</text>
<line x1="438.4" y1="454.39" x2="439.6" y2="454.39" stroke="#555" stroke-width="0.5"/>
<text x="438.2" y="452.89" font-size="2" text-anchor="middle" fill="#555" transform="rotate(-90 438.2 452.89)">80</text>
<line x1="438.4" y1="450.5" x2="439.6" y2="450.5" stroke="#555" stroke-width="0.5"/>
<text x="438.2" y="449" font-size="2" text-anchor="middle" fill="#555" transform="rotate(-90 438.2 449)">90</text>
<line x1="450.48" y1="485.5" x2="450.48" y2="487" stroke="#333" stroke-width="0.5"/>
<text x="450.48" y="489.8" font-size="2.6" text-anchor="middle" fill="#555">10<tspan font-size="1.8" dy="-1">2</tspan></text>
<line x1="470.72" y1="485.5" x2="470.72" y2="487" stroke="#333" stroke-width="0.5"/>
<text x="470.72" y="489.8" font-size="2.6" text-anchor="middle" fill="#555">10<tspan font-size="1.8" dy="-1">3</tspan></text>
<line x1="490.97" y1="485.5" x2="490.97" y2="487" stroke="#333" stroke-width="0.5"/>
<text x="490.97" y="489.8" font-size="2.6" text-anchor="middle" fill="#555">10<tspan font-size="1.8" dy="-1">4</tspan></text>
<line x1="511.22" y1="485.5" x2="511.22" y2="487" stroke="#333" stroke-width="0.5"/>
<text x="511.22" y="489.8" font-size="2.6" text-anchor="middle" fill="#555">10<tspan font-size="1.8" dy="-1">5</tspan></text>
<line x1="441.6" y1="485.5" x2="441.6" y2="486.3" stroke="#555" stroke-width="0.4"/>
<line x1="447.09" y1="485.5" x2="447.09" y2="486.3" stroke="#555" stroke-width="0.4"/>
<line x1="452.58" y1="485.5" x2="452.58" y2="486.3" stroke="#555" stroke-width="0.4"/>
<line x1="458.08" y1="485.5" x2="458.08" y2="486.3" stroke="#555" stroke-width="0.4"/>
<line x1="463.57" y1="485.5" x2="463.57" y2="486.3" stroke="#555" stroke-width="0.4"/>
<line x1="469.06" y1="485.5" x2="469.06" y2="486.3" stroke="#555" stroke-width="0.4"/>
<line x1="474.55" y1="485.5" x2="474.55" y2="486.3" stroke="#555" stroke-width="0.4"/>
<line x1="480.05" y1="485.5" x2="480.05" y2="486.3" stroke="#555" stroke-width="0.4"/>
<line x1="485.54" y1="485.5" x2="485.54" y2="486.3" stroke="#555" stroke-width="0.4"/>
<line x1="491.03" y1="485.5" x2="491.03" y2="486.3" stroke="#555" stroke-width="0.4"/>
<line x1="496.52" y1="485.5" x2="496.52" y2="486.3" stroke="#555" stroke-width="0.4"/>
<line x1="502.02" y1="485.5" x2="502.02" y2="486.3" stroke="#555" stroke-width="0.4"/>
<line x1="507.51" y1="485.5" x2="507.51" y2="486.3" stroke="#555" stroke-width="0.4"/>
<line x1="513" y1="485.5" x2="513" y2="486.3" stroke="#555" stroke-width="0.4"/>
<rect x="432.1" y="446" width="1.2" height="1.2" fill="#5cbf5c"/>
<rect x="72" y="496.2" width="8.5" height="3.6" fill="#e8262a"/>
<rect x="72" y="505" width="8.5" height="3.6" fill="#2a3fd6"/>
<text x="84.5" y="500.8" font-size="6.4" font-weight="bold" text-anchor="start" fill="#111">Before treatment</text>
<text x="84.5" y="509.6" font-size="6.4" font-weight="bold" text-anchor="start" fill="#111">During treatment</text>
<text x="37" y="541.5" font-size="14.8" font-weight="bold" text-anchor="start" fill="#000">C</text>
<line x1="64.5" y1="549.5" x2="64.5" y2="615.5" stroke="#222" stroke-width="1"/>
<line x1="64.5" y1="615.5" x2="126.3" y2="615.5" stroke="#222" stroke-width="1"/>
<line x1="62.7" y1="550.5" x2="64.5" y2="550.5" stroke="#333" stroke-width="0.7"/>
<text x="62.5" y="552" font-size="3.8" font-weight="bold" text-anchor="end" fill="#333">20,000</text>
<line x1="62.7" y1="566.6" x2="64.5" y2="566.6" stroke="#333" stroke-width="0.7"/>
<text x="62.5" y="568.1" font-size="3.8" font-weight="bold" text-anchor="end" fill="#333">15,000</text>
<line x1="62.7" y1="582.7" x2="64.5" y2="582.7" stroke="#333" stroke-width="0.7"/>
<text x="62.5" y="584.2" font-size="3.8" font-weight="bold" text-anchor="end" fill="#333">10,000</text>
<line x1="62.7" y1="598.9" x2="64.5" y2="598.9" stroke="#333" stroke-width="0.7"/>
<text x="62.5" y="600.4" font-size="3.8" font-weight="bold" text-anchor="end" fill="#333">5,000</text>
<line x1="62.7" y1="615" x2="64.5" y2="615" stroke="#333" stroke-width="0.7"/>
<text x="62.5" y="616.5" font-size="3.8" font-weight="bold" text-anchor="end" fill="#333">0</text>
<line x1="79.5" y1="615" x2="79.5" y2="617" stroke="#333" stroke-width="0.7"/>
<text x="79.5" y="621.5" font-size="4.3" font-weight="bold" text-anchor="middle" fill="#222">Pre</text>
<line x1="110.5" y1="615" x2="110.5" y2="617" stroke="#333" stroke-width="0.7"/>
<text x="110.5" y="621.5" font-size="4.3" font-weight="bold" text-anchor="middle" fill="#222">Post</text>
<text x="95" y="543.2" font-size="3.9" font-weight="bold" text-anchor="middle" fill="#222">MM cells</text>
<line x1="85.5" y1="558.5" x2="112" y2="558.5" stroke="#555" stroke-width="0.8"/>
<text x="98.75" y="558.4" font-size="4.6" font-weight="bold" text-anchor="middle" fill="#444">*</text>
<circle cx="79.5" cy="594" r="1.7" fill="#000"/>
<circle cx="79.5" cy="582.7" r="1.7" fill="#000"/>
<circle cx="79.5" cy="567.2" r="1.7" fill="#000"/>
<line x1="69.5" y1="581.09" x2="89.5" y2="581.09" stroke="#111" stroke-width="1.1"/>
<circle cx="110.5" cy="611.77" r="1.7" fill="#000"/>
<circle cx="107.5" cy="611.12" r="1.7" fill="#000"/>
<circle cx="113.5" cy="610.8" r="1.7" fill="#000"/>
<circle cx="105.5" cy="609.19" r="1.7" fill="#000"/>
<line x1="100.5" y1="610.15" x2="120.5" y2="610.15" stroke="#111" stroke-width="1.1"/>
<text x="47.5" y="582.75" font-size="4.5" font-weight="bold" text-anchor="middle" fill="#333" transform="rotate(-90 47.5 582.75)">CD38 MFI</text>
<line x1="153.5" y1="549.5" x2="153.5" y2="615.5" stroke="#222" stroke-width="1"/>
<line x1="153.5" y1="615.5" x2="214.5" y2="615.5" stroke="#222" stroke-width="1"/>
<line x1="151.2" y1="550.5" x2="153" y2="550.5" stroke="#333" stroke-width="0.7"/>
<text x="151" y="552" font-size="3.8" font-weight="bold" text-anchor="end" fill="#333">8,000</text>
<line x1="151.2" y1="566.6" x2="153" y2="566.6" stroke="#333" stroke-width="0.7"/>
<text x="151" y="568.1" font-size="3.8" font-weight="bold" text-anchor="end" fill="#333">6,000</text>
<line x1="151.2" y1="582.7" x2="153" y2="582.7" stroke="#333" stroke-width="0.7"/>
<text x="151" y="584.2" font-size="3.8" font-weight="bold" text-anchor="end" fill="#333">4,000</text>
<line x1="151.2" y1="598.9" x2="153" y2="598.9" stroke="#333" stroke-width="0.7"/>
<text x="151" y="600.4" font-size="3.8" font-weight="bold" text-anchor="end" fill="#333">2,000</text>
<line x1="151.2" y1="615" x2="153" y2="615" stroke="#333" stroke-width="0.7"/>
<text x="151" y="616.5" font-size="3.8" font-weight="bold" text-anchor="end" fill="#333">0</text>
<line x1="167.5" y1="615" x2="167.5" y2="617" stroke="#333" stroke-width="0.7"/>
<text x="167.5" y="621.5" font-size="4.3" font-weight="bold" text-anchor="middle" fill="#222">Pre</text>
<line x1="199" y1="615" x2="199" y2="617" stroke="#333" stroke-width="0.7"/>
<text x="199" y="621.5" font-size="4.3" font-weight="bold" text-anchor="middle" fill="#222">Post</text>
<text x="184" y="543.2" font-size="3.9" font-weight="bold" text-anchor="middle" fill="#222">NK cells</text>
<line x1="172" y1="556.5" x2="199.5" y2="556.5" stroke="#555" stroke-width="0.8"/>
<text x="185.75" y="556.4" font-size="4.6" font-weight="bold" text-anchor="middle" fill="#444">*</text>
<circle cx="167.5" cy="601.3" r="1.7" fill="#000"/>
<circle cx="167.5" cy="592.43" r="1.7" fill="#000"/>
<circle cx="164.5" cy="591.63" r="1.7" fill="#000"/>
<circle cx="167.5" cy="588.4" r="1.7" fill="#000"/>
<circle cx="167.5" cy="584.37" r="1.7" fill="#000"/>
<circle cx="167.5" cy="575.51" r="1.7" fill="#000"/>
<circle cx="167.5" cy="571.48" r="1.7" fill="#000"/>
<circle cx="167.5" cy="565.03" r="1.7" fill="#000"/>
<line x1="157.5" y1="583.57" x2="177.5" y2="583.57" stroke="#111" stroke-width="1.1"/>
<circle cx="199" cy="602.91" r="1.7" fill="#000"/>
<circle cx="195.5" cy="602.91" r="1.7" fill="#000"/>
<circle cx="202" cy="601.3" r="1.7" fill="#000"/>
<circle cx="199" cy="599.69" r="1.7" fill="#000"/>
<circle cx="199" cy="596.46" r="1.7" fill="#000"/>
<circle cx="199" cy="593.24" r="1.7" fill="#000"/>
<circle cx="199" cy="585.18" r="1.7" fill="#000"/>
<line x1="189" y1="596.87" x2="209" y2="596.87" stroke="#111" stroke-width="1.1"/>
<text x="139.5" y="582.75" font-size="4.5" font-weight="bold" text-anchor="middle" fill="#333" transform="rotate(-90 139.5 582.75)">CD38 MFI</text>
<line x1="245.5" y1="549.5" x2="245.5" y2="615.5" stroke="#222" stroke-width="1"/>
<line x1="245.5" y1="615.5" x2="307.5" y2="615.5" stroke="#222" stroke-width="1"/>
<line x1="243.7" y1="550.5" x2="245.5" y2="550.5" stroke="#333" stroke-width="0.7"/>
<text x="243.5" y="552" font-size="3.8" font-weight="bold" text-anchor="end" fill="#333">2,000</text>
<line x1="243.7" y1="566.6" x2="245.5" y2="566.6" stroke="#333" stroke-width="0.7"/>
<text x="243.5" y="568.1" font-size="3.8" font-weight="bold" text-anchor="end" fill="#333">1,500</text>
<line x1="243.7" y1="582.7" x2="245.5" y2="582.7" stroke="#333" stroke-width="0.7"/>
<text x="243.5" y="584.2" font-size="3.8" font-weight="bold" text-anchor="end" fill="#333">1,000</text>
<line x1="243.7" y1="598.9" x2="245.5" y2="598.9" stroke="#333" stroke-width="0.7"/>
<text x="243.5" y="600.4" font-size="3.8" font-weight="bold" text-anchor="end" fill="#333">500</text>
<line x1="243.7" y1="615" x2="245.5" y2="615" stroke="#333" stroke-width="0.7"/>
<text x="243.5" y="616.5" font-size="3.8" font-weight="bold" text-anchor="end" fill="#333">0</text>
<line x1="260" y1="615" x2="260" y2="617" stroke="#333" stroke-width="0.7"/>
<text x="260" y="621.5" font-size="4.3" font-weight="bold" text-anchor="middle" fill="#222">Pre</text>
<line x1="292" y1="615" x2="292" y2="617" stroke="#333" stroke-width="0.7"/>
<text x="292" y="621.5" font-size="4.3" font-weight="bold" text-anchor="middle" fill="#222">Post</text>
<text x="276.6" y="543.2" font-size="3.9" font-weight="bold" text-anchor="middle" fill="#222">B cells</text>
<line x1="264.5" y1="555.5" x2="292" y2="555.5" stroke="#555" stroke-width="0.8"/>
<text x="278.25" y="555.9" font-size="4.6" font-weight="bold" text-anchor="middle" fill="#444">*</text>
<circle cx="260" cy="600.49" r="1.7" fill="#000"/>
<circle cx="260" cy="597.26" r="1.7" fill="#000"/>
<circle cx="258" cy="595" r="1.7" fill="#000"/>
<circle cx="260" cy="592.42" r="1.7" fill="#000"/>
<circle cx="258" cy="589.85" r="1.7" fill="#000"/>
<circle cx="261" cy="589.2" r="1.7" fill="#000"/>
<circle cx="260" cy="568.24" r="1.7" fill="#000"/>
<circle cx="260" cy="560.17" r="1.7" fill="#000"/>
<line x1="250" y1="585.98" x2="270" y2="585.98" stroke="#111" stroke-width="1.1"/>
<circle cx="292" cy="603.07" r="1.7" fill="#000"/>
<circle cx="289" cy="602.75" r="1.7" fill="#000"/>
<circle cx="295" cy="602.1" r="1.7" fill="#000"/>
<circle cx="292" cy="596.29" r="1.7" fill="#000"/>
<circle cx="290" cy="594.04" r="1.7" fill="#000"/>
<circle cx="293" cy="592.42" r="1.7" fill="#000"/>
<circle cx="296" cy="591.78" r="1.7" fill="#000"/>
<line x1="282" y1="598.23" x2="302" y2="598.23" stroke="#111" stroke-width="1.1"/>
<text x="232.5" y="582.75" font-size="4.5" font-weight="bold" text-anchor="middle" fill="#333" transform="rotate(-90 232.5 582.75)">CD38 MFI</text>
<line x1="63.5" y1="680" x2="63.5" y2="746.5" stroke="#222" stroke-width="1"/>
<line x1="63.5" y1="746.5" x2="126.3" y2="746.5" stroke="#222" stroke-width="1"/>
<line x1="61.95" y1="681" x2="63.75" y2="681" stroke="#333" stroke-width="0.7"/>
<text x="61.75" y="682.5" font-size="3.8" font-weight="bold" text-anchor="end" fill="#333">800</text>
<line x1="61.95" y1="697.25" x2="63.75" y2="697.25" stroke="#333" stroke-width="0.7"/>
<text x="61.75" y="698.75" font-size="3.8" font-weight="bold" text-anchor="end" fill="#333">600</text>
<line x1="61.95" y1="713.5" x2="63.75" y2="713.5" stroke="#333" stroke-width="0.7"/>
<text x="61.75" y="715" font-size="3.8" font-weight="bold" text-anchor="end" fill="#333">400</text>
<line x1="61.95" y1="729.75" x2="63.75" y2="729.75" stroke="#333" stroke-width="0.7"/>
<text x="61.75" y="731.25" font-size="3.8" font-weight="bold" text-anchor="end" fill="#333">200</text>
<line x1="61.95" y1="746" x2="63.75" y2="746" stroke="#333" stroke-width="0.7"/>
<text x="61.75" y="747.5" font-size="3.8" font-weight="bold" text-anchor="end" fill="#333">0</text>
<line x1="79.5" y1="746" x2="79.5" y2="748" stroke="#333" stroke-width="0.7"/>
<text x="79.5" y="752.5" font-size="4.3" font-weight="bold" text-anchor="middle" fill="#222">Pre</text>
<line x1="110.5" y1="746" x2="110.5" y2="748" stroke="#333" stroke-width="0.7"/>
<text x="110.5" y="752.5" font-size="4.3" font-weight="bold" text-anchor="middle" fill="#222">Post</text>
<text x="93.5" y="673.7" font-size="3.9" font-weight="bold" text-anchor="middle" fill="#222">CD4<tspan font-size="2.8" dy="-1.6">+</tspan><tspan dy="1.6"> T cells</tspan></text>
<line x1="82.5" y1="685.5" x2="110.5" y2="685.5" stroke="#555" stroke-width="0.8"/>
<text x="96.5" y="685.4" font-size="4.6" font-weight="bold" text-anchor="middle" fill="#444">*</text>
<circle cx="79.5" cy="728.12" r="1.7" fill="#000"/>
<circle cx="77.5" cy="725.69" r="1.7" fill="#000"/>
<circle cx="79.5" cy="723.25" r="1.7" fill="#000"/>
<circle cx="79.5" cy="717.56" r="1.7" fill="#000"/>
<circle cx="76.5" cy="716.75" r="1.7" fill="#000"/>
<circle cx="79.5" cy="709.44" r="1.7" fill="#000"/>
<circle cx="79.5" cy="689.94" r="1.7" fill="#000"/>
<circle cx="76" cy="689.94" r="1.7" fill="#000"/>
<line x1="69.5" y1="712.69" x2="89.5" y2="712.69" stroke="#111" stroke-width="1.1"/>
<circle cx="110.5" cy="732.19" r="1.7" fill="#000"/>
<circle cx="108.5" cy="729.75" r="1.7" fill="#000"/>
<circle cx="110.5" cy="723.25" r="1.7" fill="#000"/>
<circle cx="107.5" cy="721.62" r="1.7" fill="#000"/>
<circle cx="110.5" cy="719.19" r="1.7" fill="#000"/>
<circle cx="110.5" cy="709.44" r="1.7" fill="#000"/>
<circle cx="110.5" cy="706.19" r="1.7" fill="#000"/>
<line x1="100.5" y1="720.81" x2="120.5" y2="720.81" stroke="#111" stroke-width="1.1"/>
<text x="51.5" y="713.5" font-size="4.5" font-weight="bold" text-anchor="middle" fill="#333" transform="rotate(-90 51.5 713.5)">CD38 MFI</text>
<line x1="152.5" y1="680" x2="152.5" y2="746.5" stroke="#222" stroke-width="1"/>
<line x1="152.5" y1="746.5" x2="215" y2="746.5" stroke="#222" stroke-width="1"/>
<line x1="150.7" y1="681" x2="152.5" y2="681" stroke="#333" stroke-width="0.7"/>
<text x="150.5" y="682.5" font-size="3.8" font-weight="bold" text-anchor="end" fill="#333">2,000</text>
<line x1="150.7" y1="697.25" x2="152.5" y2="697.25" stroke="#333" stroke-width="0.7"/>
<text x="150.5" y="698.75" font-size="3.8" font-weight="bold" text-anchor="end" fill="#333">1,500</text>
<line x1="150.7" y1="713.5" x2="152.5" y2="713.5" stroke="#333" stroke-width="0.7"/>
<text x="150.5" y="715" font-size="3.8" font-weight="bold" text-anchor="end" fill="#333">1,000</text>
<line x1="150.7" y1="729.75" x2="152.5" y2="729.75" stroke="#333" stroke-width="0.7"/>
<text x="150.5" y="731.25" font-size="3.8" font-weight="bold" text-anchor="end" fill="#333">500</text>
<line x1="150.7" y1="746" x2="152.5" y2="746" stroke="#333" stroke-width="0.7"/>
<text x="150.5" y="747.5" font-size="3.8" font-weight="bold" text-anchor="end" fill="#333">0</text>
<line x1="167.5" y1="746" x2="167.5" y2="748" stroke="#333" stroke-width="0.7"/>
<text x="167.5" y="752.5" font-size="4.3" font-weight="bold" text-anchor="middle" fill="#222">Pre</text>
<line x1="199" y1="746" x2="199" y2="748" stroke="#333" stroke-width="0.7"/>
<text x="199" y="752.5" font-size="4.3" font-weight="bold" text-anchor="middle" fill="#222">Post</text>
<text x="182.8" y="673.7" font-size="3.9" font-weight="bold" text-anchor="middle" fill="#222">CD8<tspan font-size="2.8" dy="-1.6">+</tspan><tspan dy="1.6"> T cells</tspan></text>
<line x1="170" y1="686.5" x2="199" y2="686.5" stroke="#555" stroke-width="0.8"/>
<text x="184.5" y="684.8" font-size="3.8" font-weight="bold" text-anchor="middle" fill="#444">ns</text>
<circle cx="167.5" cy="736.9" r="1.7" fill="#000"/>
<circle cx="164.5" cy="736.58" r="1.7" fill="#000"/>
<circle cx="170.5" cy="736.25" r="1.7" fill="#000"/>
<circle cx="162.5" cy="736.25" r="1.7" fill="#000"/>
<circle cx="172.5" cy="735.6" r="1.7" fill="#000"/>
<circle cx="167.5" cy="716.1" r="1.7" fill="#000"/>
<circle cx="167.5" cy="695.62" r="1.7" fill="#000"/>
<circle cx="165.5" cy="693.35" r="1.7" fill="#000"/>
<line x1="157.5" y1="721.3" x2="177.5" y2="721.3" stroke="#111" stroke-width="1.1"/>
<circle cx="199" cy="737.23" r="1.7" fill="#000"/>
<circle cx="196" cy="736.9" r="1.7" fill="#000"/>
<circle cx="202" cy="736.25" r="1.7" fill="#000"/>
<circle cx="194" cy="735.27" r="1.7" fill="#000"/>
<circle cx="199" cy="733.65" r="1.7" fill="#000"/>
<circle cx="199" cy="728.12" r="1.7" fill="#000"/>
<circle cx="199" cy="714.15" r="1.7" fill="#000"/>
<line x1="189" y1="732.02" x2="209" y2="732.02" stroke="#111" stroke-width="1.1"/>
<text x="138.5" y="713.5" font-size="4.5" font-weight="bold" text-anchor="middle" fill="#333" transform="rotate(-90 138.5 713.5)">CD38 MFI</text>
<line x1="245.5" y1="681" x2="245.5" y2="746.5" stroke="#222" stroke-width="1"/>
<line x1="245.5" y1="746.5" x2="307.5" y2="746.5" stroke="#222" stroke-width="1"/>
<line x1="243.2" y1="682" x2="245" y2="682" stroke="#333" stroke-width="0.7"/>
<text x="243" y="683.5" font-size="3.8" font-weight="bold" text-anchor="end" fill="#333">4,000</text>
<line x1="243.2" y1="698" x2="245" y2="698" stroke="#333" stroke-width="0.7"/>
<text x="243" y="699.5" font-size="3.8" font-weight="bold" text-anchor="end" fill="#333">3,000</text>
<line x1="243.2" y1="714" x2="245" y2="714" stroke="#333" stroke-width="0.7"/>
<text x="243" y="715.5" font-size="3.8" font-weight="bold" text-anchor="end" fill="#333">2,000</text>
<line x1="243.2" y1="730" x2="245" y2="730" stroke="#333" stroke-width="0.7"/>
<text x="243" y="731.5" font-size="3.8" font-weight="bold" text-anchor="end" fill="#333">1,000</text>
<line x1="243.2" y1="746" x2="245" y2="746" stroke="#333" stroke-width="0.7"/>
<text x="243" y="747.5" font-size="3.8" font-weight="bold" text-anchor="end" fill="#333">0</text>
<line x1="259" y1="746" x2="259" y2="748" stroke="#333" stroke-width="0.7"/>
<text x="259" y="752.5" font-size="4.3" font-weight="bold" text-anchor="middle" fill="#222">Pre</text>
<line x1="291" y1="746" x2="291" y2="748" stroke="#333" stroke-width="0.7"/>
<text x="291" y="752.5" font-size="4.3" font-weight="bold" text-anchor="middle" fill="#222">Post</text>
<text x="276.4" y="674.7" font-size="3.9" font-weight="bold" text-anchor="middle" fill="#222">Monocytes</text>
<line x1="263.75" y1="685.5" x2="291.25" y2="685.5" stroke="#555" stroke-width="0.8"/>
<text x="277.5" y="683.8" font-size="3.8" font-weight="bold" text-anchor="middle" fill="#444">ns</text>
<circle cx="259" cy="718" r="1.7" fill="#000"/>
<circle cx="255.5" cy="718" r="1.7" fill="#000"/>
<circle cx="259" cy="712.4" r="1.7" fill="#000"/>
<circle cx="259" cy="707.6" r="1.7" fill="#000"/>
<circle cx="256" cy="706" r="1.7" fill="#000"/>
<circle cx="259" cy="704.4" r="1.7" fill="#000"/>
<circle cx="259" cy="698" r="1.7" fill="#000"/>
<circle cx="259" cy="694" r="1.7" fill="#000"/>
<line x1="249" y1="707.28" x2="269" y2="707.28" stroke="#111" stroke-width="1.1"/>
<circle cx="291" cy="726" r="1.7" fill="#000"/>
<circle cx="291" cy="717.2" r="1.7" fill="#000"/>
<circle cx="291" cy="714" r="1.7" fill="#000"/>
<circle cx="288" cy="712.4" r="1.7" fill="#000"/>
<circle cx="291" cy="708.4" r="1.7" fill="#000"/>
<circle cx="291" cy="698" r="1.7" fill="#000"/>
<circle cx="291" cy="694" r="1.7" fill="#000"/>
<line x1="281" y1="710" x2="301" y2="710" stroke="#111" stroke-width="1.1"/>
<text x="231.5" y="714" font-size="4.5" font-weight="bold" text-anchor="middle" fill="#333" transform="rotate(-90 231.5 714)">CD38 MFI</text>
<text x="332.6" y="541.2" font-size="14.2" font-weight="bold" text-anchor="start" fill="#000">D</text>
<rect x="356.3" y="524.4" width="113.7" height="183.1" fill="none" stroke="#a8a8a8" stroke-width="0.8"/>
<line x1="413.5" y1="524.4" x2="413.5" y2="707.5" stroke="#a8a8a8" stroke-width="0.8"/>
<line x1="356.3" y1="585.4" x2="470" y2="585.4" stroke="#a8a8a8" stroke-width="0.8"/>
<line x1="356.3" y1="647" x2="470" y2="647" stroke="#a8a8a8" stroke-width="0.8"/>
<text x="387.5" y="524.2" font-size="6.3" font-weight="bold" text-anchor="middle" fill="#111">Pre-infusion 1</text>
<text x="442" y="524.2" font-size="6.3" font-weight="bold" text-anchor="middle" fill="#111">Post-infusion 1</text>
<line x1="353" y1="533" x2="353" y2="713.7" stroke="#666" stroke-width="0.9"/>
<path d="M351.5 534.5 L353 530.5 L354.5 534.5Z" fill="#444"/>
<line x1="353" y1="713.7" x2="468" y2="713.7" stroke="#666" stroke-width="0.9"/>
<path d="M467 712.2 L470.5 713.7 L467 715.2Z" fill="#444"/>
<text x="348.9" y="621.3" font-size="6.1" font-weight="bold" text-anchor="middle" fill="#111" transform="rotate(-90 348.9 621.3)">CD38</text>
<text x="408.8" y="726" font-size="6.3" font-weight="bold" text-anchor="middle" fill="#111">CD138</text>
<text x="479.8" y="556.4" font-size="6.6" font-weight="bold" text-anchor="middle" fill="#111" transform="rotate(-90 479.8 556.4)">Patient 1</text>
<text x="479.8" y="613" font-size="6.6" font-weight="bold" text-anchor="middle" fill="#111" transform="rotate(-90 479.8 613)">Patient 2</text>
<text x="479.8" y="676.6" font-size="6.6" font-weight="bold" text-anchor="middle" fill="#111" transform="rotate(-90 479.8 676.6)">Patient 3</text>
<rect x="364.2" y="529.2" width="47.7" height="48.5" fill="#fff" stroke="#bdbdbd" stroke-width="0.8"/>
<line x1="362.7" y1="574.7" x2="364.2" y2="574.7" stroke="#555" stroke-width="0.5"/>
<text x="362.2" y="574.7" font-size="2.4" text-anchor="middle" fill="#555" transform="rotate(-90 362.2 574.7)">10<tspan font-size="1.6" dy="-0.8">0</tspan></text>
<line x1="362.7" y1="566.6" x2="364.2" y2="566.6" stroke="#555" stroke-width="0.5"/>
<text x="362.2" y="566.6" font-size="2.4" text-anchor="middle" fill="#555" transform="rotate(-90 362.2 566.6)">10<tspan font-size="1.6" dy="-0.8">1</tspan></text>
<line x1="362.7" y1="558.5" x2="364.2" y2="558.5" stroke="#555" stroke-width="0.5"/>
<text x="362.2" y="558.5" font-size="2.4" text-anchor="middle" fill="#555" transform="rotate(-90 362.2 558.5)">10<tspan font-size="1.6" dy="-0.8">2</tspan></text>
<line x1="362.7" y1="550.4" x2="364.2" y2="550.4" stroke="#555" stroke-width="0.5"/>
<text x="362.2" y="550.4" font-size="2.4" text-anchor="middle" fill="#555" transform="rotate(-90 362.2 550.4)">10<tspan font-size="1.6" dy="-0.8">3</tspan></text>
<line x1="362.7" y1="542.3" x2="364.2" y2="542.3" stroke="#555" stroke-width="0.5"/>
<text x="362.2" y="542.3" font-size="2.4" text-anchor="middle" fill="#555" transform="rotate(-90 362.2 542.3)">10<tspan font-size="1.6" dy="-0.8">4</tspan></text>
<line x1="362.7" y1="534.2" x2="364.2" y2="534.2" stroke="#555" stroke-width="0.5"/>
<text x="362.2" y="534.2" font-size="2.4" text-anchor="middle" fill="#555" transform="rotate(-90 362.2 534.2)">10<tspan font-size="1.6" dy="-0.8">5</tspan></text>
<line x1="367.2" y1="577.7" x2="367.2" y2="579.2" stroke="#555" stroke-width="0.5"/>
<text x="367.2" y="581.7" font-size="2.4" text-anchor="middle" fill="#555">10<tspan font-size="1.6" dy="-0.8">0</tspan></text>
<line x1="377.12" y1="577.7" x2="377.12" y2="579.2" stroke="#555" stroke-width="0.5"/>
<text x="377.12" y="581.7" font-size="2.4" text-anchor="middle" fill="#555">10<tspan font-size="1.6" dy="-0.8">1</tspan></text>
<line x1="387.05" y1="577.7" x2="387.05" y2="579.2" stroke="#555" stroke-width="0.5"/>
<text x="387.05" y="581.7" font-size="2.4" text-anchor="middle" fill="#555">10<tspan font-size="1.6" dy="-0.8">2</tspan></text>
<line x1="396.97" y1="577.7" x2="396.97" y2="579.2" stroke="#555" stroke-width="0.5"/>
<text x="396.97" y="581.7" font-size="2.4" text-anchor="middle" fill="#555">10<tspan font-size="1.6" dy="-0.8">3</tspan></text>
<line x1="406.9" y1="577.7" x2="406.9" y2="579.2" stroke="#555" stroke-width="0.5"/>
<text x="406.9" y="581.7" font-size="2.4" text-anchor="middle" fill="#555">10<tspan font-size="1.6" dy="-0.8">4</tspan></text>
<line x1="364.2" y1="577.7" x2="411.9" y2="577.7" stroke="#888" stroke-width="0.7"/>
<text x="386.05" y="582.5" font-size="2.6" text-anchor="middle" fill="#666">CD138 PE</text>
<rect x="420.5" y="529.2" width="47.7" height="48.5" fill="#fff" stroke="#bdbdbd" stroke-width="0.8"/>
<line x1="419" y1="574.7" x2="420.5" y2="574.7" stroke="#555" stroke-width="0.5"/>
<text x="418.5" y="574.7" font-size="2.4" text-anchor="middle" fill="#555" transform="rotate(-90 418.5 574.7)">10<tspan font-size="1.6" dy="-0.8">0</tspan></text>
<line x1="419" y1="566.6" x2="420.5" y2="566.6" stroke="#555" stroke-width="0.5"/>
<text x="418.5" y="566.6" font-size="2.4" text-anchor="middle" fill="#555" transform="rotate(-90 418.5 566.6)">10<tspan font-size="1.6" dy="-0.8">1</tspan></text>
<line x1="419" y1="558.5" x2="420.5" y2="558.5" stroke="#555" stroke-width="0.5"/>
<text x="418.5" y="558.5" font-size="2.4" text-anchor="middle" fill="#555" transform="rotate(-90 418.5 558.5)">10<tspan font-size="1.6" dy="-0.8">2</tspan></text>
<line x1="419" y1="550.4" x2="420.5" y2="550.4" stroke="#555" stroke-width="0.5"/>
<text x="418.5" y="550.4" font-size="2.4" text-anchor="middle" fill="#555" transform="rotate(-90 418.5 550.4)">10<tspan font-size="1.6" dy="-0.8">3</tspan></text>
<line x1="419" y1="542.3" x2="420.5" y2="542.3" stroke="#555" stroke-width="0.5"/>
<text x="418.5" y="542.3" font-size="2.4" text-anchor="middle" fill="#555" transform="rotate(-90 418.5 542.3)">10<tspan font-size="1.6" dy="-0.8">4</tspan></text>
<line x1="419" y1="534.2" x2="420.5" y2="534.2" stroke="#555" stroke-width="0.5"/>
<text x="418.5" y="534.2" font-size="2.4" text-anchor="middle" fill="#555" transform="rotate(-90 418.5 534.2)">10<tspan font-size="1.6" dy="-0.8">5</tspan></text>
<line x1="423.5" y1="577.7" x2="423.5" y2="579.2" stroke="#555" stroke-width="0.5"/>
<text x="423.5" y="581.7" font-size="2.4" text-anchor="middle" fill="#555">10<tspan font-size="1.6" dy="-0.8">0</tspan></text>
<line x1="433.43" y1="577.7" x2="433.43" y2="579.2" stroke="#555" stroke-width="0.5"/>
<text x="433.43" y="581.7" font-size="2.4" text-anchor="middle" fill="#555">10<tspan font-size="1.6" dy="-0.8">1</tspan></text>
<line x1="443.35" y1="577.7" x2="443.35" y2="579.2" stroke="#555" stroke-width="0.5"/>
<text x="443.35" y="581.7" font-size="2.4" text-anchor="middle" fill="#555">10<tspan font-size="1.6" dy="-0.8">2</tspan></text>
<line x1="453.27" y1="577.7" x2="453.27" y2="579.2" stroke="#555" stroke-width="0.5"/>
<text x="453.27" y="581.7" font-size="2.4" text-anchor="middle" fill="#555">10<tspan font-size="1.6" dy="-0.8">3</tspan></text>
<line x1="463.2" y1="577.7" x2="463.2" y2="579.2" stroke="#555" stroke-width="0.5"/>
<text x="463.2" y="581.7" font-size="2.4" text-anchor="middle" fill="#555">10<tspan font-size="1.6" dy="-0.8">4</tspan></text>
<line x1="420.5" y1="577.7" x2="468.2" y2="577.7" stroke="#888" stroke-width="0.7"/>
<text x="442.35" y="582.5" font-size="2.6" text-anchor="middle" fill="#666">CD138 PE</text>
<rect x="364.2" y="590.5" width="47.7" height="48.3" fill="#fff" stroke="#bdbdbd" stroke-width="0.8"/>
<line x1="362.7" y1="635.8" x2="364.2" y2="635.8" stroke="#555" stroke-width="0.5"/>
<text x="362.2" y="635.8" font-size="2.4" text-anchor="middle" fill="#555" transform="rotate(-90 362.2 635.8)">10<tspan font-size="1.6" dy="-0.8">0</tspan></text>
<line x1="362.7" y1="627.74" x2="364.2" y2="627.74" stroke="#555" stroke-width="0.5"/>
<text x="362.2" y="627.74" font-size="2.4" text-anchor="middle" fill="#555" transform="rotate(-90 362.2 627.74)">10<tspan font-size="1.6" dy="-0.8">1</tspan></text>
<line x1="362.7" y1="619.68" x2="364.2" y2="619.68" stroke="#555" stroke-width="0.5"/>
<text x="362.2" y="619.68" font-size="2.4" text-anchor="middle" fill="#555" transform="rotate(-90 362.2 619.68)">10<tspan font-size="1.6" dy="-0.8">2</tspan></text>
<line x1="362.7" y1="611.62" x2="364.2" y2="611.62" stroke="#555" stroke-width="0.5"/>
<text x="362.2" y="611.62" font-size="2.4" text-anchor="middle" fill="#555" transform="rotate(-90 362.2 611.62)">10<tspan font-size="1.6" dy="-0.8">3</tspan></text>
<line x1="362.7" y1="603.56" x2="364.2" y2="603.56" stroke="#555" stroke-width="0.5"/>
<text x="362.2" y="603.56" font-size="2.4" text-anchor="middle" fill="#555" transform="rotate(-90 362.2 603.56)">10<tspan font-size="1.6" dy="-0.8">4</tspan></text>
<line x1="362.7" y1="595.5" x2="364.2" y2="595.5" stroke="#555" stroke-width="0.5"/>
<text x="362.2" y="595.5" font-size="2.4" text-anchor="middle" fill="#555" transform="rotate(-90 362.2 595.5)">10<tspan font-size="1.6" dy="-0.8">5</tspan></text>
<line x1="367.2" y1="638.8" x2="367.2" y2="640.3" stroke="#555" stroke-width="0.5"/>
<text x="367.2" y="642.8" font-size="2.4" text-anchor="middle" fill="#555">10<tspan font-size="1.6" dy="-0.8">0</tspan></text>
<line x1="377.12" y1="638.8" x2="377.12" y2="640.3" stroke="#555" stroke-width="0.5"/>
<text x="377.12" y="642.8" font-size="2.4" text-anchor="middle" fill="#555">10<tspan font-size="1.6" dy="-0.8">1</tspan></text>
<line x1="387.05" y1="638.8" x2="387.05" y2="640.3" stroke="#555" stroke-width="0.5"/>
<text x="387.05" y="642.8" font-size="2.4" text-anchor="middle" fill="#555">10<tspan font-size="1.6" dy="-0.8">2</tspan></text>
<line x1="396.97" y1="638.8" x2="396.97" y2="640.3" stroke="#555" stroke-width="0.5"/>
<text x="396.97" y="642.8" font-size="2.4" text-anchor="middle" fill="#555">10<tspan font-size="1.6" dy="-0.8">3</tspan></text>
<line x1="406.9" y1="638.8" x2="406.9" y2="640.3" stroke="#555" stroke-width="0.5"/>
<text x="406.9" y="642.8" font-size="2.4" text-anchor="middle" fill="#555">10<tspan font-size="1.6" dy="-0.8">4</tspan></text>
<line x1="364.2" y1="638.8" x2="411.9" y2="638.8" stroke="#888" stroke-width="0.7"/>
<text x="386.05" y="643.6" font-size="2.6" text-anchor="middle" fill="#666">CD138 PE</text>
<rect x="420.5" y="590.5" width="47.7" height="48.3" fill="#fff" stroke="#bdbdbd" stroke-width="0.8"/>
<line x1="419" y1="635.8" x2="420.5" y2="635.8" stroke="#555" stroke-width="0.5"/>
<text x="418.5" y="635.8" font-size="2.4" text-anchor="middle" fill="#555" transform="rotate(-90 418.5 635.8)">10<tspan font-size="1.6" dy="-0.8">0</tspan></text>
<line x1="419" y1="627.74" x2="420.5" y2="627.74" stroke="#555" stroke-width="0.5"/>
<text x="418.5" y="627.74" font-size="2.4" text-anchor="middle" fill="#555" transform="rotate(-90 418.5 627.74)">10<tspan font-size="1.6" dy="-0.8">1</tspan></text>
<line x1="419" y1="619.68" x2="420.5" y2="619.68" stroke="#555" stroke-width="0.5"/>
<text x="418.5" y="619.68" font-size="2.4" text-anchor="middle" fill="#555" transform="rotate(-90 418.5 619.68)">10<tspan font-size="1.6" dy="-0.8">2</tspan></text>
<line x1="419" y1="611.62" x2="420.5" y2="611.62" stroke="#555" stroke-width="0.5"/>
<text x="418.5" y="611.62" font-size="2.4" text-anchor="middle" fill="#555" transform="rotate(-90 418.5 611.62)">10<tspan font-size="1.6" dy="-0.8">3</tspan></text>
<line x1="419" y1="603.56" x2="420.5" y2="603.56" stroke="#555" stroke-width="0.5"/>
<text x="418.5" y="603.56" font-size="2.4" text-anchor="middle" fill="#555" transform="rotate(-90 418.5 603.56)">10<tspan font-size="1.6" dy="-0.8">4</tspan></text>
<line x1="419" y1="595.5" x2="420.5" y2="595.5" stroke="#555" stroke-width="0.5"/>
<text x="418.5" y="595.5" font-size="2.4" text-anchor="middle" fill="#555" transform="rotate(-90 418.5 595.5)">10<tspan font-size="1.6" dy="-0.8">5</tspan></text>
<line x1="423.5" y1="638.8" x2="423.5" y2="640.3" stroke="#555" stroke-width="0.5"/>
<text x="423.5" y="642.8" font-size="2.4" text-anchor="middle" fill="#555">10<tspan font-size="1.6" dy="-0.8">0</tspan></text>
<line x1="433.43" y1="638.8" x2="433.43" y2="640.3" stroke="#555" stroke-width="0.5"/>
<text x="433.43" y="642.8" font-size="2.4" text-anchor="middle" fill="#555">10<tspan font-size="1.6" dy="-0.8">1</tspan></text>
<line x1="443.35" y1="638.8" x2="443.35" y2="640.3" stroke="#555" stroke-width="0.5"/>
<text x="443.35" y="642.8" font-size="2.4" text-anchor="middle" fill="#555">10<tspan font-size="1.6" dy="-0.8">2</tspan></text>
<line x1="453.27" y1="638.8" x2="453.27" y2="640.3" stroke="#555" stroke-width="0.5"/>
<text x="453.27" y="642.8" font-size="2.4" text-anchor="middle" fill="#555">10<tspan font-size="1.6" dy="-0.8">3</tspan></text>
<line x1="463.2" y1="638.8" x2="463.2" y2="640.3" stroke="#555" stroke-width="0.5"/>
<text x="463.2" y="642.8" font-size="2.4" text-anchor="middle" fill="#555">10<tspan font-size="1.6" dy="-0.8">4</tspan></text>
<line x1="420.5" y1="638.8" x2="468.2" y2="638.8" stroke="#888" stroke-width="0.7"/>
<text x="442.35" y="643.6" font-size="2.6" text-anchor="middle" fill="#666">CD138 PE</text>
<rect x="364.2" y="652.2" width="47.7" height="48.3" fill="#fff" stroke="#bdbdbd" stroke-width="0.8"/>
<line x1="362.7" y1="697.5" x2="364.2" y2="697.5" stroke="#555" stroke-width="0.5"/>
<text x="362.2" y="697.5" font-size="2.4" text-anchor="middle" fill="#555" transform="rotate(-90 362.2 697.5)">10<tspan font-size="1.6" dy="-0.8">0</tspan></text>
<line x1="362.7" y1="689.44" x2="364.2" y2="689.44" stroke="#555" stroke-width="0.5"/>
<text x="362.2" y="689.44" font-size="2.4" text-anchor="middle" fill="#555" transform="rotate(-90 362.2 689.44)">10<tspan font-size="1.6" dy="-0.8">1</tspan></text>
<line x1="362.7" y1="681.38" x2="364.2" y2="681.38" stroke="#555" stroke-width="0.5"/>
<text x="362.2" y="681.38" font-size="2.4" text-anchor="middle" fill="#555" transform="rotate(-90 362.2 681.38)">10<tspan font-size="1.6" dy="-0.8">2</tspan></text>
<line x1="362.7" y1="673.32" x2="364.2" y2="673.32" stroke="#555" stroke-width="0.5"/>
<text x="362.2" y="673.32" font-size="2.4" text-anchor="middle" fill="#555" transform="rotate(-90 362.2 673.32)">10<tspan font-size="1.6" dy="-0.8">3</tspan></text>
<line x1="362.7" y1="665.26" x2="364.2" y2="665.26" stroke="#555" stroke-width="0.5"/>
<text x="362.2" y="665.26" font-size="2.4" text-anchor="middle" fill="#555" transform="rotate(-90 362.2 665.26)">10<tspan font-size="1.6" dy="-0.8">4</tspan></text>
<line x1="362.7" y1="657.2" x2="364.2" y2="657.2" stroke="#555" stroke-width="0.5"/>
<text x="362.2" y="657.2" font-size="2.4" text-anchor="middle" fill="#555" transform="rotate(-90 362.2 657.2)">10<tspan font-size="1.6" dy="-0.8">5</tspan></text>
<line x1="367.2" y1="700.5" x2="367.2" y2="702" stroke="#555" stroke-width="0.5"/>
<text x="367.2" y="704.5" font-size="2.4" text-anchor="middle" fill="#555">10<tspan font-size="1.6" dy="-0.8">0</tspan></text>
<line x1="377.12" y1="700.5" x2="377.12" y2="702" stroke="#555" stroke-width="0.5"/>
<text x="377.12" y="704.5" font-size="2.4" text-anchor="middle" fill="#555">10<tspan font-size="1.6" dy="-0.8">1</tspan></text>
<line x1="387.05" y1="700.5" x2="387.05" y2="702" stroke="#555" stroke-width="0.5"/>
<text x="387.05" y="704.5" font-size="2.4" text-anchor="middle" fill="#555">10<tspan font-size="1.6" dy="-0.8">2</tspan></text>
<line x1="396.97" y1="700.5" x2="396.97" y2="702" stroke="#555" stroke-width="0.5"/>
<text x="396.97" y="704.5" font-size="2.4" text-anchor="middle" fill="#555">10<tspan font-size="1.6" dy="-0.8">3</tspan></text>
<line x1="406.9" y1="700.5" x2="406.9" y2="702" stroke="#555" stroke-width="0.5"/>
<text x="406.9" y="704.5" font-size="2.4" text-anchor="middle" fill="#555">10<tspan font-size="1.6" dy="-0.8">4</tspan></text>
<line x1="364.2" y1="700.5" x2="411.9" y2="700.5" stroke="#888" stroke-width="0.7"/>
<text x="386.05" y="705.3" font-size="2.6" text-anchor="middle" fill="#666">CD138 PE</text>
<rect x="420.5" y="652.2" width="47.7" height="48.3" fill="#fff" stroke="#bdbdbd" stroke-width="0.8"/>
<line x1="419" y1="697.5" x2="420.5" y2="697.5" stroke="#555" stroke-width="0.5"/>
<text x="418.5" y="697.5" font-size="2.4" text-anchor="middle" fill="#555" transform="rotate(-90 418.5 697.5)">10<tspan font-size="1.6" dy="-0.8">0</tspan></text>
<line x1="419" y1="689.44" x2="420.5" y2="689.44" stroke="#555" stroke-width="0.5"/>
<text x="418.5" y="689.44" font-size="2.4" text-anchor="middle" fill="#555" transform="rotate(-90 418.5 689.44)">10<tspan font-size="1.6" dy="-0.8">1</tspan></text>
<line x1="419" y1="681.38" x2="420.5" y2="681.38" stroke="#555" stroke-width="0.5"/>
<text x="418.5" y="681.38" font-size="2.4" text-anchor="middle" fill="#555" transform="rotate(-90 418.5 681.38)">10<tspan font-size="1.6" dy="-0.8">2</tspan></text>
<line x1="419" y1="673.32" x2="420.5" y2="673.32" stroke="#555" stroke-width="0.5"/>
<text x="418.5" y="673.32" font-size="2.4" text-anchor="middle" fill="#555" transform="rotate(-90 418.5 673.32)">10<tspan font-size="1.6" dy="-0.8">3</tspan></text>
<line x1="419" y1="665.26" x2="420.5" y2="665.26" stroke="#555" stroke-width="0.5"/>
<text x="418.5" y="665.26" font-size="2.4" text-anchor="middle" fill="#555" transform="rotate(-90 418.5 665.26)">10<tspan font-size="1.6" dy="-0.8">4</tspan></text>
<line x1="419" y1="657.2" x2="420.5" y2="657.2" stroke="#555" stroke-width="0.5"/>
<text x="418.5" y="657.2" font-size="2.4" text-anchor="middle" fill="#555" transform="rotate(-90 418.5 657.2)">10<tspan font-size="1.6" dy="-0.8">5</tspan></text>
<line x1="423.5" y1="700.5" x2="423.5" y2="702" stroke="#555" stroke-width="0.5"/>
<text x="423.5" y="704.5" font-size="2.4" text-anchor="middle" fill="#555">10<tspan font-size="1.6" dy="-0.8">0</tspan></text>
<line x1="433.43" y1="700.5" x2="433.43" y2="702" stroke="#555" stroke-width="0.5"/>
<text x="433.43" y="704.5" font-size="2.4" text-anchor="middle" fill="#555">10<tspan font-size="1.6" dy="-0.8">1</tspan></text>
<line x1="443.35" y1="700.5" x2="443.35" y2="702" stroke="#555" stroke-width="0.5"/>
<text x="443.35" y="704.5" font-size="2.4" text-anchor="middle" fill="#555">10<tspan font-size="1.6" dy="-0.8">2</tspan></text>
<line x1="453.27" y1="700.5" x2="453.27" y2="702" stroke="#555" stroke-width="0.5"/>
<text x="453.27" y="704.5" font-size="2.4" text-anchor="middle" fill="#555">10<tspan font-size="1.6" dy="-0.8">3</tspan></text>
<line x1="463.2" y1="700.5" x2="463.2" y2="702" stroke="#555" stroke-width="0.5"/>
<text x="463.2" y="704.5" font-size="2.4" text-anchor="middle" fill="#555">10<tspan font-size="1.6" dy="-0.8">4</tspan></text>
<line x1="420.5" y1="700.5" x2="468.2" y2="700.5" stroke="#888" stroke-width="0.7"/>
<text x="442.35" y="705.3" font-size="2.6" text-anchor="middle" fill="#666">CD138 PE</text>
<defs><filter id="bl" x="-50%" y="-50%" width="200%" height="200%"><feGaussianBlur stdDeviation="0.55"/></filter></defs>
<path d="M381.33 550.16h0.9v0.9h-0.9zM400.34 552.34h0.9v0.9h-0.9zM393.43 552.25h0.9v0.9h-0.9z" fill="#888" fill-opacity="0.45"/>
<path d="M388.33 546.6h0.9v0.9h-0.9zM398.16 552.44h0.9v0.9h-0.9zM387.41 546.93h0.9v0.9h-0.9z" fill="#888" fill-opacity="0.45"/>
<path d="M395.8 549.33h0.9v0.9h-0.9zM386.82 553.35h0.9v0.9h-0.9zM389.36 547.47h0.9v0.9h-0.9z" fill="#888" fill-opacity="0.45"/>
<path d="M388.35 558.01h0.9v0.9h-0.9zM390.64 548.19h0.9v0.9h-0.9zM395.24 557.09h0.9v0.9h-0.9z" fill="#888" fill-opacity="0.45"/>
<path d="M387.03 542.68h0.9v0.9h-0.9zM402.36 553.14h0.9v0.9h-0.9zM384.93 552.05h0.9v0.9h-0.9z" fill="#888" fill-opacity="0.45"/>
<path d="M381.75 546.37h0.9v0.9h-0.9zM387.38 548.88h0.9v0.9h-0.9zM384.38 545.77h0.9v0.9h-0.9z" fill="#888" fill-opacity="0.45"/>
<path d="M393.95 553.26h0.9v0.9h-0.9zM404.48 548.02h0.9v0.9h-0.9z" fill="#888" fill-opacity="0.45"/>
<path d="M396.83 558.26h0.9v0.9h-0.9zM394.79 552.41h0.9v0.9h-0.9z" fill="#888" fill-opacity="0.45"/>
<path d="M396.04 544h0.9v0.9h-0.9zM408.62 536.89h0.9v0.9h-0.9zM394.96 543.94h0.9v0.9h-0.9zM406.1 537.77h0.9v0.9h-0.9zM402.21 541.22h0.9v0.9h-0.9zM405.87 538.16h0.9v0.9h-0.9zM404.25 540.55h0.9v0.9h-0.9zM398.02 538.77h0.9v0.9h-0.9zM403.33 542.1h0.9v0.9h-0.9zM398.22 542h0.9v0.9h-0.9zM394.6 544.39h0.9v0.9h-0.9zM395.29 545.14h0.9v0.9h-0.9zM394.34 545.32h0.9v0.9h-0.9zM400.97 541.94h0.9v0.9h-0.9zM403.17 541.35h0.9v0.9h-0.9zM403.66 539.54h0.9v0.9h-0.9zM400.82 541.48h0.9v0.9h-0.9zM400.11 542.86h0.9v0.9h-0.9zM397.38 544.18h0.9v0.9h-0.9zM393.86 543.83h0.9v0.9h-0.9zM397.86 544.89h0.9v0.9h-0.9zM396.76 541.62h0.9v0.9h-0.9zM399.27 541.63h0.9v0.9h-0.9zM403.01 541.23h0.9v0.9h-0.9zM397.74 544.3h0.9v0.9h-0.9zM396.72 541.63h0.9v0.9h-0.9zM401.35 543.35h0.9v0.9h-0.9zM394.2 544.21h0.9v0.9h-0.9zM401.25 540.59h0.9v0.9h-0.9zM399.15 540.33h0.9v0.9h-0.9zM400.95 544.46h0.9v0.9h-0.9zM403.24 540.03h0.9v0.9h-0.9zM400.71 541.11h0.9v0.9h-0.9z" fill="#111" fill-opacity="0.25"/>
<path d="M403.09 539.21h0.9v0.9h-0.9zM396.62 541.36h0.9v0.9h-0.9zM397.47 543.06h0.9v0.9h-0.9zM402.35 540.37h0.9v0.9h-0.9zM401.1 541.3h0.9v0.9h-0.9zM398.82 545.12h0.9v0.9h-0.9zM401.03 543.11h0.9v0.9h-0.9zM404.17 543.08h0.9v0.9h-0.9zM402.42 540.8h0.9v0.9h-0.9zM396.31 545.78h0.9v0.9h-0.9zM396.62 548.55h0.9v0.9h-0.9zM402.32 538.85h0.9v0.9h-0.9zM405.44 540.17h0.9v0.9h-0.9zM403.67 538.45h0.9v0.9h-0.9zM402.45 537.74h0.9v0.9h-0.9zM400.84 541.27h0.9v0.9h-0.9zM396.96 541.74h0.9v0.9h-0.9zM397.95 540.71h0.9v0.9h-0.9zM403.69 537.81h0.9v0.9h-0.9zM397.99 545.55h0.9v0.9h-0.9zM401.5 541.46h0.9v0.9h-0.9zM401.78 538.98h0.9v0.9h-0.9zM403.91 539.26h0.9v0.9h-0.9zM401.75 537.59h0.9v0.9h-0.9zM404.99 540.63h0.9v0.9h-0.9zM402.12 538.75h0.9v0.9h-0.9zM400.18 542.11h0.9v0.9h-0.9zM394.78 543.98h0.9v0.9h-0.9zM408.36 538.91h0.9v0.9h-0.9zM401.04 541.88h0.9v0.9h-0.9zM398.74 539.41h0.9v0.9h-0.9zM396.27 541.64h0.9v0.9h-0.9zM395.14 542.16h0.9v0.9h-0.9z" fill="#111" fill-opacity="0.25"/>
<path d="M395.41 543.61h0.9v0.9h-0.9zM400.42 541.53h0.9v0.9h-0.9zM411.26 535.98h0.9v0.9h-0.9zM402.89 539.17h0.9v0.9h-0.9zM400.26 540.44h0.9v0.9h-0.9zM401.43 542.32h0.9v0.9h-0.9zM397.88 543.76h0.9v0.9h-0.9zM402.88 538.68h0.9v0.9h-0.9zM393.33 543.61h0.9v0.9h-0.9zM404.86 538.87h0.9v0.9h-0.9zM404.18 540.37h0.9v0.9h-0.9zM397.2 541.77h0.9v0.9h-0.9zM404.71 539.62h0.9v0.9h-0.9zM393.72 545.7h0.9v0.9h-0.9zM396.53 539.48h0.9v0.9h-0.9zM400.57 540.9h0.9v0.9h-0.9zM395.93 541.81h0.9v0.9h-0.9zM395 542.19h0.9v0.9h-0.9zM403.35 539.28h0.9v0.9h-0.9zM401.51 539.64h0.9v0.9h-0.9zM394.44 543.93h0.9v0.9h-0.9zM399.29 543.26h0.9v0.9h-0.9zM395.65 545.23h0.9v0.9h-0.9zM397.12 543.09h0.9v0.9h-0.9zM403.44 541.13h0.9v0.9h-0.9zM401.2 540.03h0.9v0.9h-0.9zM401.21 539.5h0.9v0.9h-0.9zM400.71 541.71h0.9v0.9h-0.9zM394.59 544.74h0.9v0.9h-0.9zM399.39 541.77h0.9v0.9h-0.9zM400.81 539.65h0.9v0.9h-0.9zM402.38 544.07h0.9v0.9h-0.9zM400.47 542.85h0.9v0.9h-0.9z" fill="#111" fill-opacity="0.25"/>
<path d="M402.3 542.09h0.9v0.9h-0.9zM398.78 541.99h0.9v0.9h-0.9zM402.08 538.44h0.9v0.9h-0.9zM403.34 539.69h0.9v0.9h-0.9zM396.29 542.68h0.9v0.9h-0.9zM402.3 538.62h0.9v0.9h-0.9zM403.63 539.29h0.9v0.9h-0.9zM398.72 542.46h0.9v0.9h-0.9zM397.59 541.84h0.9v0.9h-0.9zM397.61 540.73h0.9v0.9h-0.9zM398.1 539.09h0.9v0.9h-0.9zM395.52 542.61h0.9v0.9h-0.9zM397.6 542.8h0.9v0.9h-0.9zM398.44 544.29h0.9v0.9h-0.9zM400.02 542.43h0.9v0.9h-0.9zM398.09 540.47h0.9v0.9h-0.9zM401.61 537.05h0.9v0.9h-0.9zM395.91 545.18h0.9v0.9h-0.9zM398.32 541.46h0.9v0.9h-0.9zM403.53 540.63h0.9v0.9h-0.9zM402.02 538.52h0.9v0.9h-0.9zM403.06 537.26h0.9v0.9h-0.9zM396.06 542.71h0.9v0.9h-0.9zM402.5 542.31h0.9v0.9h-0.9zM400.4 542.34h0.9v0.9h-0.9zM398.53 539.38h0.9v0.9h-0.9zM400.13 540.65h0.9v0.9h-0.9zM400.85 541.36h0.9v0.9h-0.9zM398.82 543.61h0.9v0.9h-0.9zM404.14 537.76h0.9v0.9h-0.9zM404.85 537.22h0.9v0.9h-0.9zM397.96 541.27h0.9v0.9h-0.9zM402.27 540.72h0.9v0.9h-0.9z" fill="#111" fill-opacity="0.25"/>
<path d="M395.05 541.88h0.9v0.9h-0.9zM401.36 541.92h0.9v0.9h-0.9zM399.42 542.81h0.9v0.9h-0.9zM404.7 540.2h0.9v0.9h-0.9zM402.94 542.43h0.9v0.9h-0.9zM409.41 539.72h0.9v0.9h-0.9zM393.32 543.32h0.9v0.9h-0.9zM408.89 538.16h0.9v0.9h-0.9zM401.8 540.11h0.9v0.9h-0.9zM400.71 541.48h0.9v0.9h-0.9zM398.62 539.75h0.9v0.9h-0.9zM404.7 540.3h0.9v0.9h-0.9zM398.04 540.72h0.9v0.9h-0.9zM401.77 542.21h0.9v0.9h-0.9zM397.53 543.07h0.9v0.9h-0.9zM398.81 544.64h0.9v0.9h-0.9zM398.72 541.17h0.9v0.9h-0.9zM401.07 540.61h0.9v0.9h-0.9zM397.78 539.74h0.9v0.9h-0.9zM394.12 543.52h0.9v0.9h-0.9zM403.52 539.19h0.9v0.9h-0.9zM402.88 543.04h0.9v0.9h-0.9zM399.33 541.29h0.9v0.9h-0.9zM401.46 540.42h0.9v0.9h-0.9zM396.28 542.98h0.9v0.9h-0.9zM402.14 539.69h0.9v0.9h-0.9zM396.27 544.66h0.9v0.9h-0.9zM395.87 542.9h0.9v0.9h-0.9zM396.33 543.12h0.9v0.9h-0.9zM396.93 540.02h0.9v0.9h-0.9zM397.04 540.43h0.9v0.9h-0.9zM396.95 541.27h0.9v0.9h-0.9z" fill="#111" fill-opacity="0.25"/>
<path d="M402.7 540.93h0.9v0.9h-0.9zM403.88 539.95h0.9v0.9h-0.9zM399.91 542.12h0.9v0.9h-0.9zM400.01 540.28h0.9v0.9h-0.9zM403.98 541.21h0.9v0.9h-0.9zM401.06 542.16h0.9v0.9h-0.9zM401.13 541.77h0.9v0.9h-0.9zM401.34 543.28h0.9v0.9h-0.9zM402.75 540.3h0.9v0.9h-0.9zM407.62 538.2h0.9v0.9h-0.9zM400.74 537.82h0.9v0.9h-0.9zM406.98 537.99h0.9v0.9h-0.9zM393.31 542.43h0.9v0.9h-0.9zM401.35 537.61h0.9v0.9h-0.9zM401.41 542.39h0.9v0.9h-0.9zM401.88 540.69h0.9v0.9h-0.9zM397.94 542.65h0.9v0.9h-0.9zM404.59 538.26h0.9v0.9h-0.9zM395.82 541.6h0.9v0.9h-0.9zM399.19 541.92h0.9v0.9h-0.9zM401.3 540.67h0.9v0.9h-0.9zM403.94 539.22h0.9v0.9h-0.9zM396.42 542.84h0.9v0.9h-0.9zM400.01 541.17h0.9v0.9h-0.9zM397.93 543.63h0.9v0.9h-0.9zM398.19 545.6h0.9v0.9h-0.9zM402.32 540.49h0.9v0.9h-0.9zM398.11 542.05h0.9v0.9h-0.9zM399.49 541.6h0.9v0.9h-0.9zM397.15 541.72h0.9v0.9h-0.9zM399.72 540.06h0.9v0.9h-0.9zM396.55 542.85h0.9v0.9h-0.9z" fill="#111" fill-opacity="0.25"/>
<path d="M405.85 540.2h0.9v0.9h-0.9zM394.3 545.34h0.9v0.9h-0.9zM399.74 540.06h0.9v0.9h-0.9zM402.91 540.82h0.9v0.9h-0.9zM403.09 541.1h0.9v0.9h-0.9zM399.9 540.18h0.9v0.9h-0.9zM404.69 537.68h0.9v0.9h-0.9zM400.85 543.98h0.9v0.9h-0.9zM398.93 542.2h0.9v0.9h-0.9zM395.85 539.7h0.9v0.9h-0.9zM397.64 544.54h0.9v0.9h-0.9zM398.94 540.49h0.9v0.9h-0.9zM400.07 541.7h0.9v0.9h-0.9zM402.05 539.46h0.9v0.9h-0.9zM396.68 541.81h0.9v0.9h-0.9zM399.3 541.93h0.9v0.9h-0.9zM403.91 539.73h0.9v0.9h-0.9zM403.06 541.27h0.9v0.9h-0.9zM402.95 543.32h0.9v0.9h-0.9zM400.25 540.85h0.9v0.9h-0.9zM401.48 542.66h0.9v0.9h-0.9zM397.76 542.12h0.9v0.9h-0.9zM407.1 537.12h0.9v0.9h-0.9zM401.26 541.94h0.9v0.9h-0.9zM397.95 542.32h0.9v0.9h-0.9zM404.57 544.75h0.9v0.9h-0.9zM395.67 540.47h0.9v0.9h-0.9zM401.3 541.83h0.9v0.9h-0.9zM396.88 540.15h0.9v0.9h-0.9zM396.29 542.21h0.9v0.9h-0.9zM399.55 541.13h0.9v0.9h-0.9zM404.91 539.13h0.9v0.9h-0.9z" fill="#111" fill-opacity="0.25"/>
<path d="M399.48 541.32h0.9v0.9h-0.9zM395.04 543.63h0.9v0.9h-0.9zM401.43 539.54h0.9v0.9h-0.9zM405.39 538.31h0.9v0.9h-0.9zM401.1 542.17h0.9v0.9h-0.9zM399.84 542.16h0.9v0.9h-0.9zM400.4 542.31h0.9v0.9h-0.9zM397.37 542.03h0.9v0.9h-0.9zM401.99 541.87h0.9v0.9h-0.9zM404.94 539.41h0.9v0.9h-0.9zM404.91 537.29h0.9v0.9h-0.9zM398.78 540.05h0.9v0.9h-0.9zM399.25 544.09h0.9v0.9h-0.9zM397.15 542.2h0.9v0.9h-0.9zM398.46 544.97h0.9v0.9h-0.9zM400.82 540.1h0.9v0.9h-0.9zM399.15 540.96h0.9v0.9h-0.9zM393.76 542.09h0.9v0.9h-0.9zM409.14 536.56h0.9v0.9h-0.9zM400.29 540.45h0.9v0.9h-0.9zM399.57 544.14h0.9v0.9h-0.9zM395.89 543.07h0.9v0.9h-0.9zM400.22 543.14h0.9v0.9h-0.9zM398.34 541.04h0.9v0.9h-0.9zM402.19 542.55h0.9v0.9h-0.9zM401.18 540.39h0.9v0.9h-0.9zM401.6 540.57h0.9v0.9h-0.9zM404.03 535.56h0.9v0.9h-0.9zM402.18 542h0.9v0.9h-0.9zM406.03 538.28h0.9v0.9h-0.9zM398.48 543.7h0.9v0.9h-0.9zM397.27 540.31h0.9v0.9h-0.9z" fill="#111" fill-opacity="0.25"/>
<ellipse cx="377" cy="569.5" rx="2.2" ry="5.5" fill="#7474d4" fill-opacity="1" filter="url(#bl)"/>
<ellipse cx="377" cy="559.5" rx="2.3" ry="6.8" fill="#dfe84a" fill-opacity="1" filter="url(#bl)"/>
<ellipse cx="376.8" cy="548.5" rx="2.2" ry="7.2" fill="#0d640d" fill-opacity="1" filter="url(#bl)"/>
<ellipse cx="379.6" cy="548" rx="0.9" ry="2" fill="#9090e0" fill-opacity="0.6" filter="url(#bl)"/>
<path d="M456.32 554.75h0.9v0.9h-0.9zM448.29 556.08h0.9v0.9h-0.9zM439.5 551.17h0.9v0.9h-0.9zM450.08 552.57h0.9v0.9h-0.9zM444.65 553.39h0.9v0.9h-0.9zM447.75 554.18h0.9v0.9h-0.9z" fill="#666" fill-opacity="0.5"/>
<path d="M440.77 550.1h0.9v0.9h-0.9zM446.69 552.53h0.9v0.9h-0.9zM447.87 552.48h0.9v0.9h-0.9zM448.73 553.57h0.9v0.9h-0.9zM458.42 550.37h0.9v0.9h-0.9zM444.33 551.9h0.9v0.9h-0.9z" fill="#666" fill-opacity="0.5"/>
<path d="M448.39 554.42h0.9v0.9h-0.9zM440.6 552.45h0.9v0.9h-0.9zM441.79 552h0.9v0.9h-0.9zM448.82 552.41h0.9v0.9h-0.9zM452.05 553.56h0.9v0.9h-0.9zM448.77 554.78h0.9v0.9h-0.9z" fill="#666" fill-opacity="0.5"/>
<path d="M448.12 550.87h0.9v0.9h-0.9zM453.44 555.2h0.9v0.9h-0.9zM450.12 553.85h0.9v0.9h-0.9zM446.38 553.09h0.9v0.9h-0.9zM446.75 551.21h0.9v0.9h-0.9zM454.07 553.5h0.9v0.9h-0.9z" fill="#666" fill-opacity="0.5"/>
<path d="M446.02 555.5h0.9v0.9h-0.9zM452.89 554.21h0.9v0.9h-0.9zM454.09 551.84h0.9v0.9h-0.9zM439.94 553.5h0.9v0.9h-0.9zM458.31 553.5h0.9v0.9h-0.9zM456.92 552.97h0.9v0.9h-0.9z" fill="#666" fill-opacity="0.5"/>
<path d="M440.71 554.88h0.9v0.9h-0.9zM452.52 553.74h0.9v0.9h-0.9zM451.28 554.85h0.9v0.9h-0.9zM442.55 552.82h0.9v0.9h-0.9zM454.91 552.62h0.9v0.9h-0.9z" fill="#666" fill-opacity="0.5"/>
<path d="M452.14 553.97h0.9v0.9h-0.9zM455.04 552.98h0.9v0.9h-0.9zM451.13 556.01h0.9v0.9h-0.9zM442.6 553.36h0.9v0.9h-0.9zM444.52 554.9h0.9v0.9h-0.9z" fill="#666" fill-opacity="0.5"/>
<path d="M453.6 552.33h0.9v0.9h-0.9zM455.44 553.1h0.9v0.9h-0.9zM446.21 553.2h0.9v0.9h-0.9zM446.79 552.8h0.9v0.9h-0.9zM453.35 552.73h0.9v0.9h-0.9z" fill="#666" fill-opacity="0.5"/>
<ellipse cx="433.2" cy="570" rx="2.2" ry="3.8" fill="#9a9ae0" fill-opacity="1" filter="url(#bl)"/>
<ellipse cx="433.2" cy="563" rx="2.7" ry="5.2" fill="#e6e84e" fill-opacity="1" filter="url(#bl)"/>
<ellipse cx="433.2" cy="556.8" rx="2.6" ry="3.4" fill="#3c4468" fill-opacity="1" filter="url(#bl)"/>
<ellipse cx="433.6" cy="549.6" rx="3.2" ry="4.4" fill="#a412cc" fill-opacity="1" filter="url(#bl)"/>
<path d="M410.83 606.94h0.8v0.8h-0.8zM403.37 610.29h0.8v0.8h-0.8zM408.24 609.66h0.8v0.8h-0.8zM391.59 608.02h0.8v0.8h-0.8zM390.31 611.45h0.8v0.8h-0.8zM403.21 609.41h0.8v0.8h-0.8zM408.9 607.8h0.8v0.8h-0.8zM400.15 604.68h0.8v0.8h-0.8zM409.61 610.56h0.8v0.8h-0.8zM405.98 608.94h0.8v0.8h-0.8zM403.37 609.52h0.8v0.8h-0.8zM410.45 607.72h0.8v0.8h-0.8zM394.19 607.11h0.8v0.8h-0.8zM410.55 604.26h0.8v0.8h-0.8zM396.02 608.62h0.8v0.8h-0.8zM399.99 604.16h0.8v0.8h-0.8zM385.44 605.56h0.8v0.8h-0.8zM409.03 595.77h0.8v0.8h-0.8zM389.75 606.41h0.8v0.8h-0.8zM395 609.77h0.8v0.8h-0.8zM406.11 601.76h0.8v0.8h-0.8zM387.13 611.4h0.8v0.8h-0.8zM401.19 609.01h0.8v0.8h-0.8zM395.8 609.01h0.8v0.8h-0.8zM395.41 604.85h0.8v0.8h-0.8zM402.27 606.27h0.8v0.8h-0.8zM401.55 607.12h0.8v0.8h-0.8zM406.14 604.61h0.8v0.8h-0.8zM407.64 611.41h0.8v0.8h-0.8zM403.32 609.32h0.8v0.8h-0.8zM406.67 615.01h0.8v0.8h-0.8zM408.45 607.32h0.8v0.8h-0.8zM397.79 611.25h0.8v0.8h-0.8zM401.93 614.43h0.8v0.8h-0.8zM405.74 610.41h0.8v0.8h-0.8zM395.42 605.76h0.8v0.8h-0.8zM397.11 611.65h0.8v0.8h-0.8zM403.94 606.58h0.8v0.8h-0.8zM392.76 609.75h0.8v0.8h-0.8zM400.41 608.7h0.8v0.8h-0.8zM397.78 609.51h0.8v0.8h-0.8zM404.21 613.18h0.8v0.8h-0.8zM400.19 608.77h0.8v0.8h-0.8zM397.56 604.59h0.8v0.8h-0.8zM408.44 612.37h0.8v0.8h-0.8zM402.11 604.06h0.8v0.8h-0.8zM394.37 609.03h0.8v0.8h-0.8zM392.4 608.78h0.8v0.8h-0.8zM408.62 613.13h0.8v0.8h-0.8zM399.21 603.1h0.8v0.8h-0.8zM404.38 606.03h0.8v0.8h-0.8zM396.36 606.61h0.8v0.8h-0.8zM394.01 608.5h0.8v0.8h-0.8zM390.83 605.91h0.8v0.8h-0.8zM407.95 608.38h0.8v0.8h-0.8zM401.63 615.42h0.8v0.8h-0.8zM400.86 607.91h0.8v0.8h-0.8zM409.78 607.24h0.8v0.8h-0.8zM407.81 609.46h0.8v0.8h-0.8zM403.21 610.03h0.8v0.8h-0.8zM403.59 602.84h0.8v0.8h-0.8zM402.17 611.39h0.8v0.8h-0.8zM397.32 609.1h0.8v0.8h-0.8zM394.77 610.03h0.8v0.8h-0.8zM408.39 603.68h0.8v0.8h-0.8zM396.73 611.77h0.8v0.8h-0.8zM408.52 602.07h0.8v0.8h-0.8zM388.95 608.25h0.8v0.8h-0.8zM397.96 603.37h0.8v0.8h-0.8zM398.66 603.61h0.8v0.8h-0.8zM406.18 606.13h0.8v0.8h-0.8zM400.95 608.39h0.8v0.8h-0.8zM397.71 608.54h0.8v0.8h-0.8zM395.94 604.76h0.8v0.8h-0.8zM406.61 607.73h0.8v0.8h-0.8zM402.46 610.71h0.8v0.8h-0.8zM406.26 605.1h0.8v0.8h-0.8zM404.27 601.67h0.8v0.8h-0.8zM408.17 609.02h0.8v0.8h-0.8zM391.04 608.61h0.8v0.8h-0.8zM402.25 604.93h0.8v0.8h-0.8zM408.71 604.61h0.8v0.8h-0.8zM407.53 602.66h0.8v0.8h-0.8zM400.9 606.98h0.8v0.8h-0.8zM404.93 606.59h0.8v0.8h-0.8zM401.25 605.45h0.8v0.8h-0.8zM401.3 606.61h0.8v0.8h-0.8zM394.74 609.17h0.8v0.8h-0.8zM396.34 609.49h0.8v0.8h-0.8zM396.15 608.13h0.8v0.8h-0.8zM409.65 609.58h0.8v0.8h-0.8zM399.06 605.71h0.8v0.8h-0.8zM401.03 606.63h0.8v0.8h-0.8zM393.25 608.38h0.8v0.8h-0.8zM386.57 609.7h0.8v0.8h-0.8zM404.17 612.28h0.8v0.8h-0.8zM398.63 605.51h0.8v0.8h-0.8zM399.33 601.47h0.8v0.8h-0.8zM403.88 609.37h0.8v0.8h-0.8zM408.27 602.97h0.8v0.8h-0.8zM393.21 608.1h0.8v0.8h-0.8zM399.41 606.69h0.8v0.8h-0.8zM394.02 608.44h0.8v0.8h-0.8zM390.29 610.08h0.8v0.8h-0.8zM391.9 607.82h0.8v0.8h-0.8zM390.48 608.77h0.8v0.8h-0.8zM405.1 607.57h0.8v0.8h-0.8zM406.73 602.82h0.8v0.8h-0.8zM409.54 607.22h0.8v0.8h-0.8zM406.36 606.96h0.8v0.8h-0.8zM406.01 609.14h0.8v0.8h-0.8zM398.17 607.08h0.8v0.8h-0.8zM390.74 607.32h0.8v0.8h-0.8zM407.83 598.3h0.8v0.8h-0.8zM410.08 607.27h0.8v0.8h-0.8zM393.68 610.22h0.8v0.8h-0.8zM407.96 610.04h0.8v0.8h-0.8zM410.14 609.17h0.8v0.8h-0.8zM403.36 604.43h0.8v0.8h-0.8zM404.58 609.11h0.8v0.8h-0.8zM405.36 612.29h0.8v0.8h-0.8zM394.16 608h0.8v0.8h-0.8zM396.56 606.56h0.8v0.8h-0.8zM403.87 608.64h0.8v0.8h-0.8zM405.7 606.49h0.8v0.8h-0.8zM405.59 606.44h0.8v0.8h-0.8zM400.69 609.77h0.8v0.8h-0.8zM402.89 609.05h0.8v0.8h-0.8zM403.82 607.41h0.8v0.8h-0.8zM405.6 608.36h0.8v0.8h-0.8zM394.77 607.58h0.8v0.8h-0.8zM391.68 607.6h0.8v0.8h-0.8zM406.52 606h0.8v0.8h-0.8zM400.95 607.5h0.8v0.8h-0.8zM393.36 608.24h0.8v0.8h-0.8zM407.49 609.71h0.8v0.8h-0.8zM402.97 609.35h0.8v0.8h-0.8zM407.64 604.99h0.8v0.8h-0.8zM393.91 605.73h0.8v0.8h-0.8zM406.8 607.32h0.8v0.8h-0.8zM398.96 604.88h0.8v0.8h-0.8zM402 608.62h0.8v0.8h-0.8zM405.65 607.83h0.8v0.8h-0.8zM395.47 604.22h0.8v0.8h-0.8zM396.08 609.54h0.8v0.8h-0.8zM396.46 610.18h0.8v0.8h-0.8zM393.44 606.71h0.8v0.8h-0.8zM405.12 607.19h0.8v0.8h-0.8zM406.33 611.4h0.8v0.8h-0.8zM398.27 606.88h0.8v0.8h-0.8zM407.44 601.51h0.8v0.8h-0.8zM404.52 609.14h0.8v0.8h-0.8zM389.2 607.34h0.8v0.8h-0.8zM410.2 607.33h0.8v0.8h-0.8zM402.41 604.49h0.8v0.8h-0.8zM408.48 606.22h0.8v0.8h-0.8zM399.38 610.12h0.8v0.8h-0.8zM408.46 606.77h0.8v0.8h-0.8zM408.52 616.37h0.8v0.8h-0.8zM406.89 607.34h0.8v0.8h-0.8zM399.32 611.22h0.8v0.8h-0.8zM404.1 609.48h0.8v0.8h-0.8zM399.86 603.06h0.8v0.8h-0.8zM398.11 612.1h0.8v0.8h-0.8zM402.01 604.14h0.8v0.8h-0.8zM392.23 611.27h0.8v0.8h-0.8zM410.2 605.12h0.8v0.8h-0.8zM406.8 608.81h0.8v0.8h-0.8zM396.97 605.37h0.8v0.8h-0.8zM392.53 606.68h0.8v0.8h-0.8zM400.97 612.24h0.8v0.8h-0.8zM396.05 606.19h0.8v0.8h-0.8zM395.3 607.73h0.8v0.8h-0.8zM401.78 612.15h0.8v0.8h-0.8zM410.12 609.2h0.8v0.8h-0.8zM395.54 610.5h0.8v0.8h-0.8zM388.12 609.47h0.8v0.8h-0.8zM398.71 608.28h0.8v0.8h-0.8zM402.05 608.5h0.8v0.8h-0.8zM406.48 609.11h0.8v0.8h-0.8zM393.24 612.89h0.8v0.8h-0.8zM388.41 605.18h0.8v0.8h-0.8zM406.38 604.6h0.8v0.8h-0.8zM404.79 606.43h0.8v0.8h-0.8zM399.32 608.54h0.8v0.8h-0.8zM393.19 609.14h0.8v0.8h-0.8zM409.83 609.16h0.8v0.8h-0.8zM394.55 603.86h0.8v0.8h-0.8zM400.21 609.02h0.8v0.8h-0.8zM395.56 607.45h0.8v0.8h-0.8zM404.22 607.84h0.8v0.8h-0.8zM410.11 612.67h0.8v0.8h-0.8zM399.55 605.92h0.8v0.8h-0.8zM393.02 605.41h0.8v0.8h-0.8zM392.17 609.4h0.8v0.8h-0.8zM398.49 607.97h0.8v0.8h-0.8zM409.95 604.13h0.8v0.8h-0.8zM406.18 605.43h0.8v0.8h-0.8zM394.53 607.28h0.8v0.8h-0.8zM386.28 609.19h0.8v0.8h-0.8zM386.1 608.87h0.8v0.8h-0.8zM409.87 603.96h0.8v0.8h-0.8zM387.29 609.29h0.8v0.8h-0.8zM408.01 605.07h0.8v0.8h-0.8zM407.05 604.17h0.8v0.8h-0.8zM403.32 608.08h0.8v0.8h-0.8zM396.8 608.4h0.8v0.8h-0.8zM396.68 606.86h0.8v0.8h-0.8zM399.59 604h0.8v0.8h-0.8zM405.57 603.06h0.8v0.8h-0.8zM399.25 610.12h0.8v0.8h-0.8zM406.88 606.6h0.8v0.8h-0.8zM400.88 605h0.8v0.8h-0.8zM390.13 606.15h0.8v0.8h-0.8zM406.77 602.91h0.8v0.8h-0.8zM409.79 604.92h0.8v0.8h-0.8zM398.79 609.26h0.8v0.8h-0.8zM410.2 597.8h0.8v0.8h-0.8zM406.48 599.42h0.8v0.8h-0.8zM397.17 611.69h0.8v0.8h-0.8z" fill="#000" fill-opacity="0.32"/>
<path d="M393.88 607.67h0.8v0.8h-0.8zM408.01 607.01h0.8v0.8h-0.8zM391.55 605.98h0.8v0.8h-0.8zM404.2 608.81h0.8v0.8h-0.8zM407.23 610.52h0.8v0.8h-0.8zM402.14 610.79h0.8v0.8h-0.8zM401.05 605.37h0.8v0.8h-0.8zM404.55 605.09h0.8v0.8h-0.8zM397.4 612.33h0.8v0.8h-0.8zM405.6 609.11h0.8v0.8h-0.8zM405.58 605.63h0.8v0.8h-0.8zM392.07 605.72h0.8v0.8h-0.8zM401 604.39h0.8v0.8h-0.8zM390.54 609h0.8v0.8h-0.8zM388.47 605.21h0.8v0.8h-0.8zM396.81 608.08h0.8v0.8h-0.8zM409.88 610.25h0.8v0.8h-0.8zM405.16 606.56h0.8v0.8h-0.8zM405.7 612.4h0.8v0.8h-0.8zM396.3 607.09h0.8v0.8h-0.8zM403.69 604.86h0.8v0.8h-0.8zM385.49 609.06h0.8v0.8h-0.8zM402.38 603.92h0.8v0.8h-0.8zM400.97 605.25h0.8v0.8h-0.8zM389.35 610.02h0.8v0.8h-0.8zM403.32 610.09h0.8v0.8h-0.8zM409.22 608.58h0.8v0.8h-0.8zM392.52 606.94h0.8v0.8h-0.8zM409.19 609.3h0.8v0.8h-0.8zM404.11 608.36h0.8v0.8h-0.8zM397.37 604.79h0.8v0.8h-0.8zM390.86 610.2h0.8v0.8h-0.8zM404.23 607.18h0.8v0.8h-0.8zM403.88 603.72h0.8v0.8h-0.8zM402 606.46h0.8v0.8h-0.8zM405.36 612.98h0.8v0.8h-0.8zM409.56 602.49h0.8v0.8h-0.8zM388.62 605.76h0.8v0.8h-0.8zM409.23 604.9h0.8v0.8h-0.8zM404.87 608.39h0.8v0.8h-0.8zM408.67 604.07h0.8v0.8h-0.8zM404.26 600.29h0.8v0.8h-0.8zM407.07 605.23h0.8v0.8h-0.8zM409.72 604.97h0.8v0.8h-0.8zM405.31 607.93h0.8v0.8h-0.8zM406.78 602.45h0.8v0.8h-0.8zM412.47 601.56h0.8v0.8h-0.8zM398.4 609.39h0.8v0.8h-0.8zM402.23 607.5h0.8v0.8h-0.8zM392.59 608.8h0.8v0.8h-0.8zM397.74 607.08h0.8v0.8h-0.8zM407.94 606.18h0.8v0.8h-0.8zM410.73 603.74h0.8v0.8h-0.8zM410.89 605.32h0.8v0.8h-0.8zM405.01 605.75h0.8v0.8h-0.8zM406.26 605.58h0.8v0.8h-0.8zM400.65 605.4h0.8v0.8h-0.8zM401.24 611.8h0.8v0.8h-0.8zM404.75 609.23h0.8v0.8h-0.8zM404.94 606.28h0.8v0.8h-0.8zM395.06 609.03h0.8v0.8h-0.8zM396.41 604.88h0.8v0.8h-0.8zM405.3 610h0.8v0.8h-0.8zM401.01 610.77h0.8v0.8h-0.8zM409.03 608.28h0.8v0.8h-0.8zM401.28 607.11h0.8v0.8h-0.8zM407.83 603.67h0.8v0.8h-0.8zM405.51 605.3h0.8v0.8h-0.8zM410.13 609.48h0.8v0.8h-0.8zM403.97 609.7h0.8v0.8h-0.8zM403.02 607.64h0.8v0.8h-0.8zM405.97 605.99h0.8v0.8h-0.8zM408.56 603.89h0.8v0.8h-0.8zM404.92 611.27h0.8v0.8h-0.8zM405.91 613.72h0.8v0.8h-0.8zM406.61 597.95h0.8v0.8h-0.8zM404.36 604.16h0.8v0.8h-0.8zM406.13 609h0.8v0.8h-0.8zM398.78 605.24h0.8v0.8h-0.8zM399.35 609.11h0.8v0.8h-0.8zM396.98 612.29h0.8v0.8h-0.8zM399.9 607.26h0.8v0.8h-0.8zM406.94 604.33h0.8v0.8h-0.8zM407.09 608.97h0.8v0.8h-0.8zM405.46 610.87h0.8v0.8h-0.8zM409.04 604.84h0.8v0.8h-0.8zM405.71 606.16h0.8v0.8h-0.8zM399.06 612.77h0.8v0.8h-0.8zM402.25 607.31h0.8v0.8h-0.8zM401.78 609.09h0.8v0.8h-0.8zM400.71 608.21h0.8v0.8h-0.8zM409.96 609.92h0.8v0.8h-0.8zM409.12 606.43h0.8v0.8h-0.8zM405.93 610.09h0.8v0.8h-0.8zM408.5 605.36h0.8v0.8h-0.8zM396.99 608.85h0.8v0.8h-0.8zM408.9 604.37h0.8v0.8h-0.8zM404.42 613.63h0.8v0.8h-0.8zM402.34 602.05h0.8v0.8h-0.8zM404.06 608.41h0.8v0.8h-0.8zM406.97 613.72h0.8v0.8h-0.8zM397.22 605.91h0.8v0.8h-0.8zM403.1 607.29h0.8v0.8h-0.8zM405.15 609.61h0.8v0.8h-0.8zM401.95 604.92h0.8v0.8h-0.8zM408.69 610.41h0.8v0.8h-0.8zM402.49 601.95h0.8v0.8h-0.8zM400.67 607.57h0.8v0.8h-0.8zM405.13 606.34h0.8v0.8h-0.8zM409.6 602.2h0.8v0.8h-0.8zM405.41 611.05h0.8v0.8h-0.8zM394.86 604.14h0.8v0.8h-0.8zM398.99 610.03h0.8v0.8h-0.8zM400.59 601.65h0.8v0.8h-0.8zM400.26 601.88h0.8v0.8h-0.8zM388.32 607.94h0.8v0.8h-0.8zM405.6 606.67h0.8v0.8h-0.8zM400.19 608.9h0.8v0.8h-0.8zM409.34 610.69h0.8v0.8h-0.8zM405.4 610.19h0.8v0.8h-0.8zM404.68 611.31h0.8v0.8h-0.8zM402.84 610.88h0.8v0.8h-0.8zM397.64 605.12h0.8v0.8h-0.8zM401.61 603.79h0.8v0.8h-0.8zM407.4 602.11h0.8v0.8h-0.8zM407.99 601.32h0.8v0.8h-0.8zM407.62 607.88h0.8v0.8h-0.8zM406.24 604.91h0.8v0.8h-0.8zM404.41 613.04h0.8v0.8h-0.8zM404.06 607.62h0.8v0.8h-0.8zM407.24 605.73h0.8v0.8h-0.8zM406.32 607h0.8v0.8h-0.8zM403.73 608.22h0.8v0.8h-0.8zM394.65 607.67h0.8v0.8h-0.8zM394.93 607.94h0.8v0.8h-0.8zM386.95 605.15h0.8v0.8h-0.8zM406.37 613.37h0.8v0.8h-0.8zM403.77 611.13h0.8v0.8h-0.8zM405.83 606.65h0.8v0.8h-0.8zM400.94 610.41h0.8v0.8h-0.8zM391.8 608.47h0.8v0.8h-0.8zM391.4 608.44h0.8v0.8h-0.8zM404.15 613.08h0.8v0.8h-0.8zM408.29 603.8h0.8v0.8h-0.8zM401.03 604.74h0.8v0.8h-0.8zM392.29 605.4h0.8v0.8h-0.8zM400.55 608.2h0.8v0.8h-0.8zM411.02 608.02h0.8v0.8h-0.8zM405.64 606.41h0.8v0.8h-0.8zM406.13 607.28h0.8v0.8h-0.8zM406.61 607.67h0.8v0.8h-0.8zM391.75 608.67h0.8v0.8h-0.8zM409.43 603.51h0.8v0.8h-0.8zM396.57 607.56h0.8v0.8h-0.8zM400.23 608.08h0.8v0.8h-0.8zM394.48 609.93h0.8v0.8h-0.8zM406.11 605.92h0.8v0.8h-0.8zM403.54 608.68h0.8v0.8h-0.8zM408.56 602.91h0.8v0.8h-0.8zM408.65 607.1h0.8v0.8h-0.8zM403.17 605.37h0.8v0.8h-0.8zM408.04 603.08h0.8v0.8h-0.8zM406.12 602.78h0.8v0.8h-0.8zM406.3 605.98h0.8v0.8h-0.8zM405.59 606.06h0.8v0.8h-0.8zM405.07 606.79h0.8v0.8h-0.8zM395.83 607.1h0.8v0.8h-0.8zM407.67 608.87h0.8v0.8h-0.8zM399.74 609.83h0.8v0.8h-0.8zM395.84 606.16h0.8v0.8h-0.8zM398.08 609.68h0.8v0.8h-0.8zM404.85 609.41h0.8v0.8h-0.8zM405.52 608.44h0.8v0.8h-0.8zM405.61 605.74h0.8v0.8h-0.8zM402.46 606.74h0.8v0.8h-0.8zM396.1 610.05h0.8v0.8h-0.8zM398.3 606.39h0.8v0.8h-0.8zM404.64 605.56h0.8v0.8h-0.8zM402.87 608.24h0.8v0.8h-0.8zM402.02 604.77h0.8v0.8h-0.8zM386.72 605.28h0.8v0.8h-0.8zM394.24 610.79h0.8v0.8h-0.8zM394.41 609.02h0.8v0.8h-0.8zM405.28 604.98h0.8v0.8h-0.8zM398.55 609.19h0.8v0.8h-0.8zM392.62 605.94h0.8v0.8h-0.8zM401.05 604.65h0.8v0.8h-0.8zM408.55 611.26h0.8v0.8h-0.8zM403.41 609.81h0.8v0.8h-0.8zM403.37 604.24h0.8v0.8h-0.8zM397.74 609.76h0.8v0.8h-0.8zM408.46 614.17h0.8v0.8h-0.8zM402.25 607h0.8v0.8h-0.8zM405.88 606.19h0.8v0.8h-0.8zM405.92 607.47h0.8v0.8h-0.8zM404.56 605.96h0.8v0.8h-0.8zM399.11 602.65h0.8v0.8h-0.8zM409.15 606.79h0.8v0.8h-0.8zM407.94 609.29h0.8v0.8h-0.8zM389.46 606.98h0.8v0.8h-0.8zM394.85 606.55h0.8v0.8h-0.8zM400.64 606.08h0.8v0.8h-0.8zM410.17 601.93h0.8v0.8h-0.8zM394.78 607.46h0.8v0.8h-0.8zM403.99 609.02h0.8v0.8h-0.8zM398.49 607.17h0.8v0.8h-0.8zM398.39 610.28h0.8v0.8h-0.8zM405.07 608.68h0.8v0.8h-0.8zM406.78 605.28h0.8v0.8h-0.8zM391.02 608.73h0.8v0.8h-0.8zM409.15 605.34h0.8v0.8h-0.8zM387.75 606.76h0.8v0.8h-0.8zM400.28 611.84h0.8v0.8h-0.8zM401.53 608.39h0.8v0.8h-0.8zM406.39 607.26h0.8v0.8h-0.8zM407.03 604.34h0.8v0.8h-0.8zM391.45 607.83h0.8v0.8h-0.8zM404.23 607.55h0.8v0.8h-0.8zM392.83 612.29h0.8v0.8h-0.8zM400.61 605.98h0.8v0.8h-0.8z" fill="#000" fill-opacity="0.32"/>
<path d="M407.66 600.74h0.8v0.8h-0.8zM387.01 609.06h0.8v0.8h-0.8zM402.29 609.29h0.8v0.8h-0.8zM403.94 603.06h0.8v0.8h-0.8zM402.63 612.35h0.8v0.8h-0.8zM405.97 612.13h0.8v0.8h-0.8zM402.46 606.96h0.8v0.8h-0.8zM408.5 607.73h0.8v0.8h-0.8zM409.14 601.52h0.8v0.8h-0.8zM396.01 607.56h0.8v0.8h-0.8zM386.43 605.55h0.8v0.8h-0.8zM401.3 603.15h0.8v0.8h-0.8zM403.91 604.83h0.8v0.8h-0.8zM407.25 609.77h0.8v0.8h-0.8zM400.53 606.69h0.8v0.8h-0.8zM398.63 606.46h0.8v0.8h-0.8zM405.33 602.89h0.8v0.8h-0.8zM393.45 607.85h0.8v0.8h-0.8zM404.61 606.2h0.8v0.8h-0.8zM399.52 608.16h0.8v0.8h-0.8zM394.62 607.2h0.8v0.8h-0.8zM408.94 605.6h0.8v0.8h-0.8zM409.5 607.71h0.8v0.8h-0.8zM409.45 603.23h0.8v0.8h-0.8zM389.34 605.98h0.8v0.8h-0.8zM404.07 609.98h0.8v0.8h-0.8zM406.76 610.23h0.8v0.8h-0.8zM399.06 605.16h0.8v0.8h-0.8zM399.05 608.11h0.8v0.8h-0.8zM409.93 608.15h0.8v0.8h-0.8zM406.61 604.75h0.8v0.8h-0.8zM397.41 605.39h0.8v0.8h-0.8zM405.65 600.09h0.8v0.8h-0.8zM402.87 607.25h0.8v0.8h-0.8zM407.29 605.04h0.8v0.8h-0.8zM392.25 609.11h0.8v0.8h-0.8zM397.3 605.09h0.8v0.8h-0.8zM407.64 607.63h0.8v0.8h-0.8zM409.22 606.97h0.8v0.8h-0.8zM399.4 608.84h0.8v0.8h-0.8zM391.06 605.92h0.8v0.8h-0.8zM399.05 607.17h0.8v0.8h-0.8zM393.83 605.19h0.8v0.8h-0.8zM405.87 608.83h0.8v0.8h-0.8zM406.55 606.46h0.8v0.8h-0.8zM407.09 612.52h0.8v0.8h-0.8zM405.49 601.78h0.8v0.8h-0.8zM397.31 603.27h0.8v0.8h-0.8zM393.27 607.14h0.8v0.8h-0.8zM406.9 603.32h0.8v0.8h-0.8zM395 611.43h0.8v0.8h-0.8zM398.94 604.59h0.8v0.8h-0.8zM407.07 604.29h0.8v0.8h-0.8zM395.67 606.86h0.8v0.8h-0.8zM393.8 605.24h0.8v0.8h-0.8zM402.87 609.06h0.8v0.8h-0.8zM402.22 603.32h0.8v0.8h-0.8zM408.3 610.22h0.8v0.8h-0.8zM399.61 610.29h0.8v0.8h-0.8zM411.6 608.04h0.8v0.8h-0.8zM385.17 607.49h0.8v0.8h-0.8zM402.39 614.15h0.8v0.8h-0.8zM398.52 604.28h0.8v0.8h-0.8zM389.66 607.1h0.8v0.8h-0.8zM404.89 608.44h0.8v0.8h-0.8zM389.48 607.3h0.8v0.8h-0.8zM406.95 606.42h0.8v0.8h-0.8zM387.69 611.36h0.8v0.8h-0.8zM400.21 607.64h0.8v0.8h-0.8zM397.15 604.53h0.8v0.8h-0.8zM388.06 608.6h0.8v0.8h-0.8zM387.11 609.13h0.8v0.8h-0.8zM388.53 609.11h0.8v0.8h-0.8zM392.11 608.31h0.8v0.8h-0.8zM397.92 603.05h0.8v0.8h-0.8zM396.58 609.91h0.8v0.8h-0.8zM402.69 609.65h0.8v0.8h-0.8zM409.28 602.89h0.8v0.8h-0.8zM388.99 606.38h0.8v0.8h-0.8zM407.33 611.12h0.8v0.8h-0.8zM409.88 604.1h0.8v0.8h-0.8zM403.66 603.32h0.8v0.8h-0.8zM390.03 603.7h0.8v0.8h-0.8zM404.84 600.74h0.8v0.8h-0.8zM393.24 611.35h0.8v0.8h-0.8zM408.1 609.12h0.8v0.8h-0.8zM405.02 610.01h0.8v0.8h-0.8zM397.68 608.61h0.8v0.8h-0.8zM402.99 608.95h0.8v0.8h-0.8zM393.6 608.07h0.8v0.8h-0.8zM397.88 608.14h0.8v0.8h-0.8zM390.3 608.9h0.8v0.8h-0.8zM406.45 604.35h0.8v0.8h-0.8zM391.15 608.05h0.8v0.8h-0.8zM404.49 605.22h0.8v0.8h-0.8zM403.28 604.71h0.8v0.8h-0.8zM408.82 598.22h0.8v0.8h-0.8zM404.55 603.44h0.8v0.8h-0.8zM410.8 607.71h0.8v0.8h-0.8zM408.88 612.21h0.8v0.8h-0.8zM405.1 604.18h0.8v0.8h-0.8zM382.61 605.65h0.8v0.8h-0.8zM389 608.31h0.8v0.8h-0.8zM396.98 605.93h0.8v0.8h-0.8zM400.58 604.67h0.8v0.8h-0.8zM400.65 606.47h0.8v0.8h-0.8zM397.72 605.53h0.8v0.8h-0.8zM402.59 605.64h0.8v0.8h-0.8zM405.07 607.76h0.8v0.8h-0.8zM403.25 602.33h0.8v0.8h-0.8zM409.28 611.63h0.8v0.8h-0.8zM401.43 607.27h0.8v0.8h-0.8zM401.93 604.42h0.8v0.8h-0.8zM408.32 609.5h0.8v0.8h-0.8zM407.99 598.08h0.8v0.8h-0.8zM395.64 610.43h0.8v0.8h-0.8zM398.09 608.34h0.8v0.8h-0.8zM407.09 603.1h0.8v0.8h-0.8zM395.16 611.7h0.8v0.8h-0.8zM398.6 603.79h0.8v0.8h-0.8zM402.12 608.31h0.8v0.8h-0.8zM404.51 603.87h0.8v0.8h-0.8zM403.9 606.55h0.8v0.8h-0.8zM404.31 606.84h0.8v0.8h-0.8zM408.85 611.29h0.8v0.8h-0.8zM393.61 610.16h0.8v0.8h-0.8zM407.4 609.02h0.8v0.8h-0.8zM402 604.71h0.8v0.8h-0.8zM397.25 609.26h0.8v0.8h-0.8zM393.91 601.99h0.8v0.8h-0.8zM409.01 607.54h0.8v0.8h-0.8zM388.72 608.82h0.8v0.8h-0.8zM392.47 607.07h0.8v0.8h-0.8zM404.27 605.44h0.8v0.8h-0.8zM407.7 607.11h0.8v0.8h-0.8zM398.16 608.32h0.8v0.8h-0.8zM389.48 608.86h0.8v0.8h-0.8zM403.96 607.02h0.8v0.8h-0.8zM407.87 613.23h0.8v0.8h-0.8zM406.91 611.13h0.8v0.8h-0.8zM402.37 609.98h0.8v0.8h-0.8zM407.47 608.82h0.8v0.8h-0.8zM406.89 606.69h0.8v0.8h-0.8zM398.97 606.51h0.8v0.8h-0.8zM403.19 602.99h0.8v0.8h-0.8zM404.52 603.22h0.8v0.8h-0.8zM405.31 608.55h0.8v0.8h-0.8zM397.57 605.41h0.8v0.8h-0.8zM409.34 610.18h0.8v0.8h-0.8zM407.94 609.67h0.8v0.8h-0.8zM394.92 610.38h0.8v0.8h-0.8zM404.01 613.11h0.8v0.8h-0.8zM394.92 605.07h0.8v0.8h-0.8zM408.41 607.12h0.8v0.8h-0.8zM397.68 604.67h0.8v0.8h-0.8zM404.87 610.96h0.8v0.8h-0.8zM409.18 608.03h0.8v0.8h-0.8zM398.12 605.14h0.8v0.8h-0.8zM406.18 602.23h0.8v0.8h-0.8zM396.73 605.98h0.8v0.8h-0.8zM405.67 608.42h0.8v0.8h-0.8zM408.07 604.34h0.8v0.8h-0.8zM405.01 610.45h0.8v0.8h-0.8zM409.69 609.72h0.8v0.8h-0.8zM404.68 605.78h0.8v0.8h-0.8zM400.71 608.27h0.8v0.8h-0.8zM390.04 608h0.8v0.8h-0.8zM396.73 610.09h0.8v0.8h-0.8zM408.44 608.08h0.8v0.8h-0.8zM397.3 604.04h0.8v0.8h-0.8zM409.38 607.62h0.8v0.8h-0.8zM402.23 605.14h0.8v0.8h-0.8zM389.67 609.04h0.8v0.8h-0.8zM409.84 608.62h0.8v0.8h-0.8zM406.68 608.23h0.8v0.8h-0.8zM393.34 605.92h0.8v0.8h-0.8zM395.04 612.67h0.8v0.8h-0.8zM400.61 610.21h0.8v0.8h-0.8zM398.38 608h0.8v0.8h-0.8zM404.07 608.82h0.8v0.8h-0.8zM405.54 603.83h0.8v0.8h-0.8zM400.46 608.2h0.8v0.8h-0.8zM390.52 609.59h0.8v0.8h-0.8zM408.08 613.22h0.8v0.8h-0.8zM395.75 614.24h0.8v0.8h-0.8zM400.81 610.46h0.8v0.8h-0.8zM407.21 603.58h0.8v0.8h-0.8zM407.36 604.14h0.8v0.8h-0.8zM396.58 609.3h0.8v0.8h-0.8zM402.73 605.64h0.8v0.8h-0.8zM404.22 605.64h0.8v0.8h-0.8zM398.27 604.92h0.8v0.8h-0.8zM401.78 608.56h0.8v0.8h-0.8zM396.53 611.64h0.8v0.8h-0.8zM410.08 607.15h0.8v0.8h-0.8zM407.29 604.33h0.8v0.8h-0.8zM398.35 604.11h0.8v0.8h-0.8zM397.81 603.91h0.8v0.8h-0.8zM396.31 606.18h0.8v0.8h-0.8zM408.31 608.47h0.8v0.8h-0.8zM407.7 599.21h0.8v0.8h-0.8zM401.46 605.84h0.8v0.8h-0.8zM387.96 611.82h0.8v0.8h-0.8zM402.64 610.01h0.8v0.8h-0.8zM399.67 608.2h0.8v0.8h-0.8zM400.54 604.43h0.8v0.8h-0.8zM406.47 609.2h0.8v0.8h-0.8zM406.24 606.36h0.8v0.8h-0.8zM404.48 606.15h0.8v0.8h-0.8zM409.08 602.34h0.8v0.8h-0.8zM400.13 609.75h0.8v0.8h-0.8zM394.41 608.81h0.8v0.8h-0.8zM396.41 612.07h0.8v0.8h-0.8zM404.39 610.22h0.8v0.8h-0.8zM406.1 604.68h0.8v0.8h-0.8zM404.2 612.14h0.8v0.8h-0.8zM394.99 604.93h0.8v0.8h-0.8zM406.64 602.98h0.8v0.8h-0.8zM402.2 610.12h0.8v0.8h-0.8zM401.52 608.49h0.8v0.8h-0.8z" fill="#000" fill-opacity="0.32"/>
<path d="M410.04 609.58h0.8v0.8h-0.8zM408.68 601.61h0.8v0.8h-0.8zM400.54 602.11h0.8v0.8h-0.8zM398.7 603.24h0.8v0.8h-0.8zM393.29 608.94h0.8v0.8h-0.8zM409.4 603.56h0.8v0.8h-0.8zM400.52 607.87h0.8v0.8h-0.8zM408.75 604.76h0.8v0.8h-0.8zM398.97 608.86h0.8v0.8h-0.8zM396.7 602.18h0.8v0.8h-0.8zM407.21 604.12h0.8v0.8h-0.8zM401.77 608.42h0.8v0.8h-0.8zM408.36 601.81h0.8v0.8h-0.8zM403.27 609.49h0.8v0.8h-0.8zM406.26 602.55h0.8v0.8h-0.8zM399.95 606.78h0.8v0.8h-0.8zM406.85 605.69h0.8v0.8h-0.8zM410.48 609.52h0.8v0.8h-0.8zM403.68 611.6h0.8v0.8h-0.8zM392.71 605.7h0.8v0.8h-0.8zM406.18 611.55h0.8v0.8h-0.8zM388.36 606.02h0.8v0.8h-0.8zM407.85 604.14h0.8v0.8h-0.8zM408.27 607.22h0.8v0.8h-0.8zM393 611.02h0.8v0.8h-0.8zM401.58 607.16h0.8v0.8h-0.8zM391.44 607.73h0.8v0.8h-0.8zM399.23 608h0.8v0.8h-0.8zM406.63 608.97h0.8v0.8h-0.8zM403.06 604.56h0.8v0.8h-0.8zM407.43 608.9h0.8v0.8h-0.8zM389.92 607.99h0.8v0.8h-0.8zM402.27 599.71h0.8v0.8h-0.8zM404.19 610.97h0.8v0.8h-0.8zM409.29 604.54h0.8v0.8h-0.8zM402.36 607.71h0.8v0.8h-0.8zM396.02 602.88h0.8v0.8h-0.8zM393.02 608.31h0.8v0.8h-0.8zM387.73 606.99h0.8v0.8h-0.8zM400.58 603.18h0.8v0.8h-0.8zM405.81 606.87h0.8v0.8h-0.8zM407.98 610.78h0.8v0.8h-0.8zM403.83 599.76h0.8v0.8h-0.8zM390.8 611.49h0.8v0.8h-0.8zM410.54 606.11h0.8v0.8h-0.8zM405.19 609.8h0.8v0.8h-0.8zM402.8 606.11h0.8v0.8h-0.8zM406.31 608.29h0.8v0.8h-0.8zM402.05 605.87h0.8v0.8h-0.8zM394.71 606.55h0.8v0.8h-0.8zM405.69 610.57h0.8v0.8h-0.8zM409.87 609.73h0.8v0.8h-0.8zM397 607.81h0.8v0.8h-0.8zM395.45 609.34h0.8v0.8h-0.8zM398.27 606.48h0.8v0.8h-0.8zM392.77 607.8h0.8v0.8h-0.8zM405.92 614.89h0.8v0.8h-0.8zM408.49 611.93h0.8v0.8h-0.8zM402.16 606.14h0.8v0.8h-0.8zM389.18 609.34h0.8v0.8h-0.8zM397.23 607.47h0.8v0.8h-0.8zM408.76 611.3h0.8v0.8h-0.8zM402.45 608.4h0.8v0.8h-0.8zM399.47 607.22h0.8v0.8h-0.8zM400.26 603.34h0.8v0.8h-0.8zM403.39 606.81h0.8v0.8h-0.8zM405.67 601.15h0.8v0.8h-0.8zM394.68 609.13h0.8v0.8h-0.8zM406.04 602.14h0.8v0.8h-0.8zM406.04 605.05h0.8v0.8h-0.8zM387.08 607.92h0.8v0.8h-0.8zM407.84 608.59h0.8v0.8h-0.8zM401.22 609.45h0.8v0.8h-0.8zM409.66 603.78h0.8v0.8h-0.8zM395.76 612.91h0.8v0.8h-0.8zM402.09 607.36h0.8v0.8h-0.8zM402.14 606.52h0.8v0.8h-0.8zM399.31 611.16h0.8v0.8h-0.8zM397.99 604.78h0.8v0.8h-0.8zM406.89 604.61h0.8v0.8h-0.8zM400.17 607.41h0.8v0.8h-0.8zM407.28 607.07h0.8v0.8h-0.8zM400.56 607.27h0.8v0.8h-0.8zM390.43 608.26h0.8v0.8h-0.8zM404.51 603.58h0.8v0.8h-0.8zM395.11 605.39h0.8v0.8h-0.8zM403.13 609.11h0.8v0.8h-0.8zM395.27 607.1h0.8v0.8h-0.8zM399.49 607.9h0.8v0.8h-0.8zM405.82 610.26h0.8v0.8h-0.8zM398.21 610.81h0.8v0.8h-0.8zM407.46 611.83h0.8v0.8h-0.8zM396.23 612.79h0.8v0.8h-0.8zM409.84 608.34h0.8v0.8h-0.8zM403.98 605.39h0.8v0.8h-0.8zM397.53 603.68h0.8v0.8h-0.8zM391.47 609.08h0.8v0.8h-0.8zM391.22 606.67h0.8v0.8h-0.8zM403.43 607.83h0.8v0.8h-0.8zM386.49 606.64h0.8v0.8h-0.8zM397.58 608.63h0.8v0.8h-0.8zM403.36 609.9h0.8v0.8h-0.8zM395.1 608.77h0.8v0.8h-0.8zM404.16 601.79h0.8v0.8h-0.8zM389.79 607.92h0.8v0.8h-0.8zM394.65 609.62h0.8v0.8h-0.8zM387.73 608.9h0.8v0.8h-0.8zM390.74 609.63h0.8v0.8h-0.8zM405.2 607.68h0.8v0.8h-0.8zM394.06 606.82h0.8v0.8h-0.8zM402.13 610.51h0.8v0.8h-0.8zM403.77 608.95h0.8v0.8h-0.8zM389.85 607.87h0.8v0.8h-0.8zM405.83 603.98h0.8v0.8h-0.8zM406.31 605.89h0.8v0.8h-0.8zM400.81 607.57h0.8v0.8h-0.8zM397.02 611.99h0.8v0.8h-0.8zM398 606.95h0.8v0.8h-0.8zM405.22 604.31h0.8v0.8h-0.8zM409.91 606.14h0.8v0.8h-0.8zM398.38 608.53h0.8v0.8h-0.8zM408.7 602.9h0.8v0.8h-0.8zM401.97 603.16h0.8v0.8h-0.8zM397.26 603.85h0.8v0.8h-0.8zM386 611.86h0.8v0.8h-0.8zM406.59 604.84h0.8v0.8h-0.8zM408.68 604.86h0.8v0.8h-0.8zM409.33 607.36h0.8v0.8h-0.8zM390.32 605.13h0.8v0.8h-0.8zM402.47 605.83h0.8v0.8h-0.8zM400.12 603.06h0.8v0.8h-0.8zM408.54 603.61h0.8v0.8h-0.8zM400.04 607.32h0.8v0.8h-0.8zM385.42 607.6h0.8v0.8h-0.8zM406.94 604.42h0.8v0.8h-0.8zM407.05 610.15h0.8v0.8h-0.8zM397.31 605.92h0.8v0.8h-0.8zM396.19 606.34h0.8v0.8h-0.8zM395.71 603.99h0.8v0.8h-0.8zM397.3 602.93h0.8v0.8h-0.8zM405.11 603.47h0.8v0.8h-0.8zM396.94 605.65h0.8v0.8h-0.8zM409.44 609.38h0.8v0.8h-0.8zM402.5 606h0.8v0.8h-0.8zM389.42 606.81h0.8v0.8h-0.8zM389.61 613.47h0.8v0.8h-0.8zM406.7 612.19h0.8v0.8h-0.8zM391.25 610.45h0.8v0.8h-0.8zM405.2 605.8h0.8v0.8h-0.8zM409.28 605.81h0.8v0.8h-0.8zM398.95 612.14h0.8v0.8h-0.8zM398.22 609.55h0.8v0.8h-0.8zM404.57 606.67h0.8v0.8h-0.8zM397.53 606.4h0.8v0.8h-0.8zM402.8 605.92h0.8v0.8h-0.8zM398.92 607.22h0.8v0.8h-0.8zM395.5 608.41h0.8v0.8h-0.8zM410.14 608.1h0.8v0.8h-0.8zM401.1 601.84h0.8v0.8h-0.8zM397.51 601.9h0.8v0.8h-0.8zM402.32 609.05h0.8v0.8h-0.8zM389.83 605.63h0.8v0.8h-0.8zM403.94 608.07h0.8v0.8h-0.8zM407.42 608.75h0.8v0.8h-0.8zM408.81 605.53h0.8v0.8h-0.8zM394.84 607.31h0.8v0.8h-0.8zM390.48 605.92h0.8v0.8h-0.8zM403.62 606.95h0.8v0.8h-0.8zM388.47 607.7h0.8v0.8h-0.8zM392.45 608.51h0.8v0.8h-0.8zM402.87 606.79h0.8v0.8h-0.8zM398.19 606.12h0.8v0.8h-0.8zM392.99 602.03h0.8v0.8h-0.8zM409.04 608.13h0.8v0.8h-0.8zM407.28 604.85h0.8v0.8h-0.8zM395.28 610.03h0.8v0.8h-0.8zM398.2 608.17h0.8v0.8h-0.8zM410.26 606.51h0.8v0.8h-0.8zM402.41 610.87h0.8v0.8h-0.8zM400.65 607.11h0.8v0.8h-0.8zM395.13 610.42h0.8v0.8h-0.8zM400.42 605.27h0.8v0.8h-0.8zM409.25 610.06h0.8v0.8h-0.8zM396.11 609.8h0.8v0.8h-0.8zM396.21 606.23h0.8v0.8h-0.8zM402.88 609.99h0.8v0.8h-0.8zM410.28 607.36h0.8v0.8h-0.8zM400.7 609.71h0.8v0.8h-0.8zM405.28 602.7h0.8v0.8h-0.8zM402.67 609.94h0.8v0.8h-0.8zM396.08 605h0.8v0.8h-0.8zM406.53 603.69h0.8v0.8h-0.8zM399.76 610.41h0.8v0.8h-0.8zM406.78 606.26h0.8v0.8h-0.8zM395.16 601.52h0.8v0.8h-0.8zM387.54 604.8h0.8v0.8h-0.8zM390.59 609.16h0.8v0.8h-0.8zM391.01 606.9h0.8v0.8h-0.8zM401.73 606.37h0.8v0.8h-0.8zM408.82 609.54h0.8v0.8h-0.8zM396.96 611.43h0.8v0.8h-0.8zM405.8 608.24h0.8v0.8h-0.8zM409 603.77h0.8v0.8h-0.8zM409.88 607.92h0.8v0.8h-0.8zM403.61 610.01h0.8v0.8h-0.8zM400.38 607h0.8v0.8h-0.8zM407.29 605.29h0.8v0.8h-0.8zM390 605.43h0.8v0.8h-0.8zM394.1 607.39h0.8v0.8h-0.8zM398.17 605.97h0.8v0.8h-0.8zM404.82 608.92h0.8v0.8h-0.8zM401.93 604.85h0.8v0.8h-0.8zM395.09 612.22h0.8v0.8h-0.8zM408.5 604.17h0.8v0.8h-0.8zM401.68 606.37h0.8v0.8h-0.8zM400.3 608.89h0.8v0.8h-0.8zM391.52 609.38h0.8v0.8h-0.8zM404.24 604.71h0.8v0.8h-0.8zM400.59 604.31h0.8v0.8h-0.8zM402.24 603.88h0.8v0.8h-0.8z" fill="#000" fill-opacity="0.32"/>
<path d="M405.6 609.2h0.8v0.8h-0.8zM395.78 607.59h0.8v0.8h-0.8zM406.19 607.67h0.8v0.8h-0.8zM408.63 606.25h0.8v0.8h-0.8zM405.31 605.72h0.8v0.8h-0.8zM397.53 608.91h0.8v0.8h-0.8zM399.14 610.09h0.8v0.8h-0.8zM395.73 611.53h0.8v0.8h-0.8zM407.08 603.25h0.8v0.8h-0.8zM392.66 607.29h0.8v0.8h-0.8zM390.65 606.97h0.8v0.8h-0.8zM408 605.85h0.8v0.8h-0.8zM405.74 605.49h0.8v0.8h-0.8zM404.52 605.83h0.8v0.8h-0.8zM395.42 605.83h0.8v0.8h-0.8zM409.48 609.71h0.8v0.8h-0.8zM408.47 602.14h0.8v0.8h-0.8zM403.18 608.49h0.8v0.8h-0.8zM398.29 608.77h0.8v0.8h-0.8zM409.49 609.14h0.8v0.8h-0.8zM408.63 605.9h0.8v0.8h-0.8zM401.27 602.48h0.8v0.8h-0.8zM395.63 606.11h0.8v0.8h-0.8zM400.4 604.21h0.8v0.8h-0.8zM400.23 606.9h0.8v0.8h-0.8zM399.63 604.15h0.8v0.8h-0.8zM402.35 604.92h0.8v0.8h-0.8zM405.24 605.16h0.8v0.8h-0.8zM408.31 606.75h0.8v0.8h-0.8zM393.65 607.76h0.8v0.8h-0.8zM391.48 604.67h0.8v0.8h-0.8zM385.74 607.98h0.8v0.8h-0.8zM409.85 613.95h0.8v0.8h-0.8zM408.29 601.45h0.8v0.8h-0.8zM399.93 608.82h0.8v0.8h-0.8zM397.59 608.33h0.8v0.8h-0.8zM404.01 613.31h0.8v0.8h-0.8zM386.97 609.89h0.8v0.8h-0.8zM405.16 604.45h0.8v0.8h-0.8zM395.54 610.92h0.8v0.8h-0.8zM390.05 608.42h0.8v0.8h-0.8zM408.26 606.52h0.8v0.8h-0.8zM404.18 605.02h0.8v0.8h-0.8zM402.96 606.77h0.8v0.8h-0.8zM407.42 605.89h0.8v0.8h-0.8zM386.65 604.87h0.8v0.8h-0.8zM405.99 612.55h0.8v0.8h-0.8zM402.01 613.96h0.8v0.8h-0.8zM396.01 609.44h0.8v0.8h-0.8zM408.07 609.89h0.8v0.8h-0.8zM389.94 604.03h0.8v0.8h-0.8zM394.3 608.36h0.8v0.8h-0.8zM406.17 608.13h0.8v0.8h-0.8zM407.23 614.24h0.8v0.8h-0.8zM406.38 607.41h0.8v0.8h-0.8zM404.67 602.19h0.8v0.8h-0.8zM397.43 605.76h0.8v0.8h-0.8zM399.59 612.07h0.8v0.8h-0.8zM406.25 606.41h0.8v0.8h-0.8zM401.88 604.26h0.8v0.8h-0.8zM391.98 604.48h0.8v0.8h-0.8zM397.17 605.57h0.8v0.8h-0.8zM408.6 603.41h0.8v0.8h-0.8zM399.83 609.73h0.8v0.8h-0.8zM405.81 607.49h0.8v0.8h-0.8zM395.98 608.86h0.8v0.8h-0.8zM408.91 606.43h0.8v0.8h-0.8zM410.22 605.28h0.8v0.8h-0.8zM392.81 609.12h0.8v0.8h-0.8zM406.07 610.5h0.8v0.8h-0.8zM408.09 604.85h0.8v0.8h-0.8zM390.5 608.58h0.8v0.8h-0.8zM393.2 611.26h0.8v0.8h-0.8zM405.1 601.97h0.8v0.8h-0.8zM410.47 606.09h0.8v0.8h-0.8zM404.75 608.82h0.8v0.8h-0.8zM398.42 607.82h0.8v0.8h-0.8zM408.99 608.46h0.8v0.8h-0.8zM406.26 604.05h0.8v0.8h-0.8zM404.26 606.34h0.8v0.8h-0.8zM409.72 598.51h0.8v0.8h-0.8zM404.41 606.79h0.8v0.8h-0.8zM397.04 611.61h0.8v0.8h-0.8zM405.83 605.43h0.8v0.8h-0.8zM408.83 603.75h0.8v0.8h-0.8zM409.78 604.88h0.8v0.8h-0.8zM397.79 609.63h0.8v0.8h-0.8zM405.44 613.16h0.8v0.8h-0.8zM408.82 606.64h0.8v0.8h-0.8zM405.3 607.96h0.8v0.8h-0.8zM396.27 607.07h0.8v0.8h-0.8zM393.51 610.73h0.8v0.8h-0.8zM404.99 604.19h0.8v0.8h-0.8zM399.67 608.58h0.8v0.8h-0.8zM403.3 603.99h0.8v0.8h-0.8zM395.29 606.61h0.8v0.8h-0.8zM401.85 610.73h0.8v0.8h-0.8zM400.31 610.55h0.8v0.8h-0.8zM399.89 606.81h0.8v0.8h-0.8zM394.75 609.8h0.8v0.8h-0.8zM402.84 604.46h0.8v0.8h-0.8zM402.65 607.88h0.8v0.8h-0.8zM393.27 607.83h0.8v0.8h-0.8zM403.82 608.65h0.8v0.8h-0.8zM393.67 615.42h0.8v0.8h-0.8zM399.85 606.13h0.8v0.8h-0.8zM400.31 607.73h0.8v0.8h-0.8zM392.39 611.92h0.8v0.8h-0.8zM393.96 608.43h0.8v0.8h-0.8zM408.32 608.52h0.8v0.8h-0.8zM393.97 608.51h0.8v0.8h-0.8zM406.57 606.01h0.8v0.8h-0.8zM397.56 606.97h0.8v0.8h-0.8zM406.99 605.21h0.8v0.8h-0.8zM397.49 607.34h0.8v0.8h-0.8zM398.44 607.29h0.8v0.8h-0.8zM393.33 605.61h0.8v0.8h-0.8zM396.2 607.11h0.8v0.8h-0.8zM403.98 609.9h0.8v0.8h-0.8zM399.22 606.64h0.8v0.8h-0.8zM409.28 604.02h0.8v0.8h-0.8zM402.5 605.93h0.8v0.8h-0.8zM398.47 607.61h0.8v0.8h-0.8zM402.52 605.38h0.8v0.8h-0.8zM402.42 606.92h0.8v0.8h-0.8zM399.31 604.89h0.8v0.8h-0.8zM406.63 611.77h0.8v0.8h-0.8zM405.19 607.82h0.8v0.8h-0.8zM401.39 609.43h0.8v0.8h-0.8zM406.91 608.41h0.8v0.8h-0.8zM396.8 609.47h0.8v0.8h-0.8zM406.88 598.3h0.8v0.8h-0.8zM407.14 602.05h0.8v0.8h-0.8zM400.99 604.71h0.8v0.8h-0.8zM392.36 605.09h0.8v0.8h-0.8zM399.81 605.93h0.8v0.8h-0.8zM405.73 604.59h0.8v0.8h-0.8zM398.8 605.5h0.8v0.8h-0.8zM408.89 605.03h0.8v0.8h-0.8zM401.74 607.36h0.8v0.8h-0.8zM399.02 605.59h0.8v0.8h-0.8zM406.4 609.24h0.8v0.8h-0.8zM407.92 606.31h0.8v0.8h-0.8zM392.51 604.73h0.8v0.8h-0.8zM399.59 607.76h0.8v0.8h-0.8zM395.94 610.58h0.8v0.8h-0.8zM409.9 600.21h0.8v0.8h-0.8zM406.47 611.02h0.8v0.8h-0.8zM395.94 606.69h0.8v0.8h-0.8zM401.75 608.94h0.8v0.8h-0.8zM406.11 606.76h0.8v0.8h-0.8zM394.5 606.13h0.8v0.8h-0.8zM406.44 612.67h0.8v0.8h-0.8zM408.97 603.76h0.8v0.8h-0.8zM406.26 610.08h0.8v0.8h-0.8zM410.54 606.84h0.8v0.8h-0.8zM406.06 610.27h0.8v0.8h-0.8zM408.29 605.88h0.8v0.8h-0.8zM393.07 607.15h0.8v0.8h-0.8zM399.14 604.58h0.8v0.8h-0.8zM405.5 609.36h0.8v0.8h-0.8zM406.04 605.75h0.8v0.8h-0.8zM395.93 606.75h0.8v0.8h-0.8zM409.7 613.34h0.8v0.8h-0.8zM393.78 604.39h0.8v0.8h-0.8zM391.69 608.04h0.8v0.8h-0.8zM393.7 609.1h0.8v0.8h-0.8zM400.68 609.86h0.8v0.8h-0.8zM401.08 608.45h0.8v0.8h-0.8zM397.68 608.43h0.8v0.8h-0.8zM402.98 613.5h0.8v0.8h-0.8zM385.64 609.92h0.8v0.8h-0.8zM408.09 605.21h0.8v0.8h-0.8zM406.39 605.47h0.8v0.8h-0.8zM408.45 607.9h0.8v0.8h-0.8zM387.6 607.65h0.8v0.8h-0.8zM394.83 608.23h0.8v0.8h-0.8zM404.27 607.8h0.8v0.8h-0.8zM401.96 605.42h0.8v0.8h-0.8zM400.8 609.35h0.8v0.8h-0.8zM388.41 606.42h0.8v0.8h-0.8zM407.98 602.64h0.8v0.8h-0.8zM400.26 606.7h0.8v0.8h-0.8zM400.6 607.45h0.8v0.8h-0.8zM405.71 607.66h0.8v0.8h-0.8zM397.98 608.3h0.8v0.8h-0.8zM407.39 606.6h0.8v0.8h-0.8zM407.63 611.54h0.8v0.8h-0.8zM407.37 609.41h0.8v0.8h-0.8zM401.29 607.41h0.8v0.8h-0.8zM397.28 604.76h0.8v0.8h-0.8zM405.96 608.55h0.8v0.8h-0.8zM396.04 605.22h0.8v0.8h-0.8zM393.32 603.89h0.8v0.8h-0.8zM406.84 603.69h0.8v0.8h-0.8zM406.68 606.52h0.8v0.8h-0.8zM402.71 605.16h0.8v0.8h-0.8zM401.03 608.36h0.8v0.8h-0.8zM398.89 603.53h0.8v0.8h-0.8zM398.81 602.11h0.8v0.8h-0.8zM407.27 613.31h0.8v0.8h-0.8zM385.95 608.28h0.8v0.8h-0.8zM402.38 612.56h0.8v0.8h-0.8zM399.32 609.16h0.8v0.8h-0.8zM405.98 609.17h0.8v0.8h-0.8zM404.18 615.29h0.8v0.8h-0.8zM402.49 610.13h0.8v0.8h-0.8zM395.37 602.78h0.8v0.8h-0.8zM395.42 607.02h0.8v0.8h-0.8zM393.39 609.41h0.8v0.8h-0.8zM392.08 604.6h0.8v0.8h-0.8zM397.52 601.72h0.8v0.8h-0.8zM404.98 602.2h0.8v0.8h-0.8zM402.64 612.5h0.8v0.8h-0.8zM405.46 606.01h0.8v0.8h-0.8zM395.09 607.12h0.8v0.8h-0.8zM398.15 604.57h0.8v0.8h-0.8zM397.93 613.22h0.8v0.8h-0.8zM388.79 607.23h0.8v0.8h-0.8zM407 607.69h0.8v0.8h-0.8z" fill="#000" fill-opacity="0.32"/>
<path d="M396.93 603.72h0.8v0.8h-0.8zM391.72 608.3h0.8v0.8h-0.8zM408.97 605.95h0.8v0.8h-0.8zM404.63 609.34h0.8v0.8h-0.8zM407.6 610.2h0.8v0.8h-0.8zM411.64 609.31h0.8v0.8h-0.8zM409.72 614.72h0.8v0.8h-0.8zM401.54 603.39h0.8v0.8h-0.8zM403.2 610.06h0.8v0.8h-0.8zM408.39 605.04h0.8v0.8h-0.8zM392.28 607.34h0.8v0.8h-0.8zM409.63 602.61h0.8v0.8h-0.8zM409.17 606.04h0.8v0.8h-0.8zM395.91 605.1h0.8v0.8h-0.8zM401.29 610.19h0.8v0.8h-0.8zM405.34 604.25h0.8v0.8h-0.8zM391.81 607.24h0.8v0.8h-0.8zM404.63 610.92h0.8v0.8h-0.8zM397.08 608.9h0.8v0.8h-0.8zM408.23 604.44h0.8v0.8h-0.8zM408.3 609.19h0.8v0.8h-0.8zM397.87 606.91h0.8v0.8h-0.8zM398.99 604.91h0.8v0.8h-0.8zM387.56 608.48h0.8v0.8h-0.8zM397.28 610.14h0.8v0.8h-0.8zM408.16 603.59h0.8v0.8h-0.8zM404.65 603.79h0.8v0.8h-0.8zM396.58 606.71h0.8v0.8h-0.8zM394.15 608.6h0.8v0.8h-0.8zM403.44 605.71h0.8v0.8h-0.8zM401.31 607.58h0.8v0.8h-0.8zM392.09 608.91h0.8v0.8h-0.8zM404.42 603.34h0.8v0.8h-0.8zM390.49 604.16h0.8v0.8h-0.8zM393.68 608.19h0.8v0.8h-0.8zM408.67 605.87h0.8v0.8h-0.8zM408.14 604.44h0.8v0.8h-0.8zM409.77 608.89h0.8v0.8h-0.8zM409.91 605.39h0.8v0.8h-0.8zM409.23 608.59h0.8v0.8h-0.8zM393.78 610.21h0.8v0.8h-0.8zM399.01 609.91h0.8v0.8h-0.8zM394.14 607.21h0.8v0.8h-0.8zM403.74 608.61h0.8v0.8h-0.8zM402.56 607.16h0.8v0.8h-0.8zM401.97 607.22h0.8v0.8h-0.8zM408.25 603.47h0.8v0.8h-0.8zM404 608.51h0.8v0.8h-0.8zM401.36 611.79h0.8v0.8h-0.8zM405.63 607.25h0.8v0.8h-0.8zM393.72 609.05h0.8v0.8h-0.8zM401.22 607.13h0.8v0.8h-0.8zM403.77 608.91h0.8v0.8h-0.8zM393.21 605.39h0.8v0.8h-0.8zM408.98 608.92h0.8v0.8h-0.8zM404.95 607.24h0.8v0.8h-0.8zM398.42 606.97h0.8v0.8h-0.8zM408.66 609.67h0.8v0.8h-0.8zM401.17 606.47h0.8v0.8h-0.8zM408.16 607.06h0.8v0.8h-0.8zM397.42 606.28h0.8v0.8h-0.8zM394.55 608.52h0.8v0.8h-0.8zM400.86 609.26h0.8v0.8h-0.8zM400.75 608.34h0.8v0.8h-0.8zM407.23 609.47h0.8v0.8h-0.8zM401.22 606.1h0.8v0.8h-0.8zM400.71 609.45h0.8v0.8h-0.8zM400.15 609.18h0.8v0.8h-0.8zM398.86 608.12h0.8v0.8h-0.8zM395.72 608.79h0.8v0.8h-0.8zM397.22 606.74h0.8v0.8h-0.8zM407.82 605.71h0.8v0.8h-0.8zM402.1 606.87h0.8v0.8h-0.8zM394.34 604.45h0.8v0.8h-0.8zM400.2 610.1h0.8v0.8h-0.8zM409.57 606.79h0.8v0.8h-0.8zM387.53 609.67h0.8v0.8h-0.8zM409.69 600.59h0.8v0.8h-0.8zM400.8 607.53h0.8v0.8h-0.8zM401.44 608.34h0.8v0.8h-0.8zM404.5 607.3h0.8v0.8h-0.8zM405.81 606.33h0.8v0.8h-0.8zM409.55 606.48h0.8v0.8h-0.8zM400.61 606.9h0.8v0.8h-0.8zM397.9 611h0.8v0.8h-0.8zM400.75 615.44h0.8v0.8h-0.8zM407.62 607.54h0.8v0.8h-0.8zM404.66 607.63h0.8v0.8h-0.8zM394.09 607.22h0.8v0.8h-0.8zM407.77 607.71h0.8v0.8h-0.8zM402.14 608.16h0.8v0.8h-0.8zM405.97 605.09h0.8v0.8h-0.8zM398.41 607.24h0.8v0.8h-0.8zM397.51 609.02h0.8v0.8h-0.8zM396.8 606.47h0.8v0.8h-0.8zM392.26 607.13h0.8v0.8h-0.8zM399.39 609.08h0.8v0.8h-0.8zM394.7 607.07h0.8v0.8h-0.8zM395.81 605.13h0.8v0.8h-0.8zM387.38 606.67h0.8v0.8h-0.8zM399.05 606.87h0.8v0.8h-0.8zM408.44 605.33h0.8v0.8h-0.8zM408.32 608.45h0.8v0.8h-0.8zM396.75 607.54h0.8v0.8h-0.8zM395.35 604.29h0.8v0.8h-0.8zM408.55 604.89h0.8v0.8h-0.8zM404.99 610.27h0.8v0.8h-0.8zM399.34 604.27h0.8v0.8h-0.8zM406.41 605.39h0.8v0.8h-0.8zM397.39 604.02h0.8v0.8h-0.8zM405.79 609.83h0.8v0.8h-0.8zM406.54 605.83h0.8v0.8h-0.8zM393.98 606.88h0.8v0.8h-0.8zM395.3 606.97h0.8v0.8h-0.8zM393.42 607.01h0.8v0.8h-0.8zM397.88 608.6h0.8v0.8h-0.8zM409.07 608.09h0.8v0.8h-0.8zM403.05 607.75h0.8v0.8h-0.8zM395.29 609.67h0.8v0.8h-0.8zM401.49 606.47h0.8v0.8h-0.8zM408.29 606.99h0.8v0.8h-0.8zM407.77 603.58h0.8v0.8h-0.8zM388.12 607.04h0.8v0.8h-0.8zM408.91 610.88h0.8v0.8h-0.8zM409.3 604.35h0.8v0.8h-0.8zM399.87 606.53h0.8v0.8h-0.8zM406.5 606.5h0.8v0.8h-0.8zM408.54 599.92h0.8v0.8h-0.8zM409.82 605.6h0.8v0.8h-0.8zM390.55 608.13h0.8v0.8h-0.8zM397.24 602.7h0.8v0.8h-0.8zM400.92 607.99h0.8v0.8h-0.8zM399.5 607.47h0.8v0.8h-0.8zM407.23 608.99h0.8v0.8h-0.8zM409.96 606.07h0.8v0.8h-0.8zM400.23 607.5h0.8v0.8h-0.8zM400.18 611.18h0.8v0.8h-0.8zM396.26 611.6h0.8v0.8h-0.8zM407.02 602.93h0.8v0.8h-0.8zM397.75 607.44h0.8v0.8h-0.8zM400.37 607.82h0.8v0.8h-0.8zM403.48 608.05h0.8v0.8h-0.8zM392.6 608.33h0.8v0.8h-0.8zM404.93 601.07h0.8v0.8h-0.8zM397.24 604.67h0.8v0.8h-0.8zM394.9 610.11h0.8v0.8h-0.8zM390.98 607.09h0.8v0.8h-0.8zM392.88 608.45h0.8v0.8h-0.8zM398.56 606.79h0.8v0.8h-0.8zM404.2 603.88h0.8v0.8h-0.8zM392.26 608.41h0.8v0.8h-0.8zM392.75 606.03h0.8v0.8h-0.8zM396.73 608.24h0.8v0.8h-0.8zM402.06 604.11h0.8v0.8h-0.8zM404.56 613.42h0.8v0.8h-0.8zM407.11 607.85h0.8v0.8h-0.8zM404 604.93h0.8v0.8h-0.8zM408.22 606.33h0.8v0.8h-0.8zM402.99 608.84h0.8v0.8h-0.8zM400.1 604.31h0.8v0.8h-0.8zM404.86 607.46h0.8v0.8h-0.8zM406.85 607.08h0.8v0.8h-0.8zM394.38 604.97h0.8v0.8h-0.8zM388.24 606.73h0.8v0.8h-0.8zM401.78 604.18h0.8v0.8h-0.8zM408.16 608.06h0.8v0.8h-0.8zM397.9 607.49h0.8v0.8h-0.8zM406.82 603.92h0.8v0.8h-0.8zM385.04 610.83h0.8v0.8h-0.8zM398.05 607.74h0.8v0.8h-0.8zM403.47 610.21h0.8v0.8h-0.8zM401.25 608.83h0.8v0.8h-0.8zM404.13 609.24h0.8v0.8h-0.8zM404.57 603.01h0.8v0.8h-0.8zM400.9 605.8h0.8v0.8h-0.8zM396.76 609.55h0.8v0.8h-0.8zM394.39 605.78h0.8v0.8h-0.8zM408.89 603.49h0.8v0.8h-0.8zM398.11 607.44h0.8v0.8h-0.8zM383.39 605.7h0.8v0.8h-0.8zM406.11 605.56h0.8v0.8h-0.8zM405.96 606.59h0.8v0.8h-0.8zM409.61 608.19h0.8v0.8h-0.8zM404.12 609.26h0.8v0.8h-0.8zM395.29 610.48h0.8v0.8h-0.8zM407.22 608.69h0.8v0.8h-0.8zM404.89 606.78h0.8v0.8h-0.8zM395.83 609.64h0.8v0.8h-0.8zM396.7 607.73h0.8v0.8h-0.8zM401.59 607.66h0.8v0.8h-0.8zM405.47 605.82h0.8v0.8h-0.8zM403.13 602.38h0.8v0.8h-0.8zM402.33 608.38h0.8v0.8h-0.8zM394.23 606.76h0.8v0.8h-0.8zM402.09 607.38h0.8v0.8h-0.8zM404.48 607.03h0.8v0.8h-0.8zM405.05 605.5h0.8v0.8h-0.8zM407.4 604.74h0.8v0.8h-0.8zM391.9 606.61h0.8v0.8h-0.8zM395.1 608.92h0.8v0.8h-0.8zM391.49 604.99h0.8v0.8h-0.8zM406.64 614.34h0.8v0.8h-0.8zM405.46 603.71h0.8v0.8h-0.8zM408.01 611.07h0.8v0.8h-0.8zM407.18 601.66h0.8v0.8h-0.8zM399.35 603.69h0.8v0.8h-0.8zM395.83 607.61h0.8v0.8h-0.8zM405.85 603.91h0.8v0.8h-0.8zM402.47 608.5h0.8v0.8h-0.8zM405.77 604.06h0.8v0.8h-0.8zM404.95 605.26h0.8v0.8h-0.8zM408.66 608.65h0.8v0.8h-0.8zM399.61 611.83h0.8v0.8h-0.8zM393.91 609.13h0.8v0.8h-0.8zM403.36 607.2h0.8v0.8h-0.8zM401.03 607.15h0.8v0.8h-0.8zM388.11 605h0.8v0.8h-0.8zM410.64 610.69h0.8v0.8h-0.8zM404.7 609.22h0.8v0.8h-0.8zM393.35 605.98h0.8v0.8h-0.8z" fill="#000" fill-opacity="0.32"/>
<path d="M407.42 613.89h0.8v0.8h-0.8zM402.03 604.13h0.8v0.8h-0.8zM399.92 608.01h0.8v0.8h-0.8zM402.81 608.77h0.8v0.8h-0.8zM384.92 607.44h0.8v0.8h-0.8zM405.62 605.45h0.8v0.8h-0.8zM386.32 611.53h0.8v0.8h-0.8zM404.59 612.33h0.8v0.8h-0.8zM408.27 603.79h0.8v0.8h-0.8zM407.02 601.89h0.8v0.8h-0.8zM398.69 604.33h0.8v0.8h-0.8zM403.05 610.59h0.8v0.8h-0.8zM399.54 608.59h0.8v0.8h-0.8zM404.43 603.93h0.8v0.8h-0.8zM404.76 607.75h0.8v0.8h-0.8zM404.5 607.36h0.8v0.8h-0.8zM408.24 601.94h0.8v0.8h-0.8zM387.69 606.34h0.8v0.8h-0.8zM403.65 603.12h0.8v0.8h-0.8zM407.94 607.51h0.8v0.8h-0.8zM410.06 604.84h0.8v0.8h-0.8zM408.4 607.06h0.8v0.8h-0.8zM406.85 608.63h0.8v0.8h-0.8zM407.58 606.91h0.8v0.8h-0.8zM395.01 608.68h0.8v0.8h-0.8zM401.96 610.5h0.8v0.8h-0.8zM394.08 603.12h0.8v0.8h-0.8zM407.16 606.22h0.8v0.8h-0.8zM405.45 611.42h0.8v0.8h-0.8zM410.45 605.51h0.8v0.8h-0.8zM407 604.55h0.8v0.8h-0.8zM400.4 604.79h0.8v0.8h-0.8zM408.31 601.58h0.8v0.8h-0.8zM402.4 604.88h0.8v0.8h-0.8zM404.89 609.12h0.8v0.8h-0.8zM398.59 606h0.8v0.8h-0.8zM395.98 606.33h0.8v0.8h-0.8zM402.63 607.24h0.8v0.8h-0.8zM386.24 609.47h0.8v0.8h-0.8zM393.7 610.31h0.8v0.8h-0.8zM400.06 607.73h0.8v0.8h-0.8zM392.04 607.53h0.8v0.8h-0.8zM408.53 605.09h0.8v0.8h-0.8zM399.84 610.01h0.8v0.8h-0.8zM409.68 604.11h0.8v0.8h-0.8zM402.33 601.97h0.8v0.8h-0.8zM403.01 610.11h0.8v0.8h-0.8zM394.1 608.16h0.8v0.8h-0.8zM409.8 613.96h0.8v0.8h-0.8zM405.25 608.07h0.8v0.8h-0.8zM398.99 608.72h0.8v0.8h-0.8zM396.86 608.33h0.8v0.8h-0.8zM401.32 607.77h0.8v0.8h-0.8zM399.06 611.76h0.8v0.8h-0.8zM408.98 612.72h0.8v0.8h-0.8zM400.59 609.13h0.8v0.8h-0.8zM397.19 608.07h0.8v0.8h-0.8zM408.27 604.55h0.8v0.8h-0.8zM397.21 608.16h0.8v0.8h-0.8zM394.94 609.18h0.8v0.8h-0.8zM404.11 608.78h0.8v0.8h-0.8zM409.34 603.47h0.8v0.8h-0.8zM394.43 611.45h0.8v0.8h-0.8zM398.38 607.94h0.8v0.8h-0.8zM388.12 606.36h0.8v0.8h-0.8zM397.35 608.08h0.8v0.8h-0.8zM403.93 610.45h0.8v0.8h-0.8zM407.09 610.54h0.8v0.8h-0.8zM404.39 607.21h0.8v0.8h-0.8zM390.01 605.42h0.8v0.8h-0.8zM401.19 607h0.8v0.8h-0.8zM409.81 603.73h0.8v0.8h-0.8zM403.06 607.79h0.8v0.8h-0.8zM406.45 607.99h0.8v0.8h-0.8zM404.5 612.49h0.8v0.8h-0.8zM390.95 610.68h0.8v0.8h-0.8zM402.47 609.53h0.8v0.8h-0.8zM405.74 605.85h0.8v0.8h-0.8zM409.34 607.79h0.8v0.8h-0.8zM407.65 607.98h0.8v0.8h-0.8zM391.63 607.73h0.8v0.8h-0.8zM403.52 607.9h0.8v0.8h-0.8zM406.62 602.36h0.8v0.8h-0.8zM407.02 610.75h0.8v0.8h-0.8zM399.52 602.58h0.8v0.8h-0.8zM405.38 611.99h0.8v0.8h-0.8zM407.21 606.7h0.8v0.8h-0.8zM396.7 611.33h0.8v0.8h-0.8zM406.49 605.68h0.8v0.8h-0.8zM407.5 610.22h0.8v0.8h-0.8zM388.31 608.33h0.8v0.8h-0.8zM402.55 609.67h0.8v0.8h-0.8zM409.37 604.87h0.8v0.8h-0.8zM388.92 608.34h0.8v0.8h-0.8zM389.03 607.03h0.8v0.8h-0.8zM404.15 604.86h0.8v0.8h-0.8zM403.37 603.92h0.8v0.8h-0.8zM400.37 605.05h0.8v0.8h-0.8zM398.13 612.9h0.8v0.8h-0.8zM393.96 600.82h0.8v0.8h-0.8zM407.29 606.37h0.8v0.8h-0.8zM401.06 610.12h0.8v0.8h-0.8zM394.16 611.3h0.8v0.8h-0.8zM408.14 608.42h0.8v0.8h-0.8zM388.82 608.61h0.8v0.8h-0.8zM389.58 608.55h0.8v0.8h-0.8zM404.14 606.88h0.8v0.8h-0.8zM394.09 605.79h0.8v0.8h-0.8zM386.33 606.25h0.8v0.8h-0.8zM405.54 603.33h0.8v0.8h-0.8zM408.25 602.72h0.8v0.8h-0.8zM407.42 608.55h0.8v0.8h-0.8zM408.77 607.85h0.8v0.8h-0.8zM395.57 603.01h0.8v0.8h-0.8zM405 606.98h0.8v0.8h-0.8zM408.88 607.59h0.8v0.8h-0.8zM404.27 609.39h0.8v0.8h-0.8zM408.73 609.41h0.8v0.8h-0.8zM404.17 605.47h0.8v0.8h-0.8zM410.45 606.32h0.8v0.8h-0.8zM407.15 603.69h0.8v0.8h-0.8zM393.96 602.35h0.8v0.8h-0.8zM405.18 607.13h0.8v0.8h-0.8zM404.38 604.3h0.8v0.8h-0.8zM388.87 607.3h0.8v0.8h-0.8zM409.7 604.28h0.8v0.8h-0.8zM390.6 604.77h0.8v0.8h-0.8zM405.54 603.03h0.8v0.8h-0.8zM396.75 607.97h0.8v0.8h-0.8zM403.24 608.95h0.8v0.8h-0.8zM404.5 611.04h0.8v0.8h-0.8zM399.84 609.2h0.8v0.8h-0.8zM398.86 613.8h0.8v0.8h-0.8zM404.7 608.74h0.8v0.8h-0.8zM397.69 607.16h0.8v0.8h-0.8zM391.24 612.3h0.8v0.8h-0.8zM404.33 609.06h0.8v0.8h-0.8zM406.71 609.05h0.8v0.8h-0.8zM401.16 609.43h0.8v0.8h-0.8zM401.79 606.01h0.8v0.8h-0.8zM386.66 607.4h0.8v0.8h-0.8zM402.14 602.67h0.8v0.8h-0.8zM405.44 608.6h0.8v0.8h-0.8zM399.17 603.75h0.8v0.8h-0.8zM407.81 601.14h0.8v0.8h-0.8zM388.94 605.46h0.8v0.8h-0.8zM402.93 601.66h0.8v0.8h-0.8zM387.37 606.98h0.8v0.8h-0.8zM408.84 609.51h0.8v0.8h-0.8zM391.91 606.64h0.8v0.8h-0.8zM396.13 608.66h0.8v0.8h-0.8zM393.85 605.77h0.8v0.8h-0.8zM394.03 601.17h0.8v0.8h-0.8zM392.09 607.44h0.8v0.8h-0.8zM408.66 606.87h0.8v0.8h-0.8zM401.54 612.96h0.8v0.8h-0.8zM401.37 607.56h0.8v0.8h-0.8zM398.98 604.06h0.8v0.8h-0.8zM404.58 600.61h0.8v0.8h-0.8zM408.24 610.13h0.8v0.8h-0.8zM409.81 605.33h0.8v0.8h-0.8zM404.7 604.73h0.8v0.8h-0.8zM402.42 604.27h0.8v0.8h-0.8zM404.31 605.53h0.8v0.8h-0.8zM390.65 611.51h0.8v0.8h-0.8zM386.93 612.38h0.8v0.8h-0.8zM408.61 603.57h0.8v0.8h-0.8zM401.06 614.64h0.8v0.8h-0.8zM402.93 609.1h0.8v0.8h-0.8zM386.87 607.43h0.8v0.8h-0.8zM409.14 609.69h0.8v0.8h-0.8zM396.38 605.58h0.8v0.8h-0.8zM408.34 608.71h0.8v0.8h-0.8zM398.67 600.04h0.8v0.8h-0.8zM409.79 605.93h0.8v0.8h-0.8zM405.41 607.38h0.8v0.8h-0.8zM405.95 611.69h0.8v0.8h-0.8zM404.86 608.89h0.8v0.8h-0.8zM406.63 607.54h0.8v0.8h-0.8zM386.5 608.11h0.8v0.8h-0.8zM403.12 609.5h0.8v0.8h-0.8zM403.03 607.45h0.8v0.8h-0.8zM408.46 607.24h0.8v0.8h-0.8zM392.88 611.32h0.8v0.8h-0.8zM405.87 606.78h0.8v0.8h-0.8zM399.71 608.69h0.8v0.8h-0.8zM400.93 610.11h0.8v0.8h-0.8zM404.38 606.05h0.8v0.8h-0.8zM401.74 609.59h0.8v0.8h-0.8zM405.19 608.44h0.8v0.8h-0.8zM398.71 603.77h0.8v0.8h-0.8zM404.47 606.45h0.8v0.8h-0.8zM408.41 609.68h0.8v0.8h-0.8zM402.33 608.03h0.8v0.8h-0.8zM398.21 610.06h0.8v0.8h-0.8zM404.05 606.54h0.8v0.8h-0.8zM392.02 606.86h0.8v0.8h-0.8zM402.88 605.91h0.8v0.8h-0.8zM389.87 606.81h0.8v0.8h-0.8zM404.51 604.27h0.8v0.8h-0.8zM403.31 604.1h0.8v0.8h-0.8zM397.92 607.23h0.8v0.8h-0.8zM392.12 606.9h0.8v0.8h-0.8zM408.53 610.75h0.8v0.8h-0.8zM400.27 605.46h0.8v0.8h-0.8zM394.67 607.93h0.8v0.8h-0.8zM409.05 607.8h0.8v0.8h-0.8zM405 608.1h0.8v0.8h-0.8zM387.38 607.75h0.8v0.8h-0.8zM399.19 604.3h0.8v0.8h-0.8zM401.51 606.85h0.8v0.8h-0.8zM398.13 607.89h0.8v0.8h-0.8zM404.24 609.02h0.8v0.8h-0.8zM402.18 602.84h0.8v0.8h-0.8zM387.1 609.49h0.8v0.8h-0.8zM401.03 608.5h0.8v0.8h-0.8zM406.04 610h0.8v0.8h-0.8zM398.74 607.83h0.8v0.8h-0.8zM400.08 608.44h0.8v0.8h-0.8zM404.12 607.4h0.8v0.8h-0.8z" fill="#000" fill-opacity="0.32"/>
<path d="M402.41 610.2h0.8v0.8h-0.8zM399.6 607.21h0.8v0.8h-0.8zM390.03 609.46h0.8v0.8h-0.8zM408.95 613.05h0.8v0.8h-0.8zM405.48 603.11h0.8v0.8h-0.8zM405.04 611.26h0.8v0.8h-0.8zM392.85 601.3h0.8v0.8h-0.8zM401.83 612.14h0.8v0.8h-0.8zM400.44 606.94h0.8v0.8h-0.8zM404.39 606.11h0.8v0.8h-0.8zM399.42 609.59h0.8v0.8h-0.8zM396 605.71h0.8v0.8h-0.8zM403.16 607.62h0.8v0.8h-0.8zM407.51 607.57h0.8v0.8h-0.8zM409.15 603.34h0.8v0.8h-0.8zM410.81 608.88h0.8v0.8h-0.8zM387.6 609.03h0.8v0.8h-0.8zM396 610.67h0.8v0.8h-0.8zM399.91 606.18h0.8v0.8h-0.8zM395.94 604.75h0.8v0.8h-0.8zM407.84 611.21h0.8v0.8h-0.8zM403.91 602.72h0.8v0.8h-0.8zM402.19 608.06h0.8v0.8h-0.8zM394.87 609.68h0.8v0.8h-0.8zM411.24 608.22h0.8v0.8h-0.8zM407.39 599.16h0.8v0.8h-0.8zM410.78 605.9h0.8v0.8h-0.8zM387.7 607.26h0.8v0.8h-0.8zM393.19 606.91h0.8v0.8h-0.8zM402.39 608.22h0.8v0.8h-0.8zM408.68 606.26h0.8v0.8h-0.8zM403.41 607.57h0.8v0.8h-0.8zM409.46 605.18h0.8v0.8h-0.8zM405.52 610.58h0.8v0.8h-0.8zM401.55 605.61h0.8v0.8h-0.8zM384.69 610.18h0.8v0.8h-0.8zM390.62 611.78h0.8v0.8h-0.8zM409.64 604.99h0.8v0.8h-0.8zM393.56 608.42h0.8v0.8h-0.8zM390.35 606.85h0.8v0.8h-0.8zM393.87 608.6h0.8v0.8h-0.8zM408.54 607.47h0.8v0.8h-0.8zM407.86 609.76h0.8v0.8h-0.8zM389.96 606.38h0.8v0.8h-0.8zM401.51 604.82h0.8v0.8h-0.8zM407.59 608.32h0.8v0.8h-0.8zM390.77 608.01h0.8v0.8h-0.8zM409.31 610.05h0.8v0.8h-0.8zM404.09 606.22h0.8v0.8h-0.8zM401.83 605.43h0.8v0.8h-0.8zM389.73 604.36h0.8v0.8h-0.8zM397.72 605.88h0.8v0.8h-0.8zM410.24 610.58h0.8v0.8h-0.8zM406.65 606.98h0.8v0.8h-0.8zM405.45 606.08h0.8v0.8h-0.8zM407.18 604.86h0.8v0.8h-0.8zM392.87 609.66h0.8v0.8h-0.8zM404.56 608.63h0.8v0.8h-0.8zM410.06 605.77h0.8v0.8h-0.8zM409.39 606.98h0.8v0.8h-0.8zM409.24 607.52h0.8v0.8h-0.8zM400.15 611.29h0.8v0.8h-0.8zM407.06 608.57h0.8v0.8h-0.8zM390.41 609.89h0.8v0.8h-0.8zM387.37 610.35h0.8v0.8h-0.8zM410.03 607.89h0.8v0.8h-0.8zM406.24 603.05h0.8v0.8h-0.8zM396.68 609.05h0.8v0.8h-0.8zM405.24 599.48h0.8v0.8h-0.8zM408.01 607.9h0.8v0.8h-0.8zM400.67 604.56h0.8v0.8h-0.8zM405.68 607.09h0.8v0.8h-0.8zM405.12 610.43h0.8v0.8h-0.8zM408.79 603.73h0.8v0.8h-0.8zM408.9 608.87h0.8v0.8h-0.8zM399.13 610.21h0.8v0.8h-0.8zM399.64 607.65h0.8v0.8h-0.8zM389.98 601.75h0.8v0.8h-0.8zM395.67 610.5h0.8v0.8h-0.8zM398.92 604.58h0.8v0.8h-0.8zM403.78 600.78h0.8v0.8h-0.8zM395.16 603.04h0.8v0.8h-0.8zM410.55 605.84h0.8v0.8h-0.8zM406.88 615.52h0.8v0.8h-0.8zM402.4 609.24h0.8v0.8h-0.8zM407.66 606.42h0.8v0.8h-0.8zM402.01 609.92h0.8v0.8h-0.8zM395.31 607.87h0.8v0.8h-0.8zM408.58 609.62h0.8v0.8h-0.8zM403.33 604.18h0.8v0.8h-0.8zM407.48 616.08h0.8v0.8h-0.8zM406.82 609.82h0.8v0.8h-0.8zM407.56 608.57h0.8v0.8h-0.8zM400.89 610.1h0.8v0.8h-0.8zM401.78 604.96h0.8v0.8h-0.8zM400.96 605.65h0.8v0.8h-0.8zM400.38 606.73h0.8v0.8h-0.8zM394.31 604.96h0.8v0.8h-0.8zM405.64 610.06h0.8v0.8h-0.8zM404.57 608.69h0.8v0.8h-0.8zM402.71 610.56h0.8v0.8h-0.8zM392.28 604.22h0.8v0.8h-0.8zM408.32 607.96h0.8v0.8h-0.8zM409.73 614.5h0.8v0.8h-0.8zM400.03 608.19h0.8v0.8h-0.8zM390.57 607.99h0.8v0.8h-0.8zM407.66 610.89h0.8v0.8h-0.8zM400.77 608.82h0.8v0.8h-0.8zM396.94 607.46h0.8v0.8h-0.8zM404.04 609.76h0.8v0.8h-0.8zM406.22 606.83h0.8v0.8h-0.8zM390.59 606.94h0.8v0.8h-0.8zM389.44 609.46h0.8v0.8h-0.8zM399.98 604.61h0.8v0.8h-0.8zM408.36 608.91h0.8v0.8h-0.8zM402.2 611.13h0.8v0.8h-0.8zM387.46 606.6h0.8v0.8h-0.8zM404.62 608.67h0.8v0.8h-0.8zM400.97 608.18h0.8v0.8h-0.8zM406.86 603.89h0.8v0.8h-0.8zM407.57 608.21h0.8v0.8h-0.8zM409.29 608.07h0.8v0.8h-0.8zM407.34 605.38h0.8v0.8h-0.8zM407.79 609.11h0.8v0.8h-0.8zM404.73 602.18h0.8v0.8h-0.8zM393.14 609.28h0.8v0.8h-0.8zM387.96 610.83h0.8v0.8h-0.8zM408.78 605.31h0.8v0.8h-0.8zM403.92 608.43h0.8v0.8h-0.8zM408.07 611.87h0.8v0.8h-0.8zM394.82 604.57h0.8v0.8h-0.8zM402.96 606.53h0.8v0.8h-0.8zM394.56 609.83h0.8v0.8h-0.8zM405.52 600.4h0.8v0.8h-0.8zM405.93 610.39h0.8v0.8h-0.8zM401.13 607.28h0.8v0.8h-0.8zM407.45 607.18h0.8v0.8h-0.8zM407.1 606.46h0.8v0.8h-0.8zM404.7 605.03h0.8v0.8h-0.8zM396.58 606h0.8v0.8h-0.8zM407.02 608.95h0.8v0.8h-0.8zM399.36 604.87h0.8v0.8h-0.8zM399.65 608.76h0.8v0.8h-0.8zM402.18 608.02h0.8v0.8h-0.8zM407.05 608.69h0.8v0.8h-0.8zM394.67 606.79h0.8v0.8h-0.8zM404.31 600.81h0.8v0.8h-0.8zM404.55 608.42h0.8v0.8h-0.8zM396.36 606.73h0.8v0.8h-0.8zM406.02 609.73h0.8v0.8h-0.8zM402.43 609.47h0.8v0.8h-0.8zM392.47 607.12h0.8v0.8h-0.8zM409.62 606.49h0.8v0.8h-0.8zM408.06 609.32h0.8v0.8h-0.8zM394.37 611.09h0.8v0.8h-0.8zM390.09 608.75h0.8v0.8h-0.8zM398.53 607.54h0.8v0.8h-0.8zM399.88 605.31h0.8v0.8h-0.8zM404.65 605.95h0.8v0.8h-0.8zM396.24 605.93h0.8v0.8h-0.8zM389.2 605.01h0.8v0.8h-0.8zM402.94 604.02h0.8v0.8h-0.8zM404.04 607.36h0.8v0.8h-0.8zM409.31 607.8h0.8v0.8h-0.8zM406.83 606.53h0.8v0.8h-0.8zM398.07 603.74h0.8v0.8h-0.8zM408.74 604.3h0.8v0.8h-0.8zM407.04 609.03h0.8v0.8h-0.8zM407.32 607.42h0.8v0.8h-0.8zM403.94 607.58h0.8v0.8h-0.8zM403.03 608.78h0.8v0.8h-0.8zM401.05 607.59h0.8v0.8h-0.8zM406.29 605.75h0.8v0.8h-0.8zM398.39 608.06h0.8v0.8h-0.8zM390.88 606.59h0.8v0.8h-0.8zM392.75 606.57h0.8v0.8h-0.8zM409.31 606.58h0.8v0.8h-0.8zM403.6 608.23h0.8v0.8h-0.8zM407.01 605.55h0.8v0.8h-0.8zM406.1 609.09h0.8v0.8h-0.8zM406.75 610.32h0.8v0.8h-0.8zM407.26 609.78h0.8v0.8h-0.8zM405.39 605.57h0.8v0.8h-0.8zM389.7 606.99h0.8v0.8h-0.8zM393.58 610.6h0.8v0.8h-0.8zM395.52 610.91h0.8v0.8h-0.8zM406.7 613.01h0.8v0.8h-0.8zM397.11 614.51h0.8v0.8h-0.8zM405.86 613.34h0.8v0.8h-0.8zM399.31 602.02h0.8v0.8h-0.8zM406.48 606.03h0.8v0.8h-0.8zM406.47 603.03h0.8v0.8h-0.8zM397.1 610.14h0.8v0.8h-0.8zM408.27 607.35h0.8v0.8h-0.8zM396.61 607.1h0.8v0.8h-0.8zM406.57 609.28h0.8v0.8h-0.8zM405.19 611.61h0.8v0.8h-0.8zM395.91 604.56h0.8v0.8h-0.8zM391.73 604.25h0.8v0.8h-0.8zM394.79 609.86h0.8v0.8h-0.8zM397.72 608.71h0.8v0.8h-0.8zM397.85 614.38h0.8v0.8h-0.8zM410.38 601.51h0.8v0.8h-0.8zM389.72 608.74h0.8v0.8h-0.8zM407.06 614.15h0.8v0.8h-0.8zM384.22 608.65h0.8v0.8h-0.8zM403.62 604.58h0.8v0.8h-0.8zM407.11 606.18h0.8v0.8h-0.8zM408.15 607.44h0.8v0.8h-0.8zM399.77 598.05h0.8v0.8h-0.8zM409.49 606.55h0.8v0.8h-0.8zM402.51 604.87h0.8v0.8h-0.8zM404.21 605.75h0.8v0.8h-0.8zM401.34 607.09h0.8v0.8h-0.8zM396.07 611.72h0.8v0.8h-0.8zM403.41 601.95h0.8v0.8h-0.8zM405.31 607.56h0.8v0.8h-0.8zM403.37 607.37h0.8v0.8h-0.8zM401.18 602.07h0.8v0.8h-0.8zM396.46 608.06h0.8v0.8h-0.8z" fill="#000" fill-opacity="0.32"/>
<path d="M401.4 608.88h0.8v0.8h-0.8zM408.93 608.5h0.8v0.8h-0.8zM402.03 608.19h0.8v0.8h-0.8zM405.06 609.32h0.8v0.8h-0.8zM402.27 605.46h0.8v0.8h-0.8zM406.89 602.83h0.8v0.8h-0.8zM403.93 607.12h0.8v0.8h-0.8zM409.84 611.32h0.8v0.8h-0.8zM405.36 607.79h0.8v0.8h-0.8zM406.78 609.66h0.8v0.8h-0.8zM407.82 607.64h0.8v0.8h-0.8zM398.49 605.1h0.8v0.8h-0.8zM401.6 605.68h0.8v0.8h-0.8zM397.71 606.41h0.8v0.8h-0.8zM408.79 605.93h0.8v0.8h-0.8zM387.51 610.25h0.8v0.8h-0.8zM408.05 603.27h0.8v0.8h-0.8zM393.17 603.53h0.8v0.8h-0.8zM399.6 606.15h0.8v0.8h-0.8zM401.18 612.4h0.8v0.8h-0.8zM407.84 607.58h0.8v0.8h-0.8zM391.52 606.11h0.8v0.8h-0.8zM395.75 608.82h0.8v0.8h-0.8zM410.21 609.3h0.8v0.8h-0.8zM396.72 606.75h0.8v0.8h-0.8zM406.79 603.31h0.8v0.8h-0.8zM399.23 602.62h0.8v0.8h-0.8zM401.07 609.12h0.8v0.8h-0.8zM407.41 609.51h0.8v0.8h-0.8zM404.45 608.47h0.8v0.8h-0.8zM409.37 609.7h0.8v0.8h-0.8zM395.96 604.55h0.8v0.8h-0.8zM402.2 603.55h0.8v0.8h-0.8zM405.57 606.07h0.8v0.8h-0.8zM396.02 601.56h0.8v0.8h-0.8zM396.51 609.72h0.8v0.8h-0.8zM408.78 602.88h0.8v0.8h-0.8zM401.71 609.28h0.8v0.8h-0.8zM397.81 608.92h0.8v0.8h-0.8zM389.34 607.18h0.8v0.8h-0.8zM397.81 608.35h0.8v0.8h-0.8zM408.93 606.31h0.8v0.8h-0.8zM393.26 610.04h0.8v0.8h-0.8zM406.73 604.67h0.8v0.8h-0.8zM396.25 608.99h0.8v0.8h-0.8zM400.92 609.48h0.8v0.8h-0.8zM396.13 607.56h0.8v0.8h-0.8zM393.99 608.99h0.8v0.8h-0.8zM409.75 600.8h0.8v0.8h-0.8zM393.88 612.24h0.8v0.8h-0.8zM403.34 603.18h0.8v0.8h-0.8zM404.62 609.66h0.8v0.8h-0.8zM395.94 610.75h0.8v0.8h-0.8zM408.7 607.74h0.8v0.8h-0.8zM400.71 609.04h0.8v0.8h-0.8zM403.87 611.53h0.8v0.8h-0.8zM404.24 606.92h0.8v0.8h-0.8zM400.25 610.17h0.8v0.8h-0.8zM409.77 604.14h0.8v0.8h-0.8zM405.13 610.82h0.8v0.8h-0.8zM389.59 610.13h0.8v0.8h-0.8zM394.08 609.19h0.8v0.8h-0.8zM400.47 610.78h0.8v0.8h-0.8zM395.59 609.62h0.8v0.8h-0.8zM394.02 607.07h0.8v0.8h-0.8zM404.39 605.73h0.8v0.8h-0.8zM399.46 609.54h0.8v0.8h-0.8zM395.7 602.62h0.8v0.8h-0.8zM406.59 603.73h0.8v0.8h-0.8zM401.08 609.94h0.8v0.8h-0.8zM398.62 606.83h0.8v0.8h-0.8zM392.5 608.34h0.8v0.8h-0.8zM397.58 606.29h0.8v0.8h-0.8zM393.5 607.86h0.8v0.8h-0.8zM406.95 609.02h0.8v0.8h-0.8zM404.32 606h0.8v0.8h-0.8zM397.5 609.15h0.8v0.8h-0.8zM403.86 606.56h0.8v0.8h-0.8zM397.11 609.12h0.8v0.8h-0.8zM392.12 612.61h0.8v0.8h-0.8zM396.04 610.21h0.8v0.8h-0.8zM387 602.42h0.8v0.8h-0.8zM404.64 610.1h0.8v0.8h-0.8zM401.46 603.69h0.8v0.8h-0.8zM399.11 609.55h0.8v0.8h-0.8zM393.23 612.21h0.8v0.8h-0.8zM406.83 609.46h0.8v0.8h-0.8zM399.24 609.23h0.8v0.8h-0.8zM388.43 607.24h0.8v0.8h-0.8zM396.26 608.34h0.8v0.8h-0.8zM388.89 608.54h0.8v0.8h-0.8zM390.23 606.43h0.8v0.8h-0.8zM392.61 610.78h0.8v0.8h-0.8zM405.99 603.61h0.8v0.8h-0.8zM396.31 603.02h0.8v0.8h-0.8zM395.42 607.86h0.8v0.8h-0.8zM396.69 608.62h0.8v0.8h-0.8zM405.58 609.91h0.8v0.8h-0.8zM390.93 606.96h0.8v0.8h-0.8zM397.21 607.95h0.8v0.8h-0.8zM397.93 606.39h0.8v0.8h-0.8zM391.99 606.1h0.8v0.8h-0.8zM406.76 603.85h0.8v0.8h-0.8zM394.12 608.15h0.8v0.8h-0.8zM403.89 609.17h0.8v0.8h-0.8zM403.02 605.34h0.8v0.8h-0.8zM402.4 604.11h0.8v0.8h-0.8zM411.48 607.79h0.8v0.8h-0.8zM400.51 608.39h0.8v0.8h-0.8zM395.93 605.47h0.8v0.8h-0.8zM398.39 606.27h0.8v0.8h-0.8zM403.02 613.09h0.8v0.8h-0.8zM400.07 605.8h0.8v0.8h-0.8zM406.41 603.9h0.8v0.8h-0.8zM396.39 608.18h0.8v0.8h-0.8zM405.74 613.76h0.8v0.8h-0.8zM407.81 606.63h0.8v0.8h-0.8zM399.27 604.88h0.8v0.8h-0.8zM401.28 603.83h0.8v0.8h-0.8zM405.74 605.65h0.8v0.8h-0.8zM410.15 607.14h0.8v0.8h-0.8zM402.46 608.09h0.8v0.8h-0.8zM401.4 605.22h0.8v0.8h-0.8zM407.71 603.61h0.8v0.8h-0.8zM400.33 611.11h0.8v0.8h-0.8zM404.22 609.89h0.8v0.8h-0.8zM396.78 606.61h0.8v0.8h-0.8zM400.91 607.56h0.8v0.8h-0.8zM405.86 608.61h0.8v0.8h-0.8zM409.07 605.65h0.8v0.8h-0.8zM400.04 604.78h0.8v0.8h-0.8zM407.77 612.13h0.8v0.8h-0.8zM398.62 610.48h0.8v0.8h-0.8zM396.69 607.26h0.8v0.8h-0.8zM406.31 603.93h0.8v0.8h-0.8zM390.07 607.98h0.8v0.8h-0.8zM400.5 608.41h0.8v0.8h-0.8zM399.78 609.12h0.8v0.8h-0.8zM389.88 610.63h0.8v0.8h-0.8zM391.51 606.36h0.8v0.8h-0.8zM396.52 605.74h0.8v0.8h-0.8zM388.78 607.45h0.8v0.8h-0.8zM403.52 603.82h0.8v0.8h-0.8zM409.35 601.87h0.8v0.8h-0.8zM408.73 608.54h0.8v0.8h-0.8zM400.96 607.23h0.8v0.8h-0.8zM399.73 605.92h0.8v0.8h-0.8zM386.19 609.25h0.8v0.8h-0.8zM404.82 613.19h0.8v0.8h-0.8zM409.04 602.99h0.8v0.8h-0.8zM397.87 606.3h0.8v0.8h-0.8zM399.81 614.26h0.8v0.8h-0.8zM406.57 608.6h0.8v0.8h-0.8zM397.28 607.71h0.8v0.8h-0.8zM397.51 608.45h0.8v0.8h-0.8zM400.31 607.28h0.8v0.8h-0.8zM410.2 605.97h0.8v0.8h-0.8zM405.51 604.87h0.8v0.8h-0.8zM401.26 608.63h0.8v0.8h-0.8zM403.08 609.2h0.8v0.8h-0.8zM407.35 602.46h0.8v0.8h-0.8zM393.68 611.19h0.8v0.8h-0.8zM406.43 606.82h0.8v0.8h-0.8zM391.83 607.19h0.8v0.8h-0.8zM408.74 611.27h0.8v0.8h-0.8zM406.69 605.89h0.8v0.8h-0.8zM400.25 608.86h0.8v0.8h-0.8zM392.1 611.03h0.8v0.8h-0.8zM403.62 607.14h0.8v0.8h-0.8zM404.35 608.71h0.8v0.8h-0.8zM403.87 606.14h0.8v0.8h-0.8zM403.3 611.03h0.8v0.8h-0.8zM405.56 608.65h0.8v0.8h-0.8zM402.24 606.76h0.8v0.8h-0.8zM405.88 609.81h0.8v0.8h-0.8zM400.58 602.74h0.8v0.8h-0.8zM402.91 608.4h0.8v0.8h-0.8zM405.27 608.23h0.8v0.8h-0.8zM403.52 607.62h0.8v0.8h-0.8zM389.46 609.52h0.8v0.8h-0.8zM400.52 606.3h0.8v0.8h-0.8zM405.3 607.74h0.8v0.8h-0.8zM405.71 611.67h0.8v0.8h-0.8zM405.57 605.86h0.8v0.8h-0.8zM402.58 608.04h0.8v0.8h-0.8zM408.23 604.81h0.8v0.8h-0.8zM405.52 604.5h0.8v0.8h-0.8zM407.07 603.74h0.8v0.8h-0.8zM406.39 605.85h0.8v0.8h-0.8zM403.05 607.98h0.8v0.8h-0.8zM409.88 608.52h0.8v0.8h-0.8zM400.86 607.51h0.8v0.8h-0.8zM409.49 600.71h0.8v0.8h-0.8zM401.24 600.25h0.8v0.8h-0.8zM394.12 605.16h0.8v0.8h-0.8zM387.64 604.74h0.8v0.8h-0.8zM398.66 603.4h0.8v0.8h-0.8zM403.78 608.85h0.8v0.8h-0.8zM390.61 608.39h0.8v0.8h-0.8zM409.98 606.17h0.8v0.8h-0.8zM402.88 610.94h0.8v0.8h-0.8zM389.73 608.43h0.8v0.8h-0.8zM410.34 606.1h0.8v0.8h-0.8zM403.81 611h0.8v0.8h-0.8zM404.33 609.14h0.8v0.8h-0.8zM397.92 617.39h0.8v0.8h-0.8zM398.54 604.36h0.8v0.8h-0.8zM400.3 608.29h0.8v0.8h-0.8zM408.44 609.09h0.8v0.8h-0.8zM394.72 609.81h0.8v0.8h-0.8zM390.2 608.02h0.8v0.8h-0.8zM408.71 606.52h0.8v0.8h-0.8zM406.11 610.62h0.8v0.8h-0.8zM405.53 614.62h0.8v0.8h-0.8zM408.74 608.14h0.8v0.8h-0.8zM391.58 604.14h0.8v0.8h-0.8zM403.96 608.26h0.8v0.8h-0.8zM409.01 602.37h0.8v0.8h-0.8zM410.28 611.76h0.8v0.8h-0.8zM392.36 605.17h0.8v0.8h-0.8z" fill="#000" fill-opacity="0.32"/>
<path d="M397.53 604.72h0.8v0.8h-0.8zM398.38 605.39h0.8v0.8h-0.8zM403.58 604.83h0.8v0.8h-0.8zM403.78 604.35h0.8v0.8h-0.8zM399.5 610.65h0.8v0.8h-0.8zM408.45 608.52h0.8v0.8h-0.8zM399.76 608.26h0.8v0.8h-0.8zM405.27 610.83h0.8v0.8h-0.8zM395.56 606.02h0.8v0.8h-0.8zM398.88 606.8h0.8v0.8h-0.8zM400.5 605.71h0.8v0.8h-0.8zM407.82 608.31h0.8v0.8h-0.8zM403.88 602.08h0.8v0.8h-0.8zM395.44 611.52h0.8v0.8h-0.8zM401.75 609.39h0.8v0.8h-0.8zM408.83 603.98h0.8v0.8h-0.8zM408.39 606.41h0.8v0.8h-0.8zM399.05 612.01h0.8v0.8h-0.8zM401.67 605.49h0.8v0.8h-0.8zM398.49 612.24h0.8v0.8h-0.8zM393.71 611.48h0.8v0.8h-0.8zM408.64 606.23h0.8v0.8h-0.8zM410.02 610.72h0.8v0.8h-0.8zM406.82 607.65h0.8v0.8h-0.8zM390.15 609.74h0.8v0.8h-0.8zM395.18 609.59h0.8v0.8h-0.8zM401.41 606.26h0.8v0.8h-0.8zM398.59 604.6h0.8v0.8h-0.8zM404.83 608.95h0.8v0.8h-0.8zM407.02 606.13h0.8v0.8h-0.8zM409.12 605.49h0.8v0.8h-0.8zM408.97 606.92h0.8v0.8h-0.8zM403.04 609.27h0.8v0.8h-0.8zM393.51 606.29h0.8v0.8h-0.8zM406.53 607.33h0.8v0.8h-0.8zM406.96 608.96h0.8v0.8h-0.8zM404.82 603.37h0.8v0.8h-0.8zM391.45 607.39h0.8v0.8h-0.8zM408.31 600h0.8v0.8h-0.8zM396.43 608.16h0.8v0.8h-0.8zM383.72 613.56h0.8v0.8h-0.8zM409.55 610.32h0.8v0.8h-0.8zM401.09 602.36h0.8v0.8h-0.8zM410.36 604.78h0.8v0.8h-0.8zM405 602.78h0.8v0.8h-0.8zM391.91 608.24h0.8v0.8h-0.8zM403 604.78h0.8v0.8h-0.8zM386.59 609.07h0.8v0.8h-0.8zM401.43 606.9h0.8v0.8h-0.8zM405.76 609.08h0.8v0.8h-0.8zM404.55 602.14h0.8v0.8h-0.8zM407.57 615.48h0.8v0.8h-0.8zM406.56 604.18h0.8v0.8h-0.8zM409.43 605.6h0.8v0.8h-0.8zM394.8 606.92h0.8v0.8h-0.8zM397.53 603.63h0.8v0.8h-0.8zM397.92 606.9h0.8v0.8h-0.8zM393.76 607.61h0.8v0.8h-0.8zM400.4 605.81h0.8v0.8h-0.8zM402.21 605.14h0.8v0.8h-0.8zM395.35 610.4h0.8v0.8h-0.8zM402 606.2h0.8v0.8h-0.8zM400.01 611.32h0.8v0.8h-0.8zM402.03 608.39h0.8v0.8h-0.8zM406.36 605.13h0.8v0.8h-0.8zM407.7 606.42h0.8v0.8h-0.8zM406.05 608.64h0.8v0.8h-0.8zM403.92 608.93h0.8v0.8h-0.8zM402.74 611.09h0.8v0.8h-0.8zM391.69 611.09h0.8v0.8h-0.8zM405.01 607.34h0.8v0.8h-0.8zM394.38 607.21h0.8v0.8h-0.8zM405.21 610.05h0.8v0.8h-0.8zM407.53 607.28h0.8v0.8h-0.8zM408.77 610.44h0.8v0.8h-0.8zM403.46 606.54h0.8v0.8h-0.8zM402.28 610.34h0.8v0.8h-0.8zM402.13 613.14h0.8v0.8h-0.8zM390.41 610.17h0.8v0.8h-0.8zM395.98 608.69h0.8v0.8h-0.8zM408.38 600.67h0.8v0.8h-0.8zM402.36 603.48h0.8v0.8h-0.8zM391.11 607.68h0.8v0.8h-0.8zM400.48 602.64h0.8v0.8h-0.8zM400.19 610.04h0.8v0.8h-0.8zM406.45 607.63h0.8v0.8h-0.8zM407.32 610.27h0.8v0.8h-0.8zM393.56 606.18h0.8v0.8h-0.8zM407.95 609.37h0.8v0.8h-0.8zM406.73 607.14h0.8v0.8h-0.8zM408.5 606.04h0.8v0.8h-0.8zM401.79 608.49h0.8v0.8h-0.8zM404.56 609.66h0.8v0.8h-0.8zM407.3 608.25h0.8v0.8h-0.8zM399.95 609.33h0.8v0.8h-0.8zM400.57 604.98h0.8v0.8h-0.8zM396.93 605.91h0.8v0.8h-0.8zM409.66 603.81h0.8v0.8h-0.8zM392.13 607.92h0.8v0.8h-0.8zM397.16 609.16h0.8v0.8h-0.8zM397.3 603.62h0.8v0.8h-0.8zM399.73 607.43h0.8v0.8h-0.8zM389.99 608.52h0.8v0.8h-0.8zM390.43 609.02h0.8v0.8h-0.8zM410.65 611.5h0.8v0.8h-0.8zM404.87 603.65h0.8v0.8h-0.8zM403.8 605.11h0.8v0.8h-0.8zM408.74 607.87h0.8v0.8h-0.8zM405.79 607.13h0.8v0.8h-0.8zM396.01 605.82h0.8v0.8h-0.8zM402.2 608.72h0.8v0.8h-0.8zM407.16 607.87h0.8v0.8h-0.8zM404.29 601.27h0.8v0.8h-0.8zM406.64 608.73h0.8v0.8h-0.8zM408.78 605.35h0.8v0.8h-0.8zM395.51 603.78h0.8v0.8h-0.8zM397.82 606.11h0.8v0.8h-0.8zM389.14 605.89h0.8v0.8h-0.8zM395.42 610.49h0.8v0.8h-0.8zM387.87 612.31h0.8v0.8h-0.8zM402.01 609.71h0.8v0.8h-0.8zM396.4 609.27h0.8v0.8h-0.8zM400.31 608.48h0.8v0.8h-0.8zM407.68 606.37h0.8v0.8h-0.8zM401.67 601.93h0.8v0.8h-0.8zM408.24 604.85h0.8v0.8h-0.8zM401.31 608.25h0.8v0.8h-0.8zM402.54 605.36h0.8v0.8h-0.8zM406.22 605.06h0.8v0.8h-0.8zM406.12 607.07h0.8v0.8h-0.8zM410.06 609.19h0.8v0.8h-0.8zM408.63 607.25h0.8v0.8h-0.8zM389.48 609.33h0.8v0.8h-0.8zM395.17 604.55h0.8v0.8h-0.8zM409.94 600.82h0.8v0.8h-0.8zM409.21 604.35h0.8v0.8h-0.8zM386.75 608.09h0.8v0.8h-0.8zM393.93 610.4h0.8v0.8h-0.8zM396.85 607.91h0.8v0.8h-0.8zM403.07 607.59h0.8v0.8h-0.8zM408.5 609.55h0.8v0.8h-0.8zM405.02 609.38h0.8v0.8h-0.8zM405.8 608.45h0.8v0.8h-0.8zM396.27 606.16h0.8v0.8h-0.8zM405.24 604.96h0.8v0.8h-0.8zM399.52 605.86h0.8v0.8h-0.8zM399.02 609.52h0.8v0.8h-0.8zM401.52 603.36h0.8v0.8h-0.8zM394.32 609.17h0.8v0.8h-0.8zM390.15 606.13h0.8v0.8h-0.8zM404.63 598.73h0.8v0.8h-0.8zM407.47 607.17h0.8v0.8h-0.8zM392.63 606.79h0.8v0.8h-0.8zM406.04 605.26h0.8v0.8h-0.8zM404.66 605.48h0.8v0.8h-0.8zM407.74 605.73h0.8v0.8h-0.8zM411.31 606.1h0.8v0.8h-0.8zM404.3 608.51h0.8v0.8h-0.8zM383.38 609.4h0.8v0.8h-0.8zM393.77 604.73h0.8v0.8h-0.8zM404.61 604.1h0.8v0.8h-0.8zM402.16 606.57h0.8v0.8h-0.8zM394.82 608.57h0.8v0.8h-0.8zM402.42 609.01h0.8v0.8h-0.8zM386.19 607.11h0.8v0.8h-0.8zM400.3 607h0.8v0.8h-0.8zM394.39 603.81h0.8v0.8h-0.8zM395.46 605.02h0.8v0.8h-0.8zM403.26 608.34h0.8v0.8h-0.8zM400.65 606.31h0.8v0.8h-0.8zM404.53 611.36h0.8v0.8h-0.8zM400.78 605.64h0.8v0.8h-0.8zM403.53 612.9h0.8v0.8h-0.8zM390.86 608.4h0.8v0.8h-0.8zM389.21 607.12h0.8v0.8h-0.8zM395.15 607.85h0.8v0.8h-0.8zM408.43 608.65h0.8v0.8h-0.8zM407.97 610.8h0.8v0.8h-0.8zM404.43 606.73h0.8v0.8h-0.8zM399.99 606.52h0.8v0.8h-0.8zM404.05 604.7h0.8v0.8h-0.8zM403.08 602.7h0.8v0.8h-0.8zM401.49 607.6h0.8v0.8h-0.8zM409.49 606.09h0.8v0.8h-0.8zM393.36 612.57h0.8v0.8h-0.8zM393.19 609.28h0.8v0.8h-0.8zM399.04 608.24h0.8v0.8h-0.8zM393.02 604.23h0.8v0.8h-0.8zM408.59 609.83h0.8v0.8h-0.8zM407.76 610.6h0.8v0.8h-0.8zM391.52 609.56h0.8v0.8h-0.8zM404.71 609.4h0.8v0.8h-0.8zM399.12 603.22h0.8v0.8h-0.8zM393.92 610.09h0.8v0.8h-0.8zM402.65 606.82h0.8v0.8h-0.8zM397.61 609.03h0.8v0.8h-0.8zM400.67 608.42h0.8v0.8h-0.8zM401.5 606.16h0.8v0.8h-0.8zM407.91 607.45h0.8v0.8h-0.8zM397.16 608.78h0.8v0.8h-0.8zM401.26 607.37h0.8v0.8h-0.8zM408.18 610.38h0.8v0.8h-0.8zM397.61 608.24h0.8v0.8h-0.8zM398.45 610.01h0.8v0.8h-0.8zM406.46 606.79h0.8v0.8h-0.8zM400.35 609.4h0.8v0.8h-0.8zM395.41 605.63h0.8v0.8h-0.8zM405.71 607.63h0.8v0.8h-0.8zM407.38 606.35h0.8v0.8h-0.8zM406.04 601.07h0.8v0.8h-0.8zM391.92 608.39h0.8v0.8h-0.8zM398.48 609.34h0.8v0.8h-0.8zM407.32 608.16h0.8v0.8h-0.8zM404.74 608.6h0.8v0.8h-0.8zM401.73 607h0.8v0.8h-0.8zM406.9 611.58h0.8v0.8h-0.8zM403.38 600.6h0.8v0.8h-0.8zM393.62 608.9h0.8v0.8h-0.8zM401.48 610.88h0.8v0.8h-0.8zM386.68 607.44h0.8v0.8h-0.8z" fill="#000" fill-opacity="0.32"/>
<path d="M373.4 613 C373.2 610.5 381.6 610.5 381.4 613.5 C381 620 379.5 628 377.6 634.2 C376.8 635 376 634.6 375.6 633.5 C374.2 627 373.5 620 373.4 613Z" fill="#2a2ae2" filter="url(#bl)"/>
<ellipse cx="380.6" cy="611.2" rx="3.2" ry="3.8" fill="#d46ad8" fill-opacity="1" filter="url(#bl)"/>
<ellipse cx="376.4" cy="607.2" rx="2.7" ry="5" fill="#167616" fill-opacity="1" filter="url(#bl)"/>
<path d="M454.76 607.89h0.8v0.8h-0.8zM446.2 612.27h0.8v0.8h-0.8zM460.37 615.54h0.8v0.8h-0.8zM458.06 612.4h0.8v0.8h-0.8zM450.6 615.05h0.8v0.8h-0.8zM443.28 618.4h0.8v0.8h-0.8zM448.79 615.29h0.8v0.8h-0.8zM448.94 614.18h0.8v0.8h-0.8zM452.01 615.27h0.8v0.8h-0.8zM452.39 612.44h0.8v0.8h-0.8zM457.32 616.9h0.8v0.8h-0.8zM448.89 615.02h0.8v0.8h-0.8zM462.12 614.13h0.8v0.8h-0.8zM455.67 618.53h0.8v0.8h-0.8zM458.79 611.08h0.8v0.8h-0.8zM447.64 610.55h0.8v0.8h-0.8zM453.04 613.81h0.8v0.8h-0.8zM455.72 614.48h0.8v0.8h-0.8zM459.72 616.39h0.8v0.8h-0.8zM459.37 612.49h0.8v0.8h-0.8zM448.69 614.47h0.8v0.8h-0.8zM460.62 614.48h0.8v0.8h-0.8zM460.77 614.39h0.8v0.8h-0.8zM458.33 614.7h0.8v0.8h-0.8zM448.51 611.82h0.8v0.8h-0.8zM461.71 615.02h0.8v0.8h-0.8zM452 613.16h0.8v0.8h-0.8zM456.73 613.07h0.8v0.8h-0.8zM452.46 609.11h0.8v0.8h-0.8zM444.39 615.32h0.8v0.8h-0.8zM462.17 616.59h0.8v0.8h-0.8zM455.69 614.1h0.8v0.8h-0.8zM451.89 607.85h0.8v0.8h-0.8zM460.05 612.6h0.8v0.8h-0.8zM462.54 612.01h0.8v0.8h-0.8zM459.55 612.96h0.8v0.8h-0.8zM453.37 609.7h0.8v0.8h-0.8zM456.37 613.5h0.8v0.8h-0.8zM457.95 611.9h0.8v0.8h-0.8zM456.45 614.19h0.8v0.8h-0.8zM448.26 610.58h0.8v0.8h-0.8zM450.74 618.55h0.8v0.8h-0.8z" fill="#111" fill-opacity="0.22"/>
<path d="M449.89 609.94h0.8v0.8h-0.8zM462.86 617.19h0.8v0.8h-0.8zM459.99 612.5h0.8v0.8h-0.8zM460.82 612.71h0.8v0.8h-0.8zM443.94 610.64h0.8v0.8h-0.8zM457.9 614.27h0.8v0.8h-0.8zM459.9 613.03h0.8v0.8h-0.8zM450.3 612.69h0.8v0.8h-0.8zM452.34 617.59h0.8v0.8h-0.8zM451.28 613.79h0.8v0.8h-0.8zM458.36 615.85h0.8v0.8h-0.8zM447.97 611.78h0.8v0.8h-0.8zM445.99 612.01h0.8v0.8h-0.8zM456.53 611.47h0.8v0.8h-0.8zM458.71 614.5h0.8v0.8h-0.8zM455.23 610.78h0.8v0.8h-0.8zM453.4 614.89h0.8v0.8h-0.8zM453.05 611.16h0.8v0.8h-0.8zM455.58 609.37h0.8v0.8h-0.8zM455.04 614.63h0.8v0.8h-0.8zM448.55 615.53h0.8v0.8h-0.8zM457.9 614.61h0.8v0.8h-0.8zM457.49 617.32h0.8v0.8h-0.8zM459.96 615.33h0.8v0.8h-0.8zM453.12 616.96h0.8v0.8h-0.8zM459.9 618.74h0.8v0.8h-0.8zM461.54 612.31h0.8v0.8h-0.8zM450.75 615.07h0.8v0.8h-0.8zM458.66 615.31h0.8v0.8h-0.8zM448.01 612.02h0.8v0.8h-0.8zM450.33 611.55h0.8v0.8h-0.8zM460.29 619.45h0.8v0.8h-0.8zM445.93 613.02h0.8v0.8h-0.8zM445.45 612.5h0.8v0.8h-0.8zM450.61 612.39h0.8v0.8h-0.8zM457.21 611.86h0.8v0.8h-0.8zM453.07 613.15h0.8v0.8h-0.8zM446.1 613.55h0.8v0.8h-0.8zM453.82 615.61h0.8v0.8h-0.8zM445.9 612.95h0.8v0.8h-0.8zM447.07 616.79h0.8v0.8h-0.8zM461.53 611.27h0.8v0.8h-0.8z" fill="#111" fill-opacity="0.22"/>
<path d="M456.61 613.71h0.8v0.8h-0.8zM459.13 613.19h0.8v0.8h-0.8zM443.42 611.33h0.8v0.8h-0.8zM461.97 615.88h0.8v0.8h-0.8zM452.83 612.03h0.8v0.8h-0.8zM448.1 615.56h0.8v0.8h-0.8zM443.32 611.36h0.8v0.8h-0.8zM446.55 612.68h0.8v0.8h-0.8zM444.41 615.77h0.8v0.8h-0.8zM444.4 611.1h0.8v0.8h-0.8zM454.15 610.52h0.8v0.8h-0.8zM443.09 612.51h0.8v0.8h-0.8zM447.99 612.55h0.8v0.8h-0.8zM458.79 614.33h0.8v0.8h-0.8zM447.54 612.87h0.8v0.8h-0.8zM455.26 612.8h0.8v0.8h-0.8zM457.46 616.02h0.8v0.8h-0.8zM445.69 614.44h0.8v0.8h-0.8zM459.3 618.07h0.8v0.8h-0.8zM452.35 611.78h0.8v0.8h-0.8zM458.34 611.21h0.8v0.8h-0.8zM454.78 611.8h0.8v0.8h-0.8zM455.37 613.28h0.8v0.8h-0.8zM444.81 612.15h0.8v0.8h-0.8zM460.82 614.06h0.8v0.8h-0.8zM453.81 609.54h0.8v0.8h-0.8zM447.54 614.4h0.8v0.8h-0.8zM448.36 611.65h0.8v0.8h-0.8zM443.72 615.06h0.8v0.8h-0.8zM446.85 611.98h0.8v0.8h-0.8zM448.32 610.37h0.8v0.8h-0.8zM457.77 614.46h0.8v0.8h-0.8zM452.6 612.98h0.8v0.8h-0.8zM444.55 613.51h0.8v0.8h-0.8zM442.45 613.49h0.8v0.8h-0.8zM460.57 613.89h0.8v0.8h-0.8zM449.28 610.58h0.8v0.8h-0.8zM446.51 611.97h0.8v0.8h-0.8zM449.06 615.86h0.8v0.8h-0.8zM453.76 613.98h0.8v0.8h-0.8zM459.36 613.48h0.8v0.8h-0.8zM461.66 615.91h0.8v0.8h-0.8z" fill="#111" fill-opacity="0.22"/>
<path d="M451.55 611.58h0.8v0.8h-0.8zM452.6 614.37h0.8v0.8h-0.8zM452.92 616.38h0.8v0.8h-0.8zM458.97 611.32h0.8v0.8h-0.8zM455.96 612.06h0.8v0.8h-0.8zM457.99 613.84h0.8v0.8h-0.8zM458.18 612.84h0.8v0.8h-0.8zM453.69 617.04h0.8v0.8h-0.8zM451.66 612.41h0.8v0.8h-0.8zM452.24 615.1h0.8v0.8h-0.8zM450.53 611.73h0.8v0.8h-0.8zM460.51 611.51h0.8v0.8h-0.8zM459.86 621.79h0.8v0.8h-0.8zM445.31 616.53h0.8v0.8h-0.8zM452.93 610.43h0.8v0.8h-0.8zM444.46 614.68h0.8v0.8h-0.8zM455.26 613.49h0.8v0.8h-0.8zM448.97 612.19h0.8v0.8h-0.8zM444.15 611.47h0.8v0.8h-0.8zM451.24 614.65h0.8v0.8h-0.8zM460.25 617.47h0.8v0.8h-0.8zM449.04 613.25h0.8v0.8h-0.8zM460.6 614.71h0.8v0.8h-0.8zM445.11 612.75h0.8v0.8h-0.8zM451.61 612.31h0.8v0.8h-0.8zM457.3 615.64h0.8v0.8h-0.8zM456.86 615.23h0.8v0.8h-0.8zM458.65 612.05h0.8v0.8h-0.8zM449.82 612.89h0.8v0.8h-0.8zM448.96 614.49h0.8v0.8h-0.8zM456.29 616.48h0.8v0.8h-0.8zM448.86 611.13h0.8v0.8h-0.8zM459.49 611.34h0.8v0.8h-0.8zM452.04 613.61h0.8v0.8h-0.8zM452.56 613.3h0.8v0.8h-0.8zM447.88 614.41h0.8v0.8h-0.8zM449.29 614.31h0.8v0.8h-0.8zM444.54 610.54h0.8v0.8h-0.8zM461.51 612.75h0.8v0.8h-0.8zM446.2 612.13h0.8v0.8h-0.8zM448.09 612.98h0.8v0.8h-0.8zM444.46 612.96h0.8v0.8h-0.8z" fill="#111" fill-opacity="0.22"/>
<path d="M453.06 617.25h0.8v0.8h-0.8zM451.76 612.69h0.8v0.8h-0.8zM457.48 614.27h0.8v0.8h-0.8zM446.17 614.43h0.8v0.8h-0.8zM453.72 619.42h0.8v0.8h-0.8zM458.58 608.27h0.8v0.8h-0.8zM457.48 615.46h0.8v0.8h-0.8zM460.88 612.76h0.8v0.8h-0.8zM451.31 609.6h0.8v0.8h-0.8zM461.53 611.92h0.8v0.8h-0.8zM458.82 613.57h0.8v0.8h-0.8zM457.29 609.98h0.8v0.8h-0.8zM446.68 614.32h0.8v0.8h-0.8zM455.14 615.15h0.8v0.8h-0.8zM448.01 613.28h0.8v0.8h-0.8zM457.51 613.24h0.8v0.8h-0.8zM449.84 615.28h0.8v0.8h-0.8zM444.37 611.97h0.8v0.8h-0.8zM445.55 613.79h0.8v0.8h-0.8zM458.11 619.68h0.8v0.8h-0.8zM459.04 607.99h0.8v0.8h-0.8zM450.86 612.19h0.8v0.8h-0.8zM457.91 615.75h0.8v0.8h-0.8zM444.82 613.23h0.8v0.8h-0.8zM444.17 615.43h0.8v0.8h-0.8zM450.98 615.09h0.8v0.8h-0.8zM448.67 614.45h0.8v0.8h-0.8zM457.3 614.67h0.8v0.8h-0.8zM452.6 612.51h0.8v0.8h-0.8zM460.7 615.7h0.8v0.8h-0.8zM457.53 613.1h0.8v0.8h-0.8zM458.21 615.14h0.8v0.8h-0.8zM458.14 610.91h0.8v0.8h-0.8zM447.43 612.76h0.8v0.8h-0.8zM448.15 614.51h0.8v0.8h-0.8zM448.17 612.63h0.8v0.8h-0.8zM458.48 614.1h0.8v0.8h-0.8zM461.34 611.45h0.8v0.8h-0.8zM457.18 609.54h0.8v0.8h-0.8zM456.9 608.83h0.8v0.8h-0.8zM453.75 613.15h0.8v0.8h-0.8zM460.6 609.44h0.8v0.8h-0.8z" fill="#111" fill-opacity="0.22"/>
<path d="M458.78 618.82h0.8v0.8h-0.8zM458.75 612.07h0.8v0.8h-0.8zM461.93 613.21h0.8v0.8h-0.8zM448.2 612.83h0.8v0.8h-0.8zM457.78 615.55h0.8v0.8h-0.8zM447.04 611.09h0.8v0.8h-0.8zM450.04 612.82h0.8v0.8h-0.8zM456.32 616.55h0.8v0.8h-0.8zM454.14 614.12h0.8v0.8h-0.8zM448.43 614.99h0.8v0.8h-0.8zM452.88 612.89h0.8v0.8h-0.8zM458.84 614.87h0.8v0.8h-0.8zM449.72 611.78h0.8v0.8h-0.8zM453.47 615.29h0.8v0.8h-0.8zM444.5 615.98h0.8v0.8h-0.8zM442.47 614.79h0.8v0.8h-0.8zM448.63 613.34h0.8v0.8h-0.8zM450.54 608.51h0.8v0.8h-0.8zM449.63 612.37h0.8v0.8h-0.8zM459.34 616.16h0.8v0.8h-0.8zM455.95 612.07h0.8v0.8h-0.8zM462.2 612.41h0.8v0.8h-0.8zM453.49 613.07h0.8v0.8h-0.8zM456.31 611.39h0.8v0.8h-0.8zM451.34 615.51h0.8v0.8h-0.8zM456.93 613.71h0.8v0.8h-0.8zM445.45 613.19h0.8v0.8h-0.8zM453.14 613.16h0.8v0.8h-0.8zM455.89 613.15h0.8v0.8h-0.8zM458.95 610h0.8v0.8h-0.8zM458.12 615.34h0.8v0.8h-0.8zM450.94 615.19h0.8v0.8h-0.8zM446.66 617.66h0.8v0.8h-0.8zM458 614.87h0.8v0.8h-0.8zM455.56 610.34h0.8v0.8h-0.8zM452 609.31h0.8v0.8h-0.8zM456.78 612.5h0.8v0.8h-0.8zM458.51 615.03h0.8v0.8h-0.8zM450.4 613.7h0.8v0.8h-0.8zM454.64 611.01h0.8v0.8h-0.8zM457.6 616.54h0.8v0.8h-0.8zM461.2 612.64h0.8v0.8h-0.8z" fill="#111" fill-opacity="0.22"/>
<path d="M445.5 609.51h0.8v0.8h-0.8zM455.61 612.57h0.8v0.8h-0.8zM454.47 611.16h0.8v0.8h-0.8zM446.84 616.16h0.8v0.8h-0.8zM454.3 612.99h0.8v0.8h-0.8zM442.6 612.32h0.8v0.8h-0.8zM453.48 614.41h0.8v0.8h-0.8zM457.78 614.36h0.8v0.8h-0.8zM459.96 611.09h0.8v0.8h-0.8zM460.55 612.81h0.8v0.8h-0.8zM461.44 614.07h0.8v0.8h-0.8zM452.64 616.58h0.8v0.8h-0.8zM450.9 613.29h0.8v0.8h-0.8zM452.41 614.12h0.8v0.8h-0.8zM459.07 613.93h0.8v0.8h-0.8zM451.73 614.67h0.8v0.8h-0.8zM443.87 614.34h0.8v0.8h-0.8zM460.33 612.5h0.8v0.8h-0.8zM450.22 613.33h0.8v0.8h-0.8zM460.12 613.66h0.8v0.8h-0.8zM452.88 612.11h0.8v0.8h-0.8zM455.09 612.42h0.8v0.8h-0.8zM452.61 617.95h0.8v0.8h-0.8zM450.87 615.63h0.8v0.8h-0.8zM461.95 612.81h0.8v0.8h-0.8zM458.08 608.68h0.8v0.8h-0.8zM447.73 614.62h0.8v0.8h-0.8zM456.97 610.04h0.8v0.8h-0.8zM456.55 612.13h0.8v0.8h-0.8zM444.65 608.84h0.8v0.8h-0.8zM454.39 616.89h0.8v0.8h-0.8zM447.3 613.42h0.8v0.8h-0.8zM451.11 612.33h0.8v0.8h-0.8zM454.37 614.89h0.8v0.8h-0.8zM454.02 615.67h0.8v0.8h-0.8zM461.24 607.06h0.8v0.8h-0.8zM448.94 615.33h0.8v0.8h-0.8zM459.43 614.05h0.8v0.8h-0.8zM446.43 613.79h0.8v0.8h-0.8zM450.77 614.76h0.8v0.8h-0.8zM448.99 610.89h0.8v0.8h-0.8zM456.3 613.52h0.8v0.8h-0.8z" fill="#111" fill-opacity="0.22"/>
<path d="M446.65 610.69h0.8v0.8h-0.8zM450.95 616.95h0.8v0.8h-0.8zM458.68 612.58h0.8v0.8h-0.8zM452.71 614.89h0.8v0.8h-0.8zM446.7 611.7h0.8v0.8h-0.8zM447.5 609.95h0.8v0.8h-0.8zM448.69 611.55h0.8v0.8h-0.8zM458.09 609.03h0.8v0.8h-0.8zM458.5 611.67h0.8v0.8h-0.8zM455.34 615.12h0.8v0.8h-0.8zM453.36 614.9h0.8v0.8h-0.8zM453.64 613.24h0.8v0.8h-0.8zM441.57 613.89h0.8v0.8h-0.8zM452.16 611.54h0.8v0.8h-0.8zM454.85 613.18h0.8v0.8h-0.8zM455.78 609.69h0.8v0.8h-0.8zM448.87 616.61h0.8v0.8h-0.8zM447.2 614.13h0.8v0.8h-0.8zM450.88 614.9h0.8v0.8h-0.8zM451.93 612.98h0.8v0.8h-0.8zM444.77 615.7h0.8v0.8h-0.8zM454.49 614.6h0.8v0.8h-0.8zM444.71 613.29h0.8v0.8h-0.8zM461.13 615.52h0.8v0.8h-0.8zM447.17 609.51h0.8v0.8h-0.8zM454.2 616.77h0.8v0.8h-0.8zM450.31 613.07h0.8v0.8h-0.8zM446.68 610.65h0.8v0.8h-0.8zM461.31 612.14h0.8v0.8h-0.8zM451.72 612.19h0.8v0.8h-0.8zM461.2 615.44h0.8v0.8h-0.8zM446.82 617.06h0.8v0.8h-0.8zM458.61 617.01h0.8v0.8h-0.8zM460.73 611.61h0.8v0.8h-0.8zM449.73 614.2h0.8v0.8h-0.8zM458.72 612.22h0.8v0.8h-0.8zM455.97 612.99h0.8v0.8h-0.8zM460.45 614.02h0.8v0.8h-0.8zM455.48 617.14h0.8v0.8h-0.8zM458.8 612.88h0.8v0.8h-0.8zM452.06 614.22h0.8v0.8h-0.8zM452.38 610.05h0.8v0.8h-0.8z" fill="#111" fill-opacity="0.22"/>
<path d="M461.54 616.58h0.8v0.8h-0.8zM447.01 611.58h0.8v0.8h-0.8zM451.9 614.78h0.8v0.8h-0.8zM453.75 613.06h0.8v0.8h-0.8zM457.37 614.23h0.8v0.8h-0.8zM458.43 613.78h0.8v0.8h-0.8zM447.61 614.17h0.8v0.8h-0.8zM449.78 614.76h0.8v0.8h-0.8zM449.27 610.28h0.8v0.8h-0.8zM447.67 609.68h0.8v0.8h-0.8zM444.8 614.44h0.8v0.8h-0.8zM459.64 615.37h0.8v0.8h-0.8zM453.92 615.56h0.8v0.8h-0.8zM447.94 613.13h0.8v0.8h-0.8zM456.62 613.32h0.8v0.8h-0.8zM448.46 614.01h0.8v0.8h-0.8zM454.91 613.12h0.8v0.8h-0.8zM455.37 610.74h0.8v0.8h-0.8zM460.58 612.59h0.8v0.8h-0.8zM456.87 614.03h0.8v0.8h-0.8zM450.86 609.88h0.8v0.8h-0.8zM444.52 611.99h0.8v0.8h-0.8zM459.48 616.94h0.8v0.8h-0.8zM452.24 612.54h0.8v0.8h-0.8zM445.62 612.92h0.8v0.8h-0.8zM456.16 611.82h0.8v0.8h-0.8zM442.82 613.63h0.8v0.8h-0.8zM449.61 613.66h0.8v0.8h-0.8zM452.53 614.73h0.8v0.8h-0.8zM449.52 612.46h0.8v0.8h-0.8zM454.79 610.91h0.8v0.8h-0.8zM460.42 612.14h0.8v0.8h-0.8zM449.63 609.96h0.8v0.8h-0.8zM450.28 612.1h0.8v0.8h-0.8zM460.8 612.82h0.8v0.8h-0.8zM462.83 613.98h0.8v0.8h-0.8zM453.29 608.46h0.8v0.8h-0.8zM451.44 613.55h0.8v0.8h-0.8zM444.93 611.8h0.8v0.8h-0.8zM461.66 609.67h0.8v0.8h-0.8zM451.61 613.46h0.8v0.8h-0.8zM449.19 614.43h0.8v0.8h-0.8z" fill="#111" fill-opacity="0.22"/>
<path d="M459.68 611.79h0.8v0.8h-0.8zM455.41 615.74h0.8v0.8h-0.8zM447.35 613.97h0.8v0.8h-0.8zM461.49 611.63h0.8v0.8h-0.8zM452.85 612.71h0.8v0.8h-0.8zM454.73 615.92h0.8v0.8h-0.8zM461.86 612.05h0.8v0.8h-0.8zM448.19 613.17h0.8v0.8h-0.8zM452.48 614.13h0.8v0.8h-0.8zM460.18 613.75h0.8v0.8h-0.8zM445.18 615.58h0.8v0.8h-0.8zM446.07 614.92h0.8v0.8h-0.8zM458.45 612.62h0.8v0.8h-0.8zM446.31 609.21h0.8v0.8h-0.8zM455.72 610.14h0.8v0.8h-0.8zM457.02 617.23h0.8v0.8h-0.8zM462.11 614.34h0.8v0.8h-0.8zM447.53 612.27h0.8v0.8h-0.8zM457.58 615.53h0.8v0.8h-0.8zM455.14 611.68h0.8v0.8h-0.8zM455.18 615.15h0.8v0.8h-0.8zM459.42 611.72h0.8v0.8h-0.8zM457.92 612.04h0.8v0.8h-0.8zM447.02 614.58h0.8v0.8h-0.8zM461.99 612.85h0.8v0.8h-0.8zM451.24 613.77h0.8v0.8h-0.8zM448.29 615.8h0.8v0.8h-0.8zM457.18 613.14h0.8v0.8h-0.8zM453.65 610.72h0.8v0.8h-0.8zM451.29 614.33h0.8v0.8h-0.8zM448.24 610.81h0.8v0.8h-0.8zM452.69 612.07h0.8v0.8h-0.8zM462.01 616.06h0.8v0.8h-0.8zM450.7 612.82h0.8v0.8h-0.8zM459.37 610.66h0.8v0.8h-0.8zM457.97 616.37h0.8v0.8h-0.8zM457.92 614.19h0.8v0.8h-0.8zM458.27 615.18h0.8v0.8h-0.8zM452.82 614.08h0.8v0.8h-0.8zM456.98 616.18h0.8v0.8h-0.8zM455.49 615.21h0.8v0.8h-0.8zM452.26 615.77h0.8v0.8h-0.8z" fill="#111" fill-opacity="0.22"/>
<ellipse cx="432.4" cy="626" rx="2.4" ry="7.5" fill="#3434d8" fill-opacity="1" filter="url(#bl)"/>
<ellipse cx="436" cy="612.6" rx="6" ry="6" fill="#d812e0" fill-opacity="1" filter="url(#bl)"/>
<ellipse cx="433" cy="616.5" rx="2.5" ry="2.5" fill="#8a2ab0" fill-opacity="0.8" filter="url(#bl)"/>
<path d="M398.62 668.67h0.9v0.9h-0.9zM394.53 667.47h0.9v0.9h-0.9zM380.18 665.38h0.9v0.9h-0.9zM403.42 667.86h0.9v0.9h-0.9zM384.89 663.42h0.9v0.9h-0.9zM398.23 667.43h0.9v0.9h-0.9zM390.65 666.24h0.9v0.9h-0.9zM393.24 666.66h0.9v0.9h-0.9zM391.66 665.62h0.9v0.9h-0.9zM393.23 667.38h0.9v0.9h-0.9zM407.91 662.81h0.9v0.9h-0.9zM398.48 665.49h0.9v0.9h-0.9zM401.84 666.23h0.9v0.9h-0.9zM390.15 670.35h0.9v0.9h-0.9zM394.02 666.84h0.9v0.9h-0.9zM392.59 666.38h0.9v0.9h-0.9zM389.46 666.56h0.9v0.9h-0.9zM393.02 664.2h0.9v0.9h-0.9zM383.06 666.65h0.9v0.9h-0.9zM386.1 659.95h0.9v0.9h-0.9zM389.07 661.32h0.9v0.9h-0.9zM387.09 664.96h0.9v0.9h-0.9z" fill="#555" fill-opacity="0.35"/>
<path d="M391.48 667.15h0.9v0.9h-0.9zM393.07 663.39h0.9v0.9h-0.9zM388.84 665h0.9v0.9h-0.9zM386.12 664.7h0.9v0.9h-0.9zM398.7 663.25h0.9v0.9h-0.9zM397.61 664.61h0.9v0.9h-0.9zM395.51 662.59h0.9v0.9h-0.9zM402.08 661.92h0.9v0.9h-0.9zM389.17 668.39h0.9v0.9h-0.9zM396.13 666.92h0.9v0.9h-0.9zM404.72 670.65h0.9v0.9h-0.9zM395.41 665.99h0.9v0.9h-0.9zM402 664.91h0.9v0.9h-0.9zM404.98 666.26h0.9v0.9h-0.9zM390.95 663.84h0.9v0.9h-0.9zM392.49 665.4h0.9v0.9h-0.9zM398.65 665.41h0.9v0.9h-0.9zM391.53 664.36h0.9v0.9h-0.9zM399.05 664.11h0.9v0.9h-0.9zM395.57 669.37h0.9v0.9h-0.9zM400.96 664.66h0.9v0.9h-0.9zM396.72 664.03h0.9v0.9h-0.9z" fill="#555" fill-opacity="0.35"/>
<path d="M385.26 666.15h0.9v0.9h-0.9zM397.36 668.87h0.9v0.9h-0.9zM400.42 667.5h0.9v0.9h-0.9zM386.68 669.09h0.9v0.9h-0.9zM372.62 665.03h0.9v0.9h-0.9zM410.95 670.58h0.9v0.9h-0.9zM387.27 666.96h0.9v0.9h-0.9zM394.66 662.74h0.9v0.9h-0.9zM405.03 664.77h0.9v0.9h-0.9zM390.39 664.08h0.9v0.9h-0.9zM399.94 667.05h0.9v0.9h-0.9zM384.02 668.01h0.9v0.9h-0.9zM393.53 667.08h0.9v0.9h-0.9zM400.68 664.11h0.9v0.9h-0.9zM397.26 669.26h0.9v0.9h-0.9zM412.16 663.63h0.9v0.9h-0.9zM394.41 667.26h0.9v0.9h-0.9zM381.36 664.02h0.9v0.9h-0.9zM394.74 667.62h0.9v0.9h-0.9zM401.27 665.51h0.9v0.9h-0.9zM397.12 664.96h0.9v0.9h-0.9z" fill="#555" fill-opacity="0.35"/>
<path d="M385.76 666.28h0.9v0.9h-0.9zM403.97 663.28h0.9v0.9h-0.9zM397.72 665.48h0.9v0.9h-0.9zM398.22 663.76h0.9v0.9h-0.9zM401.7 668.27h0.9v0.9h-0.9zM392.61 665.9h0.9v0.9h-0.9zM387.48 664.55h0.9v0.9h-0.9zM403 665.58h0.9v0.9h-0.9zM387.89 667.24h0.9v0.9h-0.9zM405.29 668.4h0.9v0.9h-0.9zM383.61 665.31h0.9v0.9h-0.9zM391.76 663.44h0.9v0.9h-0.9zM388.41 666.01h0.9v0.9h-0.9zM394.96 667.18h0.9v0.9h-0.9zM391.42 667.4h0.9v0.9h-0.9zM391.48 666.55h0.9v0.9h-0.9zM401.98 668.98h0.9v0.9h-0.9zM397.09 664.4h0.9v0.9h-0.9zM395.53 667.05h0.9v0.9h-0.9zM390.45 665.88h0.9v0.9h-0.9zM405.04 665.43h0.9v0.9h-0.9z" fill="#555" fill-opacity="0.35"/>
<path d="M393.48 667.52h0.9v0.9h-0.9zM395.34 667.65h0.9v0.9h-0.9zM389.73 663.42h0.9v0.9h-0.9zM397.6 666.6h0.9v0.9h-0.9zM400.39 664.48h0.9v0.9h-0.9zM390.2 665.51h0.9v0.9h-0.9zM380.79 668.07h0.9v0.9h-0.9zM399.29 665.34h0.9v0.9h-0.9zM381.7 665.73h0.9v0.9h-0.9zM396.97 664.66h0.9v0.9h-0.9zM377.93 665.19h0.9v0.9h-0.9zM392.93 667.48h0.9v0.9h-0.9zM393.59 666.7h0.9v0.9h-0.9zM417.68 665.55h0.9v0.9h-0.9zM392.5 667.26h0.9v0.9h-0.9zM399.59 665.59h0.9v0.9h-0.9zM396.93 668.55h0.9v0.9h-0.9zM392.96 670.93h0.9v0.9h-0.9zM391.41 667.84h0.9v0.9h-0.9zM392.8 665.41h0.9v0.9h-0.9zM397.58 663.67h0.9v0.9h-0.9z" fill="#555" fill-opacity="0.35"/>
<path d="M391.63 664.35h0.9v0.9h-0.9zM414.43 666.23h0.9v0.9h-0.9zM396.73 667.15h0.9v0.9h-0.9zM395.75 666.66h0.9v0.9h-0.9zM395.94 664.85h0.9v0.9h-0.9zM400.4 668.8h0.9v0.9h-0.9zM397.55 665.36h0.9v0.9h-0.9zM406.72 667.77h0.9v0.9h-0.9zM395.12 665.99h0.9v0.9h-0.9zM400.23 662.97h0.9v0.9h-0.9zM396.27 662.09h0.9v0.9h-0.9zM400.88 668.22h0.9v0.9h-0.9zM383.54 663.8h0.9v0.9h-0.9zM394.68 668.05h0.9v0.9h-0.9zM397.69 664.51h0.9v0.9h-0.9zM402.35 665.53h0.9v0.9h-0.9zM403.65 668.59h0.9v0.9h-0.9zM394.87 668.25h0.9v0.9h-0.9zM405.86 664.87h0.9v0.9h-0.9zM396.42 662.71h0.9v0.9h-0.9zM389 665.33h0.9v0.9h-0.9z" fill="#555" fill-opacity="0.35"/>
<path d="M388 662.87h0.9v0.9h-0.9zM396.23 669.17h0.9v0.9h-0.9zM390.87 664.03h0.9v0.9h-0.9zM388.4 663.99h0.9v0.9h-0.9zM388.85 666.8h0.9v0.9h-0.9zM389.44 664.28h0.9v0.9h-0.9zM400.17 669.09h0.9v0.9h-0.9zM389.76 662.62h0.9v0.9h-0.9zM406.06 664.37h0.9v0.9h-0.9zM390.84 665.84h0.9v0.9h-0.9zM390.33 664.02h0.9v0.9h-0.9zM397.92 666.12h0.9v0.9h-0.9zM383.69 665.89h0.9v0.9h-0.9zM401.12 662.46h0.9v0.9h-0.9zM404.42 664.74h0.9v0.9h-0.9zM405.48 663.31h0.9v0.9h-0.9zM397.86 661.33h0.9v0.9h-0.9zM387.78 666.94h0.9v0.9h-0.9zM401.69 664.9h0.9v0.9h-0.9zM401.07 662.62h0.9v0.9h-0.9zM396.9 663.69h0.9v0.9h-0.9z" fill="#555" fill-opacity="0.35"/>
<path d="M405.99 662.42h0.9v0.9h-0.9zM384.22 665.37h0.9v0.9h-0.9zM386.84 667.26h0.9v0.9h-0.9zM398.71 670.21h0.9v0.9h-0.9zM384.69 667.88h0.9v0.9h-0.9zM384.45 665.77h0.9v0.9h-0.9zM405.71 665.15h0.9v0.9h-0.9zM398.33 667.23h0.9v0.9h-0.9zM399.54 666.44h0.9v0.9h-0.9zM390.1 662.06h0.9v0.9h-0.9zM404.73 666.37h0.9v0.9h-0.9zM392.32 663.87h0.9v0.9h-0.9zM387.85 672.02h0.9v0.9h-0.9zM403.25 666.46h0.9v0.9h-0.9zM378.54 664.97h0.9v0.9h-0.9zM397.9 667.47h0.9v0.9h-0.9zM404.5 667.01h0.9v0.9h-0.9zM390.35 665.79h0.9v0.9h-0.9zM397.42 668.44h0.9v0.9h-0.9zM407.9 667.72h0.9v0.9h-0.9zM396.05 669.31h0.9v0.9h-0.9z" fill="#555" fill-opacity="0.35"/>
<ellipse cx="376.2" cy="686" rx="2.6" ry="10" fill="#3a3ad0" fill-opacity="1" filter="url(#bl)"/>
<ellipse cx="376.2" cy="686" rx="1.2" ry="6" fill="#8a8ae0" fill-opacity="0.9" filter="url(#bl)"/>
<ellipse cx="376" cy="673.5" rx="1.8" ry="8.5" fill="#1c6a1c" fill-opacity="1" filter="url(#bl)"/>
<ellipse cx="379" cy="668" rx="1.3" ry="2.5" fill="#e070e0" fill-opacity="0.8" filter="url(#bl)"/>
<ellipse cx="433" cy="671.5" rx="2.2" ry="3.2" fill="#d070e0" fill-opacity="1" filter="url(#bl)"/>
<ellipse cx="432.6" cy="683.5" rx="2.4" ry="7.8" fill="#3838d8" fill-opacity="1" filter="url(#bl)"/>
<rect x="378.7" y="741.3" width="9.6" height="3" fill="#1a6e1a"/>
<rect x="378.7" y="748.5" width="9.6" height="2.8" fill="#f2f040"/>
<rect x="378.7" y="755.5" width="9.6" height="3" fill="#2233cc"/>
<rect x="415.2" y="741" width="9" height="3" fill="#8a3ec4"/>
<rect x="415.2" y="748.3" width="9" height="3" fill="#111"/>
<text x="389.8" y="744.9" font-size="5.3" font-weight="bold" text-anchor="start" fill="#111">NK cells</text>
<text x="391.2" y="752.3" font-size="5.3" font-weight="bold" text-anchor="start" fill="#111">B cells</text>
<text x="391.5" y="759.6" font-size="5.3" font-weight="bold" text-anchor="start" fill="#111">T cells</text>
<text x="426.2" y="744.2" font-size="5.3" font-weight="bold" text-anchor="start" fill="#111">Monocytes</text>
<text x="427.3" y="751.9" font-size="5.3" font-weight="bold" text-anchor="start" fill="#111">MM cells</text>
</svg>
</body></html>
